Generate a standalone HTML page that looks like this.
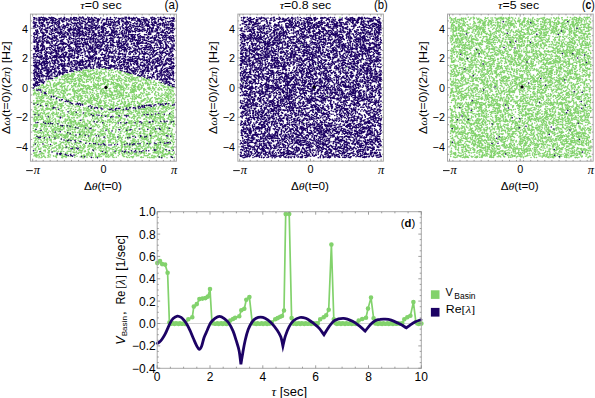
<!DOCTYPE html>
<html><head><meta charset="utf-8"><style>
html,body{margin:0;padding:0;background:#fff;}
svg{display:block;}
text{font-family:"Liberation Sans",sans-serif;fill:#000;}
.t10{font-size:10.8px}.t11{font-size:11px}.t12{font-size:12px}.t7{font-size:7.6px}.t8{font-size:8px}.t85{font-size:8.5px}.t125{font-size:12.5px}
.gi{font-family:"Liberation Serif",serif;font-style:italic}
</style></head><body>
<svg width="595" height="398" viewBox="0 0 595 398">
<rect width="595" height="398" fill="#fff"/>
<path fill="none" stroke="#82d26c" stroke-width="1.6" stroke-linecap="round" transform="scale(.25)" d="M371 277h0m13 0h0m15-2h0m0 0h0m8 1h0m5 2h0m5-1h0m2-3h0m4 4h0m3-2h0m17 1h0m-145 9h0m15-1h0m4 0h0m1 1h0m3-1h0m10 2h0m1-7h0m2 2h0m1 5h0m5-6h0m4 0h0m4-1h0m2 1h0m1 3h0m3-4h0m1 6h0m3 1h0m3-2h0m0-5h0m0 6h0m6-3h0m3-3h0m5 3h0m11 2h0m2 2h0m2-7h0m14 4h0m1 2h0m18-2h0m0 0h0m14-2h0m0 1h0m8-1h0m3-1h0m3-1h0m11 7h0m1 0h0m6-4h0m10 0h0m6 3h0m2 0h0m-199 7h0m5 2h0m2-2h0m4-5h0m8 1h0m13 2h0m0-3h0m7 2h0m2-1h0m0 4h0m7-3h0m0 3h0m5 1h0m1-3h0m1-2h0m10-1h0m9 7h0m7 0h0m4-1h0m4-4h0m3 4h0m5-5h0m1-1h0m3 6h0m7-5h0m1 6h0m3-6h0m4 3h0m8-1h0m2 1h0m4-1h0m7-3h0m9 2h0m11-1h0m8 1h0m21-1h0m0-1h0m3 4h0m1-1h0m3 4h0m0-6h0m1 0h0m1 6h0m1-7h0m14 3h0m4 3h0m2-3h0m7 2h0m2 1h0m5 1h0m-264 6h0m1-1h0m1 0h0m3 3h0m4-4h0m2 1h0m5-2h0m1 1h0m1-3h0m4 1h0m8 4h0m3-3h0m0-2h0m2 4h0m2 2h0m4-3h0m0-1h0m2 2h0m0-4h0m2 1h0m12 4h0m5-3h0m5 2h0m4 2h0m5-1h0m5-3h0m1 0h0m1 2h0m3-3h0m2 4h0m1 0h0m1 0h0m1-4h0m4 6h0m6-6h0m1 4h0m6-3h0m1 1h0m0-2h0m4 1h0m9 4h0m1-1h0m7-4h0m1 0h0m4 0h0m8 0h0m2 6h0m0-7h0m3 7h0m5-7h0m11 1h0m6 6h0m10-6h0m0-1h0m1 3h0m5-3h0m1 7h0m8-3h0m7 3h0m1-1h0m8-3h0m1 0h0m22 1h0m2 2h0m5-2h0m12-2h0m0 0h0m2-1h0m0 2h0m4 1h0m3 1h0m3-4h0m1 1h0m7 0h0m-303 11h0m5-1h0m0 0h0m1 0h0m16-1h0m2 4h0m0-5h0m2-1h0m6 3h0m2 2h0m2-5h0m1 0h0m7 5h0m1-6h0m1 3h0m2 0h0m0 2h0m4-5h0m3 0h0m0 2h0m0 0h0m5-1h0m3 3h0m1-4h0m1 5h0m2 2h0m2-5h0m17 4h0m5-5h0m8-1h0m0 2h0m0-2h0m2 5h0m0-5h0m11 0h0m2 1h0m6 2h0m1-3h0m3 0h0m2 7h0m1-2h0m0-3h0m0-1h0m3 1h0m4-2h0m3 7h0m2-6h0m6 6h0m1 0h0m0-2h0m9-4h0m0 3h0m8 3h0m0-1h0m4 1h0m3-5h0m2 5h0m13 0h0m4 0h0m3-3h0m2 0h0m4-1h0m12-3h0m11 6h0m4-1h0m4-4h0m4 4h0m0-5h0m8 1h0m9-1h0m2 3h0m0-1h0m1-1h0m3 3h0m18 2h0m3-3h0m1-1h0m5 3h0m11 1h0m5-5h0m0 0h0m4 4h0m0 0h0m3-5h0m4 7h0m3 0h0m8-1h0m4 0h0m4-3h0m3-3h0m2 3h0m8 2h0m11 2h0m-369 8h0m12-6h0m8 0h0m10 4h0m5 1h0m8 0h0m2 1h0m6-1h0m3-4h0m3 2h0m1-3h0m1 4h0m5 1h0m2-5h0m0 1h0m5 1h0m2 3h0m1 0h0m3-2h0m3 2h0m2-2h0m3 3h0m3-2h0m4-3h0m2 1h0m2-2h0m8 3h0m2 3h0m3-7h0m1 3h0m2 2h0m3-3h0m3 4h0m7-6h0m5 4h0m8 3h0m0-1h0m6 0h0m5-1h0m5 2h0m4-4h0m0-3h0m7 2h0m1 4h0m4-6h0m8 2h0m9 2h0m0-2h0m4-2h0m1 3h0m2 0h0m9 3h0m2-5h0m1 4h0m1 1h0m2-2h0m4 1h0m1 2h0m1-3h0m6 3h0m10-3h0m5 2h0m3-4h0m3 4h0m7-2h0m7 2h0m6 0h0m2-6h0m4 3h0m1 2h0m5-4h0m4 3h0m6 2h0m10-3h0m3 2h0m0 0h0m7-5h0m2 1h0m4 2h0m0-2h0m5 5h0m2-1h0m2 1h0m0-1h0m1-5h0m2 2h0m2 2h0m1 3h0m3-3h0m7 0h0m1-4h0m8 4h0m15 0h0m6 0h0m3-1h0m1 2h0m8-4h0m6 4h0m0-1h0m3 2h0m-405 9h0m2-1h0m3-2h0m4 3h0m13-5h0m13-1h0m14 3h0m19-4h0m3 5h0m8-4h0m0 3h0m2 3h0m6-1h0m8 0h0m1-6h0m4 6h0m8-1h0m2 1h0m2-1h0m1-4h0m2 1h0m8-2h0m3 3h0m3 4h0m1-5h0m2 4h0m6-3h0m2 1h0m0-4h0m7 7h0m10-6h0m0 3h0m2 2h0m5 0h0m7-5h0m5 6h0m8-4h0m10-3h0m6 2h0m2 2h0m1-2h0m0 1h0m2 3h0m1 0h0m6-4h0m12-1h0m0 2h0m0-1h0m2 4h0m0-2h0m8-1h0m1-3h0m6 1h0m2 4h0m0 0h0m1-5h0m1 1h0m2 5h0m9 1h0m8-5h0m14-2h0m1 3h0m3-2h0m1 5h0m7-4h0m0 0h0m2 1h0m6 0h0m11-1h0m3 2h0m0 2h0m3-3h0m2 2h0m1 0h0m7-5h0m1 2h0m2 3h0m3 2h0m5-4h0m3 0h0m11-2h0m5 0h0m9 1h0m1 2h0m0-3h0m3 3h0m6 2h0m1-4h0m9-2h0m8 2h0m2-2h0m2 7h0m0-7h0m1 2h0m10 1h0m3-3h0m4 4h0m13 0h0m1 3h0m1-3h0m-417 8h0m0 1h0m16 0h0m2-2h0m6 4h0m6 0h0m1-5h0m2 4h0m3-4h0m0 3h0m0-3h0m6 3h0m1-3h0m8 5h0m1-2h0m0 0h0m3 1h0m3-1h0m1-5h0m8 1h0m3 1h0m6 1h0m2 4h0m5-2h0m2-5h0m9 5h0m0 2h0m2-1h0m4 1h0m5-3h0m10 3h0m0-3h0m2 1h0m1 1h0m13-5h0m3 0h0m3 1h0m8-1h0m19 1h0m11 2h0m0-3h0m6 6h0m10 0h0m0-2h0m11 2h0m5 0h0m7-1h0m2-4h0m0 5h0m2-1h0m3-4h0m7-2h0m3 6h0m13 1h0m1-5h0m1 5h0m1-5h0m5 5h0m0-2h0m1-4h0m6 1h0m3 5h0m3-1h0m4 1h0m5 0h0m9-6h0m2 6h0m10-4h0m24-3h0m0 0h0m11 5h0m4 0h0m3-1h0m4-3h0m5 5h0m1-4h0m22 1h0m1 3h0m9-1h0m2 2h0m0-4h0m3 2h0m6 0h0m0-4h0m11 1h0m2 0h0m9 0h0m10 2h0m3 2h0m9-4h0m3-1h0m2 3h0m1 0h0m2 0h0m9 2h0m-485 7h0m3-4h0m2 6h0m0-3h0m15-3h0m1 4h0m2 0h0m5 2h0m7-3h0m0-3h0m12 3h0m0-3h0m4 6h0m0 0h0m3-3h0m0 1h0m5-3h0m1 4h0m3-5h0m5 1h0m10 5h0m2-6h0m2 0h0m11 6h0m13-1h0m14 0h0m7 1h0m2 0h0m2-5h0m2 2h0m4-2h0m0-2h0m8 7h0m3-1h0m0-4h0m3 5h0m6-6h0m2 5h0m1-1h0m4 2h0m0-2h0m2-2h0m5 3h0m2 1h0m11-2h0m3 1h0m2 1h0m17-4h0m2 4h0m0-5h0m5 3h0m6-2h0m2 3h0m1-2h0m0-2h0m4-2h0m1 4h0m1 2h0m3 0h0m4 1h0m2-3h0m0-3h0m4-1h0m3 1h0m7 0h0m8 4h0m3-1h0m1-3h0m1 0h0m3 0h0m8 1h0m1 0h0m1-1h0m9 2h0m2-1h0m1 1h0m10 2h0m4-2h0m2-1h0m0 4h0m2-4h0m0 0h0m3 5h0m0-2h0m0-2h0m0 0h0m2 0h0m4 4h0m4-7h0m10 0h0m5 1h0m1 5h0m1-1h0m0-5h0m3 4h0m3 0h0m1 0h0m3-3h0m0 3h0m2-1h0m13 1h0m3 2h0m6 1h0m1 0h0m0-2h0m2-3h0m0 2h0m15 0h0m0-2h0m2 0h0m3-2h0m2 3h0m0 1h0m5 3h0m5 0h0m0-6h0m17 0h0m1 5h0m1-6h0m0 2h0m3-2h0m3 4h0m6-4h0m9 2h0m6 1h0m0 2h0m3-3h0m3 3h0m9 0h0m10-1h0m2 1h0m2 1h0m5 1h0m6-7h0m12 5h0m-524 4h0m10 0h0m7 6h0m0-7h0m8 7h0m0-1h0m2 0h0m1-3h0m0 1h0m3 0h0m2 1h0m4-4h0m8 5h0m10-6h0m3 7h0m1-1h0m8-6h0m1 4h0m2-1h0m7-2h0m17-1h0m0 3h0m3-1h0m4-1h0m0 6h0m1-1h0m4-5h0m5 3h0m1-4h0m11 3h0m17 2h0m3-2h0m12-2h0m2 3h0m7-1h0m7-1h0m15 0h0m5-2h0m4 2h0m1-2h0m0 7h0m3-7h0m5 6h0m5-4h0m1 5h0m3-4h0m6 0h0m8-1h0m3-2h0m3 5h0m1-3h0m1 3h0m2-2h0m0 2h0m1-1h0m0 2h0m8 0h0m3-5h0m29 0h0m2-1h0m2 5h0m0 1h0m3-6h0m21 4h0m2 3h0m1-2h0m4-4h0m3 0h0m0 6h0m3-5h0m3 3h0m0-4h0m4-1h0m6 6h0m1-4h0m3 3h0m2-2h0m2-3h0m1 6h0m3 0h0m1-2h0m0-4h0m0 1h0m14 4h0m1-3h0m1 2h0m16 2h0m4-6h0m6 0h0m0 6h0m4-4h0m0 4h0m3-6h0m1 2h0m7 1h0m0 4h0m4 0h0m0-1h0m0-6h0m0 1h0m5 3h0m7 3h0m2-4h0m2 4h0m26-1h0m1 0h0m3-2h0m12-1h0m0 3h0m1 0h0m12 0h0m0-1h0m14 1h0m11-6h0m5 7h0m2-3h0m1 0h0m2-2h0m2 3h0m7-1h0m3 1h0m2 2h0m3-4h0m6-3h0m1 5h0m2 2h0m1-3h0m3 1h0m3 2h0m3-4h0m-557 11h0m9-4h0m7-2h0m1 3h0m6-2h0m14-1h0m6 7h0m0 0h0m5-5h0m2-1h0m9 5h0m0-1h0m8 1h0m2 0h0m0-1h0m9 2h0m6-5h0m4-2h0m1 4h0m2 1h0m3 1h0m6 1h0m1-1h0m9-2h0m11-3h0m2 3h0m2 2h0m5-5h0m0 6h0m10-1h0m4-2h0m9 1h0m4-4h0m1 6h0m17-3h0m9 2h0m1-4h0m4 1h0m0 2h0m3 1h0m2-3h0m4-3h0m8 1h0m1 5h0m1 0h0m1-3h0m1 3h0m0-3h0m2-1h0m4-1h0m4 5h0m1-6h0m2 3h0m4 4h0m4-1h0m1 0h0m0 0h0m1-3h0m5-2h0m5-1h0m6 4h0m1 0h0m5 0h0m5-1h0m4-3h0m7 5h0m0-1h0m4-2h0m8-2h0m3 2h0m13 0h0m0 1h0m6-2h0m17 1h0m6 0h0m3 5h0m14-6h0m1 3h0m4 3h0m4-1h0m2 1h0m0-2h0m1-3h0m2-2h0m6 3h0m1 1h0m8 1h0m3-5h0m7 7h0m5-6h0m1 4h0m3-1h0m5 2h0m2 0h0m3-5h0m11 4h0m1-1h0m4 2h0m1 0h0m3-1h0m4-2h0m10 0h0m0 3h0m3-4h0m2 5h0m3 0h0m7-7h0m4 4h0m3-4h0m1 6h0m3-3h0m0-2h0m2 2h0m8 0h0m4-2h0m3 4h0m1-1h0m13 3h0m1-4h0m2 2h0m8-2h0m2 3h0m0-1h0m1-2h0m13 3h0m0 1h0m9-1h0m5-2h0m3 0h0m7 3h0m9-6h0m-558 8h0m1 1h0m2-1h0m8 2h0m7 3h0m17-5h0m3 5h0m11-6h0m2 6h0m10 0h0m1-1h0m1-5h0m6 4h0m3-2h0m0 4h0m0-4h0m4 1h0m1-3h0m4 4h0m6 3h0m4-3h0m2-4h0m5 6h0m14-3h0m5-1h0m1-1h0m3 6h0m0-2h0m2 1h0m0-2h0m1-3h0m8 2h0m2-1h0m2 0h0m1 0h0m8-2h0m12 4h0m0-4h0m1 3h0m4 3h0m2-3h0m2 2h0m2 0h0m1-2h0m5-2h0m3 0h0m1 5h0m2 0h0m1 0h0m2-2h0m2-4h0m3 1h0m2-1h0m7 6h0m0-3h0m1 0h0m4 3h0m0 1h0m3-2h0m1 1h0m8-2h0m12 3h0m11-5h0m2 1h0m11-1h0m4 5h0m14-3h0m0 1h0m2-5h0m1 0h0m1 6h0m1-5h0m7 0h0m2 3h0m8-4h0m1 3h0m3 0h0m8-2h0m3 4h0m0-2h0m1-2h0m2 3h0m15-2h0m0 5h0m1-6h0m1 4h0m2-1h0m5 1h0m0-4h0m2 1h0m0-2h0m7 7h0m1-6h0m2 6h0m5-7h0m12 5h0m3-4h0m25 3h0m4 0h0m1 1h0m1-5h0m0 4h0m4-4h0m0 5h0m3 2h0m2-6h0m1 3h0m3-4h0m1 2h0m1-2h0m0 4h0m1 1h0m12-3h0m18 1h0m2-2h0m10 5h0m18-4h0m5 5h0m6-6h0m7 5h0m14-6h0m11 1h0m19 0h0m1 0h0m10 1h0m1-2h0m4 6h0m5-5h0m2 1h0m2 4h0m0-5h0m1 6h0m-558 7h0m2-3h0m2-3h0m1 7h0m2-4h0m7 4h0m7-4h0m0 0h0m13 1h0m9-4h0m16 7h0m1-7h0m1 3h0m2 0h0m0-1h0m0-1h0m2 3h0m2 2h0m1-2h0m5 0h0m5-1h0m1 3h0m1-2h0m1 0h0m13 1h0m4-5h0m2 7h0m6-7h0m3 1h0m4 3h0m1 2h0m3 1h0m4-2h0m5-5h0m1 4h0m12 3h0m6 0h0m16-3h0m2 0h0m4-4h0m4 5h0m1-3h0m2 4h0m11 1h0m8-7h0m4 6h0m0 0h0m5-2h0m0 1h0m0-1h0m6 1h0m4-5h0m2 3h0m1-2h0m1 3h0m11-1h0m8-1h0m7 3h0m13 2h0m1 0h0m3 0h0m8-4h0m0 3h0m7-5h0m1 5h0m2-5h0m3 2h0m2-3h0m1 5h0m4-1h0m2-3h0m4 5h0m1 1h0m11-7h0m6 3h0m0-3h0m4 2h0m0 1h0m14-3h0m6 0h0m1 7h0m1-1h0m2 1h0m5-3h0m4 3h0m1-6h0m2 6h0m7 0h0m0-5h0m9 1h0m4 2h0m1-2h0m1-1h0m12 1h0m3-1h0m1-1h0m2 2h0m5-2h0m5 3h0m28 0h0m0-2h0m5 3h0m3 2h0m4-7h0m1 3h0m17 1h0m2-2h0m12 0h0m11 5h0m3-4h0m1-1h0m9 0h0m3 5h0m13-2h0m12 0h0m2-5h0m1 2h0m1 1h0m5 2h0m1 1h0m5-6h0m4 7h0m3-4h0m0 3h0m2 1h0m0-6h0m13 6h0m-563 3h0m1 2h0m10-4h0m1 7h0m7-6h0m4-1h0m10 2h0m2-2h0m3 7h0m6-1h0m0-4h0m2 5h0m4-3h0m0-2h0m1-1h0m0 6h0m2 0h0m2 0h0m11-1h0m13 1h0m0-5h0m11 4h0m14-6h0m3 4h0m14-1h0m2 2h0m12-3h0m0 3h0m5-5h0m5 0h0m1 2h0m3 0h0m15 0h0m0-1h0m1-1h0m0 6h0m8 0h0m9-5h0m6 4h0m7 2h0m14-2h0m1 0h0m13-5h0m5 7h0m5-6h0m1 2h0m4 0h0m1 3h0m12-4h0m0-1h0m8 5h0m11-5h0m8 3h0m8 2h0m2 0h0m2-6h0m0 6h0m6-1h0m6-5h0m3 2h0m2 2h0m3-2h0m1 4h0m3-5h0m1 0h0m2 4h0m3 0h0m2 2h0m4-4h0m2-1h0m7-1h0m7 3h0m5 1h0m5-1h0m0-3h0m4 4h0m2 1h0m2-2h0m1 2h0m9 0h0m3 1h0m7-7h0m1 5h0m1-2h0m13 1h0m7 0h0m1-2h0m7 4h0m1-1h0m1-2h0m10 1h0m1 3h0m2-4h0m3-2h0m9-1h0m13 0h0m1 5h0m2-1h0m1-4h0m0 2h0m2 2h0m3-2h0m6-1h0m1 0h0m19 2h0m5 2h0m9-2h0m3 3h0m9-2h0m4 1h0m0 0h0m4-2h0m6 3h0m1-3h0m6 1h0m5 3h0m0-2h0m3-5h0m1 4h0m13-3h0m5 4h0m2-2h0m-544 9h0m4-4h0m2 4h0m6-1h0m1 3h0m4-6h0m1 3h0m6 2h0m20-2h0m9 3h0m3-2h0m11-3h0m1-1h0m3 0h0m6 6h0m1-1h0m2-1h0m2-1h0m1-1h0m1 4h0m4-1h0m4 2h0m0-1h0m7-1h0m2-5h0m2 5h0m0-5h0m1 0h0m4 0h0m3 6h0m26-2h0m5 2h0m1-4h0m3 0h0m3 2h0m8 1h0m2-2h0m0-1h0m1 0h0m2 2h0m1 3h0m1-7h0m3 0h0m0 0h0m4 3h0m3 0h0m1-3h0m2 7h0m9-7h0m5 4h0m1 2h0m7 0h0m0-6h0m12 5h0m4 1h0m5-4h0m5 4h0m2-2h0m8-4h0m3 0h0m1 3h0m2 3h0m1-2h0m3 1h0m10-1h0m2-3h0m12 0h0m1 6h0m1-5h0m8 1h0m4 1h0m0-2h0m1 1h0m1-1h0m1-1h0m6-1h0m1 5h0m1-2h0m1 2h0m8 1h0m11-5h0m2 3h0m3-4h0m5 7h0m3-5h0m1 2h0m1 1h0m5-5h0m6 7h0m0 0h0m0 0h0m0-3h0m10 3h0m2-2h0m5-2h0m3-1h0m2 0h0m5-1h0m11 1h0m2 3h0m5-5h0m1 1h0m2 1h0m0 2h0m0 0h0m9-2h0m2 2h0m1 0h0m2 1h0m0-4h0m3 6h0m4-1h0m6-6h0m9 0h0m15 6h0m0-2h0m19 2h0m10 1h0m7-7h0m16 2h0m0 0h0m1-1h0m2 2h0m6 4h0m13-3h0m0 1h0m3-5h0m1 5h0m2 2h0m1-5h0m2 2h0m8 0h0m0-3h0m2-1h0m3 5h0m6-5h0m-547 9h0m0-1h0m3 3h0m3 0h0m8-1h0m3 3h0m4 2h0m0-7h0m5 2h0m3-2h0m13 1h0m5-1h0m5 4h0m4 2h0m3-4h0m1 2h0m7 3h0m2-1h0m10 1h0m32-6h0m5 5h0m1-1h0m4-1h0m8 2h0m7-4h0m2-1h0m10 1h0m2 0h0m4 4h0m12-1h0m0-2h0m11 0h0m1 4h0m1-2h0m2-4h0m4 0h0m22 0h0m1 6h0m6-3h0m1 3h0m1-1h0m0-4h0m5-1h0m0 2h0m8 1h0m0 0h0m0-4h0m1 3h0m0 3h0m4-4h0m0 1h0m5-1h0m6 2h0m0 1h0m0-3h0m2-1h0m9 6h0m1-3h0m15-1h0m5-3h0m3 0h0m12 7h0m12-5h0m3 4h0m3-2h0m0 1h0m5-1h0m7-2h0m1 0h0m22 0h0m5 1h0m1 1h0m2 3h0m13-1h0m11-5h0m6 3h0m1-2h0m2 3h0m1-4h0m6 5h0m2-4h0m3-2h0m1 3h0m1-3h0m0 1h0m0 1h0m17-1h0m3-1h0m9 6h0m5-4h0m4 1h0m10 1h0m0-4h0m7 7h0m1-3h0m4-3h0m17-1h0m1 7h0m1-6h0m3 2h0m2 0h0m1 3h0m1-2h0m2-2h0m3-2h0m1 2h0m3 0h0m5 4h0m1-2h0m12-2h0m2 1h0m3 3h0m10-3h0m2-1h0m8 2h0m9 0h0m3-2h0m1 0h0m-561 9h0m12 1h0m1-2h0m3 1h0m5 0h0m5 1h0m1-3h0m2 3h0m1-3h0m1 2h0m3 0h0m2 2h0m4-3h0m3 3h0m1 1h0m9 0h0m3-2h0m12-3h0m1 0h0m21 6h0m1-7h0m0 7h0m14-4h0m3 1h0m26-1h0m3-1h0m0-2h0m7 5h0m0-2h0m5 2h0m0-3h0m1-2h0m5 3h0m11 3h0m7 0h0m6-4h0m3-1h0m2-1h0m4 3h0m1 2h0m7-1h0m3 1h0m5-5h0m7 3h0m1 2h0m3-1h0m1 2h0m5-2h0m1 0h0m7-1h0m0 4h0m6-4h0m9-2h0m2 0h0m5 1h0m2 4h0m2 0h0m10-2h0m0-2h0m0 2h0m1-2h0m5 2h0m7-1h0m0 0h0m4 2h0m7-3h0m13 0h0m1 1h0m6-3h0m1 6h0m2 0h0m24 0h0m4-1h0m2-5h0m1 3h0m8-3h0m1 6h0m11 1h0m4 0h0m10-7h0m1 7h0m1-2h0m12 2h0m2-1h0m2-2h0m3 3h0m4-1h0m2 0h0m11 0h0m14-2h0m3 3h0m0-1h0m1-5h0m2 4h0m4-2h0m5-3h0m9 1h0m1 6h0m6 0h0m4-6h0m0 3h0m0 3h0m1-3h0m2-4h0m6 7h0m1-2h0m18 1h0m3 0h0m10-1h0m3-3h0m5 4h0m1-5h0m1 4h0m3-1h0m8 2h0m10-3h0m3-3h0m4 3h0m6 0h0m2 0h0m6 4h0m1-7h0m3 3h0m-562 10h0m3-1h0m2 1h0m1-1h0m3 1h0m2-3h0m0 3h0m0 0h0m5-5h0m3 7h0m2-7h0m7 5h0m5-3h0m5-2h0m11 6h0m0-1h0m6 0h0m6-5h0m1 4h0m3 1h0m3 1h0m2-3h0m1 1h0m0-2h0m1 2h0m3-4h0m0 5h0m9-4h0m2 4h0m0-5h0m3 3h0m0 2h0m6-5h0m8 7h0m6 0h0m4-1h0m6-2h0m1-3h0m18-1h0m5 6h0m11 0h0m21-6h0m12 7h0m6-7h0m1 6h0m1-6h0m7 7h0m1-1h0m1-1h0m3-2h0m1-2h0m1 5h0m0-2h0m2 3h0m8-5h0m3 0h0m3-1h0m2 6h0m4-7h0m2 5h0m1-3h0m17 3h0m6 1h0m2 1h0m2-3h0m2-4h0m1 0h0m0 1h0m2 4h0m3-3h0m0 3h0m2-4h0m12 4h0m2-1h0m1 2h0m0-4h0m1 3h0m2-3h0m1-1h0m10 3h0m21-3h0m0-1h0m1 3h0m11 2h0m1 1h0m15 0h0m3 1h0m2-6h0m1 3h0m2-2h0m9 1h0m1 4h0m0-3h0m1-3h0m11 6h0m3-1h0m2-2h0m7-1h0m12 2h0m13-2h0m0 2h0m5-2h0m3 3h0m5-2h0m18 1h0m5-3h0m5-1h0m15 1h0m5 4h0m11-5h0m1 0h0m8-1h0m0 6h0m2-3h0m6 0h0m1 1h0m0 0h0m3 0h0m1 0h0m1-3h0m0-1h0m12 6h0m0-1h0m10-5h0m1 5h0m8 2h0m13-3h0m0-1h0m6 0h0m-558 7h0m8 4h0m1-1h0m16-5h0m0 2h0m6 3h0m14-1h0m7-1h0m0-3h0m1 4h0m2-1h0m0 0h0m0 2h0m11-1h0m5 1h0m1 1h0m3-1h0m3-3h0m6 1h0m7-3h0m4 6h0m7-2h0m4-2h0m4 3h0m2-1h0m5 3h0m8-7h0m6 6h0m10-6h0m4 3h0m8-1h0m4 4h0m11-2h0m1 0h0m6 3h0m1-2h0m27-4h0m28 1h0m1 1h0m2 0h0m1 0h0m8-2h0m1 6h0m9-4h0m3-1h0m4 3h0m5 2h0m0-1h0m3 1h0m5 0h0m9-1h0m1-2h0m0-2h0m4 4h0m0-3h0m5 2h0m12-5h0m3 6h0m2-5h0m4 5h0m3-6h0m0 6h0m2-5h0m0 1h0m6 5h0m2 0h0m6 0h0m0-1h0m1-3h0m4-1h0m8-1h0m13-1h0m3 4h0m1 3h0m7 0h0m0-1h0m4-2h0m5-1h0m3 0h0m2 0h0m0-1h0m6 0h0m9 2h0m1 1h0m5-1h0m1 3h0m10 0h0m1-1h0m3-2h0m1-4h0m3 0h0m0 1h0m7 4h0m0-2h0m7 1h0m11 3h0m1-4h0m14-1h0m10-1h0m32 5h0m2-5h0m0 0h0m3 2h0m3 4h0m21-6h0m3 5h0m8 0h0m2 1h0m7-5h0m-554 10h0m3 3h0m2-3h0m12 0h0m5-4h0m5 0h0m5 1h0m4 2h0m17 4h0m2-7h0m11 2h0m5 4h0m1-2h0m1 1h0m1-4h0m0 0h0m0 1h0m4-1h0m13 5h0m4 0h0m0-1h0m10-4h0m3-1h0m0 4h0m2 0h0m1-4h0m11 7h0m14-6h0m1 0h0m5 0h0m9 2h0m12 1h0m1 1h0m7-2h0m7-1h0m3 1h0m1 2h0m1 1h0m14 0h0m14-2h0m5 2h0m11-3h0m2 3h0m17-6h0m11 0h0m1 6h0m1-3h0m1 1h0m4 0h0m1-4h0m13 4h0m2-3h0m5 4h0m2-1h0m5-4h0m4 0h0m6 5h0m1-2h0m3 4h0m7-1h0m3-2h0m3 0h0m21 0h0m5-1h0m0 4h0m8-3h0m2 2h0m5-6h0m0 2h0m3-1h0m3 1h0m2-1h0m0 1h0m2-2h0m2 7h0m1-2h0m3-5h0m5 1h0m0 2h0m6 0h0m16 0h0m10 0h0m10-2h0m1 1h0m21 4h0m10-6h0m0 7h0m4 0h0m4-1h0m11 0h0m2 0h0m2-4h0m11-1h0m8 6h0m3-4h0m12 0h0m4 2h0m2 2h0m0-6h0m1 0h0m2 4h0m0-5h0m0 7h0m2-5h0m1 2h0m1 1h0m4-1h0m4-3h0m0 0h0m3 4h0m5 2h0m4-7h0m2 3h0m9 1h0m4 1h0m-558 8h0m2-5h0m2 7h0m4-6h0m17 2h0m5 3h0m2-5h0m12 2h0m2-1h0m1 2h0m0 2h0m0-6h0m2 5h0m1-5h0m1 6h0m1-6h0m3 3h0m2 2h0m1-3h0m1 1h0m1 1h0m4 1h0m4-1h0m4 2h0m4-3h0m8 1h0m1 2h0m16-3h0m5-2h0m20 6h0m7-4h0m4-3h0m6 4h0m4-2h0m8 3h0m9 1h0m13 1h0m1-4h0m2 4h0m5 0h0m12-4h0m4-2h0m1-1h0m6 3h0m4-1h0m3 2h0m2 3h0m0-1h0m3 1h0m5-6h0m5 2h0m6-2h0m30 0h0m12-1h0m12 2h0m3 4h0m4 1h0m7-6h0m7 2h0m3-2h0m8 3h0m24 3h0m5 0h0m4-3h0m0-2h0m19 5h0m4-5h0m26 0h0m10 1h0m3 2h0m4-1h0m5 3h0m2-3h0m1 1h0m2-1h0m4 2h0m1-3h0m3 4h0m5-5h0m1 5h0m3-5h0m2 1h0m5 4h0m6-7h0m3 2h0m2 3h0m6-2h0m2 1h0m1-2h0m2-1h0m3 5h0m1-4h0m1 2h0m1-4h0m10 4h0m0-1h0m13 0h0m5 1h0m2 0h0m11 3h0m1-3h0m0 1h0m1-2h0m3-1h0m1 0h0m6 3h0m5-3h0m7 2h0m1-2h0m5-2h0m2 0h0m0 1h0m-561 14h0m0-2h0m13-4h0m5 2h0m0 1h0m2 0h0m0 0h0m4-3h0m9 0h0m7-1h0m1 7h0m5-5h0m23 0h0m23-2h0m11 1h0m6 3h0m5-3h0m1 5h0m3-4h0m26 2h0m5-2h0m3 5h0m8 0h0m5-2h0m4 2h0m8-5h0m5-2h0m7 3h0m1 2h0m10-5h0m6 0h0m6 1h0m1 0h0m3 4h0m0 2h0m2-5h0m4 5h0m5-4h0m3-1h0m10-2h0m1 0h0m2 3h0m0 2h0m1 1h0m4 0h0m10-6h0m2 4h0m12-1h0m12 2h0m7 1h0m3-1h0m10-4h0m2-1h0m8 3h0m1 1h0m3 3h0m3 0h0m0-1h0m5 0h0m2-5h0m2 3h0m2 0h0m5-3h0m3 3h0m8-1h0m8-2h0m4 4h0m6-4h0m9 2h0m4 2h0m1 1h0m1-5h0m5-1h0m1 7h0m3-1h0m10-5h0m1 2h0m7 2h0m0-5h0m4 1h0m1 4h0m9-2h0m11 4h0m7 0h0m6-1h0m2-6h0m3 0h0m2 6h0m9-1h0m3-5h0m3 3h0m2-2h0m1 5h0m4 0h0m3-5h0m4 6h0m6-2h0m6 2h0m9 0h0m3-4h0m2 1h0m6 2h0m8-2h0m5 2h0m5-5h0m2 3h0m19 2h0m6-4h0m-553 7h0m4 6h0m0-3h0m4-2h0m1-2h0m3 5h0m0 2h0m9-1h0m0 1h0m0-3h0m6-1h0m5 4h0m0-1h0m5-5h0m1 2h0m0 4h0m9 0h0m2-1h0m1-1h0m3 2h0m2-1h0m1-4h0m11 4h0m1 1h0m0-1h0m2-1h0m2-5h0m3 6h0m1-3h0m0 0h0m9 3h0m1-6h0m1 2h0m5 5h0m2-4h0m9 3h0m0 0h0m7-2h0m6-1h0m19-3h0m1 6h0m8-3h0m2 4h0m3-2h0m2-2h0m1 4h0m4-2h0m8-1h0m2 3h0m6 0h0m6-7h0m6 3h0m16-1h0m1 1h0m3-1h0m0 4h0m9-1h0m2 2h0m2-1h0m2 0h0m6-1h0m6-1h0m1 2h0m0 0h0m3 0h0m9-5h0m2 6h0m1-6h0m1-1h0m0 1h0m6 3h0m2-4h0m3 4h0m0-3h0m8 6h0m4-4h0m2-1h0m8-2h0m2 2h0m1-2h0m11 2h0m7-1h0m6 0h0m15 4h0m2-2h0m2 0h0m1 4h0m3-5h0m6 2h0m3-3h0m4 5h0m7-6h0m1 6h0m0-4h0m0 0h0m18 5h0m7-3h0m2 1h0m2 2h0m6-4h0m5-1h0m10-2h0m6 6h0m4-6h0m2 4h0m4-1h0m0-3h0m2 7h0m10-5h0m7-1h0m0 3h0m3-4h0m3 7h0m2 0h0m3-5h0m0-1h0m3 1h0m3 2h0m8 0h0m10-3h0m12-1h0m13 7h0m6 0h0m1-2h0m1-2h0m7 0h0m1-2h0m6 2h0m20 2h0m4-3h0m9-1h0m1 6h0m-559 3h0m4 2h0m0-4h0m11 2h0m4 5h0m7-4h0m8 3h0m15-4h0m9 4h0m9-2h0m8-1h0m2 1h0m2 3h0m7-5h0m5-2h0m1 1h0m3 3h0m13-2h0m2 2h0m12-4h0m1 6h0m1-3h0m2 1h0m9-2h0m14 0h0m6 1h0m3 3h0m1-5h0m7 3h0m1 2h0m5-4h0m4 4h0m9-3h0m3 3h0m1-4h0m0 5h0m9-7h0m7 3h0m1-3h0m2 0h0m2 6h0m9-5h0m2 2h0m3 4h0m5-3h0m3-2h0m6 2h0m6 1h0m1-5h0m0 3h0m15 3h0m15-4h0m7 3h0m4-1h0m8 1h0m1 1h0m1-2h0m3-2h0m0 5h0m5-7h0m13 5h0m15-3h0m3-1h0m3 1h0m4 3h0m1-1h0m10 1h0m10-1h0m8-2h0m7-2h0m2 4h0m12-4h0m8 3h0m4 1h0m11-3h0m0 4h0m2-5h0m5 6h0m10 0h0m4-4h0m3-2h0m0 1h0m1 1h0m8 5h0m6-5h0m5-1h0m2 1h0m5 3h0m3 2h0m1-1h0m0-6h0m3 7h0m5-2h0m0-1h0m2-4h0m1 0h0m8 6h0m1-2h0m4-3h0m2 1h0m0-2h0m4 5h0m2-2h0m6 2h0m8-3h0m6 5h0m1-2h0m10 0h0m7-2h0m4 3h0m0-3h0m7-1h0m2-1h0m3 6h0m4 0h0m-556 6h0m0 2h0m3-5h0m3 1h0m2 3h0m3-2h0m5 0h0m6-4h0m1 5h0m2-2h0m2 4h0m4-6h0m2 5h0m0-2h0m11-4h0m2 2h0m10 2h0m3 0h0m1 2h0m4-2h0m10 1h0m16-3h0m3 1h0m2 0h0m3-2h0m1 5h0m1-3h0m2-2h0m9-1h0m1 7h0m2-6h0m6 0h0m12 1h0m0-1h0m1-1h0m5 1h0m1 5h0m9 1h0m10-2h0m1 2h0m11-1h0m3 1h0m4-7h0m3 3h0m16 3h0m0 1h0m2-7h0m6 0h0m1 3h0m5-2h0m22 4h0m1-4h0m3 0h0m5 1h0m9 3h0m2-2h0m13 2h0m3-3h0m0 1h0m1 2h0m5 0h0m8-5h0m9 4h0m2-4h0m0 2h0m5-1h0m7 6h0m0 0h0m6-2h0m12 0h0m3-1h0m1-1h0m2 4h0m1-5h0m4 5h0m2-2h0m1 2h0m8-4h0m4 2h0m29-3h0m3 3h0m11 0h0m3-3h0m2-1h0m5 1h0m3 0h0m11 4h0m2-5h0m3 6h0m7-7h0m5 0h0m13 6h0m0-5h0m3 1h0m2 5h0m5 0h0m5-5h0m1 5h0m0-1h0m3-3h0m0 2h0m8-3h0m7 0h0m2 4h0m1-4h0m2 3h0m8 1h0m8-4h0m1 3h0m2 0h0m0-5h0m0 2h0m4 4h0m2-3h0m0 2h0m1-1h0m4 2h0m2-6h0m19 6h0m2-6h0m0 2h0m3 0h0m4-1h0m0 5h0m1-2h0m5 3h0m4-5h0m-559 10h0m3 1h0m7 1h0m3-4h0m1 4h0m1-4h0m8 3h0m4 2h0m5-2h0m1-2h0m3-3h0m2 4h0m1 2h0m14-5h0m1 1h0m1 5h0m7-3h0m3-3h0m1 6h0m8-4h0m7 4h0m5-5h0m2 3h0m39-1h0m3 1h0m7 0h0m3-5h0m4 5h0m5 1h0m8-6h0m5 7h0m12-7h0m20 7h0m3-2h0m1 2h0m39-5h0m9 3h0m0-5h0m5 3h0m2-3h0m3 0h0m2 3h0m1 4h0m0 0h0m2 0h0m5-7h0m5 4h0m1 0h0m26 3h0m7-1h0m4-4h0m0 0h0m6 2h0m4 1h0m11-5h0m15 6h0m2-1h0m1-5h0m3 2h0m7 1h0m5 1h0m1 2h0m2-2h0m0 1h0m11 0h0m15-5h0m1 0h0m8 2h0m1 2h0m2-4h0m9 5h0m2-1h0m1-4h0m12 0h0m13 5h0m1 1h0m3-3h0m6 4h0m13-3h0m8-2h0m1-2h0m5 7h0m3-2h0m1-4h0m1 6h0m4-6h0m7-1h0m0 7h0m7-7h0m1 3h0m6 2h0m0-5h0m0 2h0m9 2h0m4 3h0m2-4h0m1 3h0m11-4h0m4 1h0m3 2h0m11-2h0m2 4h0m6-7h0m-559 12h0m2-3h0m3 6h0m2-7h0m1 1h0m9 0h0m22 4h0m3-1h0m5-1h0m3 3h0m4 1h0m2-5h0m2 4h0m5-4h0m3 5h0m6-2h0m2-1h0m11 3h0m2-6h0m0 4h0m9 0h0m0-1h0m3 2h0m1 0h0m0-6h0m0 6h0m2-2h0m17 2h0m5-6h0m1 5h0m2 0h0m1 0h0m1-5h0m5 1h0m8 1h0m4 1h0m1-1h0m1 3h0m0-4h0m5 4h0m3 2h0m3-1h0m4-3h0m2 3h0m0-3h0m1 0h0m15-1h0m1 0h0m16 5h0m2-7h0m1 6h0m13-5h0m2 2h0m0 4h0m7-1h0m3 1h0m4-7h0m7 7h0m1-3h0m1-3h0m1 4h0m15 2h0m1-7h0m1 6h0m4-4h0m8 5h0m1-3h0m1-1h0m1 1h0m1-4h0m0 2h0m4 1h0m1 1h0m0-1h0m7 1h0m3 3h0m6-3h0m3-3h0m3 1h0m1 3h0m2 2h0m4-3h0m1 3h0m1 0h0m0-1h0m6-6h0m10 1h0m9 6h0m2-3h0m3-3h0m0 2h0m0 2h0m1-3h0m1 2h0m5-3h0m17 2h0m11-3h0m6 3h0m1 2h0m6 2h0m1-4h0m4 0h0m11-1h0m6 3h0m5 1h0m1-4h0m4 3h0m22 2h0m5 0h0m4-1h0m0-5h0m2 5h0m3-1h0m11 2h0m14-5h0m3-2h0m1 0h0m1 4h0m5 2h0m2-1h0m13-4h0m0 1h0m17-1h0m8 5h0m15-6h0m2 0h0m2 5h0m4 1h0m4-2h0m1-1h0m2 4h0m1-2h0m-543 5h0m11 5h0m8-7h0m4 7h0m2 0h0m2-5h0m7 2h0m1 3h0m3-6h0m3 1h0m2-2h0m1 0h0m3 0h0m2 7h0m1 0h0m4 0h0m1 0h0m5-3h0m10 0h0m4 2h0m8-5h0m2 2h0m8-3h0m5 4h0m10 1h0m0-4h0m11 4h0m1-3h0m1 5h0m1-3h0m5-4h0m2 1h0m2 4h0m1 0h0m3-5h0m6 1h0m6-1h0m4 2h0m0 3h0m8 1h0m1-5h0m1 3h0m3 1h0m2-2h0m2-1h0m9-1h0m9 0h0m1 5h0m7 0h0m9 0h0m2-4h0m2 2h0m0 1h0m0-5h0m20 6h0m7-5h0m14 1h0m10 2h0m2-1h0m2 0h0m1 1h0m2 3h0m13-5h0m8-1h0m10 3h0m1-1h0m4-3h0m6 2h0m2 0h0m2 0h0m1 4h0m23-5h0m7-1h0m2 2h0m6 4h0m1 0h0m2-1h0m7-1h0m2-3h0m3 5h0m1-5h0m1 4h0m6-5h0m0 6h0m6-3h0m1-2h0m0 1h0m1-2h0m8 0h0m1 7h0m0-5h0m5 4h0m2 1h0m2-6h0m12 6h0m1-1h0m6-3h0m3 3h0m6-1h0m12 0h0m0-4h0m8 3h0m12-2h0m10 3h0m0 0h0m2-5h0m1 0h0m7 4h0m1 0h0m3-3h0m1 5h0m7-1h0m2-5h0m4 6h0m6 1h0m1-5h0m0 3h0m4 2h0m2-3h0m1 2h0m1 1h0m15-7h0m1 4h0m1-3h0m4 2h0m9-3h0m0 7h0m2-1h0m-561 7h0m0-2h0m2 0h0m2 2h0m4-4h0m6 0h0m0 5h0m12-5h0m2 0h0m2 3h0m2 0h0m0 2h0m2-6h0m6 2h0m0 4h0m5 1h0m5-7h0m5 0h0m8 3h0m12 1h0m8-1h0m2 1h0m10-2h0m1 5h0m10-2h0m0 1h0m14 0h0m11-2h0m6 3h0m6 0h0m2-7h0m5 6h0m1 0h0m1-6h0m6 1h0m1 5h0m5-6h0m7 3h0m0-1h0m1 3h0m3-3h0m1 0h0m6-2h0m1 3h0m2 4h0m4-6h0m0 6h0m3 0h0m2-6h0m3 5h0m7-3h0m0 3h0m1 0h0m3 0h0m1-3h0m4 3h0m1-3h0m13 3h0m0-4h0m2 0h0m7 4h0m10-4h0m2 3h0m1-3h0m4 3h0m6-1h0m18-1h0m1-1h0m1 3h0m3 1h0m9-4h0m0 1h0m11 3h0m1-4h0m23 1h0m11 1h0m11-4h0m7 4h0m3 3h0m1-3h0m2-3h0m1 3h0m7-1h0m19 1h0m4 2h0m2-1h0m5 1h0m1 1h0m2-1h0m7 0h0m2-2h0m11 0h0m7-1h0m7 3h0m0-5h0m3 3h0m5 2h0m3-6h0m4 1h0m6-1h0m8 1h0m0 1h0m3-1h0m2 3h0m5-4h0m1 1h0m13 6h0m3 0h0m2-1h0m4-1h0m7 1h0m8 0h0m3-3h0m3-1h0m8 3h0m11-3h0m1-1h0m5-1h0m1 0h0m11 2h0m4 0h0m-562 6h0m2 0h0m1 1h0m1 1h0m3-1h0m4-1h0m1 5h0m1 1h0m0-6h0m3 1h0m14 3h0m1-1h0m1-2h0m3 1h0m8 3h0m1 0h0m1-5h0m6 3h0m2-3h0m8 2h0m4-1h0m5 4h0m1 1h0m4-6h0m4 2h0m8 2h0m5 3h0m4-6h0m4 1h0m1 0h0m7 1h0m1 3h0m0-2h0m2-2h0m5 0h0m3 5h0m4-7h0m0 4h0m10-3h0m2 5h0m0-2h0m13 2h0m1 1h0m0-1h0m0-3h0m5-1h0m3 2h0m0 3h0m7 0h0m5-4h0m11 0h0m5-2h0m5 3h0m1 0h0m7-1h0m2-1h0m3 5h0m0-7h0m1 4h0m1-1h0m2 2h0m1 2h0m6-7h0m2 1h0m6 4h0m10 2h0m4-5h0m4 1h0m1 0h0m4-2h0m11 2h0m5 4h0m4-5h0m14 1h0m2 3h0m7-6h0m2 2h0m5 0h0m23 1h0m2 1h0m5-4h0m6 4h0m2 0h0m6 3h0m7-2h0m1 1h0m1-4h0m8-1h0m7 6h0m14-3h0m2-2h0m1 2h0m8 3h0m1-6h0m2 4h0m23-1h0m1-2h0m8-1h0m13 6h0m2-4h0m3 1h0m9-4h0m3 2h0m2 0h0m4-1h0m1 6h0m5 0h0m2-2h0m1 2h0m3-6h0m6 6h0m1-3h0m5-1h0m0 0h0m22-1h0m4 1h0m4 3h0m3-1h0m7-3h0m1-2h0m3 4h0m6 3h0m3-4h0m4 4h0m2-1h0m17-6h0m2 1h0m1 1h0m-563 7h0m9 5h0m1-2h0m18-2h0m2 2h0m0 0h0m12 0h0m5 0h0m5 0h0m4 2h0m0-3h0m15-2h0m4 6h0m1-2h0m1 2h0m4-3h0m1 1h0m3-5h0m4 0h0m3 7h0m5-6h0m3 2h0m2 2h0m2-2h0m0-1h0m5 1h0m2 3h0m1 0h0m6 0h0m0 0h0m4-4h0m2 1h0m14-3h0m5 0h0m0 5h0m8 0h0m7 1h0m7 1h0m3-2h0m4-3h0m5-1h0m2 1h0m8 3h0m2 0h0m10-1h0m7 1h0m4-5h0m4 5h0m6-5h0m6 0h0m9 6h0m6-1h0m8 2h0m20 0h0m7-4h0m3-2h0m8-1h0m5 4h0m4 2h0m0-5h0m5 5h0m4-4h0m13-1h0m1-1h0m3 1h0m8 5h0m1-1h0m20-5h0m2 1h0m6 5h0m3-5h0m9-1h0m3 3h0m1 2h0m1-2h0m2-2h0m10-1h0m8 7h0m9-3h0m1 1h0m2-2h0m3-2h0m10 3h0m11-3h0m2 1h0m1 2h0m5 2h0m5-1h0m13-2h0m15 0h0m5-2h0m1 5h0m1-3h0m4 4h0m1-7h0m3 1h0m9 1h0m1 0h0m6 1h0m4 4h0m0 0h0m4-4h0m4-2h0m4 6h0m4-6h0m2-1h0m0 7h0m11-4h0m3 1h0m8-2h0m2-1h0m7 4h0m-557 6h0m2 0h0m3-1h0m3 2h0m9 1h0m5-1h0m5-2h0m6-2h0m4 7h0m8-3h0m5 2h0m2-3h0m11 1h0m6 3h0m6-5h0m2 3h0m3-2h0m6-3h0m4 3h0m6-3h0m4 6h0m3 0h0m1-3h0m1-2h0m2 0h0m7-1h0m1 0h0m10 6h0m10-6h0m2 2h0m2 1h0m1-1h0m2 0h0m7-1h0m7 6h0m2 0h0m9-2h0m16-1h0m1 2h0m2 1h0m0-4h0m7 3h0m1 0h0m2-6h0m2 5h0m5-1h0m2 1h0m8 1h0m4-6h0m5 4h0m0-4h0m0 1h0m1 5h0m9-2h0m6-1h0m2 1h0m3-3h0m3 2h0m13 3h0m9 0h0m5-5h0m2 4h0m5-5h0m0 5h0m20 0h0m1-4h0m1 2h0m0 1h0m3 1h0m12-5h0m13 5h0m1-3h0m18 5h0m6-3h0m15 1h0m0-5h0m3 0h0m2 7h0m0-5h0m2 0h0m0 2h0m4-4h0m4 0h0m13 5h0m1-1h0m7-3h0m2 2h0m8 3h0m2-1h0m12 2h0m10-4h0m5-2h0m2 4h0m1 1h0m7 0h0m13-2h0m1 3h0m1-5h0m7-2h0m8 4h0m1-4h0m3 6h0m4-1h0m16-3h0m4-2h0m2 5h0m1-5h0m4 6h0m2 0h0m15-3h0m2 1h0m5-2h0m2 2h0m0-1h0m9 0h0m-549 5h0m6 1h0m6 2h0m3 2h0m5-3h0m3-1h0m2 2h0m2 4h0m5-7h0m1 3h0m3 0h0m12-3h0m3 6h0m3-4h0m15 5h0m0-2h0m4-5h0m1 1h0m2 2h0m3 0h0m4 0h0m5 2h0m34-5h0m5 6h0m4-6h0m4 3h0m6-1h0m0 4h0m10-2h0m4-1h0m7-1h0m9 0h0m5 1h0m4 0h0m0-2h0m1 5h0m3-4h0m9 1h0m1 3h0m2-1h0m2-3h0m2 5h0m6-6h0m2-1h0m6 1h0m5 0h0m4 6h0m2-4h0m1 0h0m3 1h0m4-4h0m9 7h0m16-5h0m6 2h0m6 3h0m3-1h0m5 0h0m3-6h0m15 1h0m1 5h0m2 0h0m4 0h0m1-3h0m2 0h0m1 2h0m16-4h0m12-1h0m6 6h0m2 0h0m2-1h0m13-5h0m9 6h0m3-5h0m3 6h0m5-1h0m3 0h0m0 0h0m6 1h0m0-6h0m5 0h0m3 3h0m5-2h0m6 4h0m13 1h0m1-5h0m1 5h0m2-4h0m1 4h0m9-1h0m3-6h0m2 5h0m21 2h0m3-4h0m1 2h0m4-5h0m2 6h0m3-3h0m1-1h0m8-2h0m3 5h0m5-5h0m4 7h0m3-2h0m0 0h0m5-5h0m6 6h0m5 0h0m2-2h0m5 0h0m5 2h0m0-1h0m2 1h0m3-5h0m6 6h0m8 0h0m4 0h0m0-6h0m-548 11h0m6-2h0m2 2h0m2 3h0m14-1h0m12-1h0m1-5h0m1 6h0m7-3h0m1 1h0m5 0h0m1 0h0m4 1h0m0-2h0m6 3h0m13-3h0m2 1h0m5 3h0m5-4h0m1 1h0m0 1h0m5-1h0m4-2h0m3-2h0m4 5h0m1-3h0m3 3h0m0-4h0m0 2h0m2-3h0m5 7h0m0-3h0m4 0h0m3 3h0m3-3h0m2-2h0m2 2h0m1-3h0m1-1h0m3 4h0m7-3h0m6 2h0m3-1h0m4 5h0m2-3h0m9 1h0m15-2h0m1 2h0m2-5h0m3 5h0m3 1h0m3-5h0m8 0h0m1 1h0m1 5h0m5-5h0m3 0h0m2 2h0m2-4h0m8 7h0m3-6h0m2 6h0m0-4h0m1-1h0m3 0h0m4 2h0m6-3h0m1 2h0m1-3h0m9 1h0m4 6h0m2-6h0m8-1h0m1 4h0m3-1h0m3 1h0m1-2h0m9 1h0m1-3h0m8 6h0m10 0h0m1-3h0m0-1h0m0 5h0m8-5h0m2-1h0m4 1h0m1 5h0m1-5h0m1-1h0m15 2h0m3 1h0m5 3h0m13-1h0m11-3h0m2 0h0m6 0h0m6 0h0m4-3h0m7 1h0m0-1h0m2 4h0m6 2h0m13-6h0m7 6h0m19-5h0m4-1h0m4 7h0m3-6h0m2 3h0m0-1h0m8 0h0m0 0h0m2-2h0m2 2h0m0 0h0m2 4h0m1-3h0m16 1h0m4 2h0m1-2h0m8-1h0m5-2h0m4 0h0m8 1h0m5 2h0m1-4h0m0 1h0m5 5h0m9-6h0m5 2h0m10 3h0m2-4h0m0-1h0m2-1h0m7 1h0m-555 13h0m9-4h0m1 4h0m3-4h0m2 0h0m10 1h0m5-2h0m4-1h0m6 2h0m2 1h0m11-3h0m11 0h0m3 5h0m6-4h0m1 5h0m0 0h0m1-1h0m1-2h0m0 4h0m5-4h0m5-3h0m3 7h0m2-6h0m4 2h0m11 1h0m7 2h0m2 0h0m0 1h0m2-5h0m2 3h0m1-4h0m0 1h0m2 1h0m0 4h0m1-6h0m5 5h0m1-4h0m2-2h0m11 4h0m1 3h0m1-2h0m7 1h0m5-6h0m4 4h0m3 2h0m1 0h0m9-1h0m3-5h0m0 3h0m1 4h0m2-3h0m1-3h0m7 4h0m0 0h0m3-5h0m6 6h0m2-3h0m13 2h0m4 0h0m6-1h0m14 3h0m10-1h0m7-5h0m3 4h0m6-5h0m11 0h0m15 0h0m2 6h0m7-6h0m5 2h0m7-2h0m3 4h0m4 1h0m5 0h0m12-2h0m1 0h0m1 2h0m5 0h0m8 0h0m14 1h0m6-2h0m4 1h0m3-4h0m2-1h0m2 1h0m2 6h0m18-5h0m13-2h0m5 7h0m2-7h0m3 6h0m1 1h0m3-3h0m0-3h0m1 5h0m3-1h0m6-5h0m1 7h0m1-6h0m4 3h0m5 3h0m3-6h0m0 4h0m13 1h0m4-5h0m7 0h0m4 3h0m2-4h0m6 1h0m6 3h0m11 3h0m2-5h0m20 2h0m6 1h0m12-1h0m0 1h0m7-5h0m1 5h0m0-2h0m3 0h0m-559 6h0m7 2h0m1 0h0m0 3h0m2-3h0m5-1h0m3 3h0m7 1h0m12-4h0m1 0h0m3 0h0m8 4h0m4-5h0m2 4h0m7-3h0m3 3h0m4 0h0m11 1h0m2-1h0m3 0h0m4-4h0m4-1h0m5 0h0m1 0h0m11 6h0m0 0h0m0-2h0m15-2h0m12 3h0m5-1h0m5-4h0m6 5h0m2-5h0m1 3h0m0 3h0m1-2h0m10 2h0m9-3h0m13 2h0m2 0h0m8 2h0m10-4h0m11 0h0m2 2h0m4-2h0m10 3h0m1-3h0m2 4h0m12-3h0m11 3h0m1-3h0m4 0h0m15 0h0m4-3h0m12-1h0m5 0h0m3 7h0m5 0h0m1-4h0m4-3h0m3 5h0m6-1h0m12 2h0m3-4h0m2-2h0m6 0h0m3 5h0m0-1h0m1 2h0m14-5h0m10-1h0m0 4h0m2-4h0m18 3h0m1 4h0m4-3h0m15 3h0m2 0h0m14-4h0m3 2h0m2-2h0m4 4h0m2-2h0m1 1h0m2-1h0m2-4h0m3 1h0m6 3h0m9-3h0m2 1h0m3-3h0m6 1h0m13 6h0m5-3h0m0 2h0m0 1h0m1-7h0m6 2h0m2 5h0m4-6h0m1 5h0m1-4h0m10 3h0m7 2h0m5-5h0m1 0h0m7 1h0m0 2h0m17-3h0m2 5h0m-556 5h0m4-2h0m8 2h0m14-3h0m7 6h0m5-5h0m1-2h0m9 0h0m1 3h0m3 2h0m9-4h0m4 3h0m1-1h0m35 3h0m21-3h0m4 0h0m2-3h0m2 7h0m0-4h0m4-2h0m1 0h0m7 2h0m0-3h0m1 0h0m2 3h0m14-3h0m15 2h0m3 2h0m18-3h0m5 0h0m6 2h0m4-1h0m5 4h0m4-3h0m1 1h0m2-3h0m8 4h0m1 2h0m0-7h0m1 4h0m3-4h0m1 7h0m9-5h0m1 5h0m8-4h0m3-3h0m1 6h0m1 1h0m2-5h0m0 1h0m8 1h0m2 3h0m2-3h0m1-1h0m2 1h0m5-1h0m13-1h0m3-2h0m0 6h0m3 1h0m2-4h0m22 2h0m0-5h0m2 1h0m6 5h0m0-1h0m9-4h0m1 2h0m3 4h0m0-3h0m4 1h0m10 0h0m2-1h0m2 1h0m22-2h0m7-1h0m0-2h0m1 4h0m5 0h0m0 2h0m4-6h0m6 5h0m6 0h0m1 1h0m10-5h0m8 4h0m3 2h0m12-7h0m3 2h0m1-1h0m2 4h0m5 2h0m2-1h0m2-4h0m0-1h0m0 3h0m1 1h0m17-1h0m14-3h0m2-1h0m1 1h0m2 1h0m3 3h0m6-1h0m4-4h0m6 6h0m8 0h0m2-2h0m9 3h0m8-5h0m0-1h0m3-1h0m1 6h0m-552 5h0m6 1h0m2-1h0m7-3h0m2 4h0m7-3h0m5 0h0m5 3h0m10-2h0m7 3h0m1-3h0m18-1h0m9 6h0m0-6h0m7 5h0m1-4h0m2 3h0m16 1h0m0-1h0m5-3h0m2-1h0m5 0h0m0 2h0m2 0h0m7-3h0m8 1h0m0-1h0m2 2h0m0 1h0m1-2h0m0 3h0m5-2h0m7 3h0m11-1h0m6-3h0m1 6h0m2-6h0m3 2h0m2 1h0m3 2h0m4 0h0m2-3h0m5 0h0m1 0h0m19-2h0m2 2h0m12 4h0m21 0h0m2-3h0m1-3h0m1 0h0m2 0h0m2 2h0m1 1h0m2-2h0m12 2h0m5 3h0m1-4h0m2-2h0m3 0h0m7-1h0m14 2h0m0 1h0m7-2h0m6 3h0m6-2h0m0 3h0m9 0h0m5-4h0m17 3h0m1 2h0m2-3h0m5-1h0m2-2h0m1 2h0m3 3h0m6 1h0m2-3h0m1 4h0m0-4h0m10 2h0m7 1h0m1-4h0m2-1h0m3 4h0m1 0h0m0-4h0m6 6h0m3-7h0m1 6h0m2-5h0m8 4h0m2-5h0m12 1h0m9 3h0m3-1h0m10 2h0m5 2h0m3-7h0m1 4h0m2-3h0m2 0h0m3 2h0m18 3h0m11-4h0m0 1h0m6-3h0m4 3h0m6-1h0m5 5h0m0-6h0m0-1h0m13 2h0m9-1h0m2-1h0m2 0h0m1 6h0m2 1h0m10-4h0m1 0h0m3-3h0m-563 11h0m1 4h0m6-5h0m9 5h0m1-4h0m8 0h0m18 1h0m1 2h0m6 0h0m9-3h0m16 3h0m9-5h0m8 6h0m2-1h0m7 0h0m1-4h0m5 1h0m2-3h0m6 7h0m12-5h0m2 3h0m3-5h0m0 2h0m10-1h0m3 6h0m10-6h0m10 1h0m8 3h0m14 1h0m10-2h0m4-4h0m3 4h0m2 3h0m13 0h0m3 0h0m1-6h0m6 5h0m3-6h0m1 5h0m6-1h0m3-3h0m2 2h0m6 1h0m6-2h0m4 2h0m7 3h0m14-3h0m7-3h0m1 3h0m23-3h0m20 6h0m18 0h0m3-4h0m3 1h0m2-2h0m13-2h0m11 6h0m7-2h0m10 1h0m7-1h0m3 1h0m2 2h0m0 0h0m9-4h0m5-1h0m3 2h0m13 0h0m1-4h0m7 7h0m2-5h0m8 0h0m2 4h0m2-5h0m21 6h0m0-5h0m0-1h0m5 5h0m3-4h0m4 0h0m4-1h0m1 4h0m0-4h0m0-1h0m2 1h0m5 0h0m2 3h0m10 1h0m5 1h0m1-6h0m2 6h0m0 1h0m4-2h0m1 0h0m0-3h0m5 1h0m2-1h0m3-2h0m17 2h0m-549 11h0m0 0h0m7-2h0m2-1h0m18-1h0m1 2h0m2 2h0m0-1h0m4-1h0m2 1h0m1 1h0m0-1h0m3 3h0m5-7h0m6 6h0m1-4h0m6-1h0m0-1h0m17 4h0m1 0h0m2 1h0m13 2h0m0-3h0m2 3h0m2-6h0m0 2h0m1 4h0m1 0h0m9-6h0m3 6h0m7-1h0m7-3h0m4 4h0m5-1h0m8-3h0m1-1h0m4 2h0m4 1h0m1-5h0m2 5h0m3 1h0m2 1h0m8-7h0m1 2h0m7 5h0m1-1h0m3-2h0m2-1h0m11-1h0m2 3h0m3-1h0m11 1h0m5-3h0m2-1h0m6-1h0m1 4h0m4-1h0m5 4h0m2-5h0m7 3h0m10 2h0m1 0h0m2-6h0m2 3h0m4-4h0m3 3h0m6-3h0m8 3h0m8-1h0m0 5h0m6 0h0m3-1h0m14 0h0m3-1h0m2 0h0m3-2h0m1 0h0m6-2h0m8 4h0m3 1h0m10-1h0m4 1h0m0-4h0m8 0h0m1 2h0m1 1h0m1 2h0m2-6h0m4 4h0m3-5h0m0 4h0m6-2h0m3 2h0m3 2h0m0-2h0m7-4h0m19 3h0m6-1h0m5-2h0m0 0h0m2 1h0m4 5h0m3-3h0m6-2h0m2 0h0m13 3h0m3 3h0m3-6h0m1 3h0m6 1h0m9-1h0m6 2h0m9 1h0m0-7h0m4 5h0m1-4h0m1 0h0m2 4h0m1 1h0m7-3h0m1 4h0m8 0h0m10-6h0m1 3h0m6-1h0m5 1h0m3 0h0m9 1h0m6-4h0m0 4h0m3 2h0m-558 5h0m6-1h0m1 0h0m12-2h0m0 4h0m3 0h0m5-1h0m1-4h0m27 5h0m1-2h0m5-2h0m8 6h0m3-6h0m3-1h0m2 0h0m3 0h0m11 3h0m0 1h0m2 1h0m7-2h0m11 2h0m2-5h0m1 4h0m14-4h0m10 0h0m2 5h0m12 0h0m2 0h0m4 0h0m2 1h0m2-6h0m1 4h0m9-4h0m0 1h0m11 6h0m5-7h0m6 0h0m4 3h0m1 0h0m0-3h0m0 2h0m17 5h0m5-2h0m1-3h0m13 4h0m7-2h0m1-2h0m3-1h0m2 6h0m8-7h0m9 1h0m3 0h0m8 1h0m8-2h0m3 5h0m2-2h0m12 2h0m0-1h0m5-1h0m1-1h0m5 2h0m2 3h0m5-1h0m7-5h0m4 5h0m3-4h0m11 5h0m5-1h0m1-4h0m0-2h0m13 6h0m1-6h0m5 6h0m10-1h0m2-5h0m12 4h0m2 0h0m8-2h0m3 0h0m3 3h0m2-5h0m3 0h0m2 2h0m1 4h0m2-4h0m3 0h0m1 4h0m0-1h0m1-2h0m0 1h0m10-3h0m9 5h0m0-4h0m2-2h0m4 5h0m0-4h0m18 2h0m2-3h0m10 1h0m4 4h0m0-2h0m7 3h0m2 1h0m1-4h0m1-1h0m6-2h0m2 3h0m2 3h0m1-3h0m12 0h0m4 2h0m1-1h0m5 3h0m21-7h0m1 0h0m2 4h0m4 1h0m-550 5h0m2-2h0m6 4h0m13 1h0m1 0h0m12-2h0m2-2h0m4 6h0m0-7h0m0 2h0m13 2h0m1 0h0m2 3h0m1-5h0m12 5h0m6-1h0m0-3h0m4 2h0m5-2h0m9 2h0m0 0h0m8 2h0m2-2h0m3 0h0m1-1h0m7 2h0m14-1h0m6 0h0m2 0h0m6 1h0m1-5h0m13 2h0m9 2h0m9-4h0m2 2h0m3-2h0m4 2h0m4 1h0m0-3h0m1 2h0m1-3h0m0 1h0m7 6h0m2-3h0m2-1h0m1 3h0m12 1h0m0-2h0m22-1h0m21-4h0m4 1h0m2 5h0m2-5h0m3 4h0m6-3h0m2-2h0m8 7h0m1-5h0m0-2h0m1 2h0m4 5h0m0-2h0m6-2h0m16 4h0m11-6h0m0 3h0m1 2h0m3-4h0m8 0h0m0 0h0m2 5h0m4-4h0m0 2h0m1-4h0m2-1h0m2 3h0m0 0h0m9 2h0m11 2h0m14-7h0m8 6h0m14-5h0m6 6h0m9-4h0m5 3h0m13-6h0m4 6h0m33-4h0m7 4h0m0-2h0m6-4h0m3 7h0m1-1h0m3 0h0m4-3h0m5 3h0m9-3h0m3 3h0m1-1h0m0-5h0m0 2h0m12-2h0m1 6h0m13-2h0m9 2h0m-554 7h0m2-3h0m1 5h0m5-4h0m4-1h0m17 5h0m0 0h0m3-5h0m1 2h0m3 2h0m0 1h0m4-1h0m17-3h0m4 0h0m35-3h0m12 2h0m3 3h0m17 1h0m1-3h0m5 4h0m1-3h0m14 1h0m8-5h0m3 2h0m4 1h0m6-2h0m6 4h0m2 1h0m3-4h0m0 0h0m6-1h0m3 4h0m2-4h0m19 6h0m3 0h0m4-4h0m2 1h0m2-2h0m4 4h0m5 0h0m0 0h0m1-5h0m4 5h0m0-1h0m10-1h0m14 3h0m1 0h0m11-1h0m4 0h0m2-1h0m5-1h0m2-3h0m1 2h0m2 2h0m0 0h0m2 1h0m4-1h0m14-1h0m1 0h0m8 3h0m0-7h0m3 1h0m3 2h0m3 1h0m1 2h0m12-3h0m1 0h0m1 4h0m2-6h0m9 3h0m8-1h0m4-3h0m0 2h0m7 2h0m3-4h0m4 2h0m3 2h0m1-1h0m1 2h0m4 1h0m4-5h0m1 0h0m2 4h0m3-2h0m9 2h0m3 1h0m1 0h0m2-5h0m6 3h0m9 1h0m2-3h0m1 3h0m4-3h0m4 0h0m1 2h0m2 0h0m1 2h0m1-4h0m7 3h0m10 2h0m5 0h0m13-4h0m3-1h0m1-2h0m2 3h0m3-3h0m0 0h0m2 4h0m2 1h0m4-1h0m4-1h0m6 1h0m1 0h0m3-2h0m4-2h0m1 7h0m1-4h0m2 1h0m0-4h0m10 6h0m12-1h0m1-5h0m1 5h0m2 1h0m1-5h0m3 6h0m13-2h0m1 1h0m1-6h0m-557 13h0m0-4h0m3 6h0m3 0h0m0-5h0m1 2h0m3 2h0m5-2h0m1-3h0m4-1h0m6 5h0m10 0h0m16 1h0m4-5h0m6 3h0m12 3h0m12-1h0m0-3h0m4 1h0m9-3h0m1 3h0m5 0h0m2 1h0m3 1h0m2-6h0m8 4h0m39 2h0m2 0h0m4-5h0m21 5h0m1 0h0m7 1h0m1-1h0m1-3h0m4 4h0m7-3h0m6 0h0m1-3h0m0 3h0m7 0h0m6 3h0m1-4h0m1 1h0m13-2h0m1 3h0m13-2h0m1 3h0m2-1h0m4-3h0m9 1h0m3 0h0m4-3h0m7 3h0m7 0h0m1 4h0m7-3h0m3 1h0m2-3h0m2 0h0m0 2h0m3 0h0m2 2h0m20 1h0m5-6h0m12-1h0m0 5h0m3-1h0m6-4h0m10 0h0m4 7h0m4-3h0m8-3h0m13-1h0m2 3h0m5-2h0m4 6h0m3-3h0m3 3h0m5-7h0m17 6h0m0-2h0m4 3h0m5 0h0m5 0h0m1-2h0m1 0h0m6-4h0m8 6h0m2-2h0m21 2h0m4-4h0m0-2h0m12 4h0m3 2h0m4-3h0m2-2h0m2 2h0m3-4h0m0 2h0m1 0h0m3-2h0m4 4h0m1-4h0m0 0h0m4 0h0m9 3h0m4-1h0m2 2h0m3-1h0m1 0h0m-556 5h0m7 1h0m2 3h0m0-2h0m3 2h0m8 3h0m1-5h0m7 5h0m4-4h0m1 1h0m6-3h0m4 3h0m3 2h0m10-1h0m3-5h0m5 4h0m15-3h0m7 0h0m2 2h0m2 3h0m0-2h0m21 2h0m1-2h0m3 3h0m2-6h0m5 1h0m5-2h0m1 0h0m0 6h0m1-1h0m1-5h0m6 0h0m9 2h0m7-1h0m11 4h0m9-4h0m13 3h0m11-2h0m0 5h0m2-6h0m2 6h0m2-4h0m10 3h0m0-6h0m11 1h0m14 5h0m9-6h0m1 6h0m2-5h0m4 3h0m4-3h0m4 2h0m3 0h0m6-1h0m16-2h0m2 4h0m2-1h0m5-3h0m2 5h0m6-2h0m11 0h0m1 1h0m5 2h0m9-1h0m28-5h0m1 2h0m4 0h0m8 1h0m3 3h0m8 0h0m7-3h0m2 0h0m2 0h0m3 4h0m2-4h0m0 0h0m1 0h0m0-2h0m12-1h0m0 0h0m17 5h0m2 1h0m0-3h0m2 2h0m6 0h0m18 1h0m7-1h0m2 2h0m7-1h0m1 0h0m3 0h0m4-6h0m0 7h0m1-5h0m1 0h0m0 5h0m1-6h0m1-1h0m4 3h0m1 1h0m9-2h0m3 2h0m2 0h0m1 1h0m6 0h0m2-3h0m2 1h0m7-2h0m3 2h0m9 4h0m16-3h0m1 0h0m3 0h0m9 1h0" style="stroke-width:6.4"/>
<path fill="none" stroke="#1c0264" stroke-width="1.6" stroke-linecap="round" transform="scale(.25)" d="M135 71h0m2 0h0m1 0h0m18-1h0m9-1h0m5 2h0m4-1h0m1 0h0m0 1h0m21-1h0m2 1h0m2 0h0m7-2h0m5 2h0m2 0h0m43-2h0m2 2h0m25 0h0m0-1h0m11 0h0m2 1h0m2-1h0m4 1h0m3 0h0m11-2h0m3 0h0m10 0h0m1 0h0m1 0h0m19 0h0m6 2h0m9-1h0m12 0h0m51 1h0m13-1h0m16 0h0m7 1h0m35-2h0m5 0h0m1 2h0m10-2h0m2 1h0m17 0h0m11 0h0m22 0h0m7 0h0m29 0h0m6-1h0m6 2h0m16-1h0m9 0h0m1 0h0m1-1h0m10 1h0m5-1h0m36 2h0m-558 7h0m4-3h0m0-3h0m7 1h0m9 0h0m1 4h0m1-1h0m0 0h0m2-4h0m2 6h0m6 0h0m2 1h0m1-2h0m5 0h0m1-5h0m3 7h0m1-5h0m0-2h0m4 7h0m1 0h0m0-5h0m5 3h0m3 1h0m6-5h0m3 0h0m2 2h0m2 4h0m4-4h0m2 4h0m5-6h0m2 1h0m3 2h0m5 2h0m8-4h0m3 5h0m2-5h0m4-2h0m8 3h0m2 0h0m0 1h0m3-2h0m2 5h0m6-4h0m5 1h0m4 1h0m7-4h0m1 6h0m5-3h0m2 1h0m4-4h0m1 1h0m2 2h0m0 3h0m3 0h0m3 0h0m3-6h0m1 2h0m7 0h0m3 3h0m1-1h0m6-2h0m1-3h0m8 3h0m1-3h0m3 5h0m6-1h0m0 3h0m3-4h0m7 2h0m1-2h0m4 4h0m1-1h0m0 0h0m4-2h0m0 2h0m5-3h0m0-3h0m2 3h0m3 2h0m2 1h0m6-6h0m3 0h0m4 3h0m3 3h0m3-1h0m1-2h0m4 4h0m4-7h0m10 6h0m0-2h0m5 2h0m8-2h0m0 3h0m2-3h0m2 2h0m1-2h0m6 2h0m4-2h0m2 3h0m3-1h0m3 0h0m13-2h0m0 0h0m11-3h0m4 5h0m1-4h0m4 0h0m6-2h0m0 6h0m5-5h0m0 1h0m3 1h0m6 1h0m2 2h0m1-6h0m8 1h0m2 1h0m2 3h0m2-4h0m6 2h0m1-2h0m2 0h0m1 5h0m0-2h0m1-1h0m2 0h0m5-2h0m3 6h0m1-6h0m10 1h0m1 4h0m4-2h0m3 0h0m7 3h0m6 0h0m3-1h0m1-3h0m3 3h0m5-4h0m1 5h0m3-2h0m9 2h0m7-6h0m4 3h0m4 1h0m5 1h0m0-4h0m0 4h0m2-5h0m5 2h0m11 2h0m5 0h0m2 0h0m1-4h0m3 3h0m4 2h0m5 1h0m0-1h0m6-6h0m2 3h0m4-1h0m1-1h0m1 0h0m8-1h0m3 3h0m6-3h0m3 1h0m2-1h0m0 2h0m3 5h0m2-1h0m0-6h0m1 2h0m-562 11h0m11-5h0m6 0h0m3 1h0m1 1h0m0 3h0m1-2h0m1 0h0m4-2h0m7-1h0m5 2h0m2-1h0m1 4h0m2-3h0m8 0h0m15-1h0m6 2h0m2 3h0m1-5h0m0 1h0m1 0h0m3 1h0m0-2h0m7 1h0m1-1h0m7 5h0m5 1h0m0-6h0m2 4h0m9-5h0m0 2h0m3 4h0m1 0h0m1-5h0m1 0h0m4 5h0m9-3h0m2-2h0m9 0h0m0 5h0m1-3h0m7 0h0m12 0h0m8 0h0m6-1h0m7-1h0m2 6h0m0-1h0m7-4h0m3 2h0m2 1h0m1 0h0m2 0h0m4 0h0m2 1h0m13-4h0m1 3h0m4 2h0m8-3h0m5-1h0m1 3h0m0-6h0m3 4h0m5-3h0m9 1h0m4 1h0m0 3h0m1-3h0m1-2h0m13 3h0m2-3h0m16 6h0m0-5h0m7 3h0m8 1h0m8 1h0m7-6h0m1 3h0m9 3h0m4-3h0m5-1h0m0-3h0m11 1h0m2 6h0m2-3h0m0 1h0m2-2h0m3 4h0m10 0h0m1-3h0m1 0h0m1 1h0m4 2h0m7 0h0m8-5h0m6-2h0m7 2h0m6 3h0m2 2h0m3-6h0m0-1h0m3 2h0m2-2h0m1 6h0m2-4h0m3 2h0m3 3h0m10-6h0m2 6h0m1-7h0m0 5h0m4-1h0m3-1h0m2-3h0m3 3h0m1 0h0m3 4h0m13-7h0m1 2h0m12-2h0m0 5h0m2 2h0m11 0h0m0-6h0m1 4h0m12-4h0m4 3h0m13 0h0m8 2h0m6 1h0m1-1h0m3 0h0m3-3h0m5-1h0m0 2h0m2 1h0m0-3h0m5 3h0m-563 6h0m2 2h0m2 2h0m0-2h0m2-1h0m1-1h0m0-2h0m1 1h0m5 0h0m11 0h0m0 4h0m1 1h0m1-2h0m5-2h0m1-2h0m2 6h0m1-1h0m1-3h0m1 0h0m4-3h0m12 3h0m1-2h0m4 3h0m0-3h0m5 3h0m3-4h0m6 4h0m2 0h0m2 2h0m3-5h0m0 2h0m6 0h0m2 3h0m0-6h0m2 6h0m3-4h0m6 3h0m1-5h0m6 3h0m1 2h0m12-5h0m16 4h0m3 2h0m15-6h0m1 2h0m3 2h0m4 2h0m2 0h0m5-3h0m0 4h0m5-1h0m0 0h0m5-4h0m2 5h0m1-3h0m0-1h0m6 2h0m3-1h0m5 0h0m0 3h0m4-3h0m0 2h0m10-4h0m6 3h0m1 2h0m3-5h0m1-1h0m6 0h0m1-1h0m5 3h0m1-3h0m2 5h0m5-3h0m5 3h0m7-4h0m5-1h0m3 7h0m1-7h0m12 4h0m0 0h0m1-2h0m8 4h0m2-2h0m3 0h0m5-1h0m10 1h0m0-4h0m2 6h0m8-1h0m0-5h0m2 1h0m2 2h0m1 0h0m6 1h0m0-2h0m1 5h0m4-7h0m3 4h0m9-1h0m1-2h0m1 5h0m3-1h0m1-5h0m19 4h0m4-1h0m0 3h0m1-1h0m2-1h0m3-4h0m4 2h0m3 1h0m0 3h0m9-3h0m9 4h0m3 0h0m4-4h0m5 4h0m3 0h0m3 0h0m0-7h0m12 0h0m0 4h0m6 3h0m2-3h0m1-3h0m9 3h0m0 2h0m3-5h0m4 6h0m6-2h0m4-4h0m9-1h0m2 2h0m3 4h0m4-6h0m3 0h0m1 5h0m2-4h0m2 4h0m1-4h0m1 4h0m2-1h0m10 2h0m4 1h0m1-2h0m7 2h0m2 0h0m2-5h0m0 1h0m3 4h0m0-3h0m7-2h0m1 2h0m10 0h0m9 3h0m3-3h0m4 2h0m1 0h0m2 1h0m-556 7h0m3-6h0m1 1h0m0 6h0m1-4h0m1-1h0m1-2h0m5 6h0m1 0h0m13-1h0m1 2h0m5-1h0m2-4h0m2-2h0m1 2h0m5 2h0m0 3h0m11-3h0m3-1h0m0-1h0m12 5h0m5-1h0m1-1h0m6-1h0m8-2h0m1-1h0m6 6h0m1-7h0m2 3h0m2-3h0m16 2h0m1 2h0m0-1h0m2 2h0m9 1h0m2-3h0m3 0h0m3 4h0m1-1h0m1-6h0m6 1h0m5 3h0m12 1h0m7 0h0m1-4h0m13 2h0m1 0h0m1 0h0m1 1h0m18-3h0m4 3h0m0-4h0m8 4h0m5 1h0m7-1h0m0 0h0m5-4h0m2 1h0m2 3h0m6 2h0m0-3h0m4 4h0m2-1h0m5-2h0m7 3h0m16-5h0m2 4h0m2-6h0m1 5h0m3-4h0m4-1h0m0 1h0m3 1h0m2 0h0m4 2h0m1 2h0m5-5h0m0 2h0m1 2h0m2-5h0m0 5h0m0-2h0m1-2h0m8 4h0m1 1h0m1-3h0m0 2h0m5-1h0m2-1h0m7 2h0m3 1h0m7-4h0m13 0h0m0-2h0m2 5h0m8-3h0m6 3h0m0-4h0m2 0h0m10 4h0m0-1h0m3-2h0m2 2h0m6 3h0m1 0h0m5-1h0m9-5h0m6-1h0m7 6h0m1-5h0m2 0h0m6-1h0m1 6h0m4-3h0m8-3h0m3 6h0m1 1h0m2-4h0m3 2h0m1-2h0m2-1h0m3 5h0m0-2h0m0-2h0m10-1h0m3 1h0m1-3h0m2 7h0m1-6h0m2 6h0m2-4h0m3 3h0m9-3h0m5-1h0m5 5h0m2-5h0m0 0h0m2 2h0m1-3h0m7 4h0m0 1h0m0-5h0m7 3h0m0-3h0m1 6h0m5-4h0m2 4h0m3-6h0m3 3h0m2-1h0m2 1h0m6-4h0m2 4h0m6-1h0m0 3h0m1-5h0m1 0h0m1 3h0m0 3h0m3-3h0m-561 7h0m4-1h0m1 1h0m1-1h0m4 4h0m7-6h0m1 3h0m7 0h0m2 4h0m5-7h0m5 0h0m0 2h0m7-2h0m1 2h0m12 3h0m1 0h0m6 0h0m2-3h0m3-1h0m1 0h0m13 2h0m3 3h0m8-6h0m4 7h0m1-1h0m3-4h0m0 1h0m1-1h0m1 0h0m0-1h0m1 6h0m0 0h0m1-4h0m0 3h0m7-6h0m2 7h0m2-2h0m4-3h0m1 2h0m1 0h0m2-4h0m0 0h0m3 1h0m0 0h0m1 4h0m7 1h0m12-3h0m1 4h0m10-6h0m8 4h0m5-5h0m3 2h0m2 3h0m1-5h0m3 6h0m5-1h0m4-5h0m3 3h0m1 1h0m0-1h0m1-2h0m10 6h0m1-7h0m2 5h0m1 0h0m3 0h0m5 2h0m5-6h0m6-1h0m2 7h0m1-4h0m1-2h0m1 6h0m3-4h0m2-3h0m3 7h0m4-1h0m4-2h0m1-2h0m2 1h0m4 3h0m3 0h0m2-4h0m3 5h0m7-2h0m0-3h0m1-1h0m1 6h0m2-7h0m0 3h0m2 4h0m2-3h0m5 2h0m11-4h0m9 3h0m5 1h0m8-6h0m0 0h0m1 6h0m1-1h0m7-1h0m5-4h0m15 4h0m8-1h0m1-3h0m3 6h0m10 0h0m0-2h0m5 3h0m0-4h0m3 4h0m4-2h0m1-2h0m6-1h0m5 4h0m0-1h0m7 0h0m4-5h0m5 3h0m2-2h0m3 2h0m2-3h0m1 2h0m2 1h0m1 0h0m2-2h0m3 0h0m4 2h0m6-3h0m0 6h0m2 0h0m6-5h0m14 1h0m3-1h0m3 0h0m2-1h0m1 6h0m2-1h0m10 2h0m2-1h0m1-6h0m14 0h0m2 6h0m0-3h0m3 0h0m3 4h0m15-7h0m6 5h0m1-4h0m6 6h0m5-2h0m3 1h0m5 0h0m7-6h0m5 7h0m2-4h0m3-2h0m-558 8h0m13 6h0m9-4h0m9 1h0m1-2h0m1-1h0m7 5h0m2 0h0m5-6h0m1 3h0m4-3h0m4 3h0m8-1h0m0-1h0m1 1h0m4 5h0m1 0h0m4-2h0m1-4h0m0 6h0m7 0h0m1-1h0m2-4h0m1 0h0m0 4h0m3-4h0m3 3h0m0 0h0m4-1h0m8-1h0m0 4h0m1-3h0m4 2h0m3 1h0m3-7h0m1 1h0m6 3h0m1-2h0m15 4h0m2-4h0m4 4h0m2 0h0m0-4h0m1 4h0m3-2h0m5 3h0m2-7h0m1 1h0m1 6h0m1-5h0m1 5h0m2 0h0m1-1h0m1-2h0m0 0h0m1 3h0m2-5h0m6 3h0m4-2h0m1-1h0m4 2h0m0 1h0m3-3h0m1-2h0m6 1h0m1-1h0m6 3h0m2 0h0m5 1h0m0-2h0m1 3h0m0 0h0m1-5h0m0 4h0m3 2h0m7-4h0m3 3h0m1-4h0m1 3h0m7-3h0m0 6h0m3-5h0m5-2h0m7 7h0m0-4h0m0-3h0m2 6h0m2-2h0m4-1h0m15 0h0m0 2h0m6 0h0m1 2h0m3-4h0m7-1h0m1 0h0m1 3h0m18-2h0m4 3h0m8-5h0m1 0h0m1 6h0m4-4h0m0 0h0m8 0h0m1-1h0m3 0h0m9-2h0m1 4h0m10-2h0m1 1h0m3-1h0m5 5h0m4-7h0m0 6h0m3-1h0m3-5h0m8 2h0m4 3h0m3-3h0m13 4h0m1-3h0m0-2h0m3 2h0m6-1h0m1 5h0m5-1h0m2-2h0m2 1h0m10 0h0m4 1h0m2-6h0m4 4h0m12-2h0m0 2h0m3 0h0m5-2h0m6-2h0m1 4h0m1 3h0m2-5h0m0 2h0m0-2h0m4 0h0m9 2h0m3-1h0m3 3h0m1 1h0m3-4h0m8 4h0m3-6h0m17 4h0m7-1h0m2-4h0m5 0h0m2 4h0m4 0h0m0 0h0m1 0h0m3-3h0m5 2h0m1-1h0m6 0h0m1 4h0m0-3h0m-554 8h0m0-2h0m3 5h0m3-3h0m1 0h0m2 2h0m0 1h0m11-4h0m0-2h0m0 6h0m5-6h0m13 0h0m0 1h0m2 0h0m1 2h0m2-1h0m4 1h0m10 1h0m6-3h0m5 4h0m1-1h0m7 0h0m3-3h0m5 3h0m5 0h0m9-3h0m1-1h0m1 6h0m4 0h0m8-3h0m7 4h0m8-7h0m4 1h0m1 4h0m1-4h0m2 2h0m2-2h0m5-1h0m11 3h0m8-2h0m3 6h0m2-3h0m5-3h0m2 4h0m1-2h0m0-3h0m1 7h0m2-4h0m4 3h0m5-5h0m1 4h0m2 0h0m10 1h0m7-3h0m5-2h0m3 4h0m3-2h0m8 0h0m0-1h0m2 1h0m1 2h0m4 2h0m0-4h0m1 1h0m16 0h0m5-3h0m8 5h0m4-1h0m1 1h0m1-4h0m3 4h0m1-6h0m7 2h0m4 5h0m2 0h0m6-1h0m1 0h0m12-3h0m1-3h0m3 1h0m1 1h0m0 4h0m1-3h0m5 4h0m2-3h0m2 1h0m4-2h0m2 4h0m10-4h0m8 3h0m1 0h0m4-4h0m7 3h0m8-3h0m4 0h0m2-1h0m1-1h0m1 6h0m1-6h0m2 1h0m0 4h0m1 0h0m5-1h0m5-2h0m2 5h0m2-1h0m1 0h0m5-1h0m5-2h0m3-1h0m2-2h0m4 6h0m5-3h0m0 3h0m2-6h0m2 4h0m3-2h0m1 0h0m2 1h0m1-1h0m1 4h0m7-2h0m4-3h0m3 1h0m5 3h0m1 0h0m1-5h0m8 7h0m0-6h0m8 2h0m0-2h0m3 3h0m2-3h0m1 6h0m8-4h0m0 1h0m0 3h0m5-3h0m2-4h0m3 2h0m10-2h0m9 4h0m1-4h0m3 5h0m4-4h0m10 5h0m7-6h0m8 3h0m1 2h0m1 0h0m4-3h0m3 0h0m1 0h0m-557 11h0m4-2h0m7-3h0m0 5h0m1-5h0m4 3h0m5 3h0m8-5h0m5 3h0m0 2h0m1-5h0m1-1h0m3 4h0m1 3h0m2-3h0m7-3h0m1 0h0m2 2h0m1-1h0m0-2h0m1 0h0m0 1h0m8 4h0m8-3h0m0-2h0m3 7h0m4-2h0m0 0h0m4 1h0m7-4h0m6 0h0m2 1h0m1 3h0m2-5h0m0 0h0m1 6h0m0-1h0m2 0h0m2-4h0m0 1h0m3-3h0m0 2h0m3 4h0m0-6h0m1 0h0m4 4h0m6 0h0m3 1h0m5-1h0m4-2h0m3 4h0m2-1h0m6-5h0m2 5h0m9-2h0m0-2h0m1 1h0m1-1h0m2 5h0m0-3h0m1-2h0m4 3h0m5 1h0m5 2h0m2-1h0m1-4h0m0 0h0m1 2h0m3-3h0m4 3h0m2 3h0m5-7h0m0 0h0m2 6h0m1 0h0m0 0h0m0 0h0m2-4h0m1 0h0m6 2h0m4 3h0m3-4h0m7 0h0m5-2h0m1 1h0m2-2h0m8 3h0m1 0h0m1 0h0m1 0h0m0-3h0m6 4h0m0 3h0m2 0h0m4 0h0m8-3h0m1 0h0m0-1h0m2-2h0m1 6h0m2-5h0m7-1h0m2-1h0m1 3h0m4 0h0m4 1h0m7 0h0m1 1h0m1 0h0m5-1h0m1 1h0m1-2h0m14 4h0m0-5h0m1-2h0m0 2h0m3 1h0m5 1h0m1 1h0m0-3h0m1 2h0m6-4h0m1 5h0m0 1h0m5-6h0m11 3h0m6 4h0m1-3h0m4-1h0m0 0h0m1 4h0m7-6h0m0 5h0m6 1h0m1-5h0m0-2h0m9 3h0m0 4h0m1-5h0m6-1h0m20 0h0m0 0h0m17 6h0m27-5h0m7 5h0m2-5h0m5 2h0m1-4h0m5 0h0m6 0h0m16 7h0m0-3h0m1-1h0m1-2h0m1 3h0m3 0h0m1 1h0m0 2h0m0-3h0m2 0h0m6-3h0m3-1h0m2 0h0m1 2h0m4-1h0m3 2h0m5 3h0m1-5h0m8-1h0m1 4h0m4 2h0m3-2h0m1 1h0m2-5h0m6 0h0m2 3h0m2-2h0m2 2h0m-557 6h0m1 0h0m2 3h0m2-2h0m4-1h0m2 0h0m4 4h0m21-5h0m1 1h0m1 3h0m2 3h0m3-2h0m3 1h0m0-3h0m16-2h0m5 1h0m2 0h0m11 4h0m3-1h0m8 2h0m10 0h0m2-7h0m2 2h0m0 0h0m7 3h0m4-3h0m4 0h0m4 3h0m9-1h0m0-2h0m4 0h0m3 3h0m8-5h0m0 5h0m7-1h0m4-1h0m0-1h0m1-2h0m1 7h0m7-3h0m5-3h0m0 1h0m7-2h0m0 5h0m3 0h0m1-1h0m4 2h0m3-5h0m5 3h0m2 0h0m0-3h0m4 6h0m4-4h0m2-2h0m1 6h0m0-5h0m7-2h0m4 3h0m2-2h0m8 0h0m2 6h0m1-1h0m5-3h0m4-2h0m3 6h0m2-4h0m2 0h0m3 3h0m7 0h0m2-6h0m2 1h0m1 0h0m1 6h0m5-4h0m1 4h0m7-4h0m2 2h0m3 1h0m1 0h0m2-6h0m9 7h0m4-1h0m2-3h0m2-3h0m1 5h0m1 2h0m2-6h0m3 5h0m4-2h0m0 1h0m7 2h0m2-5h0m5-2h0m3 5h0m4-4h0m3 0h0m5 0h0m11 2h0m1 4h0m4-2h0m1-1h0m7 2h0m0-1h0m1 2h0m9-4h0m1 1h0m3-2h0m6 0h0m1 3h0m4-3h0m0 3h0m1 2h0m2-5h0m4 1h0m6 0h0m1-1h0m8 1h0m0 2h0m5-4h0m6 6h0m1 0h0m16-4h0m1-1h0m0 1h0m5 0h0m1 0h0m8-2h0m5 1h0m1-2h0m2 2h0m3-2h0m14 7h0m6-3h0m11 2h0m0-3h0m1 2h0m7-2h0m3 0h0m1-2h0m0 3h0m0 2h0m10 0h0m2-2h0m2 1h0m4 1h0m0 0h0m0-6h0m6 5h0m12 2h0m8-1h0m-556 4h0m1 1h0m1 3h0m7 0h0m4 0h0m2-6h0m9 4h0m2 0h0m2-1h0m6 2h0m1-5h0m3 1h0m0 2h0m9 4h0m7-7h0m0 5h0m1-4h0m4 1h0m1 5h0m4-1h0m9-6h0m3 5h0m1 1h0m2 1h0m4-5h0m0 5h0m2-6h0m2 3h0m4 0h0m3-4h0m10 7h0m5-1h0m2-5h0m1 0h0m0 5h0m3-3h0m4-2h0m0 3h0m2-1h0m3-2h0m1 1h0m4 0h0m1 3h0m12-2h0m0 4h0m5-2h0m1 0h0m0 2h0m12-5h0m0-2h0m7 4h0m4-3h0m4-1h0m7 3h0m1-2h0m14-1h0m6 0h0m12 3h0m3 1h0m0-2h0m2 0h0m5 5h0m4-1h0m2-4h0m8 4h0m1-6h0m4 0h0m3 0h0m0 1h0m11 3h0m3-3h0m1 1h0m4-1h0m7 0h0m3 4h0m1-2h0m4 1h0m9-4h0m19 6h0m8-4h0m1 0h0m3 2h0m1 3h0m6-3h0m7 2h0m3-3h0m0 3h0m0-5h0m7 4h0m2 1h0m6 1h0m2-7h0m3 1h0m6 3h0m2-2h0m0-1h0m4-1h0m0 5h0m1-1h0m5-3h0m2 3h0m0-2h0m4 5h0m8-5h0m0-2h0m4 0h0m0 7h0m3-4h0m2 2h0m1 1h0m2-4h0m1-2h0m3 5h0m11-4h0m1 4h0m3-3h0m4 4h0m5-2h0m1-1h0m3 2h0m1 0h0m3-2h0m3 3h0m2-2h0m8 3h0m5-7h0m1 1h0m0 4h0m3-2h0m9 3h0m4 1h0m2-6h0m1 6h0m7-1h0m6-6h0m0 6h0m1-6h0m1 4h0m6-4h0m2 6h0m2 0h0m13 0h0m3-6h0m2 1h0m2 4h0m2 1h0m2-1h0m3-3h0m1-2h0m4 5h0m6 1h0m3-4h0m1 4h0m0 0h0m0-2h0m0 0h0m2 1h0m0 0h0m1 2h0m3-7h0m3 6h0m5 0h0m2-6h0m1 1h0m-558 8h0m4 6h0m3-1h0m2-1h0m1-1h0m2-3h0m6-1h0m0 0h0m5 4h0m9-1h0m0 0h0m1-3h0m1 7h0m4-3h0m3-2h0m9 5h0m2-7h0m9 2h0m3 2h0m2-1h0m3 4h0m1-4h0m1-3h0m1 5h0m3-5h0m7 1h0m0 0h0m6-1h0m1 4h0m4 0h0m2 3h0m19 0h0m3-1h0m3-6h0m11 6h0m7-3h0m2-1h0m2 4h0m1 1h0m5-6h0m3 2h0m5-1h0m3 2h0m5 0h0m4 1h0m5-3h0m5-2h0m3 4h0m6-2h0m2-1h0m1-1h0m0 7h0m2-2h0m3-3h0m5-1h0m3 5h0m2 0h0m4-4h0m1 4h0m3-1h0m5-1h0m1-2h0m5 4h0m2-4h0m0-1h0m1 3h0m1 1h0m4-2h0m1-1h0m1-1h0m1 4h0m1-1h0m0 2h0m1-4h0m3-1h0m4 6h0m2-3h0m2-3h0m2 0h0m3 6h0m6-2h0m7 1h0m1-6h0m1 1h0m1 2h0m4-1h0m5 5h0m2-7h0m8 4h0m2-4h0m0 3h0m1 4h0m2 0h0m8-5h0m5-2h0m1 3h0m0-3h0m1 2h0m5-1h0m2 2h0m24 3h0m1-6h0m2 1h0m10 4h0m7-5h0m8 4h0m8-1h0m1 4h0m2-4h0m0 0h0m5-2h0m0 1h0m5 2h0m3-3h0m2 5h0m0-5h0m1 4h0m5 0h0m1-5h0m0 7h0m0-7h0m1 7h0m0-6h0m0 5h0m8 1h0m7-4h0m5 0h0m2-3h0m3 5h0m8 1h0m1-6h0m6 4h0m0 2h0m11-5h0m3-1h0m2 6h0m6-5h0m2 0h0m1 0h0m4-1h0m8 1h0m2 5h0m1-4h0m3 0h0m1-1h0m1 5h0m8 0h0m8-5h0m2 0h0m10 0h0m2 4h0m6 2h0m1-7h0m5 6h0m2-5h0m10 0h0m1 3h0m1-1h0m4 2h0m4-1h0m1-4h0m6 0h0m1 3h0m-560 5h0m3 6h0m2-5h0m0 0h0m5-1h0m0 6h0m1 1h0m7 0h0m2-6h0m4 6h0m0-6h0m1 3h0m1 3h0m6-3h0m2 1h0m2 1h0m6-2h0m1-2h0m1 1h0m5 2h0m3 2h0m1 0h0m0 0h0m3-3h0m2 0h0m12 3h0m4-2h0m5-4h0m1 2h0m2 2h0m4-4h0m3 1h0m8 4h0m1-2h0m7 0h0m3 3h0m1-6h0m2-1h0m1 1h0m1 3h0m0 3h0m1-1h0m23-3h0m1 1h0m0 3h0m2-1h0m9 1h0m9-5h0m2 2h0m8 2h0m1-5h0m6 6h0m1-4h0m4 0h0m2 4h0m3-3h0m9-4h0m1 2h0m8-2h0m1 2h0m2 5h0m8 0h0m1-2h0m0 0h0m8-1h0m6 0h0m7 1h0m2-5h0m1 3h0m1-2h0m0 4h0m7 1h0m1-6h0m9 5h0m3 1h0m1-5h0m4 6h0m10 0h0m1-6h0m4 5h0m5 0h0m4 1h0m0-6h0m1 6h0m1-7h0m2 1h0m10 6h0m2-4h0m1-1h0m0 1h0m2-3h0m2 2h0m0-2h0m2 1h0m2 0h0m1 6h0m1-6h0m1-1h0m1 5h0m1-5h0m13 4h0m0 0h0m6 1h0m1-2h0m3-1h0m0 2h0m1-1h0m0 4h0m8-3h0m6 3h0m2 0h0m6 0h0m1-7h0m2 0h0m4 5h0m1-2h0m12 2h0m2-4h0m1 6h0m4-1h0m1 0h0m2-3h0m1 1h0m1-1h0m8-3h0m2 3h0m1-3h0m5 2h0m2 3h0m3-5h0m2 1h0m1 4h0m4-1h0m1-2h0m10 3h0m5-4h0m5 1h0m4-1h0m5 3h0m5 2h0m4 0h0m2-1h0m6-2h0m9 1h0m3-2h0m3-2h0m5 3h0m6 1h0m3-3h0m0 0h0m3 4h0m4-3h0m2 3h0m6-3h0m7 5h0m6-4h0m6 4h0m7-1h0m7-2h0m1-4h0m0 3h0m5 0h0m2 1h0m5-3h0m0 3h0m-563 4h0m4 1h0m2 0h0m9 3h0m1-2h0m0-1h0m2-1h0m2 2h0m1-2h0m12 7h0m1-3h0m3 3h0m2-6h0m2 2h0m11 0h0m1-1h0m1 3h0m0-4h0m3 2h0m3-1h0m3 2h0m0 2h0m1-5h0m10 0h0m1 4h0m14 2h0m4-7h0m0 4h0m0 0h0m13 2h0m3 0h0m0 0h0m1 0h0m4-1h0m4 1h0m2-5h0m2 1h0m0 5h0m2-2h0m3 2h0m1-1h0m0-1h0m1 2h0m0 0h0m2 0h0m8-4h0m2-2h0m7 6h0m1-2h0m1-2h0m4 3h0m1-4h0m1 0h0m1 1h0m7-2h0m5 0h0m1 3h0m7 2h0m9 0h0m4 0h0m2-5h0m4 6h0m5-5h0m1-1h0m2 1h0m3 4h0m2 1h0m0-1h0m0-3h0m6 1h0m10-3h0m5 2h0m0 4h0m8-7h0m6 4h0m4-4h0m2 7h0m1 0h0m0-4h0m0 4h0m1-5h0m2 0h0m5-2h0m7 3h0m0-2h0m1 1h0m0 2h0m1 0h0m5-1h0m6 2h0m1-2h0m2 1h0m14-2h0m1 2h0m2-2h0m10 4h0m0-3h0m11-1h0m5 0h0m7-1h0m5 2h0m2-2h0m4 3h0m1 2h0m4-1h0m2-2h0m0 3h0m1 0h0m7-5h0m2 6h0m5-1h0m3-6h0m1 0h0m0 7h0m1-5h0m7 3h0m16 1h0m7-1h0m3-1h0m10-1h0m3 3h0m0-5h0m1 1h0m4 0h0m3 4h0m2-1h0m2-2h0m2 2h0m3-5h0m1 1h0m2 4h0m0-1h0m4 0h0m6 1h0m3 1h0m2-5h0m2 4h0m1 0h0m6 2h0m8-7h0m4 4h0m3-4h0m1 3h0m1-2h0m4 2h0m1-3h0m6 7h0m3-3h0m8-4h0m5 1h0m0 6h0m2 0h0m1-3h0m0 2h0m3-5h0m0 3h0m2 1h0m3 0h0m11-5h0m2 7h0m0-6h0m1 2h0m11 1h0m8 3h0m9-7h0m-544 8h0m3 2h0m0 5h0m3-6h0m1 2h0m8 3h0m3-2h0m2 1h0m2-1h0m3-1h0m3 4h0m1 0h0m24-2h0m3-5h0m3 6h0m7-2h0m6 1h0m0 1h0m1-3h0m2-3h0m0 4h0m1 1h0m5 1h0m2 1h0m3-3h0m2-2h0m5-2h0m6 0h0m4 4h0m2-3h0m1 2h0m8-2h0m8 3h0m0-2h0m5 5h0m0-2h0m4-3h0m19-1h0m1-1h0m2 0h0m2 6h0m1-2h0m2-4h0m1 4h0m0-2h0m3-2h0m3 0h0m4 0h0m4 1h0m10 1h0m2 0h0m3-1h0m0 5h0m6-4h0m5 2h0m0-4h0m3 1h0m2 1h0m2-2h0m1 5h0m17 2h0m1-5h0m8 2h0m1 0h0m0 2h0m6 1h0m2-4h0m1 2h0m3-2h0m2-1h0m3 4h0m6-3h0m5 1h0m1-3h0m7-1h0m5 6h0m4-2h0m5-1h0m2 4h0m8 0h0m1-4h0m2-2h0m2 5h0m3-4h0m1-2h0m1 5h0m0 2h0m2-3h0m3 2h0m13-6h0m0 3h0m1-3h0m4 4h0m0 0h0m2-3h0m10 2h0m1 0h0m4 3h0m3-2h0m3-1h0m8 2h0m1-3h0m6 2h0m0-4h0m0 3h0m0 0h0m13-2h0m8 3h0m4 1h0m2-5h0m0 6h0m8-6h0m3 3h0m5-3h0m2 0h0m7 7h0m4 0h0m12 0h0m6-1h0m4-3h0m9-2h0m1 1h0m1 0h0m1 0h0m3 5h0m13-1h0m6-2h0m5-3h0m1 5h0m9-6h0m2 3h0m1-3h0m11 4h0m10 0h0m2-4h0m1 7h0m2-3h0m0 2h0m2 0h0m18-4h0m4 5h0m3-7h0m1 4h0m-559 4h0m1 1h0m7-1h0m1 7h0m0-1h0m1 0h0m4-3h0m1 3h0m2-1h0m9-2h0m6-3h0m2 5h0m2-2h0m5 0h0m13 4h0m5 0h0m0-1h0m1-1h0m1 1h0m4 0h0m5-4h0m3-1h0m5 4h0m7-1h0m9 1h0m0 2h0m5-3h0m6 1h0m1 1h0m1-2h0m8 1h0m2 1h0m0-3h0m6 3h0m2-2h0m3-2h0m9-1h0m3 4h0m1-2h0m1-3h0m3 3h0m4 4h0m18-5h0m3 3h0m2-4h0m2-1h0m1 2h0m2 1h0m1-2h0m2 1h0m1 3h0m0 1h0m4-5h0m8 0h0m0 2h0m2-1h0m3 1h0m9 1h0m3 1h0m10-4h0m2 6h0m2-7h0m0 5h0m1-5h0m1 5h0m6-2h0m4 1h0m7 0h0m7-3h0m0 5h0m5-4h0m3 1h0m6 2h0m1-4h0m1 3h0m2-1h0m1 0h0m1-3h0m11 3h0m6 2h0m3 0h0m3-4h0m3 6h0m7-1h0m4 1h0m9-3h0m8-2h0m8-1h0m2 4h0m4-3h0m3 0h0m3 4h0m1-6h0m0 1h0m4-1h0m1 1h0m2 4h0m5 1h0m2-3h0m0-1h0m0 0h0m1 5h0m3 0h0m1 0h0m0 0h0m1 0h0m7-4h0m0-2h0m5 4h0m3 1h0m2-2h0m1 2h0m1 1h0m8-3h0m13-2h0m1-2h0m3 3h0m1-2h0m2-1h0m4 1h0m1 4h0m15 2h0m6-1h0m6 0h0m3-6h0m2 5h0m1-3h0m5 3h0m2 2h0m0-3h0m2-3h0m3 2h0m0-2h0m2 2h0m1-2h0m1-1h0m2 4h0m4 2h0m9 0h0m8 0h0m1 0h0m6-1h0m6 2h0m4-7h0m0 5h0m1-5h0m1 0h0m4 7h0m4-3h0m0 0h0m10 1h0m1-2h0m2 4h0m1-2h0m5-5h0m1 2h0m0 0h0m2 4h0m1 0h0m9 1h0m1-7h0m5 4h0m4-4h0m2 0h0m-562 10h0m2 2h0m1 1h0m0-5h0m3 4h0m1-1h0m8 3h0m1-5h0m2-1h0m1 2h0m12 3h0m2-1h0m0 2h0m0-4h0m0 3h0m2-4h0m3 6h0m4-7h0m1 3h0m0 3h0m7-6h0m2 6h0m0-2h0m1 1h0m11 0h0m8-4h0m4 6h0m1 0h0m7-1h0m0-2h0m2-1h0m0 4h0m8-5h0m2 1h0m1-1h0m3 1h0m3 0h0m0 1h0m1-4h0m5 7h0m1-3h0m2 3h0m3-4h0m1 3h0m6-4h0m0-1h0m1 6h0m0-1h0m15-4h0m2 0h0m6 0h0m7 3h0m0-1h0m1 3h0m1-1h0m4-6h0m7 6h0m1-3h0m2-3h0m5 5h0m3-4h0m8 0h0m1 5h0m0 1h0m2-2h0m2 0h0m2 1h0m8-3h0m1 1h0m11-2h0m9-1h0m1 3h0m2-1h0m1 1h0m2-1h0m2 4h0m2-6h0m3-1h0m1 7h0m0-5h0m8 1h0m4-2h0m0 3h0m8-4h0m3 2h0m4 0h0m2 0h0m2 4h0m3-1h0m1 1h0m3-2h0m4 1h0m2-2h0m9 1h0m3-2h0m1 3h0m3 2h0m3-4h0m6 3h0m12-2h0m12 0h0m9 1h0m4-2h0m2-3h0m6 0h0m1 2h0m4 3h0m3 1h0m5 1h0m0-2h0m1 1h0m2-4h0m2-1h0m1 6h0m2-2h0m5-2h0m6 3h0m2-1h0m6-2h0m12-3h0m0 2h0m1 2h0m5 2h0m1-3h0m7 3h0m4-3h0m5 4h0m0-6h0m5 3h0m2 0h0m1-2h0m8 4h0m2 0h0m1-5h0m3 5h0m3-6h0m3 0h0m1 7h0m1 0h0m5 0h0m4-1h0m3-4h0m1 1h0m0-2h0m1 2h0m7 0h0m3 2h0m4-5h0m1 0h0m13 6h0m6-2h0m7-2h0m11 0h0m2 4h0m3-4h0m2 0h0m1 2h0m3-3h0m1-1h0m12 7h0m1-2h0m1-3h0m1 5h0m2-3h0m5-4h0m0 4h0m3-4h0m4 4h0m1 2h0m-555 5h0m1 4h0m0-3h0m0-2h0m3 4h0m1-3h0m1-3h0m1 0h0m0 4h0m3 1h0m1 0h0m2 2h0m0-6h0m6 1h0m3-1h0m3-1h0m0 3h0m1-1h0m2 0h0m12 1h0m3 4h0m7 0h0m11-7h0m4 7h0m1-1h0m7-4h0m1-1h0m2 1h0m1-2h0m2 7h0m2-3h0m1-2h0m2 3h0m0-3h0m7-1h0m1 5h0m1 1h0m3-3h0m7 3h0m0-7h0m1 2h0m3 1h0m3 1h0m1-1h0m21 0h0m3 3h0m2 1h0m0-7h0m3 2h0m5 1h0m1-3h0m1 7h0m0-7h0m3 3h0m2-3h0m4 4h0m1 2h0m6-4h0m0 2h0m4 2h0m0-1h0m2 2h0m2-5h0m3 5h0m1-2h0m3-4h0m1 2h0m3 0h0m12-3h0m1 0h0m2 2h0m2 4h0m7-2h0m1-3h0m4-1h0m0 7h0m5-1h0m8-5h0m1 3h0m2 0h0m0 3h0m2-5h0m1-1h0m2-1h0m5 6h0m0-5h0m1 1h0m0 4h0m5 0h0m1 0h0m11-2h0m0 0h0m4 0h0m2-4h0m2 0h0m10 1h0m3 1h0m1 2h0m1-2h0m3 1h0m3-1h0m4 3h0m8 2h0m2 0h0m1-4h0m3 4h0m7-2h0m1 1h0m4-2h0m4-3h0m5 4h0m1 0h0m12-3h0m2 3h0m6-2h0m10-2h0m1 6h0m0 0h0m2-3h0m0-1h0m7-2h0m2 4h0m12 0h0m0 1h0m2 0h0m1 1h0m4 0h0m6-2h0m0-3h0m2 2h0m2-1h0m4-2h0m5-1h0m3 0h0m0 0h0m1 4h0m2 3h0m14-3h0m1 0h0m1 2h0m10 1h0m2-7h0m8 7h0m13-3h0m5-3h0m6 4h0m2 0h0m0-4h0m1 6h0m3-5h0m0 5h0m5-4h0m0 0h0m2-1h0m15 2h0m10 0h0m5-3h0m13 1h0m0 3h0m1 0h0m2 0h0m10 0h0m4 0h0m3 0h0m3-1h0m-551 10h0m11 0h0m2 1h0m7-4h0m4-3h0m1 1h0m1 2h0m0 3h0m12-5h0m4 5h0m4-1h0m1-3h0m2 1h0m6 2h0m5-5h0m1 6h0m0-2h0m6 2h0m0-4h0m1 3h0m5-2h0m2-1h0m9 4h0m1-3h0m2 4h0m0-7h0m4 6h0m2-6h0m17 5h0m3 0h0m5-3h0m5-2h0m1 5h0m1-3h0m2 5h0m0-2h0m1-3h0m14 5h0m6 0h0m10-5h0m0 1h0m1 4h0m1-3h0m6 0h0m3 2h0m1-1h0m0-1h0m6-2h0m8 2h0m2 1h0m3-3h0m7-2h0m5 0h0m0 7h0m12-6h0m3-1h0m0 6h0m2-3h0m4-3h0m11 1h0m1-1h0m6 6h0m0-5h0m4 2h0m1-3h0m1 6h0m0-2h0m10-1h0m13 0h0m15 4h0m1-2h0m1-4h0m10-1h0m0 4h0m3-4h0m0 4h0m2-3h0m5 4h0m1-3h0m0 1h0m3 1h0m6 3h0m6-7h0m2 4h0m0 1h0m12-1h0m0-3h0m4 5h0m4 1h0m6-1h0m15-6h0m10 7h0m0 0h0m2-5h0m4-2h0m1 7h0m5-6h0m3 0h0m10 0h0m3-1h0m1 5h0m1 1h0m12-6h0m1 2h0m1 4h0m9-3h0m3-3h0m0 6h0m6 0h0m4-4h0m2 5h0m1-3h0m0 1h0m0 0h0m5 2h0m8-4h0m7 0h0m1 1h0m6-4h0m2 3h0m0 4h0m11-1h0m2 1h0m2-5h0m3 1h0m7-3h0m2 3h0m2-2h0m0 5h0m0-3h0m5-3h0m2 3h0m1 2h0m2-5h0m1 2h0m3 0h0m5-2h0m1 5h0m3 1h0m4 1h0m6-2h0m1 2h0m2-3h0m5 0h0m1-2h0m2-2h0m-552 9h0m1-1h0m1 3h0m10-1h0m4 4h0m10-3h0m8 3h0m0-1h0m10-3h0m3 5h0m3-6h0m1 3h0m4 3h0m13-5h0m2-2h0m4 6h0m9 0h0m4 0h0m4-2h0m3 2h0m0-3h0m6-3h0m1 2h0m1 2h0m7 2h0m4-4h0m6-1h0m1 3h0m2 3h0m2 0h0m4-5h0m1 4h0m2-4h0m11-2h0m0 6h0m1-6h0m0 3h0m7 1h0m1 3h0m4-1h0m1-2h0m8 1h0m14-2h0m4-2h0m6 5h0m1-1h0m7 1h0m10-5h0m0-1h0m9 7h0m8-4h0m3 2h0m9 2h0m6-5h0m2 2h0m1 1h0m3-2h0m6-2h0m17 1h0m2-1h0m0 4h0m0-4h0m1 3h0m4-3h0m1 1h0m5 0h0m3 4h0m2-1h0m10 1h0m1-5h0m24 4h0m15-5h0m2 1h0m5 1h0m11-1h0m2 0h0m6 0h0m3 4h0m3-5h0m11 0h0m5 2h0m15-1h0m7-1h0m13 7h0m2-5h0m7-2h0m0 0h0m10 0h0m2 4h0m2-4h0m2 1h0m2-1h0m10 0h0m2 2h0m5 5h0m2-4h0m6-2h0m2 2h0m9 2h0m3-4h0m0 4h0m3-5h0m4 2h0m8 1h0m9-3h0m1 1h0m2 4h0m14 2h0m4-4h0m2-1h0m1-2h0m6 7h0m0-6h0m3 0h0m0 0h0m8 5h0m3-6h0m1 7h0m2 0h0m0-2h0m1-2h0m-558 6h0m5 1h0m5 3h0m1-3h0m3-1h0m3 0h0m2 4h0m3-1h0m1 2h0m3-6h0m2 5h0m1 1h0m1-6h0m1 5h0m0 2h0m2-4h0m1-1h0m7 4h0m5-5h0m2 3h0m3-1h0m3 1h0m10-2h0m1 1h0m3 2h0m8 1h0m2-4h0m1 3h0m1-2h0m3 4h0m2-7h0m1 4h0m0 1h0m4 2h0m1-6h0m3 2h0m1-3h0m4 5h0m0 2h0m3-4h0m2 3h0m1-5h0m3 0h0m0 6h0m2-3h0m0 3h0m2-3h0m5-2h0m0 3h0m1-5h0m1 0h0m3 7h0m2-4h0m1-1h0m1 1h0m7 0h0m1 3h0m2-2h0m2-1h0m2 0h0m6-1h0m1-1h0m1 3h0m2 2h0m1-3h0m7-3h0m6 4h0m7 2h0m4-3h0m3 3h0m1-5h0m0 1h0m16 5h0m1-1h0m10-6h0m2 1h0m3 0h0m1 2h0m2-3h0m1 0h0m1 4h0m2 3h0m4-3h0m0 2h0m0 1h0m2-2h0m2 2h0m2-5h0m3 2h0m1 2h0m4-4h0m3-1h0m8 4h0m4 0h0m9 2h0m7 0h0m8-1h0m7-1h0m1-3h0m5 1h0m7-3h0m5 0h0m0 5h0m1 0h0m4-5h0m0 1h0m1 3h0m6-3h0m0 6h0m4-1h0m0-3h0m5 0h0m5 4h0m2-6h0m9 1h0m0 5h0m2-1h0m1-5h0m4 5h0m4-3h0m9-3h0m6 2h0m3-2h0m1 1h0m1 4h0m9-3h0m0 1h0m7 2h0m0 1h0m1 1h0m3-2h0m6 0h0m2-3h0m2 0h0m2 0h0m1-1h0m4 2h0m5 1h0m4-2h0m5 1h0m1 1h0m15-2h0m3 2h0m2 0h0m0-1h0m1-1h0m0 4h0m1-1h0m9 1h0m4-2h0m10 1h0m1 2h0m1-1h0m8-2h0m0 0h0m2-3h0m0-1h0m3 2h0m1 1h0m14 4h0m8-6h0m3-1h0m0 7h0m2-5h0m2 3h0m2 1h0m10-3h0m0 4h0m23-6h0m1-1h0m4 7h0m5-5h0m2-1h0m-557 8h0m0-1h0m8 4h0m18 0h0m5-4h0m1 6h0m5-5h0m2 3h0m1-3h0m3 1h0m1-1h0m4 5h0m2-5h0m3 4h0m4 0h0m0 0h0m1-3h0m0-1h0m6-1h0m5 2h0m0 0h0m4 2h0m15 3h0m2 0h0m3-4h0m10-3h0m3 7h0m5 0h0m10-6h0m3 4h0m1 2h0m0-1h0m14-5h0m1 0h0m2-1h0m0 6h0m1-4h0m13-2h0m5 2h0m0-2h0m12 1h0m2 1h0m18 5h0m1 0h0m10-3h0m16-1h0m3-2h0m5 2h0m1 2h0m1-2h0m6-3h0m1 5h0m3-5h0m6 1h0m1 5h0m4-4h0m2 0h0m5 4h0m2-4h0m0 2h0m1 3h0m2-4h0m2-3h0m14 1h0m2 3h0m2 1h0m2-1h0m0-1h0m5-2h0m2 3h0m4-3h0m5 3h0m15 2h0m1-6h0m1 1h0m13 3h0m3 0h0m1 3h0m5-2h0m3-3h0m8 2h0m2-1h0m2 1h0m2-3h0m2-1h0m3 2h0m2 5h0m4-2h0m1 2h0m7-1h0m1-1h0m2-1h0m1 3h0m4-1h0m2-2h0m4 2h0m3-2h0m1-1h0m1 3h0m1-4h0m1 4h0m6-3h0m5-2h0m5 3h0m1 2h0m3-4h0m2-2h0m2 4h0m1-4h0m0 4h0m5 1h0m1-1h0m3 1h0m5-2h0m0 2h0m6 0h0m0-5h0m8 7h0m8-3h0m4 1h0m2 0h0m1-1h0m1-4h0m4 1h0m11 6h0m1-2h0m5 0h0m1 2h0m1-5h0m6-1h0m2 4h0m1-2h0m1-2h0m7 4h0m3-4h0m8 6h0m1-1h0m0-1h0m13 1h0m2-5h0m0 1h0m0 5h0m4-1h0m0-1h0m1 1h0m0-5h0m6 1h0m1 5h0m3-4h0m2 4h0m0 0h0m1-1h0m1 0h0m6-4h0m2 5h0m-559 3h0m1-2h0m7 1h0m7 0h0m6 1h0m1 5h0m1-2h0m0 1h0m13 1h0m0-2h0m4-2h0m0 4h0m2 0h0m4-2h0m1 0h0m2-3h0m4 4h0m9-1h0m8-1h0m2-3h0m3 1h0m1 2h0m4-1h0m2-2h0m2 1h0m2 5h0m0-6h0m3-1h0m3 1h0m3 1h0m0 3h0m1-1h0m2 3h0m10-5h0m3 0h0m0 5h0m3-5h0m2 1h0m4 3h0m1 1h0m0-1h0m4-5h0m12 2h0m1-3h0m0 2h0m3 2h0m0-1h0m7 4h0m3-2h0m7-2h0m2 0h0m4-1h0m1 2h0m6-1h0m1 3h0m4 1h0m7 0h0m1-7h0m0 7h0m3-4h0m1 3h0m4-4h0m2-2h0m1 6h0m1-2h0m4 3h0m6-4h0m0 2h0m2 0h0m4-3h0m4 2h0m2-4h0m3 3h0m2-2h0m5 6h0m5-7h0m0 2h0m2 4h0m7-4h0m0 2h0m3 0h0m12 1h0m10-4h0m0 5h0m6-4h0m6-2h0m1 3h0m2-1h0m1-1h0m3 3h0m3 1h0m0-2h0m3 4h0m4-3h0m0 3h0m2-4h0m12-3h0m1 6h0m3-1h0m0-5h0m6 2h0m1 1h0m3 2h0m2 1h0m4-4h0m1 0h0m11 4h0m3-4h0m0 0h0m6 5h0m7-2h0m1-1h0m0-3h0m4 6h0m3-4h0m9-2h0m2 0h0m5 3h0m2-3h0m2 5h0m1 0h0m2-5h0m0 4h0m0-4h0m1-1h0m3 6h0m2-4h0m4 4h0m0 0h0m5-4h0m1 3h0m3-2h0m1 3h0m3-4h0m3 3h0m11-5h0m11 2h0m5 1h0m2-3h0m1 2h0m6 3h0m0-3h0m3-1h0m5 4h0m2 2h0m1-5h0m0 2h0m10 1h0m3-5h0m4 6h0m10-4h0m3 0h0m0 5h0m2-7h0m2 5h0m3-5h0m0 4h0m3-2h0m7-1h0m1 5h0m5 1h0m12-5h0m1 5h0m6-7h0m4 4h0m4-2h0m2 5h0m4-6h0m2 5h0m2 1h0m-553 4h0m1-2h0m4 3h0m2-4h0m1 0h0m3 7h0m1-3h0m2-4h0m4 3h0m3-1h0m1-2h0m0 3h0m1 2h0m2 2h0m5-3h0m2 2h0m2-5h0m4 3h0m1-4h0m1 4h0m3-2h0m2 4h0m5-5h0m0-1h0m1 6h0m2 0h0m3-3h0m3 0h0m4-3h0m3 6h0m1-1h0m8-2h0m3 4h0m1-1h0m4-2h0m1-4h0m3 3h0m2 2h0m7 0h0m1-5h0m1 0h0m3 0h0m8 7h0m5 0h0m8-1h0m2 0h0m11 0h0m5-3h0m7 0h0m3-2h0m3 2h0m1 2h0m11-4h0m2 4h0m5 0h0m2-4h0m1 5h0m1-4h0m5 0h0m1 4h0m3-4h0m2 5h0m0-1h0m4-6h0m2 2h0m1 0h0m1 2h0m1-2h0m1-1h0m11 5h0m4-5h0m11 0h0m1 5h0m0-2h0m0-4h0m21 3h0m9-1h0m1 2h0m5-3h0m6 3h0m18-1h0m3 1h0m5 3h0m7-5h0m0 3h0m21-4h0m4 1h0m1 5h0m11-5h0m7 1h0m2-1h0m1 0h0m5-1h0m1-1h0m8 3h0m6 0h0m6-1h0m1 5h0m1-5h0m1 3h0m1-4h0m2 4h0m1-4h0m8 4h0m11 1h0m5-3h0m1-1h0m4 2h0m4 2h0m3-4h0m2 3h0m12-3h0m5-1h0m1 0h0m6 4h0m9-1h0m1-1h0m3 0h0m2-3h0m3 7h0m6-2h0m1-3h0m7 1h0m0-3h0m3 7h0m1-4h0m0-1h0m2 1h0m6 1h0m2-4h0m5 0h0m3 1h0m1 5h0m4 0h0m2 1h0m3-6h0m0 1h0m6 2h0m5 1h0m9 1h0m1-6h0m5 6h0m2-3h0m5 4h0m14-6h0m0 4h0m0 1h0m0-2h0m3-1h0m2-2h0m3 5h0m0-1h0m-561 9h0m1 1h0m4-3h0m4 3h0m0-5h0m1 0h0m0 1h0m3 1h0m3 3h0m5 0h0m1-6h0m4 0h0m3 1h0m3 0h0m3 4h0m7 0h0m0-4h0m2 1h0m0 0h0m1 4h0m4-7h0m4 7h0m0 0h0m2 0h0m1-7h0m10 7h0m0-6h0m18 0h0m4 6h0m11-6h0m3 5h0m3-4h0m4 1h0m0-3h0m2 7h0m0-6h0m1 4h0m4 1h0m3 0h0m0-2h0m2-1h0m3 1h0m2-4h0m8 5h0m1-5h0m5 0h0m4 0h0m1 4h0m0-3h0m8 0h0m1-1h0m0 4h0m8-3h0m2 5h0m2-1h0m0-2h0m6 0h0m8 2h0m1-5h0m1 1h0m0-1h0m1 6h0m0-2h0m3-2h0m0 1h0m2 2h0m4 0h0m0-1h0m5 1h0m0-5h0m1 5h0m1-4h0m7 1h0m1-1h0m2-1h0m9 7h0m2-5h0m0 2h0m1 3h0m2-7h0m3 4h0m2-1h0m8-1h0m6 3h0m3-5h0m8 0h0m6 1h0m1 4h0m1-5h0m0 5h0m2-1h0m1-3h0m2 4h0m1-3h0m1 1h0m2 1h0m4-1h0m11-2h0m5 0h0m3 4h0m7-1h0m2 3h0m1 0h0m2 0h0m2 0h0m3-4h0m1 2h0m1 1h0m1 0h0m6 1h0m5 0h0m1 0h0m6-2h0m8-4h0m2 1h0m0 5h0m1-6h0m5 6h0m4-4h0m3-1h0m2-1h0m2 1h0m1 2h0m0-3h0m1 6h0m0-5h0m2 5h0m2-6h0m9 2h0m1-3h0m6 4h0m1 1h0m8-4h0m1 6h0m0-6h0m0 2h0m1 1h0m0-2h0m12 0h0m9 1h0m1-2h0m4 1h0m10-1h0m1 5h0m1-6h0m1 5h0m4 2h0m4-2h0m4 1h0m1-4h0m1-1h0m1 4h0m3-1h0m6 1h0m2-1h0m5-2h0m3 0h0m3 2h0m8 3h0m7-3h0m2-4h0m7 7h0m7 0h0m5-2h0m1-5h0m0 6h0m2-1h0m0-3h0m1 5h0m5-4h0m6 1h0m3 2h0m1-4h0m1 4h0m2-1h0m0 2h0m2-5h0m4-1h0m9-1h0m1 0h0m4 2h0m2-1h0m2-1h0m1 4h0m10 2h0m1 1h0m-556 3h0m2 5h0m4-3h0m1-4h0m1 3h0m0 3h0m2 0h0m2-6h0m1 6h0m14-6h0m2 6h0m0-6h0m1 6h0m11-1h0m2-1h0m2 0h0m4 1h0m7 2h0m7-3h0m4-2h0m5 0h0m2 3h0m2-5h0m8 0h0m8 6h0m0-3h0m1 3h0m1-2h0m1-1h0m2-2h0m0 1h0m10-1h0m3 1h0m0 1h0m6 2h0m1 2h0m0-5h0m3-2h0m3 0h0m7 1h0m5 0h0m2 2h0m7 2h0m6-4h0m4 2h0m5-3h0m4 6h0m4-2h0m5 0h0m7 1h0m11 2h0m7-7h0m1 4h0m0 2h0m6-2h0m1 0h0m0-3h0m2 2h0m6 0h0m2-3h0m5 1h0m3 5h0m2-2h0m8 0h0m1 0h0m1-3h0m13 0h0m1 5h0m4-6h0m4 5h0m2-3h0m3-1h0m4 3h0m6 1h0m0 1h0m2-3h0m6 0h0m1-1h0m3 5h0m4 0h0m5 0h0m1 0h0m7-2h0m1 0h0m4-1h0m4-1h0m4 0h0m0 0h0m1 1h0m1-4h0m4 4h0m0-2h0m10 1h0m11 1h0m6-3h0m5 6h0m8-4h0m0 4h0m3-6h0m6 2h0m0 4h0m2-3h0m2-2h0m2 5h0m3-4h0m16 1h0m12 3h0m6-7h0m1 5h0m2-5h0m3 2h0m2 5h0m12-6h0m4-1h0m2 1h0m4 5h0m4 0h0m1-2h0m2 0h0m5-3h0m1 5h0m11-1h0m0-1h0m1-2h0m2 5h0m1 0h0m2-7h0m9 4h0m1 0h0m1-3h0m1 3h0m2 1h0m1-2h0m3-2h0m0 1h0m5-2h0m6 0h0m10 6h0m1-3h0m17 4h0m9-3h0m2-1h0m1 0h0m3 4h0m4-3h0m1 1h0m2-4h0m2 2h0m5-1h0m-559 11h0m6 0h0m4-3h0m5-2h0m0 5h0m2 2h0m2-5h0m9 3h0m2 0h0m1-4h0m0 4h0m5-3h0m1-2h0m0 0h0m1 4h0m5-4h0m3 2h0m0 0h0m2 2h0m3 0h0m3 3h0m4-4h0m0 4h0m12-2h0m2-5h0m2 6h0m5 0h0m1-5h0m1 3h0m4-4h0m6 0h0m5 4h0m0-3h0m3 1h0m11 3h0m3-4h0m4-1h0m1 5h0m1-3h0m4 2h0m21 3h0m1-7h0m5 3h0m8 2h0m6 1h0m3-4h0m3 0h0m0 5h0m12-7h0m3 2h0m1-2h0m0 7h0m1-2h0m1 2h0m6-5h0m10-1h0m3-1h0m3 1h0m14-1h0m4 1h0m8 0h0m1 1h0m21-2h0m2 1h0m24 0h0m1 0h0m10 2h0m4-2h0m4 0h0m1-1h0m17 4h0m0 0h0m1-2h0m2-1h0m4-1h0m5 4h0m0-2h0m8 1h0m4-1h0m0-1h0m2 0h0m3 2h0m12 2h0m5-3h0m1 2h0m1-4h0m2 7h0m1-3h0m8-1h0m1 4h0m3-1h0m5-3h0m7-3h0m5 3h0m0-2h0m1 6h0m5-1h0m6-6h0m2 7h0m6-4h0m5 3h0m0 1h0m0-2h0m7-5h0m6 6h0m3 0h0m2-6h0m0 3h0m7-3h0m2 6h0m0-6h0m1 3h0m1 0h0m8 0h0m5 3h0m2-3h0m2-3h0m0 5h0m2-1h0m7-4h0m5 1h0m2-1h0m0 1h0m1 4h0m18-2h0m2 1h0m0 1h0m1-4h0m7 5h0m3-3h0m4-2h0m4 6h0m3-2h0m5-3h0m5 0h0m6 1h0m1 0h0m1 2h0m2-2h0m2 0h0m3-3h0m0 2h0m-559 9h0m4 1h0m3 3h0m1-3h0m2 0h0m9 3h0m0-2h0m7 2h0m0-7h0m3 4h0m2 1h0m10-2h0m2 0h0m5-3h0m3 4h0m0 0h0m5-4h0m0 3h0m2-2h0m1 4h0m4 2h0m4-4h0m0-3h0m1 6h0m1 1h0m1-5h0m1 3h0m13 2h0m0-6h0m3 6h0m1-1h0m1-5h0m2 6h0m10 0h0m2-4h0m0 0h0m1 1h0m1 3h0m11-6h0m1 3h0m4-1h0m3 0h0m3 1h0m4-3h0m2 0h0m0 2h0m1 0h0m10 2h0m5 1h0m1-5h0m5 2h0m2 1h0m1 2h0m15-4h0m9-1h0m165 0h0m6 2h0m9 3h0m9 0h0m4-4h0m0 0h0m1 3h0m0-1h0m12-4h0m3 4h0m4-2h0m2 5h0m3-2h0m1-3h0m0 2h0m6 2h0m1-5h0m5-1h0m2 7h0m11-1h0m5 1h0m4-1h0m0-4h0m3 4h0m1-4h0m4 1h0m1 1h0m1-4h0m6 5h0m2-5h0m1 6h0m4-3h0m1-3h0m1 7h0m4-3h0m9-1h0m14 4h0m2-5h0m2 2h0m2-3h0m0 6h0m2-1h0m8-2h0m5-4h0m3 2h0m0 4h0m3-4h0m9 3h0m6-3h0m2-2h0m1 2h0m1 4h0m2-5h0m1 1h0m3 3h0m6-2h0m8 0h0m5 2h0m0 2h0m-559 6h0m1 2h0m2-3h0m1-1h0m1 0h0m1 0h0m1 0h0m3-1h0m2 0h0m3 2h0m2 2h0m3 1h0m6-2h0m0-2h0m2-2h0m3 5h0m3-3h0m16 3h0m4-3h0m2-2h0m1 6h0m1 0h0m1-1h0m1-5h0m5 3h0m9 1h0m6-3h0m1 1h0m2-1h0m1-2h0m0 5h0m5-5h0m10 1h0m1 2h0m4 2h0m1-1h0m3 2h0m1-3h0m5 2h0m2-2h0m2-1h0m2 5h0m4-5h0m7-1h0m5 1h0m234-2h0m8 2h0m5-1h0m1 2h0m3 2h0m3 0h0m7-5h0m2 5h0m0-1h0m0-1h0m2 3h0m1 1h0m3-6h0m4 6h0m1-1h0m15-2h0m10-1h0m1 4h0m3-5h0m1 5h0m8-3h0m11 2h0m22 0h0m0 1h0m0-4h0m0-1h0m7-1h0m10 5h0m5 1h0m3-3h0m2-4h0m3 5h0m0-3h0m7 2h0m2-4h0m6 2h0m3-2h0m8 1h0m6 2h0m4 2h0m7-3h0m1 5h0m4-6h0m0 2h0m1-1h0m1 3h0m-558 10h0m1-6h0m6 4h0m3-5h0m4 4h0m2 2h0m5-1h0m0 0h0m1 1h0m6-2h0m5 3h0m1-5h0m4 5h0m3 0h0m11-1h0m0-6h0m1 2h0m0-2h0m3 2h0m7 3h0m1 0h0m1-1h0m5-1h0m1-3h0m12 1h0m6 5h0m4-2h0m1-4h0m6 4h0m2-2h0m11 0h0m0-2h0m291 1h0m10 5h0m2-3h0m5 4h0m7-2h0m1-4h0m1 5h0m1-2h0m10 1h0m1 2h0m12-1h0m13-6h0m5 6h0m2-1h0m0-3h0m2-1h0m2 0h0m12 3h0m1-1h0m2 2h0m10-4h0m1 6h0m5-4h0m3 4h0m1-4h0m5 0h0m2 2h0m0-4h0m6 4h0m2 1h0m2-6h0m4 2h0m2-2h0m3 7h0m4-3h0m2-2h0m0 3h0m3 0h0m1 1h0m3-6h0m3 0h0m2 4h0m0 2h0m-556 4h0m1 2h0m2 2h0m6-5h0m2 2h0m5 1h0m2-3h0m1 2h0m0-3h0m0 1h0m1 3h0m7-1h0m2-3h0m5 4h0m4-4h0m7 1h0m4 2h0m0-1h0m6-1h0m2 1h0m4-1h0m9-1h0m9 1h0m6 1h0m5-1h0m333 0h0m12 0h0m6 4h0m13-1h0m4 2h0m4-3h0m2 2h0m5 2h0m1-2h0m3-3h0m5 0h0m1 5h0m12-1h0m0-4h0m2-2h0m5 6h0m0-4h0m10 5h0m1-6h0m12 2h0m2 4h0m8-6h0m4 3h0m2 3h0m3-4h0m1 1h0m0 1h0m14-1h0m-559 7h0m2 2h0m3-5h0m3 3h0m0-1h0m3 4h0m3-3h0m1-1h0m6 4h0m4-2h0m0-4h0m12 5h0m13 2h0m1-6h0m7 3h0m2-4h0m1 4h0m2-3h0m2-1h0m4 0h0m0 3h0m1-2h0m4 0h0m2 1h0m378 0h0m1-1h0m8-1h0m10 3h0m17 2h0m6-3h0m0 3h0m11 2h0m2 0h0m1-5h0m1 4h0m8-1h0m3-2h0m3 2h0m4 0h0m3-2h0m2 4h0m2-1h0m2-6h0m7 4h0m1 2h0m0-5h0m0 3h0m1-4h0m6 3h0m2 2h0m3-2h0m3 3h0m-558 4h0m7 2h0m2 3h0m4 0h0m6-5h0m4 1h0m4-3h0m2 6h0m0-2h0m6-3h0m6 6h0m460-7h0m11 0h0m1 4h0m5 0h0m6 1h0m5-3h0m1 4h0m7 0h0m17-6h0m1 1h0m5 5h0m-555 7h0m0-4h0m0 5h0m1-1h0m0-3h0m3 1h0m1 2h0m2-1h0m1-4h0m0 4h0m0 2h0m5-4h0m5-2h0m8 2h0m3-2h0m2 2h0m1 4h0m2-6h0m469 2h0m11 1h0m0 0h0m7 1h0m1 0h0m0-1h0m4-3h0m0 5h0m1-4h0m6 0h0m3 5h0m1-6h0m4 6h0m1-1h0m1 1h0m-551 3h0m0 1h0m1 4h0m2-5h0m2 6h0m2-1h0m1-3h0m2 2h0m3 2h0m3-4h0m4 2h0m4-2h0m502-3h0m13 3h0m3 1h0m2 1h0m11 0h0m1-2h0m6-1h0m-561 13h0m4-5h0m551 0h0m5 0h0m1-1h0m-563 8h0m22 6h0m-8 1h0m3 1h0m10-1h0m1 0h0m0 1h0m1 0h0m1-1h0m2 8h0m12 4h0m4 2h0m0-5h0m3 6h0m21 13h0m1-3h0m9 1h0m0 1h0m11 7h0m1-2h0m22 6h0m-11 2h0m8 0h0m15 6h0m5-5h0m2 5h0m5-1h0m1-1h0m6 5h0m4 3h0m1 2h0m5 1h0m19-2h0m1 0h0m7 1h0m318 1h0m27 0h0m4-1h0m9 1h0m-539 1h0m15 2h0m12 4h0m22 1h0m119-6h0m9 1h0m9-2h0m0 5h0m7-4h0m2 3h0m30 3h0m209 0h0m8-1h0m7 0h0m7-1h0m4 1h0m1-2h0m2 2h0m3-1h0m2-1h0m12 3h0m1-3h0m6-1h0m17 1h0m3-3h0m1 1h0m6-2h0m4 5h0m8-4h0m28 4h0m6-1h0m1-3h0m-483 13h0m6 1h0m135-5h0m13 1h0m12 3h0m7 0h0m2 1h0m130 0h0m2 0h0m15-1h0m17-2h0m4-3h0m5 6h0m5-6h0m3 3h0m2 0h0m5-2h0m1 4h0m26-4h0m2 0h0m-394 7h0m22 4h0m131-5h0m14 1h0m11 0h0m14-1h0m2 4h0m5 0h0m26 1h0m6 1h0m4-3h0m14 4h0m2-4h0m4-2h0m7 1h0m1 0h0m4 0h0m15 5h0m10-3h0m1 1h0m1-5h0m6 6h0m21-6h0m8 3h0m1-3h0m14 1h0m-284 14h0m180-6h0m11-1h0m-158 9h0m29 3h0m301 1h0m44 2h0m-539 3h0m15 2h0m210-2h0m6 5h0m2-1h0m15-2h0m8 1h0m11 2h0m69 0h0m24-1h0m6 1h0m6 0h0m65-4h0m11-1h0m4 0h0m15 1h0m15-3h0m35 1h0m-464 10h0m50 2h0m179-4h0m2-1h0m19 5h0m2-3h0m7 1h0m26-3h0m28 3h0m-265 5h0m82 9h0m54 6h0m186 0h0m47-2h0m2 1h0m31 0h0m13-2h0m12 1h0m25 1h0m-549 5h0m7-1h0m24-1h0m6 5h0m1 0h0m12 0h0m8-2h0m1 2h0m7 1h0m22 0h0m156-7h0m23 3h0m62 1h0m10-1h0m17 2h0m6-2h0m1-1h0m33 1h0m19-3h0m8 4h0m30-2h0m1-2h0m2 1h0m60-1h0m25 0h0m-441 14h0m7 0h0m18 1h0m-19 1h0m30 1h0m23 5h0m-159 8h0m168-6h0m31 0h0m17 3h0m4-2h0m112 5h0m3 1h0m45-1h0m35-2h0m32 2h0m32-2h0m14-3h0m2 3h0m2 1h0m36-4h0m-513 9h0m77 5h0m183-6h0m24 3h0m59-3h0m13-1h0m-299 8h0m50 3h0m10 4h0m23 5h0m15-3h0m22 4h0m44 2h0m178 0h0m39 0h0m65 0h0m-519 3h0m6 4h0m2 1h0m3 0h0m2-1h0m0-2h0m17 3h0m20-2h0m156-5h0m41 0h0m21 5h0m2-1h0m53 0h0m40 3h0m8 0h0m13-5h0m10 3h0m21-3h0m16 2h0m6-2h0m86-2h0m12 1h0m-463 7h0m25 4h0m11 4h0m14 3h0m5-3h0m9 2h0m16 0h0m20 4h0m3 0h0m-21 2h0m41 5h0m16 1h0m16 0h0m7 1h0m31 0h0m96 0h0m43 0h0m8-1h0m29 0h0m11 1h0m18-3h0m6 3h0m17-5h0m18 3h0m1 0h0m8-1h0m4-2h0m1 1h0m8 0h0m-540 5h0m0 0h0m31 0h0m30 2h0m193-1h0m9 2h0m13-2h0m3 4h0m16-1h0m8 0h0m15-1h0m11-2h0m29 2h0m19 0h0m2-3h0m10 3h0m4-3h0m4 0h0m-273 12h0m19 7h0m6-2h0m16-1h0m5 4h0m2-3h0m304 6h0m47 0h0m-530 4h0m26 4h0m212-7h0m1 2h0m37 4h0m50-1h0m29 0h0m13-1h0m24-1h0m11 4h0m5-5h0m16 5h0m8 0h0m6-4h0m13 0h0m10 0h0m23-2h0m5-1h0m54 2h0m16-1h0m-485 7h0m20 5h0m10 2h0m5-2h0m2 2h0m178-5h0m75-2h0m1 0h0m16 0h0m29 0h0m-315 8h0m12 2h0m20-1h0m5 3h0m7 2h0m9-4h0m1 3h0m4 1h0m9-2h0m-6 5h0m36 2h0m13 0h0m26 2h0m1 1h0m24 1h0m247-3h0m10 3h0m38-4h0m5 3h0" style="stroke-width:6.4"/>
<circle cx="105.9" cy="87.4" r="1.6" fill="#000"/>
<rect x="30.45" y="14.1" width="145.95" height="147.1" fill="none" stroke="#a8a8a8" stroke-width="1"/>
<path fill="none" stroke="#888" stroke-width="0.8" d="M30.8 154.3h1.4M176.4 154.3h-1.4M30.8 146.9h2.5M176.4 146.9h-2.5M30.8 139.5h1.4M176.4 139.5h-1.4M30.8 132.1h1.4M176.4 132.1h-1.4M30.8 124.7h1.4M176.4 124.7h-1.4M30.8 117.3h2.5M176.4 117.3h-2.5M30.8 109.8h1.4M176.4 109.8h-1.4M30.8 102.4h1.4M176.4 102.4h-1.4M30.8 95.0h1.4M176.4 95.0h-1.4M30.8 87.6h2.5M176.4 87.6h-2.5M30.8 80.2h1.4M176.4 80.2h-1.4M30.8 72.8h1.4M176.4 72.8h-1.4M30.8 65.4h1.4M176.4 65.4h-1.4M30.8 57.9h2.5M176.4 57.9h-2.5M30.8 50.5h1.4M176.4 50.5h-1.4M30.8 43.1h1.4M176.4 43.1h-1.4M30.8 35.7h1.4M176.4 35.7h-1.4M30.8 28.3h2.5M176.4 28.3h-2.5M30.8 20.9h1.4M176.4 20.9h-1.4M36.1 161.2v-1.3M36.1 14.1v1.3M43.2 161.2v-1.3M43.2 14.1v1.3M50.2 161.2v-1.3M50.2 14.1v1.3M57.3 161.2v-1.3M57.3 14.1v1.3M64.4 161.2v-1.3M64.4 14.1v1.3M71.5 161.2v-1.3M71.5 14.1v1.3M78.5 161.2v-1.3M78.5 14.1v1.3M85.6 161.2v-1.3M85.6 14.1v1.3M92.7 161.2v-1.3M92.7 14.1v1.3M99.7 161.2v-1.3M99.7 14.1v1.3M106.8 161.2v-1.3M106.8 14.1v1.3M113.9 161.2v-1.3M113.9 14.1v1.3M120.9 161.2v-1.3M120.9 14.1v1.3M128.0 161.2v-1.3M128.0 14.1v1.3M135.1 161.2v-1.3M135.1 14.1v1.3M142.2 161.2v-1.3M142.2 14.1v1.3M149.2 161.2v-1.3M149.2 14.1v1.3M156.3 161.2v-1.3M156.3 14.1v1.3M163.4 161.2v-1.3M163.4 14.1v1.3M170.4 161.2v-1.3M170.4 14.1v1.3M32.7 161.2v-2.5M32.7 14.1v2.5M103.4 161.2v-2.5M103.4 14.1v2.5M174.1 161.2v-2.5M174.1 14.1v2.5"/>
<text x="28.1" y="32.6" text-anchor="end" class="t10">4</text>
<text x="28.1" y="61.5" text-anchor="end" class="t10">2</text>
<text x="28.1" y="91.5" text-anchor="end" class="t10">0</text>
<text x="28.1" y="121.3" text-anchor="end" class="t10">−2</text>
<text x="28.1" y="151.4" text-anchor="end" class="t10">−4</text>
<path d="M26.2 170.6h6.6" stroke="#000" stroke-width="0.9"/>
<text x="33.8" y="173.6" class="t125"><tspan class="gi">π</tspan></text>
<text x="103.5" y="173.2" text-anchor="middle" class="t10">0</text>
<text x="170.9" y="173.6" class="t125"><tspan class="gi">π</tspan></text>
<text x="84.0" y="189.7" class="t11" textLength="38" lengthAdjust="spacingAndGlyphs">Δ<tspan class="gi">θ</tspan>(t=0)</text>
<text transform="translate(10.0,134) rotate(-90)" class="t11" textLength="92.6" lengthAdjust="spacingAndGlyphs">Δ<tspan class="gi">ω</tspan>(t=0)/(2<tspan class="gi">π</tspan>) [Hz]</text>
<text x="80.3" y="8.6" class="t11" textLength="41.4" lengthAdjust="spacingAndGlyphs"><tspan class="gi">τ</tspan>=0 sec</text>
<text x="164.6" y="8.6" class="t12" textLength="14.1" lengthAdjust="spacingAndGlyphs">(<tspan font-weight="normal">a</tspan>)</text>
<path fill="none" stroke="#82d26c" stroke-width="1.6" stroke-linecap="round" transform="scale(.25)" d="M1360 69h0m-303 96h0m64-4h0m64 5h0m175-6h0m-152 19h0m242 60h0m-410 10h0m230 12h0m117 10h0m39-5h0m-455 63h0m335 54h0m-15 13h0m-94 5h0m140 37h0m-135 6h0m86-1h0m105 12h0m-243 17h0m63 19h0m-202 13h0m306 17h0m44 64h0m39 31h0" style="stroke-width:6.4"/>
<path fill="none" stroke="#1c0264" stroke-width="1.6" stroke-linecap="round" transform="scale(.25)" d="M966 71h0m8-1h0m1-1h0m0 0h0m5 1h0m9-1h0m11 1h0m27 0h0m19-1h0m2 1h0m7 1h0m39-1h0m3-1h0m20 2h0m0-2h0m37 2h0m0 0h0m13-1h0m2 0h0m22-1h0m10 1h0m31 1h0m4-1h0m6 1h0m16 0h0m3 0h0m1-1h0m22 0h0m5 1h0m9-1h0m5 1h0m18-1h0m2 0h0m15 0h0m49-1h0m18 2h0m5-1h0m24 0h0m4 0h0m10-1h0m10 1h0m36 0h0m3-1h0m4 1h0m14 0h0m-540 4h0m1-1h0m13 4h0m2 1h0m4-4h0m5 0h0m3-2h0m2 6h0m5 0h0m2 0h0m3-3h0m2-1h0m12 4h0m1 0h0m2 0h0m4-6h0m4 3h0m0-3h0m1 5h0m1-3h0m4 0h0m2-2h0m7 0h0m2 0h0m1 3h0m5 3h0m1-5h0m1 4h0m7-5h0m10 2h0m2 5h0m3-7h0m9 4h0m2 1h0m8-2h0m3 0h0m6 2h0m4 1h0m3-5h0m0 0h0m7 5h0m2-5h0m3 3h0m1-2h0m1 5h0m6-2h0m4 2h0m3-5h0m6-2h0m5 7h0m5-5h0m5 1h0m1 3h0m5-5h0m5 6h0m2-7h0m9 4h0m9 3h0m6-5h0m9-1h0m0-1h0m5 4h0m1 2h0m0-1h0m3 0h0m1-5h0m4 7h0m5-2h0m3-2h0m2-2h0m5 2h0m0-1h0m2 3h0m8-5h0m2 7h0m0-3h0m1 2h0m1 1h0m1-1h0m0-6h0m2 4h0m4 0h0m4-2h0m13 0h0m5 2h0m4-4h0m4 0h0m11 4h0m2 1h0m1-2h0m3 4h0m1-7h0m2 6h0m0 1h0m1-1h0m11 1h0m3-7h0m3 7h0m1-1h0m7-1h0m15 0h0m2 1h0m3-1h0m4 0h0m3-5h0m12 1h0m3 2h0m4 3h0m1-1h0m2 1h0m2-3h0m4 4h0m3-7h0m1 1h0m0-1h0m0 3h0m1 2h0m2-3h0m3 3h0m2 0h0m2-2h0m4-1h0m2 4h0m2-3h0m10 2h0m3 0h0m1-1h0m0 3h0m1-5h0m0-1h0m2 5h0m4-4h0m3-2h0m3 4h0m0 3h0m0 0h0m4-6h0m1 3h0m9-2h0m1 1h0m4-2h0m6-1h0m1 2h0m4 0h0m1 1h0m2-1h0m2 2h0m4-1h0m7-1h0m1 5h0m7-7h0m0 5h0m2 2h0m2 0h0m12-1h0m4-3h0m-554 6h0m6 3h0m1-4h0m5 6h0m5-1h0m4 1h0m1 0h0m6-5h0m1 1h0m2 0h0m0 3h0m4-3h0m0 3h0m1-5h0m2 0h0m0 6h0m3 1h0m6 0h0m11-7h0m1 6h0m1-6h0m2 6h0m0-1h0m1 0h0m2-1h0m14 1h0m4-2h0m0 0h0m7-1h0m0 1h0m9 4h0m2-4h0m0-1h0m1 2h0m12-1h0m7-2h0m8 4h0m2-4h0m3 1h0m19 4h0m11 0h0m5-2h0m2 3h0m0-6h0m4 3h0m2-3h0m2 1h0m7 0h0m4-2h0m0 5h0m1-3h0m1 0h0m2 5h0m1 0h0m2-3h0m6-1h0m10 3h0m4-5h0m7 6h0m3-2h0m7-5h0m4 3h0m9 0h0m5 2h0m11-2h0m1-2h0m1 2h0m0-1h0m1 4h0m7-3h0m5-3h0m1 1h0m3-1h0m1 1h0m9 3h0m4-4h0m15 6h0m1 1h0m6-4h0m1 3h0m0-3h0m1-1h0m1 1h0m1-1h0m8 5h0m9-5h0m0 0h0m14 2h0m7 2h0m3-1h0m5-2h0m3 1h0m2-1h0m2 1h0m14-2h0m3 1h0m5-3h0m6 0h0m21 5h0m5-2h0m6-1h0m0 5h0m7-4h0m3 3h0m1-4h0m3 1h0m1-1h0m5-1h0m5 3h0m4 2h0m0-4h0m3 0h0m0 1h0m12 2h0m6 2h0m1-2h0m3-2h0m5 2h0m9 0h0m0 1h0m3-1h0m0 0h0m2 2h0m2 0h0m2-4h0m5-2h0m0 3h0m0 3h0m3-6h0m1 0h0m1 0h0m1 4h0m4-2h0m0 0h0m13-2h0m3 2h0m2-3h0m3 6h0m4 0h0m0-2h0m-548 10h0m6 1h0m1-6h0m5 1h0m1-1h0m13 4h0m1-1h0m5-4h0m4 4h0m7-3h0m5 3h0m0 1h0m5-3h0m4 4h0m2 1h0m2 0h0m1-2h0m2-1h0m3 2h0m4-2h0m27-3h0m0 4h0m2-4h0m9 6h0m0-5h0m2 3h0m2 0h0m30-2h0m2 2h0m0 0h0m1-3h0m4-2h0m5 0h0m18 7h0m5-2h0m4 1h0m7-4h0m0-2h0m2 6h0m0-1h0m4-1h0m2-3h0m3-1h0m1 3h0m2 3h0m9-3h0m1 4h0m6-2h0m1-3h0m6 3h0m1-3h0m9 4h0m2-3h0m0 3h0m8-4h0m0 0h0m3 4h0m1-1h0m2 1h0m3-6h0m3 1h0m3 2h0m1-2h0m1 1h0m2-1h0m1 3h0m1-2h0m1-1h0m3 1h0m1 5h0m0-1h0m5-1h0m1 2h0m2-4h0m15 0h0m6 2h0m1 1h0m1-2h0m0-2h0m1-2h0m3 6h0m4-4h0m3 3h0m0-2h0m4-2h0m3 2h0m5 2h0m4-1h0m10-1h0m0 3h0m2-2h0m6-4h0m8 2h0m6 0h0m2 1h0m3 2h0m0 1h0m2 1h0m1 0h0m6-7h0m1 6h0m1-1h0m2-3h0m1 5h0m7-4h0m1-3h0m4 2h0m1 5h0m3-4h0m1-1h0m0 0h0m0 1h0m5 0h0m9 1h0m3 0h0m0-4h0m7 2h0m15 0h0m4 5h0m1-4h0m1-2h0m11 0h0m0 0h0m5 2h0m0-2h0m0 4h0m1-5h0m4 2h0m9 2h0m3-3h0m0 1h0m1 5h0m1-7h0m6 1h0m2 2h0m17 0h0m1 2h0m0-1h0m15 3h0m4-2h0m4 0h0m2 0h0m5 1h0m2 1h0m5-7h0m4 2h0m4 3h0m1-5h0m4 4h0m-563 8h0m8-4h0m7 0h0m6 3h0m5-1h0m0 5h0m7-4h0m1 0h0m5-2h0m0 1h0m10 1h0m0 4h0m2 0h0m2-4h0m1-2h0m1 3h0m2-1h0m2-1h0m2-2h0m4 0h0m5 7h0m2-3h0m19 2h0m4 0h0m2 0h0m1-4h0m11-2h0m5 5h0m0 2h0m5-7h0m16 7h0m3-3h0m0-3h0m1 4h0m0-5h0m5 3h0m0 4h0m5-3h0m4 0h0m2-2h0m1 5h0m10-3h0m16-3h0m0 6h0m0 0h0m4-1h0m9-5h0m2 3h0m3-4h0m2 5h0m4-3h0m0 1h0m1 3h0m2-3h0m9 3h0m2-6h0m3 2h0m2 4h0m0 1h0m9-1h0m1 0h0m1-6h0m7 3h0m1-2h0m2 1h0m0-1h0m1 1h0m7 3h0m0-5h0m1 3h0m2 2h0m3 0h0m9-5h0m0 0h0m3 6h0m2-2h0m0-2h0m1 0h0m10-2h0m0 7h0m8-4h0m3 3h0m2-6h0m1 4h0m0 2h0m5-6h0m1 4h0m0-3h0m2 3h0m8 2h0m5-3h0m2 4h0m3-6h0m2 1h0m1 1h0m0-3h0m10 7h0m4-1h0m4-4h0m3 4h0m0-5h0m2 5h0m3-5h0m8 2h0m7-1h0m0-1h0m6 2h0m0 4h0m4-2h0m0-2h0m0 4h0m3-6h0m2 2h0m4 2h0m2 2h0m6-2h0m2 1h0m3-6h0m2 0h0m1 4h0m1 2h0m1-4h0m9-2h0m3 1h0m0 2h0m6-1h0m4-1h0m9-1h0m18 6h0m0-6h0m0 0h0m5 2h0m1 5h0m0-7h0m2 5h0m19-3h0m6 3h0m3-2h0m1 2h0m0-4h0m6-1h0m3 0h0m4 3h0m1 2h0m6-1h0m2 2h0m7-2h0m2 0h0m3-2h0m5 3h0m1 2h0m4-7h0m1 2h0m1-2h0m4 4h0m3 0h0m2-1h0m5-2h0m1 1h0m1 4h0m5 0h0m1-5h0m1 3h0m-543 7h0m2 0h0m11 0h0m1 1h0m6 1h0m8 0h0m8 1h0m5-4h0m5-1h0m4-1h0m8 1h0m6-1h0m2 7h0m3-3h0m6-3h0m1 6h0m2-3h0m2 1h0m5-4h0m5-1h0m3 3h0m4-3h0m7 0h0m4 6h0m9-4h0m5 4h0m4-2h0m7-3h0m1-1h0m6 0h0m1 6h0m4 1h0m1 0h0m1-4h0m6 2h0m12-1h0m0 1h0m1-2h0m1 0h0m0 4h0m0-5h0m2 4h0m2-4h0m3 3h0m1 1h0m0-6h0m4 7h0m3-3h0m2 0h0m2-1h0m4 3h0m4-4h0m1 3h0m0 2h0m4-1h0m2-5h0m3-1h0m4 1h0m5 1h0m5 3h0m4 2h0m8-5h0m8-2h0m2 6h0m2-4h0m7 4h0m0-1h0m3-4h0m6 1h0m5-1h0m0 6h0m0-2h0m7 2h0m2-1h0m1-2h0m0-3h0m1-1h0m3 3h0m2 3h0m1-1h0m9-3h0m0 2h0m2-2h0m1-2h0m2 7h0m1-5h0m3 1h0m1 1h0m8 0h0m1 2h0m6 1h0m14-7h0m5 4h0m3-3h0m0 1h0m3 2h0m0 2h0m3-3h0m2 0h0m10 0h0m0 4h0m3-7h0m4 2h0m4 2h0m1-4h0m3 3h0m2 2h0m0 0h0m7-5h0m3 0h0m3 1h0m6 2h0m1 4h0m1 0h0m1-5h0m1 3h0m7 2h0m3 0h0m6-2h0m1-4h0m1 3h0m15-3h0m0 0h0m6 0h0m4 6h0m0-4h0m2-3h0m13 6h0m6-2h0m1-2h0m0 1h0m1 1h0m7 3h0m5-2h0m2 2h0m1-2h0m0 0h0m1-4h0m1 3h0m1 0h0m1 1h0m3-5h0m3 3h0m2 3h0m5 0h0m1 1h0m0-1h0m7-4h0m0-2h0m2 6h0m7-1h0m3-4h0m3 2h0m5-2h0m6 6h0m1-7h0m3 6h0m3-4h0m3 1h0m2 4h0m2-3h0m3-3h0m1 5h0m1-6h0m-560 15h0m0-5h0m2 0h0m1 1h0m2-3h0m11 5h0m6 1h0m1 1h0m1-7h0m6 2h0m6 3h0m4 1h0m5-4h0m1 2h0m1-3h0m0 5h0m0-1h0m1-1h0m0 1h0m0 1h0m1-2h0m3 3h0m3-1h0m11-6h0m1 5h0m3 2h0m2-7h0m2 7h0m1-7h0m2 2h0m3 2h0m4 0h0m5 0h0m0-1h0m6-1h0m0 1h0m8-1h0m0 1h0m9 0h0m2-3h0m1 6h0m4 1h0m2-1h0m0 1h0m11-5h0m3 3h0m3 2h0m6-3h0m1-1h0m2 1h0m2 3h0m2 0h0m0-3h0m7-3h0m4 6h0m3-4h0m1-2h0m4 4h0m13-5h0m1 1h0m1 5h0m16-1h0m9 0h0m6-5h0m0 1h0m19 6h0m2-6h0m5 2h0m3 2h0m3-4h0m1 0h0m1 3h0m3-3h0m4 0h0m0 2h0m0-3h0m0 6h0m11 1h0m1 0h0m1-4h0m1 0h0m3 2h0m0 2h0m1-6h0m1 4h0m5-4h0m0 0h0m2-1h0m6 2h0m11-2h0m0 3h0m1-1h0m0 2h0m10 2h0m12-2h0m3-1h0m2-1h0m0 5h0m1-6h0m2 2h0m2 2h0m0-5h0m1 1h0m1-1h0m2 6h0m15-6h0m8 1h0m5 1h0m1 5h0m2-3h0m5-4h0m7 0h0m1 1h0m4 6h0m12-4h0m1-2h0m10 6h0m1-5h0m7 0h0m3-1h0m1 2h0m1 1h0m0-2h0m3-2h0m3 6h0m7-2h0m2 1h0m10 1h0m4-5h0m14 6h0m5 0h0m10-2h0m5 2h0m7-2h0m3-1h0m6 3h0m10-6h0m3 0h0m5-1h0m4 4h0m1 0h0m2-1h0m10-1h0m2 3h0m2 2h0m5-7h0m4 6h0m2-6h0m2 5h0m1 2h0m2-6h0m2-1h0m2 6h0m-562 4h0m1 0h0m6 3h0m0-2h0m7 2h0m4 2h0m0-2h0m11 1h0m5-2h0m3-4h0m0 5h0m3-4h0m1 4h0m3-1h0m8-2h0m1 1h0m4 4h0m0-1h0m23-4h0m1 4h0m5 0h0m6-3h0m1-1h0m13 4h0m4-2h0m10 1h0m4-5h0m8 4h0m1 1h0m2 1h0m0-4h0m1 5h0m4-4h0m5-3h0m0 0h0m0 0h0m5 0h0m12 5h0m9-3h0m0 0h0m1-1h0m1 4h0m5 2h0m4-4h0m1 2h0m0 1h0m8-4h0m4 3h0m9-4h0m2 0h0m8 2h0m10 2h0m2 1h0m4-3h0m1 4h0m3-3h0m8 0h0m1-4h0m2 4h0m0 0h0m11 0h0m0 3h0m8-7h0m3 3h0m5 3h0m2 0h0m4-3h0m11 2h0m1-1h0m0 2h0m3 0h0m2-6h0m2 3h0m1 2h0m1-1h0m15 3h0m3-7h0m0 2h0m0 4h0m3-3h0m1 3h0m3 1h0m6 0h0m3-2h0m6-4h0m4 2h0m2 1h0m1 3h0m0-4h0m7-1h0m0 4h0m3-4h0m2 1h0m0 0h0m4-1h0m1 0h0m3 5h0m4-7h0m3 2h0m0 0h0m10 4h0m5-5h0m7 4h0m1 2h0m5-7h0m0 5h0m2 1h0m4-6h0m4 3h0m2 3h0m1-2h0m3 3h0m12 0h0m8-7h0m0 7h0m0-5h0m1 2h0m1-2h0m0 5h0m1-1h0m2-6h0m1 6h0m1 1h0m13-4h0m4 2h0m5 0h0m0 1h0m6-5h0m13 0h0m1 1h0m2 1h0m6-2h0m3 1h0m0-1h0m1 3h0m1-4h0m9 5h0m4-2h0m10 2h0m5-2h0m0-3h0m10 3h0m0 4h0m6-6h0m1 3h0m2 3h0m5-1h0m2-5h0m4 2h0m6-3h0m-556 14h0m4-1h0m35-2h0m0-3h0m4 6h0m4-3h0m2 4h0m1-2h0m10-5h0m1 3h0m0-2h0m1 1h0m0-2h0m2 3h0m5-2h0m5-1h0m5 2h0m3 3h0m2-1h0m0-1h0m5 0h0m1 2h0m1-4h0m7 3h0m1 3h0m2-3h0m2 1h0m5-5h0m12 4h0m5-2h0m5 2h0m1-4h0m8 4h0m0 2h0m0-5h0m0 2h0m1 4h0m0-6h0m8 6h0m1-2h0m1-5h0m2 3h0m5 3h0m3-5h0m0 6h0m6-5h0m2 5h0m0-3h0m2 1h0m3-5h0m1 0h0m3 2h0m2 3h0m6-3h0m6 4h0m9-2h0m6 3h0m1-2h0m1-4h0m6-1h0m2 4h0m8 1h0m2 1h0m0-5h0m9 5h0m2 1h0m3-3h0m2-4h0m1 0h0m3 3h0m13 0h0m7 0h0m4-3h0m1 4h0m3-3h0m11 3h0m1 2h0m6 1h0m5-3h0m3-1h0m0 3h0m4-4h0m2-1h0m0 4h0m3-1h0m2-3h0m0 4h0m2 1h0m7-6h0m1 1h0m2 0h0m3 4h0m0 1h0m9-1h0m2 1h0m1 0h0m4 0h0m1-3h0m1 1h0m0-4h0m9 2h0m5 4h0m2-2h0m1-2h0m1-1h0m2 6h0m2 0h0m5-7h0m2 4h0m6 0h0m1-1h0m1 3h0m1-6h0m12 1h0m2-1h0m4 2h0m8 1h0m6-3h0m0 0h0m8 6h0m1-5h0m1 2h0m3 2h0m4-3h0m1 5h0m12 0h0m7-7h0m0 0h0m3 1h0m5 4h0m6-3h0m6 3h0m1-1h0m1-2h0m1 4h0m3-2h0m4-1h0m2-1h0m1-2h0m0 2h0m2 4h0m2-3h0m5 4h0m3-7h0m2 2h0m1 3h0m5-2h0m1-1h0m1-1h0m3 4h0m1 0h0m2-5h0m3 5h0m6 1h0m9-4h0m0 1h0m5 2h0m4-3h0m3 1h0m3 3h0m1-5h0m1 6h0m0-6h0m2 3h0m0 1h0m2-5h0m5 3h0m-563 7h0m3 3h0m5 1h0m2-2h0m1 0h0m0 2h0m3-6h0m0 6h0m1-3h0m4 1h0m0 1h0m3 2h0m9-1h0m6-3h0m2-3h0m1 0h0m2 6h0m1-4h0m3 5h0m2-3h0m6 3h0m5-1h0m1-5h0m8 4h0m4-3h0m0-1h0m1 5h0m8-2h0m1-4h0m1 6h0m13-1h0m0 1h0m5-6h0m1 1h0m6 5h0m11-3h0m0-1h0m4-2h0m12 0h0m2 6h0m1-2h0m1-3h0m7 1h0m2 4h0m6-6h0m2 7h0m1-4h0m4-3h0m3 6h0m6-1h0m1-5h0m2 2h0m1-1h0m1 3h0m5 3h0m1-1h0m3-6h0m3 2h0m39 0h0m0 5h0m1-4h0m9 0h0m8-3h0m0 5h0m1-1h0m2 0h0m5-3h0m5 3h0m3 1h0m7-3h0m10 3h0m3 0h0m3 2h0m1-2h0m8 1h0m3-2h0m4 0h0m1-1h0m1-1h0m3 3h0m5 0h0m8-4h0m2-1h0m7 6h0m0-1h0m7 0h0m2 2h0m0-7h0m4 4h0m1 3h0m4-7h0m9 1h0m3 6h0m0-4h0m2-2h0m2 6h0m1-3h0m4-3h0m0 0h0m2 1h0m2 1h0m2 0h0m2 2h0m0-5h0m1 3h0m2 0h0m1-2h0m2 6h0m1-5h0m1 2h0m2-4h0m2 2h0m2 5h0m3 0h0m0-3h0m4 3h0m0-3h0m3-2h0m1 0h0m6-1h0m5 3h0m14 0h0m3-4h0m1 0h0m1 3h0m7-1h0m1-1h0m0 6h0m11-7h0m6 2h0m1 4h0m8-5h0m7 2h0m4-2h0m3-1h0m2 7h0m3 0h0m2-6h0m11 6h0m3-1h0m4-4h0m10 1h0m6 0h0m1-1h0m4 1h0m6-2h0m8-1h0m3 4h0m1 2h0m3-5h0m9 3h0m7-1h0m-557 10h0m0 1h0m7-4h0m0 4h0m4 1h0m1-6h0m1 6h0m4-2h0m2-3h0m6 5h0m0-2h0m8-3h0m0 1h0m5 2h0m3-1h0m0-1h0m3 0h0m2 3h0m7-5h0m1-1h0m2 6h0m8-3h0m2 0h0m5 3h0m5-3h0m2 4h0m2-1h0m1-5h0m4 5h0m2-2h0m4-2h0m3 0h0m14 1h0m3 4h0m6-6h0m4-1h0m2 6h0m2-5h0m0 5h0m2 1h0m0 0h0m4-7h0m6 5h0m6-2h0m2 1h0m2 1h0m2-5h0m6 6h0m2-6h0m2 4h0m2-4h0m10 1h0m7 1h0m2 1h0m0 2h0m7 0h0m0-3h0m5 3h0m2 2h0m6-3h0m4-1h0m4 1h0m2-2h0m1 3h0m1-2h0m2 1h0m1-2h0m1-2h0m4 2h0m3 5h0m13-1h0m1-5h0m5 2h0m0 0h0m4 2h0m2-3h0m1 4h0m1-4h0m3-2h0m0 5h0m1-1h0m2-3h0m2 0h0m3 6h0m2-7h0m1 7h0m1-6h0m2 3h0m1 2h0m0-1h0m2-1h0m1 2h0m1-3h0m0 3h0m8-4h0m5-2h0m1 6h0m1-5h0m1-1h0m4 2h0m6 3h0m1 1h0m1-5h0m13 0h0m1 4h0m1-1h0m1-1h0m4 3h0m1 1h0m1-3h0m8-2h0m15-1h0m6 4h0m3-1h0m3-3h0m0 1h0m0 2h0m7 0h0m13-3h0m1 3h0m1-3h0m1 0h0m0 5h0m7-4h0m5 5h0m3-5h0m1 3h0m2-3h0m3 5h0m3-2h0m1 0h0m2-4h0m0 5h0m3-5h0m13 6h0m1-6h0m6 4h0m0-3h0m7-2h0m1 3h0m1 3h0m1-2h0m2 1h0m12-2h0m3 3h0m3-2h0m3-4h0m6 7h0m10-5h0m4 4h0m3-3h0m4-3h0m0 5h0m1-5h0m0 7h0m0-1h0m2 1h0m1-5h0m0 4h0m2-2h0m2 0h0m6-3h0m4 4h0m8 0h0m1 0h0m5-4h0m7-1h0m3 3h0m5 4h0m2-7h0m2 6h0m4-3h0m2-3h0m0 7h0m3-4h0m9 4h0m-560 8h0m4-6h0m10 1h0m2 3h0m2 0h0m4 2h0m5 0h0m0-4h0m3 2h0m2-5h0m0 1h0m2 2h0m2 0h0m1-2h0m2 3h0m1-3h0m4 3h0m7-2h0m0 5h0m3-7h0m4 4h0m3 2h0m1-6h0m3 4h0m1-2h0m1 1h0m2 0h0m2 3h0m4-5h0m2 1h0m3 2h0m2-2h0m3 4h0m9-5h0m5 5h0m1-1h0m1-3h0m4-2h0m9 6h0m2 0h0m2 1h0m3 0h0m1-5h0m0 0h0m0 0h0m1 0h0m12 0h0m0 5h0m2-1h0m1-2h0m3-1h0m2-3h0m7 3h0m4 0h0m0 2h0m2 2h0m2-7h0m4 5h0m2 2h0m6-7h0m2 3h0m6 1h0m4-3h0m11-1h0m2 3h0m1 1h0m2-3h0m1 4h0m1 0h0m5 2h0m5-7h0m1 7h0m3-1h0m14-2h0m3 3h0m0-6h0m3 6h0m6-4h0m7-2h0m4 5h0m1 0h0m6-4h0m24 0h0m7 2h0m1-4h0m0 5h0m5 1h0m6-4h0m0 5h0m1-5h0m2-1h0m7 0h0m1 2h0m3-2h0m1 5h0m1-2h0m2 3h0m5-1h0m5-1h0m2-5h0m2 7h0m1-4h0m2 2h0m1 0h0m2-4h0m1 4h0m1 0h0m9-2h0m1 1h0m0-2h0m4 2h0m2 3h0m7-1h0m1 0h0m3-2h0m10 1h0m7 1h0m5 1h0m0-4h0m1-3h0m7 4h0m3-4h0m4 6h0m1-6h0m1 0h0m4 1h0m1 4h0m3 1h0m0 1h0m9-6h0m8 3h0m4-4h0m2 7h0m1-7h0m2 2h0m4-2h0m1 3h0m12 3h0m2 0h0m2-1h0m2-4h0m3 5h0m1-1h0m1 1h0m2-2h0m1-2h0m1 5h0m2-1h0m1-6h0m4 7h0m0-6h0m1 5h0m0 1h0m7-7h0m0 3h0m1-2h0m1 1h0m5 4h0m0-5h0m5 2h0m1 3h0m1 0h0m8 0h0m9-3h0m9 2h0m1-2h0m2 2h0m1-2h0m7-2h0m3 6h0m0-6h0m7 4h0m3-2h0m7 2h0m2 1h0m-555 2h0m2 6h0m7-2h0m0-4h0m1 5h0m2-2h0m19 1h0m1 1h0m3-4h0m4 6h0m8-3h0m11-1h0m6-1h0m0 3h0m1-4h0m4 6h0m2-7h0m5 7h0m7-7h0m3 4h0m4 2h0m2-1h0m3 1h0m8-2h0m5 1h0m1 1h0m2-4h0m1-1h0m10 4h0m4-3h0m7 0h0m4-1h0m2 2h0m3-2h0m2 2h0m3 1h0m2-1h0m5 2h0m12 2h0m2-3h0m3 2h0m12 0h0m3-2h0m6-2h0m2-1h0m2 6h0m21-1h0m2-6h0m0 0h0m5 5h0m1 1h0m1 0h0m0-1h0m2-3h0m2 0h0m4 4h0m3-1h0m13 2h0m1-4h0m0-3h0m1 1h0m20 4h0m5-5h0m0 0h0m4 6h0m13-5h0m7 2h0m1 2h0m2-2h0m9 2h0m2 2h0m3-2h0m9 2h0m7-4h0m1-2h0m1 1h0m0 5h0m9-5h0m9-2h0m0 3h0m12 4h0m0-2h0m3-1h0m2-2h0m0 3h0m1-4h0m5 3h0m9-1h0m0 1h0m0 1h0m2 2h0m0-7h0m0 0h0m1 3h0m0 4h0m6-5h0m1 5h0m5 0h0m21-4h0m8-1h0m3 5h0m2-2h0m3 1h0m9-1h0m0-4h0m1 5h0m7-4h0m1 1h0m1 2h0m5 2h0m2-2h0m2 0h0m1-3h0m2 5h0m5-6h0m0 6h0m7-7h0m3 6h0m1-2h0m5-2h0m1-1h0m1 3h0m1-4h0m2 5h0m4-2h0m0-1h0m2 1h0m4 0h0m1 1h0m2-4h0m22 0h0m3 7h0m6-6h0m0 1h0m1 0h0m5 0h0m9 5h0m3-5h0m-560 9h0m0-2h0m3 6h0m2-1h0m2 0h0m3 1h0m4-1h0m8-4h0m3 3h0m3-3h0m12 5h0m3-4h0m1 4h0m3 0h0m7-1h0m6 0h0m4-6h0m9 3h0m2 4h0m2-6h0m5 2h0m5 0h0m3-2h0m3 4h0m2 2h0m2-7h0m0 0h0m1 2h0m1 4h0m4-1h0m3-4h0m2 4h0m3-2h0m3 3h0m3-4h0m7-2h0m3 5h0m3-2h0m1-3h0m1 5h0m3 2h0m1-4h0m1-2h0m6 0h0m1 6h0m1 0h0m1-2h0m5 0h0m2-3h0m0 4h0m2-2h0m2-3h0m1 3h0m2-1h0m1 2h0m3-5h0m3 1h0m8 0h0m2 2h0m0 1h0m9 1h0m6-2h0m7 3h0m1-1h0m3-5h0m1 1h0m0 1h0m2 1h0m2-2h0m0 5h0m3 0h0m0-3h0m3 0h0m2 2h0m0 1h0m4-6h0m2 0h0m2 3h0m6 4h0m2-7h0m4 7h0m5-3h0m0-1h0m1-3h0m4 6h0m0-2h0m5-4h0m4 2h0m6-1h0m0 6h0m15-2h0m2-1h0m2-2h0m6 0h0m5 0h0m4 1h0m3-1h0m8 2h0m3 0h0m3 0h0m2-2h0m0-1h0m10 0h0m6 2h0m0-3h0m1 7h0m2-5h0m0 2h0m5 0h0m8 1h0m1-2h0m3 1h0m3 1h0m3-2h0m1 2h0m2 1h0m6-2h0m3-4h0m0 5h0m7-3h0m5 2h0m4-1h0m6-1h0m3 4h0m2-2h0m1 0h0m3-1h0m11 3h0m8 1h0m7-4h0m5 1h0m6-2h0m10 4h0m6-6h0m6 1h0m1 3h0m4 3h0m8-5h0m5 5h0m2-6h0m0 6h0m9-7h0m3 3h0m0-3h0m10 5h0m2 2h0m4-1h0m8-4h0m5 5h0m4-4h0m2-1h0m2 5h0m2 0h0m1-3h0m2 1h0m10-5h0m8 4h0m6-2h0m4 1h0m-564 12h0m2-3h0m10 0h0m6-2h0m1 4h0m10-2h0m9 3h0m8-4h0m3 1h0m0-3h0m2 6h0m1-7h0m2 5h0m5-4h0m2 4h0m1 2h0m0-5h0m8 5h0m5-3h0m12 1h0m10-3h0m1-1h0m1 4h0m1-3h0m1 4h0m0-1h0m2-4h0m1-1h0m5 0h0m0 5h0m3-1h0m3-4h0m0 3h0m8 1h0m0-2h0m4 2h0m3-2h0m1 4h0m0-5h0m0 1h0m0 4h0m2-3h0m2-3h0m1 1h0m7 4h0m4 0h0m7-4h0m15 4h0m1-5h0m8 1h0m1 4h0m3-5h0m6 1h0m1-1h0m1 5h0m1-4h0m1 6h0m8-1h0m10-1h0m9 0h0m2 0h0m4-1h0m1 0h0m17 2h0m7 0h0m3-6h0m1 5h0m4-5h0m6 4h0m4-2h0m5 5h0m2-4h0m8 1h0m5-4h0m6 0h0m2 0h0m4 3h0m1-1h0m2 2h0m1-4h0m1 3h0m1-3h0m1 5h0m1 0h0m6-5h0m2 5h0m8-4h0m1 3h0m3-1h0m4 0h0m2-2h0m4 6h0m3-6h0m7 0h0m14 2h0m5 2h0m1-2h0m1 0h0m1-1h0m0 3h0m13 0h0m2 0h0m2 0h0m7-4h0m2 1h0m0 3h0m6-1h0m5-2h0m1 0h0m1 5h0m1-6h0m1 6h0m2-3h0m3 0h0m0-1h0m2 0h0m1 3h0m1 1h0m7 0h0m7-6h0m1 4h0m0-1h0m5 3h0m1-7h0m8 5h0m1-2h0m7 3h0m1-2h0m0 3h0m6-3h0m3-4h0m3 2h0m0-2h0m0 3h0m2 3h0m7-4h0m2 0h0m1 0h0m8-1h0m1 4h0m3 0h0m1-5h0m3 5h0m16-5h0m3 7h0m0-6h0m1 4h0m1-5h0m1 0h0m0 6h0m0-5h0m17 3h0m1-3h0m0 3h0m2-3h0m1 5h0m2-6h0m3 5h0m1-3h0m5 0h0m0 5h0m4 0h0m1-4h0m3-2h0m-555 13h0m2-2h0m2-1h0m5-1h0m22 2h0m3 1h0m9-2h0m1 4h0m9 0h0m9-4h0m10-2h0m3 4h0m9 0h0m6-3h0m1 1h0m8 4h0m3-5h0m4 1h0m4-3h0m1 2h0m3-2h0m5 7h0m2-3h0m5 3h0m14-2h0m2-2h0m1-2h0m1 0h0m5 4h0m1-4h0m13 2h0m2 2h0m15 2h0m2-6h0m1 0h0m1 5h0m2-5h0m4 1h0m1 0h0m11 1h0m8-3h0m6 3h0m1 2h0m2 0h0m2-3h0m3 5h0m0-1h0m1-2h0m10-1h0m8 2h0m5-1h0m3-2h0m1 0h0m1 1h0m0 3h0m1-4h0m0 3h0m4-2h0m0 0h0m2-1h0m1-2h0m1 5h0m1-1h0m1 2h0m2-1h0m1-5h0m3 4h0m3 3h0m0-6h0m5 6h0m9-3h0m0 1h0m1 1h0m1-3h0m5 2h0m5 2h0m2-5h0m1 2h0m4 1h0m3 0h0m0 0h0m3 0h0m0-5h0m0 6h0m0 0h0m3 0h0m9-4h0m1 5h0m3-4h0m3 3h0m12-3h0m4 1h0m8-2h0m1 1h0m3-3h0m12 5h0m2-1h0m9-2h0m1-2h0m0 1h0m0-1h0m2 4h0m3-2h0m1 5h0m4-1h0m0-4h0m8-1h0m0 6h0m2-5h0m0 4h0m7-2h0m2-4h0m4 2h0m1 4h0m5 1h0m5-5h0m2 4h0m8-2h0m5 1h0m2-1h0m13 0h0m4-2h0m4-2h0m6 5h0m2 0h0m0 1h0m1 0h0m3-6h0m4 5h0m1-5h0m0 3h0m0 1h0m1 2h0m7-2h0m1-2h0m4 4h0m2-5h0m11 5h0m5 0h0m2 1h0m7-1h0m5-2h0m3 2h0m2-3h0m5 0h0m1-2h0m3 2h0m1 3h0m8 1h0m3 0h0m2-3h0m0 2h0m-558 5h0m6 2h0m5-5h0m4 2h0m1 1h0m2-1h0m1 5h0m0-1h0m1-6h0m5 5h0m0 2h0m7-5h0m3-2h0m0 7h0m2-2h0m2 0h0m3 2h0m8-4h0m4-3h0m1 0h0m1 6h0m1-3h0m1-2h0m1 3h0m3-4h0m0 4h0m2 2h0m4-4h0m3 4h0m1-1h0m2 0h0m3-3h0m6-1h0m3 0h0m9 4h0m0 2h0m1-5h0m0-2h0m5 1h0m1 6h0m1-7h0m4 1h0m0 3h0m2 1h0m4-2h0m10 2h0m8-3h0m2 1h0m0 4h0m10-2h0m7-3h0m1 3h0m4 0h0m4-1h0m0-3h0m1-1h0m2 0h0m4 0h0m0 6h0m7-5h0m0 1h0m6-2h0m7 0h0m4 1h0m8 5h0m2-4h0m4-2h0m3 3h0m7 2h0m2-5h0m15 0h0m1 5h0m1 0h0m2-4h0m1 3h0m0 2h0m7-1h0m12 1h0m6-2h0m1-2h0m5 5h0m6-2h0m12-2h0m2 4h0m5-2h0m0-1h0m12-4h0m0 1h0m7 0h0m0 4h0m3-5h0m0 7h0m5-4h0m10 3h0m13-2h0m2 1h0m13-5h0m8 2h0m2-2h0m0 5h0m3-4h0m1 0h0m3 5h0m6-5h0m1-1h0m0 3h0m18 1h0m8-1h0m1-2h0m0 6h0m1-6h0m1 0h0m4-1h0m1 6h0m13-1h0m0-3h0m1 2h0m5 3h0m5-6h0m1 6h0m2-1h0m2-1h0m1-4h0m1 5h0m2 0h0m0-4h0m1 1h0m1-1h0m4 0h0m1 1h0m6 0h0m0 3h0m1-6h0m3 7h0m1-7h0m0 2h0m13-1h0m1-1h0m1 6h0m1-5h0m7 1h0m0 3h0m1-2h0m3 1h0m1-4h0m2 4h0m2-2h0m1 5h0m1 0h0m3-6h0m1 6h0m6-2h0m3-3h0m2 4h0m5-2h0m1 2h0m2-6h0m3 3h0m4 2h0m2-5h0m2 6h0m0 1h0m1-1h0m10-4h0m6 2h0m2-3h0m4 1h0m0-1h0m4 6h0m-560 8h0m2-5h0m5 1h0m2-3h0m6 2h0m6 0h0m1 2h0m3-1h0m1 1h0m6 0h0m2 2h0m2-4h0m8 3h0m1-3h0m1 1h0m0 3h0m1-5h0m1 6h0m1-4h0m1 0h0m4 4h0m1-4h0m4-2h0m7-1h0m5 0h0m7 6h0m3-3h0m4-3h0m0 2h0m1-1h0m1 1h0m3 5h0m7-1h0m5-5h0m2 5h0m4-6h0m5 7h0m1-3h0m6-1h0m1-1h0m4 4h0m1-3h0m1 3h0m7-1h0m3 1h0m0-6h0m4 6h0m9-2h0m0-2h0m10 4h0m1-1h0m0 0h0m7 0h0m2 0h0m11-3h0m0 1h0m0-1h0m3 4h0m3 0h0m1-3h0m14 0h0m2 3h0m1-3h0m1 3h0m6-6h0m1 0h0m0 7h0m7-4h0m6-2h0m4 2h0m2-2h0m3 0h0m0-1h0m11 5h0m1 0h0m3 1h0m1-6h0m1 3h0m3-2h0m5 2h0m1 2h0m1 2h0m2-5h0m2 3h0m5 0h0m2-5h0m3 1h0m10 6h0m1-7h0m9 6h0m3-1h0m1-5h0m2 2h0m1 2h0m8 2h0m0-4h0m5-2h0m1 5h0m1 0h0m8-4h0m3 4h0m12-4h0m6 1h0m2 4h0m0-6h0m7 2h0m6 2h0m5-2h0m3-2h0m0 5h0m2-5h0m1 3h0m3-1h0m2 1h0m2-3h0m4 0h0m1 5h0m7 2h0m2 0h0m6-2h0m2 0h0m0 1h0m1-3h0m3 0h0m0-2h0m9 1h0m1 2h0m5 0h0m4 3h0m2-3h0m5-1h0m3 4h0m7-2h0m5 2h0m18-2h0m11-2h0m1 3h0m5-6h0m0 4h0m7 1h0m7-3h0m2 3h0m1-5h0m1 1h0m3-1h0m1 5h0m4-4h0m0 3h0m2-2h0m2 2h0m1-3h0m0 5h0m1-3h0m9 3h0m10-3h0m1-1h0m0 0h0m0 3h0m1 0h0m3-1h0m1-2h0m3 1h0m1-2h0m2 5h0m1 1h0m2-4h0m0-1h0m-550 11h0m1 0h0m1-2h0m1 3h0m4 1h0m0-1h0m1 0h0m4-3h0m8-1h0m0 5h0m2-2h0m4-1h0m9-4h0m3 4h0m4 2h0m0 0h0m4 0h0m9-4h0m6 4h0m4-3h0m1-3h0m2 6h0m3 1h0m15 0h0m0-4h0m2 1h0m10-4h0m0 2h0m2 3h0m0 0h0m0-4h0m7 2h0m5 3h0m2-3h0m5-3h0m8 1h0m1 1h0m3-2h0m1 5h0m2 0h0m1 0h0m6 1h0m9-6h0m9 2h0m1 3h0m3-5h0m2 5h0m4-4h0m4-1h0m2 1h0m0 2h0m5 2h0m2-2h0m5-3h0m2 7h0m9-4h0m5 4h0m1-7h0m3 3h0m2 2h0m0 2h0m0-7h0m9 6h0m2 1h0m0-7h0m2 3h0m10-1h0m2-1h0m5 0h0m2-1h0m4 5h0m7-5h0m2 3h0m0 3h0m1-2h0m1 3h0m2-6h0m0 3h0m3-1h0m4 3h0m4-1h0m3-2h0m1 3h0m0-1h0m4-2h0m5 0h0m1 2h0m1-4h0m6 6h0m0-6h0m7 6h0m2-3h0m3 0h0m5-2h0m0-2h0m3 2h0m2 2h0m8 3h0m0-6h0m4 4h0m0 2h0m3-3h0m0 3h0m2-3h0m2-3h0m6 1h0m3-1h0m8 5h0m4 0h0m3 0h0m5-6h0m3 0h0m1 3h0m2-1h0m6-2h0m6 7h0m5-2h0m0 1h0m0-6h0m1 0h0m0 2h0m1 1h0m1 4h0m10 0h0m1-6h0m17 5h0m4-1h0m5-5h0m0 1h0m2 2h0m0 0h0m1-2h0m5 0h0m1 3h0m4-3h0m1 1h0m7 2h0m0-1h0m6-3h0m2 2h0m6 5h0m0-6h0m1 6h0m8-6h0m1-1h0m1 2h0m2-2h0m3 6h0m1 1h0m12-7h0m0 1h0m1 4h0m0-3h0m3 3h0m5-1h0m3 1h0m2 2h0m5-7h0m1 5h0m3-1h0m6-1h0m4-2h0m11 1h0m4 4h0m7-4h0m2 4h0m5 0h0m2-4h0m3 2h0m0 2h0m4-4h0m-557 7h0m4 0h0m3 1h0m2 5h0m11-1h0m0-4h0m4 3h0m9 1h0m2-6h0m8 3h0m7 0h0m3 4h0m2-3h0m6-2h0m5 2h0m1-3h0m3 5h0m3-4h0m2-1h0m3 0h0m1 3h0m0 3h0m5 0h0m1-2h0m7-4h0m1 4h0m6-1h0m1-1h0m1-3h0m1 5h0m2-5h0m1 1h0m3 4h0m2 0h0m2 0h0m5-5h0m4 0h0m1 5h0m2 2h0m2 0h0m6-2h0m6 1h0m1-4h0m6-1h0m4 6h0m0-7h0m26 3h0m4-3h0m2 3h0m4 4h0m1-1h0m3-6h0m3 0h0m7 1h0m1 4h0m0 2h0m2-6h0m1 4h0m6-1h0m1 0h0m1-1h0m2 3h0m3-4h0m0-1h0m2 6h0m2-6h0m4 2h0m1-1h0m2 1h0m6 4h0m3-1h0m10 1h0m1 0h0m1 0h0m2-7h0m0 1h0m2 5h0m2 1h0m1-7h0m1 6h0m7 1h0m4-3h0m7-2h0m3 5h0m0-4h0m2-1h0m3-2h0m2 2h0m2 2h0m2-2h0m0 5h0m0-7h0m2 0h0m1 6h0m4 0h0m4-6h0m2 2h0m2 5h0m9 0h0m4 0h0m7-3h0m1 0h0m0-3h0m10 0h0m0 3h0m3 0h0m5 2h0m2-3h0m3 2h0m6-3h0m2 1h0m0-2h0m0 1h0m15-1h0m0 3h0m1-2h0m1 2h0m2-4h0m4 7h0m0-7h0m4 7h0m3-6h0m2 4h0m10-2h0m1-2h0m0 0h0m5 6h0m5-2h0m3-2h0m9 1h0m9-2h0m7 4h0m3-3h0m0 2h0m1-3h0m2-2h0m2 0h0m0 2h0m9 5h0m3-4h0m1 2h0m0-1h0m1 1h0m6-4h0m0 3h0m6-1h0m1 2h0m2-3h0m1 3h0m3-4h0m1 1h0m3-2h0m3 7h0m2-5h0m1 4h0m0-5h0m6-1h0m6 2h0m8-2h0m2 5h0m1 1h0m3-3h0m5 3h0m5 1h0m6-2h0m1-3h0m2-1h0m17 1h0m4 2h0m4-1h0m3-1h0m-559 9h0m4-1h0m1 1h0m1 1h0m2-3h0m3 1h0m4 3h0m1-1h0m6-1h0m1 0h0m2-1h0m1-2h0m0 1h0m2-1h0m0 0h0m0 0h0m4 5h0m4 0h0m7 2h0m2-3h0m1 2h0m1-2h0m3-2h0m3 3h0m3-5h0m14 7h0m1-6h0m7 6h0m2-1h0m6 0h0m0 1h0m6-6h0m3 1h0m1 3h0m1-3h0m2 1h0m1 2h0m2 0h0m4-2h0m0 1h0m4-4h0m1 2h0m1 4h0m2-6h0m8 6h0m2 1h0m1-5h0m1-1h0m1 6h0m6-2h0m9 1h0m4 1h0m3-7h0m8 4h0m3-4h0m1 2h0m3 3h0m6-4h0m1 1h0m9 3h0m4-3h0m8 3h0m0-2h0m3 3h0m1 0h0m1-1h0m1 0h0m3-1h0m1-1h0m6 1h0m3-1h0m4 0h0m2-3h0m5 7h0m14-2h0m3 2h0m0-2h0m10-2h0m17 2h0m1 0h0m0-1h0m6 1h0m6-3h0m5 3h0m3 0h0m0-3h0m1 2h0m6-4h0m2 4h0m0-4h0m4 7h0m0 0h0m3-1h0m1 0h0m0-6h0m0 0h0m6 3h0m3 1h0m4 0h0m11-2h0m6 2h0m3 1h0m10-1h0m1-4h0m0 1h0m3 3h0m2-2h0m2 3h0m0-3h0m3 5h0m9-2h0m4 2h0m1-2h0m1 0h0m2 0h0m1 1h0m0-3h0m1 3h0m6-1h0m2-5h0m12 1h0m0 3h0m0-1h0m10-2h0m1 5h0m3-4h0m4 4h0m8-4h0m1 1h0m2-3h0m6 7h0m7-6h0m0 1h0m1 3h0m4-5h0m4 1h0m4 1h0m2-2h0m1 3h0m1 2h0m2 2h0m3-4h0m3-3h0m0 4h0m1 3h0m1-3h0m2 0h0m6-2h0m12 1h0m14-3h0m1 0h0m0 2h0m9 1h0m8 4h0m1-5h0m11 2h0m1-2h0m1 1h0m2-2h0m6 5h0m4-4h0m3 0h0m6 3h0m5 0h0m-560 4h0m4 1h0m1-1h0m1 3h0m1 3h0m8-2h0m1 1h0m2-2h0m2-4h0m1 0h0m1 3h0m9 4h0m0-4h0m5 1h0m1-2h0m18 3h0m4-5h0m1 3h0m2-1h0m0 3h0m4-3h0m3 3h0m3-4h0m1 2h0m2 0h0m0-3h0m7 1h0m1 2h0m0-3h0m0 5h0m7-4h0m2-1h0m3 0h0m5 5h0m5-1h0m1-4h0m3 7h0m15-2h0m4 1h0m8-4h0m2 3h0m1-5h0m0 3h0m7 0h0m1 3h0m3-5h0m8-1h0m3 4h0m5-2h0m2 5h0m2-4h0m0-1h0m1 3h0m2 1h0m3 1h0m6-5h0m4 1h0m4 2h0m1-5h0m6 5h0m2 1h0m0-2h0m6-4h0m7 5h0m2-5h0m12 5h0m3-5h0m0 6h0m6-3h0m5-2h0m0 3h0m1-2h0m3 4h0m1-3h0m0 3h0m13-2h0m5-2h0m3 4h0m1-4h0m2 4h0m4 0h0m2-6h0m1 5h0m1 0h0m1 1h0m6 0h0m1-6h0m2 5h0m1-1h0m6-3h0m15 2h0m1 4h0m1-2h0m12-4h0m0 1h0m1 1h0m2 2h0m12 1h0m14-6h0m6 3h0m2 2h0m7 2h0m1-7h0m4 3h0m18 2h0m4-1h0m9-4h0m5 1h0m5 4h0m1 2h0m7-6h0m1 0h0m3-1h0m12 4h0m2 2h0m2 1h0m7-1h0m1-3h0m5 3h0m3-2h0m5-1h0m0 3h0m4-6h0m5 3h0m6 4h0m7-3h0m3-4h0m1 3h0m1-2h0m0 2h0m4 3h0m8 1h0m4-6h0m1 0h0m2 3h0m4-1h0m3-3h0m1 2h0m2 1h0m4 2h0m2-5h0m2 0h0m9 7h0m7-5h0m1 2h0m0 1h0m1-1h0m4-3h0m2 5h0m0-5h0m1 4h0m1-2h0m0 2h0m-552 5h0m1 2h0m4-2h0m1 5h0m1 0h0m0-3h0m1-4h0m0 0h0m1 2h0m0 5h0m1-7h0m3 7h0m1-5h0m3 4h0m1-1h0m2 2h0m6-6h0m0 6h0m7-1h0m0-6h0m4 3h0m1 2h0m0-4h0m4 1h0m9 2h0m10-4h0m2 7h0m0-7h0m3 6h0m2 1h0m2-6h0m4 3h0m1 1h0m1-1h0m2-2h0m1 4h0m7-6h0m2 1h0m7 0h0m3 3h0m1-1h0m8 3h0m0 1h0m15-4h0m2-1h0m2-1h0m2 4h0m0-4h0m1 5h0m3-6h0m3 3h0m0-2h0m2 3h0m3-1h0m1 1h0m3-2h0m3 2h0m1-3h0m3 2h0m1-1h0m3 5h0m10-5h0m3 0h0m0-2h0m6 5h0m12-2h0m3-2h0m8 1h0m2-2h0m7 6h0m7 1h0m0-7h0m1 0h0m5 0h0m5 3h0m2 3h0m1-3h0m5 4h0m3-7h0m8 2h0m3 0h0m3 5h0m3-4h0m1 4h0m3-3h0m0-4h0m4 1h0m3-1h0m8 7h0m4-2h0m4-4h0m7 1h0m1 5h0m1 0h0m0-4h0m0-3h0m3 1h0m4 3h0m2 1h0m13-2h0m2 4h0m4 0h0m5-5h0m2 3h0m1-1h0m7-4h0m5 2h0m3-2h0m1 6h0m2-2h0m3-4h0m10 2h0m11 4h0m3-1h0m9 1h0m9-3h0m2 0h0m1 2h0m0 1h0m1-2h0m2-3h0m2 2h0m5 4h0m2-5h0m3 0h0m2-2h0m0 2h0m4 5h0m0-5h0m5 0h0m2-2h0m3 2h0m10-1h0m0 5h0m15 1h0m5-1h0m2-4h0m0-2h0m1 1h0m2 6h0m9-1h0m4-3h0m3 1h0m1-1h0m8 1h0m1-4h0m24 3h0m8-1h0m4-1h0m0 5h0m6-4h0m1 1h0m1 0h0m1 4h0m1-2h0m0 2h0m1-5h0m2-2h0m6 0h0m0 6h0m1-1h0m1 0h0m1 1h0m2-4h0m1-1h0m3 0h0m0 3h0m3-4h0m2 5h0m4-2h0m2-3h0m3 4h0m1-4h0m-559 13h0m1 2h0m5-3h0m6 1h0m9-2h0m12 1h0m4 2h0m8-5h0m0 1h0m2-2h0m2 6h0m3-3h0m1 3h0m6-3h0m1 0h0m8 1h0m5 2h0m5-4h0m0 5h0m0-4h0m6 3h0m0-6h0m1 0h0m12 3h0m12 3h0m3-1h0m1-2h0m0 4h0m6 0h0m3-1h0m0 1h0m8-2h0m3 0h0m2-2h0m5-2h0m3 5h0m3-5h0m4 6h0m0-4h0m1 1h0m6 0h0m2 3h0m5-4h0m1 1h0m7-1h0m1-1h0m2 0h0m1 5h0m1-6h0m6 3h0m2 3h0m0-5h0m5 1h0m7-3h0m2 5h0m1 0h0m1 1h0m2-2h0m7-4h0m0 0h0m1 5h0m2 0h0m2-4h0m2-1h0m7 7h0m9-7h0m3 0h0m2 1h0m5 4h0m6 0h0m14-1h0m12 0h0m10 2h0m3-5h0m1 3h0m3-2h0m6 1h0m0 2h0m1-4h0m7 3h0m4 3h0m4-5h0m1 0h0m5 1h0m2-3h0m3 7h0m4-2h0m4-3h0m17 1h0m1 4h0m9-2h0m6-3h0m2-1h0m3 4h0m3 1h0m3-5h0m4-1h0m7 0h0m5 7h0m8 0h0m4-2h0m0-1h0m1-1h0m5-1h0m1 0h0m2-1h0m3 5h0m0-3h0m1 3h0m6 1h0m4-2h0m7-2h0m1-1h0m2 5h0m2-3h0m9 1h0m0 0h0m1 1h0m4 0h0m1-4h0m1 4h0m6 0h0m4-4h0m0 4h0m3-1h0m2-3h0m9-1h0m0-1h0m11 6h0m6-5h0m3 5h0m3-3h0m0 4h0m3-2h0m7 1h0m3 0h0m1 0h0m2-2h0m0-3h0m1 4h0m2-3h0m1 1h0m6-3h0m5 7h0m0-7h0m9 0h0m10 4h0m-556 8h0m0-2h0m2 4h0m3 0h0m0-4h0m11-2h0m0 1h0m1 0h0m5 0h0m1 0h0m4 0h0m1 6h0m2-6h0m1 3h0m7-2h0m4 4h0m0 1h0m4-3h0m3-4h0m3 4h0m1-2h0m5 4h0m12-2h0m11 0h0m6 2h0m1-2h0m3-3h0m9 0h0m0 3h0m0-3h0m2 0h0m2 0h0m8 5h0m2-1h0m1-4h0m6 5h0m3-6h0m2 7h0m2-2h0m1 0h0m2-2h0m1 1h0m5 0h0m0-4h0m5 7h0m2-7h0m4 1h0m3-1h0m2 6h0m3 1h0m8 0h0m0-6h0m1 2h0m8 2h0m1-4h0m1 3h0m1-2h0m3 1h0m5 4h0m6-4h0m2-3h0m3 7h0m3-5h0m13 2h0m1-2h0m2 0h0m13 5h0m6 0h0m1-7h0m2 3h0m1 1h0m3 0h0m0 3h0m4 0h0m0-5h0m4 1h0m1 0h0m6 3h0m0 0h0m3-6h0m4 3h0m0 3h0m15-6h0m1 4h0m0 2h0m0-5h0m1 5h0m1-4h0m1 5h0m0 0h0m2-1h0m1 1h0m4-6h0m2 0h0m2 5h0m1-5h0m9 1h0m10 3h0m8 2h0m3-7h0m5 3h0m0 4h0m8-3h0m2-1h0m4-3h0m7 1h0m5 3h0m3-3h0m2 1h0m4 3h0m3 1h0m1-6h0m1 1h0m8 1h0m8 5h0m8-3h0m2 2h0m11-1h0m0 2h0m5-6h0m1 5h0m2-1h0m3-3h0m5 5h0m1 0h0m7-4h0m5-3h0m5 2h0m6 5h0m1-7h0m7 1h0m6 2h0m0-1h0m1 4h0m9-6h0m11 7h0m3-3h0m7 3h0m1-2h0m2 1h0m2-3h0m0-2h0m4 3h0m0-3h0m1 5h0m7-2h0m5 2h0m2-6h0m1 7h0m5-5h0m13-1h0m1 3h0m4-4h0m1 2h0m10 0h0m2-2h0m11 1h0m1 0h0m-561 13h0m3 0h0m7-2h0m10 0h0m6-2h0m0-1h0m9-1h0m6 4h0m7-4h0m0 5h0m8-2h0m1 4h0m0-1h0m6-1h0m9 1h0m4-6h0m1 4h0m6 1h0m2-2h0m8 3h0m6-6h0m0 7h0m3-1h0m4-2h0m2-2h0m1 0h0m12-1h0m2 2h0m0 0h0m1-3h0m1 1h0m0 6h0m9-1h0m1-2h0m1-3h0m1 6h0m2-4h0m0 4h0m0 0h0m0-6h0m1 0h0m1 0h0m4 0h0m3 2h0m1 0h0m3 0h0m7-3h0m2 2h0m5 0h0m3 4h0m0-5h0m2-1h0m2 7h0m0-7h0m1 4h0m3 3h0m1-6h0m2 1h0m17-1h0m16 5h0m0-1h0m2-1h0m11 1h0m10 0h0m2-5h0m9 7h0m5-6h0m1-1h0m15 1h0m2 3h0m2 1h0m1 1h0m0-3h0m3-1h0m0 0h0m9 3h0m5-2h0m2 0h0m12 2h0m2 2h0m1-1h0m4-5h0m3 1h0m1 4h0m2 0h0m1-5h0m1 1h0m9 4h0m1-5h0m4 0h0m1 1h0m3 2h0m8 0h0m9-1h0m5 4h0m1-2h0m0-2h0m16 1h0m4-4h0m3 2h0m1 3h0m2 1h0m7 0h0m1-3h0m3-1h0m9-2h0m3 6h0m8 1h0m4-6h0m4 2h0m7 3h0m1-4h0m0 4h0m9-2h0m5-1h0m1 3h0m1-6h0m2 7h0m0-4h0m3 3h0m0-2h0m8-4h0m5 2h0m0-2h0m1 5h0m1 2h0m11-4h0m1-3h0m4 5h0m4-2h0m1 4h0m1-2h0m5 2h0m9-1h0m0 1h0m4-1h0m1-5h0m0 0h0m4 0h0m4 4h0m2-3h0m10 1h0m1-3h0m7 3h0m2 1h0m0-4h0m7 2h0m4 2h0m2 0h0m1 1h0m4 2h0m3-4h0m-562 9h0m10-1h0m8 3h0m5 1h0m0-6h0m2 5h0m10-2h0m5 3h0m1-6h0m5 3h0m11 2h0m1 0h0m4 0h0m1-5h0m2-1h0m3 7h0m1-6h0m4 3h0m6 3h0m0-5h0m2 2h0m3 2h0m1-2h0m7-1h0m1-1h0m2-2h0m9 3h0m2-2h0m6 3h0m1 3h0m8-7h0m8 0h0m17 0h0m4 3h0m5-2h0m13 2h0m4 3h0m3-1h0m0-3h0m2 2h0m3 1h0m4 0h0m10-3h0m1 1h0m18-1h0m1-1h0m11-1h0m0 7h0m0-5h0m9 5h0m0-3h0m2 2h0m6-6h0m4 3h0m3 3h0m1-1h0m0 1h0m1 0h0m0 1h0m4-5h0m5-2h0m5 4h0m6 0h0m0-3h0m3 6h0m0-1h0m1 0h0m5-5h0m4 1h0m5 3h0m4-2h0m3-2h0m1 6h0m2-7h0m6 5h0m1-2h0m3 1h0m1 0h0m4 2h0m5-3h0m0-3h0m5 3h0m6-3h0m4 2h0m4 2h0m0-4h0m2 0h0m4 3h0m1-2h0m9 0h0m6 0h0m16 0h0m5 0h0m3 1h0m1 1h0m6-1h0m0 1h0m0 2h0m0 2h0m2-3h0m6 0h0m5-4h0m3 0h0m2 4h0m0-2h0m1 1h0m0 3h0m2-2h0m0-1h0m20 4h0m3-5h0m2-2h0m3 2h0m6 3h0m3 0h0m6 2h0m2-6h0m5 4h0m0-1h0m4 2h0m0-2h0m12 0h0m0-1h0m4 4h0m1 0h0m1-1h0m3-6h0m4 2h0m1 2h0m1-4h0m11 3h0m0-1h0m5 4h0m1-4h0m0-1h0m1 4h0m7-2h0m0-1h0m1 2h0m5-2h0m0 5h0m10 0h0m2-2h0m1 2h0m2-4h0m-534 10h0m2 1h0m6-3h0m1 4h0m0-2h0m2-5h0m4 7h0m0-2h0m17 0h0m3 0h0m1-4h0m9 1h0m1 2h0m2-2h0m1 1h0m8-1h0m3 4h0m6 0h0m6-5h0m5 4h0m6-4h0m1 1h0m2 1h0m0-3h0m2 0h0m7 0h0m6 7h0m8-6h0m2 0h0m4 4h0m0-3h0m5 3h0m1-3h0m1 3h0m3-2h0m0 4h0m15 0h0m1-1h0m4-4h0m9 0h0m8-2h0m14 3h0m1 0h0m2-1h0m11 0h0m14-1h0m7 5h0m4-4h0m2-1h0m3 0h0m1 6h0m10-3h0m1 3h0m3-5h0m2 5h0m2-4h0m2-1h0m1 1h0m0 0h0m6 3h0m1-6h0m2 6h0m9-5h0m0 2h0m2 2h0m9-1h0m0 3h0m0-4h0m1-3h0m0 5h0m4 0h0m1-2h0m0 4h0m1 0h0m0-1h0m3-1h0m3 0h0m0-1h0m1-2h0m8 2h0m4 1h0m14-3h0m6 4h0m8 1h0m1-2h0m5 0h0m2-5h0m0 3h0m5-3h0m2 2h0m2 3h0m1-4h0m0 4h0m0 1h0m3 1h0m6-5h0m0 4h0m1 0h0m1-1h0m1-3h0m4-1h0m9 4h0m9-5h0m9 0h0m6 6h0m2-3h0m2 1h0m7 3h0m2-5h0m6 1h0m5-3h0m12 3h0m12 4h0m7-7h0m0 0h0m1 0h0m2 4h0m13 1h0m2 1h0m1-6h0m7 2h0m0 4h0m3-2h0m4-1h0m10-3h0m2 1h0m0 3h0m3 1h0m4-4h0m0 1h0m1 3h0m0-2h0m3-2h0m1 4h0m1 1h0m1-6h0m5 1h0m2 0h0m2 6h0m1-1h0m3-3h0m5 0h0m9 3h0m1-6h0m1 3h0m4 3h0m12 1h0m1-7h0m5 3h0m1 1h0m-563 7h0m3 1h0m8 3h0m1-2h0m1-1h0m0-3h0m5 0h0m2-1h0m4 3h0m1 1h0m0 1h0m4-3h0m6-1h0m2 6h0m2-3h0m2-3h0m11-1h0m8 2h0m7-2h0m4 1h0m8 6h0m4-4h0m2-2h0m1-1h0m3 7h0m9 0h0m5 0h0m6 0h0m2-7h0m1 0h0m0 5h0m6 1h0m5-3h0m5-3h0m0 1h0m0 2h0m1 1h0m5-3h0m0 6h0m7-3h0m2-2h0m5 4h0m2-6h0m1 3h0m1 0h0m1-1h0m3 0h0m5 1h0m4 3h0m2 1h0m1-4h0m1-2h0m3 4h0m8 0h0m4-1h0m9 0h0m6 1h0m2-3h0m3 3h0m1-5h0m0 2h0m5 1h0m6-3h0m3 0h0m1 7h0m5-5h0m5 5h0m1-5h0m9-1h0m3 5h0m2-5h0m0-1h0m8 2h0m9 4h0m3-2h0m0-2h0m2 0h0m1 3h0m5-3h0m3 3h0m2-1h0m1 0h0m16 1h0m3 0h0m5-3h0m2 5h0m7-1h0m3-3h0m3 2h0m6-2h0m1 4h0m5-4h0m1-2h0m1 3h0m4 1h0m2-1h0m4 3h0m3-3h0m6-2h0m0-1h0m11 2h0m3 3h0m1 1h0m0-2h0m1-3h0m6-2h0m1 1h0m3 5h0m2-5h0m1 3h0m1 0h0m12-4h0m6 3h0m0-1h0m3 3h0m7-5h0m3 2h0m2 2h0m3 0h0m4-4h0m1 7h0m3-6h0m1 4h0m1-5h0m1 4h0m4 1h0m7-3h0m1 0h0m1-2h0m1 2h0m2 5h0m2-2h0m3 0h0m18-3h0m2 2h0m6 3h0m1-5h0m7 3h0m6-5h0m4 1h0m4 4h0m4-1h0m3 2h0m2-6h0m3 0h0m0 5h0m7-5h0m1 6h0m1 1h0m1 0h0m0-5h0m2-1h0m0 6h0m1 0h0m2 0h0m3-3h0m9 0h0m6 3h0m1-7h0m0 5h0m5 2h0m0-2h0m6-5h0m7 6h0m1-6h0m-562 14h0m0-6h0m8 0h0m0 5h0m0 1h0m8 1h0m3-7h0m0 5h0m1-4h0m1 2h0m10 0h0m8-1h0m2-2h0m5 3h0m7 2h0m4 1h0m1-5h0m1 2h0m5 2h0m7 1h0m1-6h0m1 0h0m1 2h0m1 5h0m5-7h0m7 4h0m1-4h0m0 3h0m4 1h0m1 1h0m13-4h0m2-1h0m2 1h0m1 0h0m6 6h0m3-2h0m3 0h0m1-5h0m3 1h0m5 2h0m1 4h0m1-2h0m11 0h0m8-3h0m1 5h0m1-4h0m2-1h0m5-1h0m14-1h0m4 0h0m1 5h0m1-3h0m3 4h0m1-2h0m5-3h0m1 2h0m0-2h0m2 4h0m9 0h0m9-2h0m3 4h0m1-1h0m2 0h0m6-4h0m2 4h0m4-2h0m0 3h0m0-1h0m15-1h0m1-5h0m1 0h0m3 5h0m2-4h0m2-1h0m8 5h0m3-2h0m7-2h0m9 3h0m0-3h0m3 6h0m1-6h0m3 5h0m6-4h0m1-2h0m2 2h0m4 4h0m0-5h0m13 1h0m6 3h0m0-3h0m12-2h0m0 5h0m6 2h0m0-7h0m1 1h0m4 3h0m2 3h0m8-5h0m7 3h0m17 1h0m3 1h0m1-2h0m3-2h0m7 4h0m8-6h0m22 0h0m2 5h0m2-1h0m3 0h0m10 1h0m4-2h0m1-4h0m5 6h0m4-1h0m1 2h0m10-1h0m1-3h0m1-1h0m0-1h0m2 2h0m6-3h0m4 5h0m1-5h0m3 3h0m1 0h0m3-2h0m8 2h0m1 4h0m9-5h0m3 0h0m12 5h0m4-4h0m1-3h0m2 7h0m1-1h0m3-6h0m9 2h0m5-1h0m0 2h0m11 1h0m0 0h0m2 2h0m0-5h0m0 3h0m2 2h0m1 1h0m2-7h0m2 3h0m-562 5h0m10 3h0m2-1h0m0 5h0m3 0h0m0-1h0m6-3h0m3 1h0m3 2h0m0-3h0m0 2h0m1 1h0m1-5h0m2 6h0m1-3h0m2-3h0m0 0h0m3 4h0m3-1h0m1 3h0m0-4h0m13-1h0m2 2h0m1 1h0m1 2h0m3-3h0m6-4h0m2 1h0m1-1h0m1 5h0m2 0h0m1 0h0m1-3h0m1 1h0m2 1h0m1-1h0m2 2h0m2-1h0m5-3h0m0 1h0m1 3h0m1-3h0m3 5h0m5-5h0m4 0h0m4 5h0m0-2h0m0 0h0m5 1h0m5-3h0m7 1h0m8-2h0m0 4h0m2 1h0m11-2h0m10 2h0m3-1h0m3-2h0m2-3h0m3 0h0m1 4h0m2 1h0m7 1h0m1-6h0m2 1h0m2-1h0m2 2h0m1 2h0m2-1h0m1-1h0m0-2h0m0-1h0m0 4h0m3 2h0m2-3h0m2 4h0m0-1h0m8 0h0m5-2h0m3 3h0m1-4h0m0 2h0m1-1h0m1 1h0m1-3h0m0 5h0m6-3h0m2 2h0m14-1h0m8-1h0m1 1h0m0-4h0m3 1h0m8 4h0m1 1h0m6-4h0m4-3h0m1 6h0m3 1h0m0-6h0m1 6h0m1-5h0m1 2h0m2 0h0m3-1h0m4 3h0m5 0h0m3-3h0m12-3h0m4 4h0m14-4h0m7 6h0m9-2h0m5-1h0m5 3h0m4-5h0m3-1h0m4 5h0m2 2h0m14-1h0m7-5h0m1 0h0m1 5h0m3-3h0m0-1h0m2 4h0m3 0h0m5-4h0m1-1h0m1 1h0m7 5h0m3 0h0m1-5h0m2 4h0m2 0h0m1-6h0m10 4h0m1-4h0m2 0h0m3 3h0m11-1h0m1 4h0m0-5h0m4 0h0m0 4h0m2-3h0m13 2h0m0 1h0m0-1h0m2 2h0m6-5h0m2 5h0m2-2h0m9 3h0m7-2h0m3-1h0m0 2h0m3 0h0m0-3h0m9 3h0m2-5h0m2 0h0m2 4h0m8-5h0m3 6h0m3-4h0m0 3h0m6-1h0m2-2h0m1 5h0m5-4h0m0-3h0m5 5h0m1-3h0m5-2h0m1 4h0m5 2h0m4 1h0m3 0h0m-559 4h0m0-3h0m3 1h0m3 4h0m0 1h0m6-5h0m0 2h0m3-2h0m7 6h0m0-7h0m3 1h0m2 4h0m16-1h0m5 2h0m4 0h0m4 1h0m4-6h0m1 2h0m6 2h0m4-3h0m8 2h0m2-1h0m8-2h0m3 1h0m2 2h0m6 3h0m1-3h0m3 2h0m3-3h0m0 1h0m3 2h0m1-6h0m1 0h0m17 2h0m0 0h0m5 5h0m1-1h0m3 0h0m3-1h0m6 1h0m3 0h0m1-4h0m1 1h0m5 1h0m3 2h0m8-3h0m5 2h0m0-1h0m1-1h0m2 1h0m4 0h0m3-1h0m4-1h0m4-2h0m2 2h0m3 5h0m2-1h0m1-5h0m3 6h0m2-2h0m0-4h0m1 0h0m4 1h0m1-1h0m6 5h0m1 0h0m2-2h0m3-2h0m3 5h0m5 0h0m2-2h0m3 1h0m4-6h0m6 2h0m2 3h0m9-5h0m1 0h0m5 7h0m7-7h0m4 2h0m5 4h0m6-5h0m1 3h0m1 3h0m3-4h0m4 3h0m1 1h0m4-3h0m0-1h0m3 1h0m2-2h0m9 2h0m4 2h0m0 1h0m1-6h0m1 3h0m10-2h0m2 1h0m5 0h0m4 4h0m0-6h0m3 0h0m2 5h0m2 0h0m2-3h0m4 4h0m0-7h0m5 5h0m6-2h0m8 2h0m10-1h0m9 1h0m0-5h0m9 5h0m0-2h0m13-3h0m1 2h0m5-1h0m3 6h0m3-2h0m1 2h0m1 0h0m4-7h0m2 1h0m2 5h0m0 0h0m9-6h0m16 5h0m4-4h0m0 6h0m3-5h0m10 5h0m8 0h0m8-3h0m1-4h0m3 6h0m9-4h0m5-1h0m6 0h0m1-1h0m0 6h0m11-3h0m1-2h0m3 0h0m1 0h0m2 6h0m2-1h0m2-4h0m0 0h0m3 3h0m0 0h0m3-5h0m7 6h0m1-5h0m1 1h0m4 5h0m1-3h0m1 2h0m-562 2h0m4 7h0m0-6h0m9 1h0m4 1h0m1 2h0m6-3h0m0 0h0m2 2h0m8 0h0m1 3h0m0-2h0m5-1h0m4 2h0m6-6h0m3 3h0m0 0h0m3-1h0m2 1h0m0 3h0m13 1h0m1-5h0m13-2h0m3 1h0m16 2h0m4 1h0m4 0h0m2 3h0m1-6h0m5-1h0m4 5h0m3-4h0m3 6h0m1-6h0m1 6h0m11-7h0m2 5h0m10-3h0m13 1h0m1 1h0m2 0h0m4 2h0m1-5h0m3-1h0m4 7h0m2-6h0m2 4h0m5 1h0m3 0h0m1 0h0m3-1h0m3-3h0m9 5h0m6-5h0m1 2h0m3-4h0m3 6h0m5-5h0m3-1h0m7 1h0m0 0h0m2 3h0m5 0h0m2-3h0m6 0h0m2 2h0m1 0h0m1 4h0m1-6h0m4 6h0m1-7h0m7 5h0m2-3h0m6 4h0m1-3h0m7 2h0m9 0h0m10 1h0m7-5h0m2 2h0m3 1h0m1 1h0m2 0h0m2 1h0m2-5h0m11-1h0m4 7h0m7-3h0m2-3h0m0 2h0m1 3h0m3-3h0m1 4h0m6-3h0m2-2h0m4 2h0m8-3h0m1-1h0m8 1h0m1 5h0m0 0h0m3-5h0m4 3h0m12 0h0m0 1h0m4 1h0m1 0h0m2 1h0m3-1h0m6-4h0m3 5h0m6-7h0m4 6h0m3-6h0m5 0h0m10 2h0m1 2h0m3-2h0m1-1h0m2 3h0m2 3h0m5 0h0m0-5h0m1 1h0m3 1h0m0 1h0m7 1h0m1-2h0m2 0h0m7-1h0m0 2h0m2-2h0m0-2h0m2 3h0m6 2h0m6-2h0m4-4h0m4 3h0m2-2h0m0 6h0m3-6h0m9 1h0m4-2h0m2 5h0m1-1h0m0 0h0m3 1h0m0 2h0m4-2h0m1 1h0m1-2h0m5 0h0m1-3h0m0 1h0m5 5h0m3-4h0m2-3h0m1 0h0m1 3h0m4 2h0m-552 9h0m2-4h0m8 4h0m2 1h0m1-6h0m2 2h0m0 2h0m2 2h0m7-5h0m2-1h0m1 4h0m1-1h0m1-4h0m0 1h0m2 2h0m2 3h0m5 0h0m2-3h0m3-2h0m3-1h0m0 0h0m4 6h0m1-2h0m3 1h0m4 2h0m4-2h0m7 1h0m6-4h0m14 3h0m1 2h0m2 0h0m1 0h0m1-6h0m9-1h0m16 4h0m7 2h0m5-5h0m3 4h0m4-5h0m7 0h0m3 5h0m3 0h0m1-5h0m10 0h0m9 6h0m0-6h0m7 2h0m0 5h0m2-4h0m4 3h0m0-4h0m4-1h0m18 2h0m1 2h0m1 0h0m7 1h0m0-5h0m1 2h0m5 4h0m2-6h0m11 2h0m5-3h0m2 2h0m5-1h0m1 6h0m3-2h0m2-3h0m10 4h0m3-3h0m2 2h0m5 1h0m8 0h0m1-6h0m3 3h0m2 2h0m1 1h0m2 1h0m2-5h0m1 1h0m1-1h0m5 2h0m6-3h0m1 5h0m0 1h0m4-5h0m2-1h0m0 2h0m6 1h0m0-4h0m1 0h0m7 6h0m1-3h0m2 1h0m11 2h0m2-5h0m17-1h0m4 3h0m10 4h0m2-5h0m5 3h0m3-3h0m8 3h0m2-3h0m3 1h0m1-1h0m1-1h0m2 1h0m6-1h0m2 2h0m3 4h0m3-7h0m7 1h0m5 3h0m5 0h0m5-2h0m1-1h0m3 0h0m1 6h0m1-4h0m10-2h0m3 5h0m2 1h0m0-1h0m7-1h0m9-4h0m6-1h0m6 6h0m2-2h0m2-1h0m0 3h0m2-2h0m0-2h0m1 5h0m6-6h0m0-1h0m3 2h0m0 2h0m7-1h0m3 1h0m1 0h0m1 3h0m0-3h0m5-4h0m16 3h0m9 0h0m4 4h0m-557 1h0m4 4h0m0 1h0m1 0h0m1 0h0m1 2h0m4-3h0m9 2h0m8 1h0m4-1h0m4-2h0m11 0h0m13-4h0m23 2h0m0 5h0m1-2h0m2-1h0m4 3h0m3-4h0m5-2h0m1 0h0m3-1h0m0 5h0m1-5h0m2 4h0m5-3h0m0 0h0m2 5h0m1-1h0m1-4h0m1 6h0m6 0h0m4-1h0m5 1h0m1-2h0m10 1h0m0-6h0m1 3h0m1-2h0m4 4h0m4-4h0m0 4h0m14 2h0m9-2h0m5 1h0m3-2h0m1 2h0m2-4h0m0 0h0m5 2h0m1 1h0m0-4h0m4 0h0m0 4h0m6 0h0m1 0h0m2-3h0m4-1h0m4 2h0m4-2h0m2 6h0m0-6h0m2 4h0m2-1h0m2-3h0m4 2h0m7 2h0m0-5h0m3 6h0m1-2h0m8 2h0m3-6h0m2 5h0m2 0h0m2-3h0m0 0h0m0 4h0m2-5h0m12 2h0m6-1h0m4 0h0m2 3h0m0-4h0m4 2h0m8 2h0m3 1h0m1-5h0m7 4h0m5 0h0m13-3h0m0-2h0m1 5h0m11 0h0m1-2h0m4 4h0m4-3h0m0 0h0m2-1h0m1-2h0m5 6h0m5-6h0m7 6h0m12-4h0m1-3h0m13 5h0m3-4h0m4 2h0m3-2h0m1 6h0m8-4h0m3-2h0m1 4h0m1 1h0m0-1h0m2 1h0m3-3h0m1 2h0m0-2h0m1 4h0m1-4h0m1 4h0m10-1h0m1-2h0m0 1h0m7-4h0m10 6h0m2-1h0m2-5h0m4 1h0m4 2h0m5-4h0m1 2h0m1 4h0m1-1h0m1 0h0m0 2h0m1-1h0m1-6h0m4 1h0m2 5h0m11-1h0m1 1h0m15-3h0m6 0h0m7 3h0m2-6h0m0 7h0m15-1h0m14-3h0m1 4h0m0-2h0m0-1h0m4 1h0m2 0h0m1 0h0m1-3h0m2-2h0m-561 8h0m0 1h0m6 3h0m1-4h0m0 7h0m3-4h0m4 1h0m0 0h0m4 3h0m2-3h0m4-2h0m3-1h0m10 3h0m2 2h0m3-3h0m4 1h0m0-4h0m2 4h0m0-2h0m12 4h0m1-4h0m4 1h0m9 4h0m4-6h0m4 4h0m4-1h0m11 0h0m4 0h0m1 1h0m1-5h0m3 7h0m1-6h0m4 5h0m0-5h0m1 5h0m1-2h0m6 3h0m5-2h0m1-1h0m3 0h0m5-2h0m1 4h0m5 0h0m6-3h0m3 3h0m2-6h0m2 2h0m1 5h0m5-3h0m0 1h0m2-5h0m3 2h0m9 5h0m5-6h0m0 5h0m1-2h0m9 0h0m1-4h0m0 0h0m13 0h0m6 5h0m2-5h0m2 7h0m2-7h0m1 1h0m1 2h0m2 3h0m0-3h0m1-1h0m1 5h0m9-1h0m16-6h0m9 0h0m0 1h0m4-1h0m4 1h0m4-1h0m2 6h0m2-4h0m3 1h0m8-1h0m6 2h0m4 3h0m3-5h0m4 2h0m2-1h0m5-3h0m10 0h0m0 0h0m1 3h0m0 0h0m5 0h0m1 4h0m2-6h0m2-1h0m0 1h0m4 0h0m3 6h0m0-2h0m1-5h0m0 0h0m5 2h0m1-2h0m1 0h0m3 4h0m2 3h0m1 0h0m3-1h0m1-5h0m1 5h0m3 1h0m6 0h0m3-4h0m5-3h0m2 7h0m3-1h0m1-1h0m2-5h0m9 2h0m2 5h0m7-6h0m1 5h0m8-6h0m1 1h0m8-1h0m2 3h0m1-2h0m2 1h0m2 4h0m1-2h0m2-4h0m0 3h0m1 3h0m2-2h0m3-1h0m1 2h0m0-4h0m1-1h0m1 6h0m2-2h0m0 0h0m1-3h0m3 4h0m1-1h0m3 3h0m0-7h0m6 2h0m5-2h0m0 6h0m7-6h0m2 4h0m4 2h0m0 1h0m6 0h0m4-4h0m6 0h0m7 2h0m3-3h0m9-2h0m1 0h0m5 2h0m2-1h0m0 5h0m0-6h0m4 3h0m14 3h0m0-4h0m1 5h0m1-5h0m8-1h0m1 4h0m10-3h0m4 5h0m1-2h0m5-2h0m2 1h0m0-4h0m-560 8h0m3 4h0m2-1h0m1 4h0m12-6h0m6-1h0m5 3h0m4 0h0m1 4h0m2-7h0m1 5h0m3-1h0m1 1h0m1 2h0m1-3h0m1-4h0m1 2h0m3-2h0m0 4h0m4-4h0m2 1h0m6-1h0m2 6h0m1-1h0m0 0h0m9-4h0m6 6h0m9-1h0m1-3h0m0 4h0m1-5h0m10 2h0m2 1h0m4 1h0m4-5h0m0 3h0m2 1h0m3-4h0m4 2h0m7-3h0m1 1h0m1 3h0m4 1h0m3-5h0m4 6h0m1-6h0m0 0h0m2 2h0m0 4h0m1-3h0m3-3h0m2 2h0m4-2h0m2 2h0m3 2h0m0 0h0m2-4h0m3 4h0m5 0h0m3 2h0m1-1h0m0-1h0m12 3h0m0-4h0m6 4h0m1-7h0m0 1h0m3 0h0m2-1h0m2 3h0m3 2h0m4 2h0m3-7h0m5 0h0m0 2h0m1-1h0m4 5h0m6-1h0m1 2h0m6-7h0m5 6h0m0-3h0m0-3h0m3 6h0m3-6h0m4 4h0m4 3h0m0-6h0m4 1h0m2 0h0m3-2h0m3 1h0m11 1h0m2-1h0m4 2h0m3 3h0m0 0h0m1-2h0m6-1h0m2-1h0m1 3h0m4-1h0m0 2h0m4-3h0m2-2h0m10 5h0m3-1h0m1 2h0m0-1h0m1 0h0m3-5h0m4-1h0m4 1h0m10-1h0m4 7h0m1 0h0m4-4h0m1-1h0m4 5h0m4-5h0m3 4h0m4 1h0m1-1h0m8 0h0m0-5h0m8 0h0m2 5h0m0-2h0m2 1h0m7-4h0m0 6h0m4-5h0m3 4h0m2 0h0m4-4h0m4 4h0m16 1h0m1-1h0m1 1h0m6 0h0m7-3h0m2 0h0m7-4h0m1 7h0m4-2h0m5-4h0m0 5h0m5-3h0m2-1h0m11 0h0m31-2h0m4 6h0m4-4h0m0 4h0m1-1h0m5 2h0m1-5h0m3-1h0m5 0h0m2 6h0m1-5h0m12-1h0m2 4h0m3-3h0m8 3h0m5 1h0m0 0h0m2-5h0m0 6h0m-556 5h0m1 1h0m10 1h0m1-2h0m2 0h0m1-1h0m6 3h0m0 0h0m14-2h0m2-1h0m2 0h0m6 4h0m2-1h0m4 1h0m8-2h0m7 0h0m3 2h0m2-2h0m0 0h0m0-5h0m1 1h0m6 2h0m0 3h0m1 0h0m2-3h0m1 3h0m11 1h0m0 0h0m2-1h0m1-6h0m2 4h0m3 2h0m1-1h0m0-5h0m0 7h0m6-2h0m2 1h0m7 1h0m6-2h0m1-2h0m1 4h0m5-7h0m0 1h0m11 1h0m6-2h0m8 0h0m5 5h0m2-5h0m0 7h0m0-5h0m1 3h0m1-3h0m1 2h0m1-2h0m1 2h0m1 1h0m3 2h0m10-5h0m9 2h0m1-4h0m1 2h0m3-1h0m2 3h0m3 3h0m1-7h0m5 3h0m2 3h0m3 1h0m4-4h0m17 3h0m0-4h0m2-1h0m2 0h0m8 5h0m0-5h0m4-1h0m0 1h0m3-1h0m5 3h0m1 0h0m0 0h0m5-1h0m4 4h0m2 0h0m5 1h0m2-1h0m2-4h0m1-1h0m1 2h0m1 3h0m3-4h0m7 0h0m11 1h0m2 3h0m3-3h0m6-3h0m3 1h0m8 1h0m4-2h0m6 0h0m2 2h0m2 1h0m1-2h0m4 5h0m11-4h0m1 5h0m5-4h0m10-3h0m4 3h0m2-1h0m5 5h0m5-5h0m4 0h0m2 2h0m3-1h0m4-1h0m5 2h0m0 2h0m9-2h0m22 3h0m0-5h0m6 5h0m3-6h0m3 1h0m0 3h0m6-5h0m0 3h0m5 1h0m2 1h0m3-3h0m7 4h0m2-3h0m0 0h0m1 1h0m0 0h0m0 0h0m2-3h0m5-1h0m5 7h0m3-3h0m1 3h0m3-2h0m9 0h0m0-4h0m5 1h0m14 1h0m0-2h0m3 3h0m0-3h0m2 2h0m2 3h0m4-4h0m2 0h0m1-2h0m2 2h0m2 5h0m2-7h0m7 4h0m1-1h0m3 2h0m-556 5h0m11-2h0m0 4h0m12 1h0m1-5h0m1 6h0m3 1h0m0-1h0m9-2h0m1-4h0m1 2h0m2-1h0m6 0h0m2-1h0m6 6h0m5-2h0m6-2h0m3 1h0m1-2h0m3-1h0m1 6h0m4 0h0m1-2h0m6-3h0m2 4h0m3-5h0m0 7h0m1 0h0m1-7h0m2 7h0m0-4h0m7 4h0m0-4h0m1 0h0m14 3h0m3-1h0m7-2h0m7 4h0m3-4h0m6-3h0m1 3h0m1 4h0m3 0h0m0 0h0m6-6h0m1-1h0m1 3h0m3-2h0m1 3h0m8-4h0m2 2h0m3 4h0m1-5h0m1 0h0m1-1h0m7 2h0m5-2h0m0 1h0m1 6h0m0-3h0m7-3h0m3 6h0m0-7h0m1 4h0m1-1h0m4-2h0m8 6h0m1-2h0m10-4h0m4 0h0m9 0h0m2 5h0m2 0h0m6 1h0m1-2h0m1 0h0m5-3h0m1 3h0m3 1h0m1-1h0m1-4h0m3 1h0m1 1h0m1 4h0m18-1h0m4-3h0m9 2h0m3-1h0m4-2h0m3-2h0m1 7h0m2-5h0m1 2h0m1 1h0m2 2h0m8-6h0m2 2h0m0 3h0m5 1h0m6-3h0m1-4h0m3 6h0m9-4h0m1 3h0m2 2h0m1-4h0m9-1h0m3 3h0m4-4h0m0 0h0m1 5h0m2-5h0m3 1h0m4-1h0m1 4h0m0 0h0m1-5h0m0 4h0m3 0h0m2 0h0m4-2h0m9 2h0m7 0h0m2-4h0m3 7h0m1-4h0m1-1h0m1 3h0m0 1h0m4 0h0m14-3h0m1 4h0m6 0h0m0-7h0m4 6h0m1 1h0m4-5h0m4-2h0m0 6h0m3-5h0m0 3h0m0 2h0m2-5h0m2 5h0m3-6h0m1 7h0m1-5h0m10 0h0m1-2h0m2 0h0m3 7h0m1-3h0m2 1h0m1-1h0m0-1h0m12-2h0m1 4h0m1 2h0m7-3h0m16-4h0m1 5h0m1-1h0m2 2h0m2 0h0m1-2h0m2 0h0m12-1h0m10 3h0m1-1h0m4-4h0m3 4h0m1-2h0m4 2h0m-562 10h0m6-3h0m1 2h0m5-3h0m4 3h0m0-6h0m3 2h0m0 4h0m2 1h0m2-3h0m0 1h0m4 2h0m6-2h0m0-4h0m1 1h0m3-1h0m0 6h0m1-2h0m2 1h0m2-6h0m6 0h0m8 3h0m1-2h0m1 2h0m0 1h0m4 3h0m15-1h0m1-3h0m1 3h0m0-6h0m2 0h0m4 1h0m12 5h0m1-2h0m0 0h0m2-2h0m6 1h0m1-2h0m5 6h0m2-5h0m4 5h0m4-3h0m11 3h0m10-1h0m11-3h0m4-1h0m3-1h0m12 6h0m3 0h0m1-2h0m5-5h0m3 4h0m1 2h0m4 1h0m0-7h0m6 5h0m1-2h0m6 2h0m1-4h0m2 3h0m0-1h0m1 4h0m7-4h0m1-2h0m3 2h0m1-3h0m2 0h0m2 6h0m17-1h0m2-3h0m12-2h0m1 2h0m2 5h0m2-1h0m13 1h0m12-3h0m5-4h0m8 3h0m1-3h0m1 0h0m0 2h0m17 5h0m5-2h0m8 1h0m3-1h0m6-4h0m1 2h0m17-3h0m3 6h0m3-1h0m4-3h0m14 1h0m2-2h0m4 0h0m3 0h0m1 4h0m0-2h0m1 3h0m3-2h0m6 0h0m2-1h0m5-2h0m1 5h0m1-4h0m7 3h0m6 0h0m2-5h0m8 4h0m4-3h0m1 1h0m2 1h0m2 0h0m4-2h0m1 6h0m2-1h0m6-1h0m0 1h0m5-1h0m14-5h0m3 3h0m2 3h0m5 1h0m0-1h0m0-6h0m10 2h0m2 3h0m8 1h0m0-4h0m1 3h0m10-3h0m4 5h0m5-4h0m1-1h0m3-2h0m1 4h0m11 0h0m1 2h0m13 0h0m1 0h0m1-4h0m1 2h0m1 2h0m-526 2h0m2 5h0m1 0h0m8-2h0m2 4h0m2-4h0m1 2h0m2 0h0m7-3h0m5 1h0m10 3h0m7-6h0m3 6h0m2-1h0m5-3h0m4 0h0m2-2h0m3 1h0m17 5h0m1-3h0m4 2h0m1-2h0m16 2h0m3-1h0m1-3h0m1 5h0m12-1h0m1 1h0m4-1h0m1 2h0m3-7h0m5 5h0m8-3h0m2 4h0m4-3h0m2 4h0m0-3h0m3-3h0m1 1h0m4 3h0m1-5h0m1 1h0m3 2h0m0 4h0m4-7h0m3 5h0m3 2h0m1-1h0m7-2h0m2 0h0m12 2h0m1 0h0m0 1h0m1-5h0m3-1h0m4-1h0m6 3h0m4-1h0m1 3h0m1 1h0m0 0h0m5 0h0m8-2h0m14 1h0m4-4h0m1-1h0m3 3h0m4 1h0m5 1h0m5-4h0m9 1h0m4 1h0m1 1h0m4 2h0m1 0h0m4 0h0m2-3h0m1 0h0m0 2h0m1 1h0m0 0h0m4-3h0m5 2h0m7-2h0m5 0h0m3-2h0m4 5h0m4-3h0m1 1h0m8 2h0m1 0h0m1 0h0m3 1h0m2-7h0m0 4h0m2 3h0m2-7h0m16 0h0m8 6h0m1-3h0m1 2h0m6-1h0m3 2h0m2-3h0m1 0h0m1 4h0m0-6h0m5 3h0m2 1h0m0-4h0m4 2h0m0 3h0m1 1h0m2-3h0m5-1h0m9-1h0m6 5h0m0 0h0m1 0h0m5 0h0m1-3h0m0 3h0m3-6h0m4 4h0m5 1h0m1-6h0m2 0h0m3 4h0m2-3h0m2 2h0m3-3h0m1 0h0m6 6h0m1-6h0m4 4h0m9-1h0m3 4h0m2-3h0m2 3h0m6-6h0m1 5h0m2-1h0m0 2h0m2 0h0m2-3h0m1-1h0m1 3h0m3-4h0m4 1h0m3 4h0m1-5h0m23 3h0m1 1h0m2-5h0m-548 8h0m5 3h0m6-3h0m2 4h0m2 0h0m3 2h0m4-3h0m5 0h0m6 2h0m5-1h0m2-4h0m2 2h0m0 4h0m1 0h0m11 0h0m2-2h0m0-3h0m4 0h0m2 0h0m2 3h0m1 1h0m3-5h0m7 6h0m3-4h0m1 0h0m10-3h0m2 0h0m0 1h0m4 4h0m2-1h0m20 2h0m3-5h0m11 2h0m4 3h0m5-5h0m0 0h0m7 5h0m1-1h0m2-1h0m1 2h0m5-3h0m1 3h0m1-1h0m5-1h0m1-2h0m2 1h0m1-1h0m3-2h0m4 3h0m0 0h0m2 4h0m1-4h0m2 0h0m0 3h0m1-2h0m1 3h0m1-2h0m6 0h0m1-4h0m3 3h0m7 3h0m7-4h0m3-2h0m13 1h0m6 4h0m4-3h0m10-3h0m2 5h0m4-1h0m3-3h0m1 4h0m2-3h0m1 5h0m3-3h0m0 3h0m0-3h0m6-1h0m3 3h0m1-2h0m2 1h0m1-4h0m1-1h0m4 4h0m1-2h0m5 1h0m4-1h0m0-2h0m2 4h0m3 3h0m2-1h0m15-6h0m5 2h0m4 5h0m1-5h0m2 1h0m0-3h0m3 5h0m0-4h0m2 1h0m3 1h0m5-3h0m14 0h0m0 2h0m6-2h0m3 2h0m1-1h0m4 0h0m3 2h0m6 0h0m3-1h0m0-2h0m0 5h0m2 0h0m2-1h0m1-3h0m2 6h0m1-6h0m6-1h0m0 7h0m2-5h0m12-2h0m4 2h0m6-2h0m10 2h0m0 5h0m19-1h0m5-5h0m0 2h0m1-3h0m8 0h0m1 1h0m3 5h0m1-3h0m4 0h0m0 0h0m5-3h0m3 2h0m0-2h0m2 6h0m1 1h0m2-2h0m4 2h0m1-3h0m1 0h0m0 2h0m2-4h0m3 5h0m2-2h0m3-3h0m1 4h0m5-6h0m5 6h0m9 0h0m1 1h0m0-1h0m15-2h0m13 1h0m0-5h0m-555 13h0m1-3h0m7 2h0m6 2h0m1-5h0m14 2h0m4 1h0m4-3h0m1 5h0m1-2h0m0 0h0m10-1h0m0 4h0m1-7h0m1 1h0m2 2h0m2 1h0m2-3h0m17 4h0m1 0h0m1 1h0m1-4h0m4 5h0m0-6h0m0 4h0m1-5h0m9 2h0m4 3h0m0-1h0m11-2h0m4 2h0m6 0h0m3 3h0m2-4h0m1 4h0m2-4h0m5-2h0m0 5h0m2-2h0m1 2h0m5-4h0m11 4h0m2 0h0m3-3h0m7 1h0m0-3h0m1 6h0m5-3h0m4 0h0m0-2h0m0 4h0m2-2h0m1-1h0m1 1h0m9-4h0m2 6h0m7-5h0m3 5h0m6 1h0m6-1h0m3-2h0m2-2h0m1 2h0m6-4h0m0 1h0m15 6h0m5-4h0m13 3h0m10-1h0m5-1h0m1-2h0m2 0h0m0 5h0m2-3h0m1-4h0m4 2h0m0 2h0m1-3h0m1-1h0m1 1h0m1 6h0m4-7h0m2 2h0m4 3h0m2-1h0m3 3h0m1-3h0m3-4h0m4 1h0m1 2h0m2-2h0m5 0h0m2 2h0m4 4h0m4-7h0m0 5h0m2 1h0m0-4h0m2 3h0m1-4h0m3-1h0m3 3h0m1 1h0m1-3h0m4-1h0m1 1h0m9-1h0m4 4h0m2-2h0m6 2h0m1-4h0m2 3h0m9 4h0m13-7h0m8 3h0m3 1h0m4-4h0m11 4h0m3-1h0m0 2h0m5-5h0m2 5h0m1-2h0m3-1h0m4-2h0m4 1h0m9 2h0m3 4h0m4-4h0m7-3h0m5 2h0m4-2h0m3 7h0m0-3h0m1 1h0m0-5h0m6 5h0m4-1h0m4-2h0m4 1h0m1-3h0m5 4h0m16-3h0m2 4h0m1-5h0m2 0h0m2 5h0m5 2h0m1-6h0m14 0h0m4 4h0m3-3h0m0 3h0m7-2h0m3 0h0m8 3h0m0-2h0m-562 6h0m2 2h0m3 2h0m3-1h0m2 2h0m0-1h0m8-3h0m5 0h0m2-3h0m3 2h0m1 2h0m1 1h0m7 2h0m2-6h0m5 4h0m3-2h0m4-2h0m0 4h0m2 1h0m1 1h0m8-4h0m4 2h0m3 2h0m14-3h0m11-3h0m4 4h0m1 2h0m1-1h0m1-5h0m1 0h0m1 3h0m10 1h0m3-5h0m2 1h0m4 2h0m1-2h0m3 4h0m3 1h0m2-5h0m2 1h0m5 3h0m8-5h0m3 4h0m1-3h0m1 3h0m8 1h0m1-3h0m6 2h0m3 1h0m7 0h0m5-4h0m6 3h0m1 2h0m5-1h0m3-3h0m2 4h0m5-4h0m0 3h0m5 0h0m4-1h0m1 0h0m3 3h0m2-2h0m1-4h0m9 5h0m5-3h0m5 0h0m2 4h0m2-4h0m7 2h0m1-5h0m0 0h0m2 5h0m2-1h0m2 0h0m11 0h0m3 0h0m4 1h0m2-4h0m0 4h0m2-2h0m5-3h0m18 6h0m0-2h0m24-1h0m2 1h0m3 1h0m0-3h0m10-2h0m18 6h0m0 0h0m2-6h0m1 3h0m13 1h0m7 3h0m7 0h0m2-5h0m11 0h0m1-2h0m1 2h0m3-1h0m5 0h0m2 6h0m4-7h0m2 7h0m4-7h0m4 3h0m15 3h0m3 1h0m5-7h0m4 0h0m3 4h0m0 3h0m8-4h0m1 1h0m3 3h0m3-4h0m1 3h0m21-1h0m10 2h0m1-7h0m9 6h0m4 0h0m1-6h0m2 1h0m3 0h0m5-1h0m1 1h0m5-1h0m3 4h0m0-2h0m2-2h0m1 6h0m1 0h0m2-6h0m3 1h0m4 2h0m1-2h0m2 0h0m-550 13h0m15-3h0m4 3h0m0-2h0m0-3h0m1 3h0m3 2h0m0 1h0m2-7h0m0 7h0m4-4h0m7-2h0m2 0h0m0 0h0m2 5h0m5-3h0m3 4h0m0-4h0m6 4h0m1-7h0m0 5h0m2 1h0m0 1h0m0-4h0m2 4h0m2-4h0m11 0h0m8 4h0m6-6h0m1-1h0m1 3h0m10 3h0m5-6h0m9 2h0m4 1h0m6 0h0m1 2h0m2-5h0m0 6h0m5-5h0m2 4h0m5 1h0m5-1h0m2-4h0m2 2h0m3 1h0m4 3h0m3-1h0m4-5h0m9 0h0m0 4h0m2-5h0m0 6h0m5-3h0m6-1h0m11-1h0m3 4h0m8-3h0m2 2h0m5-1h0m2 4h0m3-3h0m2 3h0m10-4h0m16 3h0m1-2h0m3-3h0m0-1h0m7 6h0m4-2h0m2 0h0m4 1h0m13-4h0m1 3h0m2 1h0m1 1h0m1-1h0m2 1h0m4-3h0m3 2h0m6-4h0m1 2h0m5-1h0m4 4h0m8-2h0m10 2h0m6-4h0m13 2h0m12-1h0m0-1h0m0-2h0m2 5h0m2 2h0m1-4h0m1-1h0m13 0h0m5 2h0m1 0h0m0 1h0m0 1h0m2-1h0m0-4h0m4 6h0m2-2h0m3 0h0m3 2h0m6-5h0m8 2h0m1 1h0m5-3h0m4 5h0m0-2h0m0 2h0m7-1h0m5 0h0m3-5h0m1 5h0m10-5h0m3 4h0m1-5h0m2 7h0m0-5h0m6-2h0m0 2h0m1 5h0m3 0h0m8-2h0m1-5h0m2 6h0m1-4h0m12 3h0m2-3h0m5-1h0m3-1h0m1 7h0m4-7h0m8 1h0m14 5h0m6-5h0m2-1h0m4 2h0m2 3h0m10-4h0m2 6h0m1-1h0m3 0h0m4-5h0m-562 13h0m3-5h0m2 0h0m4 5h0m3-6h0m2 3h0m3-1h0m1-2h0m1 1h0m8 0h0m1 1h0m1 5h0m5-3h0m6 0h0m4-2h0m2-2h0m20 2h0m4-1h0m9 1h0m5 1h0m0 0h0m3-3h0m9 5h0m0 2h0m2-1h0m2 1h0m4-3h0m0 3h0m5-7h0m4 0h0m3 3h0m0-3h0m3 1h0m10 0h0m2 1h0m5 4h0m0-2h0m6 2h0m0 1h0m1-1h0m2 1h0m3-4h0m3 1h0m0 0h0m1-4h0m4 3h0m4 3h0m6-6h0m3 1h0m8 1h0m6 3h0m3-3h0m5 4h0m2-1h0m1-3h0m3 3h0m1-4h0m4 3h0m0 0h0m4-1h0m1 3h0m3-6h0m4 6h0m0 1h0m5-4h0m4 4h0m6 0h0m6 0h0m1-6h0m4 4h0m0-4h0m6 0h0m2-1h0m6 3h0m1-1h0m1-1h0m3-1h0m2 2h0m6 5h0m15-3h0m1-1h0m2 2h0m0 1h0m2-5h0m0 1h0m2 3h0m2 1h0m5-6h0m2 4h0m3-4h0m1 2h0m2 0h0m5 3h0m4 2h0m3-7h0m6 6h0m7 0h0m1-2h0m1 0h0m2-1h0m0 3h0m11-5h0m6 4h0m1-4h0m2 3h0m1-2h0m9-1h0m2 6h0m3-2h0m0-1h0m1-3h0m0 4h0m14-2h0m4 3h0m4 0h0m5 1h0m1-4h0m7-1h0m1 5h0m3-6h0m7 6h0m2-6h0m20 6h0m2-5h0m23 5h0m10-5h0m10 3h0m5-1h0m5 2h0m3-1h0m11-3h0m1 3h0m6-5h0m0 4h0m5 0h0m7 2h0m20-2h0m6-4h0m7 0h0m1 6h0m5-4h0m-563 7h0m8 0h0m3 1h0m4-2h0m1 5h0m0-1h0m5-2h0m13-2h0m1 7h0m7-4h0m3-3h0m9 1h0m3 5h0m2-3h0m1-2h0m1 0h0m20 2h0m3-2h0m2 6h0m9-5h0m2 4h0m5-3h0m6 3h0m12-4h0m4 0h0m3 4h0m3 1h0m3-3h0m3-2h0m1 3h0m0-5h0m0 1h0m2-1h0m5 2h0m8 2h0m1 3h0m3-1h0m2-2h0m3 2h0m1-1h0m9 2h0m12-6h0m5 6h0m6-3h0m4-2h0m6-2h0m2 5h0m2-5h0m0 2h0m3 1h0m13-1h0m6-1h0m9 0h0m6 1h0m7 2h0m3-1h0m1 3h0m0-3h0m5 0h0m6 0h0m1 0h0m6-1h0m0-2h0m15 5h0m11-5h0m1 6h0m1 1h0m2-4h0m5 3h0m1 0h0m0-4h0m2-1h0m0 6h0m0-4h0m0-1h0m2 4h0m1-2h0m8-3h0m4 2h0m4 1h0m4 3h0m2-4h0m1 1h0m1 3h0m13-3h0m2-3h0m11 2h0m2-3h0m10 6h0m0 0h0m1-2h0m1 0h0m2 1h0m4-5h0m3 0h0m12 4h0m3 3h0m3-3h0m1-4h0m2 2h0m2-2h0m4 4h0m2-2h0m3 1h0m3 2h0m3-3h0m1 4h0m2-3h0m1 2h0m12-3h0m2 4h0m1-4h0m0 2h0m6 2h0m2-6h0m1 0h0m0 2h0m1 5h0m3-1h0m0 1h0m2-2h0m2-5h0m9 7h0m3-2h0m12 1h0m11 1h0m12-4h0m6-3h0m7 1h0m1 3h0m1-1h0m4 3h0m7-3h0m2 0h0m4 1h0m8 1h0m1 2h0m4-3h0m4 2h0m-548 7h0m2 2h0m4-1h0m1-1h0m4-5h0m1 2h0m5-2h0m0 7h0m6-3h0m3-2h0m2 4h0m0-4h0m9 0h0m2 2h0m3-2h0m8 4h0m1-2h0m2 1h0m8-1h0m1-4h0m4 6h0m2 1h0m4-4h0m0 0h0m6-3h0m3 3h0m4 0h0m0 1h0m16 0h0m0-2h0m4-2h0m7 5h0m1-5h0m3 5h0m1-5h0m1 4h0m2 2h0m1 0h0m2-3h0m4-2h0m3 3h0m4 1h0m0 2h0m0 0h0m2-7h0m6 1h0m2 3h0m1 1h0m6-4h0m8-1h0m2 0h0m1 1h0m3-1h0m1 3h0m4-2h0m1 0h0m5-1h0m2 1h0m2 3h0m2 0h0m5-4h0m1 2h0m2 4h0m1-4h0m5 0h0m2-1h0m4 1h0m1 0h0m0-1h0m11 1h0m1 1h0m8 4h0m0-3h0m1-4h0m3 2h0m1 5h0m0 0h0m7-7h0m0 4h0m1-4h0m2 2h0m11 2h0m20 0h0m3-2h0m2-1h0m4 4h0m2 0h0m1-4h0m2-1h0m15 2h0m1 3h0m1-4h0m1 2h0m0-1h0m4 1h0m0 0h0m2-3h0m5 0h0m1 1h0m0 4h0m1-4h0m12 0h0m6 1h0m4 0h0m6 4h0m3 1h0m8-4h0m7 2h0m1 1h0m8 1h0m4-5h0m3 4h0m2-5h0m1 0h0m1-1h0m7 1h0m1 5h0m0-3h0m1 0h0m0 0h0m1 1h0m8 0h0m3 1h0m6-4h0m2-1h0m3 1h0m3 5h0m3-1h0m0 0h0m8-2h0m7 4h0m2-7h0m3 5h0m0-2h0m1 0h0m1 0h0m0 1h0m7-1h0m0-2h0m4 5h0m0-6h0m20 4h0m11 0h0m6-2h0m4 2h0m3 2h0m4 1h0m2-4h0m5 1h0m3-1h0m3-3h0m10 3h0m1 3h0m1-6h0m4 6h0m5 1h0m4-6h0m2 0h0m7 2h0m0 3h0m2-1h0m4-3h0m-560 10h0m2 1h0m2-5h0m2 3h0m4 0h0m1 1h0m7 3h0m0 0h0m1 0h0m1-3h0m2 0h0m3 0h0m11-1h0m1 3h0m10 1h0m0-3h0m2 3h0m1-7h0m1 3h0m8 1h0m2 0h0m3 1h0m1 2h0m0-2h0m3-3h0m3 2h0m1 0h0m1-1h0m9-1h0m1 1h0m2 1h0m0-4h0m1 6h0m3-6h0m1 4h0m1-1h0m8 3h0m3 1h0m2-6h0m6-1h0m0 4h0m5-4h0m3 0h0m2 6h0m10-1h0m1 1h0m2-1h0m6 1h0m2-5h0m4 5h0m2-1h0m3-5h0m1 6h0m0 1h0m11-6h0m2 2h0m1 2h0m1-2h0m1 2h0m20-5h0m11 6h0m3-3h0m6 4h0m2-7h0m3 0h0m3 4h0m2 0h0m2 2h0m4-1h0m8-2h0m10-1h0m4 3h0m3-2h0m1-1h0m1 5h0m10-6h0m2 6h0m6-4h0m0 4h0m5-6h0m15 1h0m1 0h0m9 3h0m0-4h0m4 2h0m2 3h0m5-5h0m6 0h0m6 2h0m1 3h0m4 1h0m2 0h0m1-4h0m1 2h0m0-4h0m3 4h0m5 1h0m6-4h0m8-1h0m1 0h0m2 5h0m26-5h0m14 1h0m7 3h0m7-2h0m3 1h0m3 3h0m3-2h0m6-2h0m3-1h0m1 5h0m1-6h0m3 3h0m4 2h0m6-3h0m7 2h0m8-2h0m1 4h0m7-4h0m0-3h0m9 6h0m26-5h0m3 4h0m0-1h0m6 3h0m3 0h0m0-1h0m3 0h0m2-4h0m7-1h0m1 3h0m7 1h0m7-5h0m4 7h0m2-6h0m0 2h0m0 2h0m1-1h0m6-4h0m6 5h0m-553 6h0m7 3h0m4-5h0m3 4h0m4 0h0m0 2h0m2-4h0m6-3h0m0 5h0m7 2h0m10-2h0m0 1h0m9-4h0m0 4h0m3-1h0m5-5h0m4 4h0m1-1h0m2 2h0m6-4h0m3 2h0m5-3h0m0 7h0m7-1h0m3-4h0m2 1h0m2 0h0m2 3h0m1 0h0m5-1h0m6 0h0m0 0h0m10 1h0m5-5h0m2 2h0m7-1h0m1 3h0m10-2h0m0-1h0m8 5h0m4-2h0m2 2h0m13-5h0m3 3h0m1-5h0m1 5h0m1 1h0m6-3h0m4 3h0m1 0h0m6 0h0m5-5h0m11 1h0m1 3h0m5-1h0m1 3h0m1-2h0m5-1h0m1-2h0m0 1h0m1-1h0m0-2h0m2 4h0m7-3h0m0 6h0m6-5h0m1 2h0m7-1h0m1 3h0m4-4h0m2 1h0m4 1h0m0 1h0m1 1h0m4-4h0m1-1h0m12 1h0m3 2h0m5 2h0m5-5h0m7 6h0m1-6h0m1 2h0m2-1h0m9 5h0m9 0h0m4-3h0m5-3h0m2 1h0m7-1h0m0-1h0m2 0h0m3 4h0m1 2h0m1-5h0m1 1h0m11-1h0m7 0h0m7 5h0m8-6h0m0 0h0m0 4h0m2-2h0m7-2h0m1 3h0m4-2h0m0 5h0m0 1h0m1-4h0m0 4h0m5-2h0m2 2h0m1-1h0m8-1h0m7-2h0m8-1h0m1 4h0m8-3h0m5 4h0m1-3h0m1-1h0m1-1h0m7 5h0m18-7h0m3 1h0m2-1h0m4 4h0m4 2h0m10-3h0m1 3h0m11-6h0m5 5h0m5-1h0m15 3h0m1-2h0m0-3h0m1-1h0m0 5h0m0-3h0m2-3h0m1 7h0m3-5h0m9 4h0m0-2h0m3-2h0m10 5h0m-562 2h0m0 1h0m2-1h0m3 5h0m3-5h0m29 4h0m2-4h0m0 1h0m3 5h0m2 0h0m4-1h0m3-4h0m0-2h0m6 6h0m6 0h0m1 1h0m3-3h0m3-3h0m1 5h0m8-4h0m1 0h0m2-1h0m2 4h0m2-2h0m2-2h0m5 4h0m4 2h0m2 0h0m9-3h0m6 0h0m6 3h0m2-4h0m1 2h0m4-1h0m1-3h0m3 0h0m1 3h0m0-4h0m10 6h0m8-6h0m5 3h0m1-3h0m15 6h0m2 0h0m3-6h0m11 2h0m2 2h0m14 2h0m1-4h0m0-1h0m1 4h0m14-3h0m12 4h0m0 1h0m2-2h0m0 0h0m12-2h0m15-3h0m9 0h0m1 1h0m0 1h0m3 0h0m3 2h0m0-4h0m8 3h0m1 3h0m5 1h0m5-5h0m5 1h0m5 2h0m5 2h0m1 0h0m8 0h0m2-3h0m12 0h0m4-2h0m1-1h0m5 5h0m5-5h0m2 6h0m1-6h0m2 0h0m3-1h0m30 3h0m7 4h0m7-5h0m2-2h0m0 5h0m1 0h0m1-4h0m1 6h0m6-4h0m5 2h0m0 2h0m0-1h0m2 0h0m8-6h0m1 3h0m2 2h0m7 2h0m1-1h0m7 0h0m4-2h0m5 3h0m0-4h0m2-1h0m2-1h0m8 1h0m0 1h0m3 3h0m2-1h0m2-4h0m14 5h0m0-2h0m12 1h0m1-4h0m19 5h0m2-5h0m4 3h0m1 2h0m1-4h0m4-2h0m1 4h0m4-4h0m3 3h0m2 3h0m9 1h0m5-4h0m-548 5h0m15 2h0m1-1h0m1-1h0m3 3h0m3 0h0m3-3h0m0 7h0m2-3h0m8 3h0m9-4h0m1-3h0m2 3h0m2 4h0m11-5h0m0-1h0m7 1h0m5 5h0m2-6h0m5 4h0m3-1h0m1 2h0m4-2h0m9 1h0m7-4h0m3 3h0m0 0h0m3 3h0m0-6h0m1 0h0m10 1h0m3 1h0m3 4h0m0-4h0m2-1h0m9 2h0m6 2h0m3-3h0m3-3h0m2 4h0m1-4h0m5 4h0m3-2h0m1-1h0m5 1h0m10 3h0m0-5h0m0 3h0m2 3h0m2 1h0m0-5h0m2 3h0m5-5h0m5 0h0m5 6h0m7-2h0m2-2h0m1 5h0m3-5h0m9-1h0m1 3h0m0 2h0m9 1h0m1-2h0m13 2h0m3-5h0m3-2h0m1 5h0m1-2h0m4 0h0m0-1h0m4 2h0m8 2h0m0-5h0m0 6h0m5 0h0m1-7h0m2 4h0m1-2h0m2 4h0m4-1h0m6-2h0m6 1h0m4-3h0m7 1h0m1 1h0m15-3h0m14 4h0m3 1h0m4-5h0m5 2h0m2 3h0m2 2h0m1-1h0m8-1h0m10-1h0m7-2h0m1 0h0m0 2h0m7 0h0m3-1h0m7 4h0m0-7h0m21 3h0m8-3h0m0 5h0m1-3h0m10 3h0m2 1h0m9-3h0m2 3h0m2-4h0m8 1h0m3-2h0m5-1h0m5 0h0m0 7h0m2 0h0m3-5h0m14 5h0m9-4h0m1 1h0m3 0h0m4-4h0m6 4h0m3 1h0m0 2h0m6-1h0m1-5h0m2 6h0m4-6h0m4 3h0m1 3h0m0-7h0m3 0h0m8 4h0m2-2h0m4 3h0m3-3h0m1 3h0m0-4h0m-560 11h0m4 2h0m0 1h0m11 0h0m1-4h0m8 3h0m0-5h0m4 2h0m4-3h0m2 0h0m4 7h0m23-1h0m1 0h0m3-6h0m4 1h0m12 4h0m2 1h0m10-1h0m3-1h0m2-3h0m1 0h0m0 5h0m4-1h0m5-4h0m12 6h0m5-1h0m0-1h0m3 0h0m3 2h0m7-6h0m0 4h0m1 2h0m10-3h0m1-2h0m2 1h0m5-1h0m0 3h0m2-4h0m1 1h0m1-1h0m3 3h0m2-1h0m1 2h0m1 0h0m15-5h0m2 2h0m1 2h0m7-2h0m7-2h0m5 7h0m6-4h0m1 1h0m1-2h0m6-2h0m0 2h0m6 1h0m2-2h0m0 2h0m4-1h0m2 2h0m3 2h0m7 0h0m0-5h0m4 1h0m3 0h0m12 0h0m4-1h0m24 5h0m0-2h0m1-2h0m6 5h0m7-5h0m12 0h0m3 4h0m9-6h0m3 1h0m3 5h0m0-3h0m1 4h0m4-7h0m13 2h0m12-2h0m3 2h0m3 0h0m1 4h0m0-3h0m6-2h0m1 1h0m2-1h0m0 1h0m1 2h0m2-4h0m7 6h0m3-4h0m8 4h0m4-2h0m5 1h0m8-2h0m2 3h0m3 0h0m1-1h0m2 2h0m1-5h0m3-1h0m6 3h0m4-4h0m1 1h0m3-1h0m1 1h0m0 4h0m2 2h0m2-5h0m2 1h0m1 0h0m2-1h0m3-1h0m5 0h0m1 0h0m1 0h0m12 5h0m4 0h0m1-2h0m0-4h0m0 4h0m6-1h0m1 1h0m1-2h0m1 1h0m1 1h0m1-3h0m13 4h0m4-1h0m0 3h0m1-3h0m3-1h0m1 0h0m14 1h0m2-1h0m3 1h0m0 2h0m2-2h0m9-1h0m2 4h0m4-5h0m7-2h0m1 3h0m-560 12h0m2-4h0m10 4h0m0-2h0m3 0h0m1 0h0m2-3h0m2 3h0m9-4h0m3 2h0m6 3h0m1-5h0m0 0h0m3-1h0m10 4h0m9 1h0m1-4h0m2-1h0m3 1h0m8 3h0m3 1h0m2-4h0m11 0h0m1 3h0m4 2h0m1-6h0m9 5h0m3-3h0m1-1h0m4 3h0m1-1h0m0-3h0m9 6h0m2-3h0m1 0h0m8 4h0m1-6h0m6 4h0m5-1h0m0 2h0m8-2h0m8 3h0m7-3h0m16-2h0m0 2h0m7 2h0m1-5h0m8 2h0m0 0h0m8-3h0m7 1h0m3 2h0m2-3h0m12 6h0m1 0h0m0-5h0m9 1h0m2 0h0m7 4h0m9-1h0m3-1h0m6-3h0m2-1h0m5 7h0m9-3h0m1 1h0m6 0h0m8 0h0m1-1h0m1-1h0m1-2h0m4 6h0m9-5h0m2 0h0m3 2h0m2-4h0m3 2h0m1 1h0m7-1h0m7-1h0m7 3h0m2 0h0m1 2h0m3 1h0m5-2h0m4 2h0m1-5h0m11 4h0m0-2h0m22 3h0m11-7h0m9 2h0m3-2h0m2 3h0m3-1h0m7 4h0m3 1h0m1-1h0m3 1h0m5-7h0m3 5h0m6 1h0m10-6h0m8 7h0m3-2h0m4-5h0m14 5h0m3-4h0m2-1h0m2 6h0m1-3h0m0-2h0m1 4h0m1-2h0m0-3h0m3 2h0m3 1h0m0 2h0m5 1h0m1-6h0m0 6h0m3-4h0m4 2h0m13-3h0m0 1h0m7 0h0m5-1h0m3 4h0m2 2h0m3-1h0m2-1h0m-558 8h0m2-3h0m4 0h0m7-2h0m0 5h0m4-3h0m3 0h0m2 5h0m4-2h0m5-2h0m0-3h0m4 1h0m1 6h0m11 0h0m0-3h0m7-3h0m2 3h0m16-2h0m2-2h0m3 3h0m4 0h0m2-1h0m1 5h0m2 0h0m0-1h0m1-1h0m0-3h0m2 0h0m2 0h0m2-1h0m1 5h0m1 1h0m0 0h0m2-1h0m6-5h0m5 4h0m0-3h0m15 0h0m1 5h0m6-5h0m3 0h0m0 4h0m7-6h0m4 5h0m14-5h0m1 5h0m1-1h0m1 0h0m0-1h0m5 0h0m6 4h0m3-3h0m4-1h0m0 3h0m5-3h0m2-2h0m4 0h0m6 4h0m0-2h0m8 0h0m2 4h0m0-1h0m1-4h0m1 1h0m0-1h0m5-2h0m0 1h0m2 0h0m2 5h0m1-4h0m7-1h0m8 3h0m12-4h0m5 0h0m1 2h0m3 4h0m9-4h0m2 3h0m0-3h0m7 0h0m1 2h0m1 3h0m2-3h0m3-4h0m1 3h0m0 2h0m3-2h0m1 0h0m2-1h0m3 2h0m1 0h0m3 1h0m1 0h0m0-2h0m1 3h0m1-3h0m10 0h0m6 0h0m1 1h0m1-4h0m6 6h0m2-4h0m2 2h0m2-2h0m9-1h0m1 4h0m2-3h0m1 5h0m2-1h0m2-2h0m3 2h0m1-2h0m2 2h0m3-6h0m5 6h0m0-4h0m5 4h0m0 0h0m2-6h0m5 5h0m5 0h0m8-2h0m1-1h0m0 0h0m2-1h0m8 2h0m4 1h0m12 0h0m1 0h0m2 1h0m3-5h0m0 5h0m9 1h0m4-3h0m1 2h0m3-3h0m2 2h0m4-1h0m5 4h0m9-4h0m7 3h0m1-1h0m3-1h0m2-1h0m3-1h0m4 4h0m0-6h0m6 1h0m0 1h0m1 5h0m3-7h0m3 5h0m3-3h0m9-1h0m9 4h0m20-5h0m1 5h0m0-3h0m0 5h0m2-7h0m2 6h0m7 1h0m0-4h0m10 2h0m1-1h0m5 3h0m4-3h0m3-2h0m-554 11h0m2-1h0m2 0h0m1 3h0m11 0h0m1-1h0m13 1h0m10-6h0m1 5h0m2-4h0m6 0h0m8 2h0m3 3h0m2-4h0m2 0h0m1 0h0m3 4h0m5 0h0m4-2h0m0-1h0m2-4h0m2 6h0m3-1h0m2-4h0m3 5h0m0-4h0m3-1h0m11 6h0m1-4h0m0-1h0m2 4h0m6-2h0m17-2h0m4 3h0m5-2h0m2-3h0m4 7h0m5-1h0m11-4h0m3-2h0m2 6h0m1-5h0m3 0h0m4 2h0m8 0h0m4 2h0m17-3h0m5 4h0m7-6h0m1 0h0m1 4h0m2-1h0m1-2h0m2 6h0m9 0h0m2-5h0m3 5h0m0-2h0m2 2h0m1-6h0m1 3h0m5 1h0m13-4h0m2 5h0m4-3h0m3 0h0m2-2h0m5 4h0m9-1h0m3 3h0m4-2h0m4 2h0m2-4h0m3-3h0m2 0h0m2 1h0m4-1h0m0 2h0m1-2h0m2 2h0m5 2h0m3 0h0m1 1h0m1-2h0m1 4h0m12-6h0m5 2h0m4-3h0m1 3h0m5-3h0m5 1h0m1 3h0m3-1h0m0-3h0m11 5h0m4 2h0m1-7h0m7 5h0m2 1h0m5-4h0m6 1h0m5-1h0m16 0h0m2 0h0m1 1h0m1 0h0m2 3h0m2-6h0m3 1h0m5 1h0m1 4h0m0 1h0m2-6h0m9 5h0m1-4h0m5 4h0m1-3h0m4 4h0m2-2h0m1 1h0m1-4h0m4 4h0m4 1h0m2-3h0m5-2h0m7 4h0m4-3h0m2 3h0m2-2h0m4 2h0m3 0h0m3-2h0m6 3h0m1-7h0m1 4h0m0-2h0m3 5h0m3-5h0m3-2h0m0 5h0m2-5h0m0 0h0m12 1h0m2-1h0m2 1h0m16-1h0m1 0h0m2 3h0m2-3h0m2 4h0m-557 11h0m7-1h0m0-6h0m2 6h0m4-3h0m3 2h0m6-1h0m3-3h0m5 4h0m4-1h0m2 2h0m0-3h0m11-1h0m2 4h0m6-3h0m0-3h0m0 4h0m3-4h0m2 4h0m1-4h0m4 4h0m1-4h0m2 1h0m3 1h0m0 5h0m4-7h0m3 4h0m0-3h0m3 2h0m13 2h0m1-3h0m7 1h0m2 4h0m6 0h0m1-2h0m0 0h0m1-2h0m0-1h0m1 5h0m0-4h0m13 0h0m4 2h0m1 2h0m3-5h0m5 4h0m5 0h0m8-3h0m7 3h0m0 1h0m4-7h0m11 3h0m1 0h0m1 4h0m4-1h0m2-4h0m8-2h0m4 5h0m1-1h0m4 2h0m2-4h0m3 3h0m1-2h0m11 3h0m0-3h0m4 2h0m3-2h0m9 1h0m4-1h0m1 0h0m3 4h0m1-6h0m4 1h0m1 3h0m1 0h0m1-5h0m3 7h0m1-5h0m3 0h0m5-1h0m2-1h0m0 5h0m13-5h0m15 4h0m1 1h0m0-4h0m1-1h0m4 2h0m2 5h0m4-1h0m0-5h0m1 5h0m0-4h0m5 0h0m3-1h0m0-1h0m2 6h0m4-5h0m1 3h0m6-2h0m6 3h0m8-5h0m0 3h0m2-2h0m1 2h0m2 4h0m2 0h0m5-6h0m1 4h0m0-2h0m1 2h0m4 2h0m6-5h0m0 1h0m5 1h0m4 3h0m2-1h0m5-4h0m1 3h0m10-5h0m0 7h0m9-2h0m1-4h0m0 1h0m6 0h0m3 5h0m4-3h0m3 3h0m0 0h0m15-5h0m4 0h0m3 3h0m3-2h0m2 0h0m1-2h0m15 3h0m13 3h0m0-1h0m5-5h0m6 6h0m2-2h0m0 1h0m2-5h0m3 3h0m2-3h0m2 2h0m5 1h0m3-3h0m5 4h0m4 0h0m4-4h0m7 1h0m10 0h0m6 4h0m15 0h0m3-5h0m0 1h0m-557 9h0m2 1h0m4-1h0m4 3h0m1-1h0m1 1h0m1 1h0m5-1h0m0 0h0m1-1h0m1-1h0m7-4h0m3 3h0m1 1h0m3 2h0m0-6h0m4 2h0m1 2h0m1-1h0m2 1h0m7-1h0m0-3h0m8 3h0m14 2h0m2-4h0m1 1h0m6 4h0m1 0h0m13 1h0m3-7h0m5 1h0m1 3h0m2-1h0m8 1h0m1-1h0m23 3h0m3 0h0m7-3h0m0 0h0m1 1h0m2-4h0m10 5h0m0 1h0m0 0h0m3-3h0m6 1h0m4 3h0m0-1h0m5-4h0m11 3h0m5-5h0m1 5h0m2-5h0m1 4h0m1 2h0m10-5h0m4 4h0m0 0h0m5-4h0m4 0h0m1 6h0m0-6h0m3 3h0m1-2h0m3 5h0m13-2h0m2 0h0m1-4h0m0 0h0m1 2h0m2-3h0m7 0h0m0 0h0m1 2h0m7-2h0m0 4h0m1 2h0m10-5h0m4 1h0m2 4h0m1-1h0m8-2h0m4 2h0m9-1h0m4-4h0m1 2h0m2 3h0m5-3h0m1 5h0m0-4h0m4 0h0m1 2h0m2-1h0m5-4h0m1 2h0m2 5h0m2-1h0m4-3h0m2-1h0m3 4h0m1-5h0m3 0h0m3 2h0m1 2h0m1-2h0m1 0h0m13 1h0m3-3h0m4 0h0m4 0h0m0 4h0m5 2h0m1 0h0m0-1h0m1 1h0m0-3h0m4 3h0m6 0h0m5-7h0m0 3h0m3-2h0m3 6h0m3-5h0m3 3h0m3 0h0m4 0h0m1 2h0m6-6h0m4 0h0m7 3h0m8-2h0m10-1h0m0 3h0m1 1h0m4 1h0m1-4h0m1 4h0m1 1h0m5-1h0m5-4h0m3 2h0m1 2h0m3-5h0m3 3h0m1 1h0m5 1h0m5 0h0m2 1h0m0-3h0m12-1h0m0 3h0m4-4h0m3-1h0m1 0h0m1 6h0m3-6h0m2 5h0m4-6h0m0 7h0m10-6h0m5 1h0m3 3h0m1 0h0m1-1h0m1 1h0m12 0h0m3-4h0m-560 8h0m0 0h0m1 4h0m2 1h0m4-6h0m7 7h0m1-3h0m1 1h0m2-5h0m1 5h0m2 2h0m3 0h0m8-7h0m0 2h0m1-1h0m1 2h0m0 3h0m0-1h0m2 2h0m1-6h0m1 6h0m1-3h0m1-4h0m0 1h0m15 0h0m1 1h0m0 1h0m1-1h0m1 1h0m0 4h0m2-5h0m21 3h0m0-4h0m0-1h0m6 6h0m2 0h0m5-2h0m4 0h0m1-3h0m7-1h0m4 7h0m2-3h0m23 3h0m1-3h0m0 1h0m2 2h0m1-4h0m6-3h0m0 6h0m0-4h0m1 2h0m14-4h0m1 6h0m0-5h0m11 1h0m10 0h0m4-2h0m11 7h0m2-5h0m0 4h0m9-4h0m4 4h0m3-2h0m5 1h0m12-3h0m2 3h0m5 1h0m0-2h0m2 1h0m1-3h0m4 2h0m1-1h0m16-2h0m4 1h0m1 1h0m4 4h0m1-1h0m1-3h0m2 4h0m1-3h0m3 2h0m0-1h0m0-4h0m3 0h0m0 0h0m0 4h0m9-3h0m3-1h0m2 0h0m7 5h0m6-3h0m0 2h0m1 2h0m1-6h0m0 4h0m2-2h0m0-1h0m1-1h0m1 3h0m0-2h0m6 0h0m0-1h0m6 4h0m1 0h0m3 0h0m4-5h0m2 3h0m2-2h0m2 0h0m3 5h0m5-6h0m6 0h0m2 4h0m3 1h0m5-5h0m9 6h0m0 0h0m6-1h0m2 0h0m0-3h0m3-1h0m0-1h0m2 2h0m4 2h0m15-1h0m3 3h0m6-1h0m1 0h0m4-4h0m2 5h0m1-4h0m2 5h0m1-5h0m2-2h0m3 0h0m1 6h0m4-3h0m4 3h0m0-4h0m3-1h0m10 4h0m6 1h0m2-6h0m2 7h0m0-5h0m0 4h0m2-2h0m2-1h0m2 0h0m3 3h0m1-2h0m4 2h0m3-5h0m0 6h0m5-4h0m4-1h0m14-2h0m2 1h0m1 6h0m6-2h0m3 0h0m1 1h0m0-3h0m1 1h0m3-3h0m3 6h0m1-5h0m7-2h0m0 7h0m11-6h0m2 4h0m2-3h0m8 2h0m4 1h0m-559 9h0m3-5h0m0 5h0m4 0h0m17-6h0m1 6h0m2-5h0m2 6h0m6-2h0m8 2h0m4-5h0m0 2h0m1 1h0m3-1h0m2-3h0m1 3h0m4 1h0m4-4h0m1 1h0m2 2h0m0 3h0m2-6h0m0-1h0m2 1h0m3 1h0m6-1h0m8 3h0m6-1h0m1 4h0m0-6h0m1-1h0m12 3h0m8-1h0m2 2h0m6 0h0m2-4h0m6 3h0m2 2h0m1 0h0m4-5h0m1 5h0m2 2h0m4-3h0m2 0h0m8-2h0m0 2h0m2-3h0m2 1h0m1 0h0m10 2h0m7-3h0m0 4h0m2 2h0m3-3h0m1 3h0m6-5h0m0-2h0m3 3h0m1 4h0m7-7h0m3 7h0m2 0h0m2-7h0m2 7h0m9-5h0m5 0h0m2 0h0m3 0h0m3 3h0m3-1h0m1 1h0m3-5h0m2 2h0m1 3h0m1-1h0m3 3h0m7-6h0m8 6h0m1-2h0m3 1h0m1-3h0m1 2h0m3 0h0m7-2h0m8 4h0m4-5h0m1-2h0m4 7h0m4-1h0m4 1h0m0 0h0m4-3h0m10-4h0m5 5h0m1-3h0m2-2h0m2 2h0m4 3h0m2-2h0m3-2h0m0 3h0m1 2h0m3 0h0m14-6h0m0 7h0m6-3h0m2 3h0m0-1h0m5-1h0m1-1h0m0 1h0m1-1h0m5-4h0m0 0h0m0 5h0m18-4h0m14 0h0m10 0h0m7 6h0m5-7h0m2 1h0m9 1h0m1 2h0m2 1h0m4-3h0m6 1h0m0-2h0m5 5h0m3-4h0m7 1h0m2 4h0m0-5h0m1 1h0m1 4h0m2-1h0m4-6h0m1 7h0m9 0h0m15-4h0m2 3h0m1-6h0m4 3h0m1 2h0m3-3h0m2-2h0m4 2h0m2-2h0m0 2h0m1 1h0m5 3h0m3 1h0m1 0h0m3-6h0m2 2h0m0 4h0m10 0h0m2-6h0m6 2h0m0-1h0m5-1h0m-551 13h0m10-4h0m2-1h0m2 3h0m1 1h0m4-5h0m3 4h0m3 3h0m2 0h0m9-2h0m2-4h0m1 5h0m2-5h0m1 3h0m15-3h0m6 3h0m9 2h0m1-4h0m1 3h0m7 2h0m1-5h0m2-1h0m1-1h0m6 5h0m4-5h0m1 1h0m4 6h0m0-6h0m4-1h0m3 2h0m1-2h0m3 2h0m1 0h0m2 1h0m1 4h0m1-2h0m1-3h0m2-2h0m2 6h0m0-3h0m1-3h0m4 7h0m2-6h0m1 1h0m8-2h0m2 0h0m2 3h0m1 2h0m11-4h0m3 6h0m4-7h0m7 4h0m1-2h0m2 5h0m1-2h0m1-5h0m1 4h0m1-2h0m6 2h0m6 1h0m3-4h0m3 2h0m6-2h0m3 4h0m1-5h0m1 3h0m12-2h0m2 2h0m3-2h0m1 1h0m1 4h0m0-5h0m3-1h0m2 7h0m10-6h0m3 3h0m2 1h0m0-1h0m2 2h0m6-3h0m1 2h0m5 2h0m7-3h0m1-4h0m14 5h0m1-2h0m8 4h0m0-3h0m9-4h0m0 3h0m10-1h0m1 3h0m1 1h0m4-2h0m1 2h0m5-3h0m5 3h0m2-4h0m1-1h0m1-1h0m2 2h0m1 2h0m5-2h0m2 1h0m15 2h0m2-1h0m7 0h0m0-1h0m1 1h0m1-4h0m3 2h0m2-1h0m4 6h0m7-2h0m1-4h0m2 6h0m3-2h0m5-2h0m5 0h0m1 1h0m4-1h0m7 3h0m0-1h0m1-2h0m3-2h0m2 1h0m2-1h0m5 0h0m0 2h0m3 3h0m1-4h0m2 0h0m0 5h0m1-1h0m2-4h0m1 1h0m0 3h0m7-2h0m5 2h0m7-5h0m2 0h0m6 6h0m2-5h0m4-1h0m7 1h0m1 4h0m4 1h0m0-3h0m1 0h0m6 3h0m4 0h0m1-4h0m1 1h0m5 2h0m3-1h0m1-4h0m13 3h0m6 0h0m13-4h0m3 3h0m3 4h0m3-7h0m2 3h0m2-2h0m2 0h0m5 2h0m-548 8h0m0-1h0m7 5h0m7 0h0m4-1h0m3-2h0m2 1h0m0 2h0m10-7h0m0 1h0m5 0h0m3 6h0m1-3h0m1-1h0m2 3h0m0-6h0m0 6h0m3-6h0m0 0h0m6 7h0m8 0h0m8-2h0m2-4h0m1 1h0m2-1h0m1 3h0m4-4h0m5 3h0m6-1h0m2-2h0m3 6h0m6-5h0m3 1h0m2 2h0m2-1h0m4-3h0m3 4h0m0-1h0m5-2h0m8 1h0m3-2h0m3 1h0m5 1h0m5 1h0m1 0h0m11-1h0m0 1h0m4 3h0m0-1h0m5-1h0m0-2h0m0 4h0m1 0h0m1 1h0m6-5h0m6 3h0m7-2h0m0-3h0m7 0h0m0 5h0m3 2h0m4 0h0m1-2h0m5-4h0m1 1h0m0 4h0m2-6h0m5 0h0m5 7h0m4 0h0m8-7h0m1 1h0m8 2h0m1-3h0m5 2h0m6 4h0m2-5h0m4 2h0m8 2h0m5 1h0m0-2h0m12-3h0m0 0h0m1 4h0m1 2h0m1-1h0m1-5h0m7 5h0m0 1h0m7-4h0m6-2h0m0-1h0m5 5h0m5 2h0m2-6h0m6 6h0m1-2h0m7-1h0m6-3h0m2 6h0m4-5h0m2 1h0m22 3h0m3-4h0m2 1h0m2 2h0m2-3h0m2 4h0m2-6h0m1 1h0m8 5h0m5-1h0m3-4h0m14 3h0m3 3h0m8-2h0m5 2h0m14-3h0m3 3h0m1 0h0m2-7h0m5 1h0m0 4h0m12-1h0m17-4h0m4 4h0m12 3h0m7-1h0m2-3h0m2 2h0m4 1h0m7 1h0m3-6h0m6 2h0m1-2h0m0 0h0m5 5h0m0-3h0m3-1h0m0 3h0m2 0h0m1 0h0m1 0h0m4-2h0m-557 8h0m9 1h0m5-1h0m6 4h0m1 0h0m8-3h0m6-4h0m5 2h0m2 3h0m1 1h0m1-5h0m2 6h0m2-6h0m16 1h0m0-2h0m1 2h0m0 2h0m0-1h0m3 2h0m1-5h0m5 6h0m3 0h0m0-5h0m6 5h0m7 0h0m1-4h0m1 4h0m1-6h0m2 5h0m5-5h0m5 0h0m5 4h0m15-2h0m4 1h0m0 2h0m2-4h0m1 6h0m1 0h0m7-4h0m7-1h0m1 0h0m7 2h0m2-2h0m1 1h0m4-3h0m5 7h0m1-7h0m3 1h0m4 6h0m2 0h0m5-2h0m1-2h0m10 0h0m11 2h0m1-1h0m4 1h0m1-4h0m7 1h0m2 5h0m5-6h0m0 5h0m1-6h0m1 4h0m6-2h0m0-2h0m2 4h0m5-4h0m0 7h0m1-4h0m5 1h0m1-2h0m4 0h0m2 1h0m4-2h0m0 4h0m1-3h0m2 2h0m3-3h0m5 5h0m8-1h0m7-5h0m4 1h0m4 2h0m4 0h0m5 1h0m1 0h0m8 0h0m4-4h0m1 1h0m0 0h0m1 6h0m5-1h0m0-5h0m7 6h0m7-4h0m6 3h0m0 1h0m1-1h0m3-4h0m1 2h0m4-1h0m2 0h0m5 4h0m1-6h0m6 6h0m9-1h0m5-1h0m4-1h0m2-4h0m9 2h0m2 1h0m3-3h0m1 7h0m2-2h0m1-2h0m3-1h0m2 5h0m3-6h0m2 0h0m1 1h0m1 0h0m1 0h0m3 0h0m0 5h0m1 0h0m4 0h0m1 0h0m2-2h0m17-2h0m1-1h0m0 1h0m8 0h0m1 2h0m6-2h0m0 1h0m8 0h0m2 1h0m2 0h0m2-4h0m4 2h0m3 0h0m5 1h0m8 0h0m4 2h0m4-2h0m2 3h0m0-7h0m7 3h0m2 0h0m4-1h0m4 4h0m5-2h0m5 2h0m1-5h0m8-1h0m1 0h0m1 6h0m2-4h0m1 0h0m0 1h0m5-3h0m1 7h0m0-7h0m0 5h0m6 1h0m5-6h0m1 4h0m2 3h0m-559 3h0m0 3h0m5 2h0m6-6h0m2 1h0m0 3h0m5 0h0m5-4h0m2 3h0m2 3h0m2-3h0m0 3h0m3-6h0m2 1h0m5 0h0m5-2h0m0 1h0m1 0h0m2 1h0m6 3h0m3-3h0m1 4h0m1-5h0m4 3h0m13 1h0m7 2h0m6-7h0m2 5h0m3 0h0m6 0h0m6-3h0m3-2h0m1 5h0m2-2h0m1 3h0m3-5h0m3 6h0m3-3h0m23 2h0m2-6h0m4 2h0m0 4h0m0-3h0m1 0h0m7 0h0m6 4h0m12-6h0m3 0h0m5 2h0m2 3h0m8-6h0m1 7h0m6-1h0m4-2h0m1-3h0m7 5h0m1-2h0m1 1h0m3-3h0m2 2h0m3-4h0m1 1h0m1 4h0m0 1h0m1-5h0m1 6h0m2-3h0m5-3h0m1 0h0m1 6h0m5-3h0m6-2h0m5 0h0m7-1h0m1 5h0m5-1h0m5-4h0m7 1h0m5 5h0m3-3h0m1 0h0m3 0h0m11-4h0m0 1h0m0 6h0m2-6h0m4 2h0m3 3h0m0-3h0m8 1h0m6 2h0m4-4h0m1 2h0m0-1h0m5 4h0m2-3h0m13 0h0m5-1h0m15 1h0m0 3h0m2-4h0m7 0h0m6 0h0m0-2h0m4 2h0m2 2h0m1-3h0m5 5h0m5-7h0m10 5h0m5-2h0m6 0h0m2 1h0m3 1h0m1-4h0m1 2h0m4 2h0m0 2h0m1-3h0m9 3h0m1-1h0m4-5h0m1 2h0m1-2h0m0 2h0m8 3h0m5-4h0m1-2h0m1 6h0m1 1h0m1-5h0m1 1h0m4 1h0m0-2h0m10 3h0m5 0h0m8-4h0m3 1h0m3 2h0m0-2h0m1 3h0m2 2h0m3-5h0m3 0h0m6 3h0m4-4h0m6-1h0m3 2h0m0 1h0m4 4h0m2-4h0m12-2h0m3 1h0m4 4h0m-557 2h0m12 0h0m7 6h0m9-2h0m4-4h0m0 0h0m3 6h0m3-1h0m21 1h0m1-2h0m7 0h0m9-3h0m2 5h0m4-3h0m2 2h0m10-5h0m3 6h0m0-2h0m2 2h0m3-3h0m4 1h0m9-1h0m1 3h0m2-2h0m4 3h0m11-2h0m2-1h0m0 1h0m9 2h0m1-5h0m0-1h0m0 0h0m6 4h0m5 0h0m4-4h0m8 2h0m4-3h0m1 2h0m0 5h0m0-1h0m4-3h0m5 3h0m9-2h0m0-4h0m1 6h0m0 1h0m0-2h0m6-2h0m16 1h0m19-2h0m3 1h0m5 4h0m0-5h0m2 4h0m4-3h0m0-1h0m5 5h0m0-1h0m1-3h0m6-1h0m5 0h0m0 1h0m4 4h0m2-3h0m0 1h0m3 0h0m1-5h0m2 1h0m1-1h0m1 2h0m1-1h0m0 6h0m1-7h0m1 0h0m4 7h0m11-6h0m6 4h0m4-5h0m3 7h0m0 0h0m2 0h0m2-1h0m3-6h0m2 1h0m2 0h0m7 2h0m4-2h0m3 4h0m0 2h0m3-4h0m4-3h0m1 4h0m3-1h0m1 1h0m1-2h0m4-1h0m10 4h0m2 1h0m1 1h0m18-4h0m1-1h0m0 1h0m2-2h0m0 2h0m0 4h0m16-4h0m0-1h0m8 2h0m0 2h0m1-3h0m8 3h0m0-4h0m6 0h0m4 0h0m1 2h0m6 3h0m16-6h0m7 2h0m0-3h0m1 1h0m1 3h0m1-3h0m10 1h0m0-2h0m6 4h0m0 2h0m3-6h0m1 7h0m3-6h0m1 5h0m4 0h0m3 1h0m2-2h0m1 0h0m6-5h0m2 5h0m1-2h0m8-1h0m7-2h0m4 1h0m4 5h0m0-5h0m2 6h0m0-4h0m13-1h0m12 1h0m1-2h0m3 0h0m2-1h0m2 6h0m2-1h0m-559 6h0m2-2h0m0 0h0m2 1h0m1 0h0m1 3h0m2 2h0m0-7h0m7 6h0m3 1h0m2 0h0m6-7h0m0 4h0m4-3h0m1-1h0m2 1h0m2 1h0m0-2h0m1 4h0m2-1h0m4-2h0m0 0h0m1 5h0m6-3h0m2 3h0m3-6h0m7 2h0m5 0h0m1 4h0m1-2h0m1 0h0m2-3h0m11 0h0m2 3h0m0 1h0m5-5h0m0 1h0m2 6h0m7-7h0m1 1h0m1 3h0m1 1h0m5 1h0m9-5h0m2 5h0m1-4h0m5 5h0m8-6h0m0-1h0m1 5h0m1-2h0m2-1h0m7 0h0m8 1h0m1 4h0m5-2h0m5 2h0m6-2h0m4-1h0m4-1h0m1 2h0m8 1h0m4-3h0m7 3h0m0 0h0m6-2h0m2-1h0m0-2h0m0-1h0m12 6h0m1 1h0m3-1h0m1-5h0m3 5h0m6 0h0m16 1h0m0-1h0m14 0h0m4 0h0m2 0h0m5-2h0m0-3h0m5 2h0m6-3h0m0 5h0m5-4h0m14 1h0m3 1h0m2 3h0m2 0h0m3 0h0m2-3h0m1-2h0m3 4h0m6 2h0m3-6h0m2 6h0m12-7h0m2 3h0m3 2h0m4-3h0m0 4h0m0-1h0m2-4h0m0 0h0m3-1h0m8 3h0m2 3h0m3-5h0m0 2h0m8 0h0m2 2h0m3-5h0m6 7h0m1 0h0m1-4h0m3 3h0m2-2h0m2 3h0m2-1h0m2-5h0m2 1h0m10-1h0m1 5h0m1 0h0m2-3h0m4 3h0m2-5h0m0-1h0m4 6h0m10-3h0m1 4h0m1-5h0m2 3h0m9 2h0m4-3h0m12-1h0m4 4h0m5-4h0m1-2h0m1 4h0m2 0h0m1-4h0m1 3h0m1 0h0m1-4h0m5 6h0m9 0h0m1-2h0m2-2h0m7 1h0m5 2h0m4 2h0m0-3h0m2 3h0m2-2h0m8 2h0m3-3h0m3 1h0m11-5h0m2 5h0m0-3h0m2 0h0m1 3h0m2 1h0m5-6h0m-557 15h0m3-1h0m1 0h0m1 1h0m8-6h0m1 6h0m7-5h0m2 2h0m6-3h0m5 3h0m3 1h0m2-2h0m0 1h0m9 3h0m1-7h0m5 7h0m1-4h0m3 2h0m8 0h0m0 2h0m2-6h0m6-1h0m2 1h0m2 4h0m4 2h0m2-5h0m1 1h0m0-1h0m0 5h0m2-2h0m1-5h0m2 2h0m4 4h0m6-5h0m6 1h0m3-1h0m2 2h0m1 0h0m6 2h0m3-5h0m1 3h0m10-1h0m1 1h0m5-1h0m1-2h0m5 0h0m7 6h0m11 0h0m10 0h0m5-2h0m8-2h0m3 2h0m17-2h0m1 0h0m1 1h0m0-3h0m1 1h0m5 3h0m1 0h0m1 2h0m8-1h0m1-3h0m7 1h0m1-3h0m3 4h0m12-2h0m5 0h0m1 4h0m0 0h0m3-1h0m7-2h0m1-3h0m9 0h0m3 0h0m1 6h0m2 0h0m10 1h0m0-2h0m13-4h0m7 2h0m5 1h0m8-3h0m2 2h0m2 4h0m1 0h0m3-2h0m5-3h0m5 3h0m1-2h0m1 2h0m9 2h0m2-1h0m1-4h0m1 5h0m0-2h0m0-1h0m4 1h0m1 1h0m10-3h0m4-1h0m1 3h0m0-2h0m4-1h0m1-1h0m3 5h0m0-2h0m3 0h0m1-4h0m9 0h0m0 1h0m1 0h0m3-1h0m2 1h0m3 2h0m4-2h0m2 1h0m0 3h0m2-1h0m1 0h0m11 2h0m0-6h0m1 2h0m1-1h0m2 1h0m4 2h0m1 3h0m1-4h0m3-3h0m5 3h0m3 1h0m1 2h0m2 0h0m1-5h0m7-1h0m4 4h0m1-1h0m10 4h0m5 0h0m3-2h0m6 1h0m4 1h0m2 0h0m2-4h0m7-3h0m5 7h0m2-6h0m2 4h0m1 1h0m11-5h0m4 1h0m1 4h0m3 1h0m1-5h0m3 3h0m0-1h0m11 3h0m8 0h0m-545 1h0m0 2h0m7 5h0m3-1h0m4-2h0m1-2h0m3 1h0m5 3h0m2-4h0m0 2h0m6 3h0m3 0h0m14-2h0m6-3h0m2 5h0m1 0h0m2-2h0m18-5h0m2 4h0m3-3h0m0 4h0m4 0h0m3-2h0m1 1h0m16 0h0m3 0h0m12 3h0m0-2h0m2-1h0m2-1h0m13-1h0m1-1h0m9 2h0m1 4h0m2-7h0m13 7h0m1-7h0m8 4h0m5-2h0m3-2h0m2 5h0m3-2h0m2 0h0m3 3h0m2 1h0m1 0h0m8 0h0m2-2h0m5-4h0m6 0h0m2 2h0m1 4h0m0-5h0m1-2h0m4 3h0m3-3h0m7 6h0m1-1h0m2-5h0m1 7h0m10-7h0m3 3h0m2 2h0m1 0h0m1 1h0m4-3h0m7-2h0m4 6h0m2-3h0m7-1h0m2 0h0m7-2h0m3-1h0m8 1h0m2-1h0m2 6h0m4-2h0m5-3h0m3 3h0m5 2h0m0 0h0m14 0h0m1 1h0m3-5h0m3 5h0m11-3h0m2-1h0m2-2h0m0 5h0m1-5h0m16-1h0m1 7h0m6-3h0m4 2h0m1-5h0m3 1h0m3 1h0m2 1h0m2 2h0m7-4h0m1 5h0m1 0h0m2-2h0m6-5h0m3 1h0m2 6h0m4-4h0m13-1h0m11 4h0m0-1h0m12 1h0m2-4h0m1 5h0m4-7h0m3 5h0m2 0h0m1 1h0m1 0h0m1-1h0m1-5h0m5 6h0m5-2h0m2-1h0m1-3h0m6 0h0m8 1h0m3-1h0m10 3h0m3 1h0m3-1h0m16 0h0m10-3h0m1 2h0m7-2h0m-561 9h0m3 0h0m0 6h0m12 0h0m7-6h0m10-1h0m2 4h0m8-1h0m3-3h0m1 6h0m12 1h0m2-4h0m0 2h0m1-2h0m8-2h0m1 6h0m1-5h0m2 4h0m2-4h0m0 0h0m7 1h0m1-3h0m0 5h0m3-2h0m7 2h0m6 0h0m2-5h0m0 2h0m2 1h0m4-2h0m6 3h0m0 1h0m1 2h0m1-7h0m1 3h0m2 2h0m0-5h0m1 5h0m7-4h0m1 1h0m0 4h0m2-5h0m1 1h0m5 5h0m6-5h0m10 0h0m2 3h0m7-4h0m2 4h0m1-2h0m1 3h0m2-1h0m1-1h0m1-2h0m5 4h0m1 0h0m0-3h0m0 3h0m1-4h0m1-1h0m1 6h0m5-1h0m4-5h0m1 6h0m1-2h0m1-5h0m1 3h0m1 3h0m2-5h0m4 5h0m0 1h0m2 0h0m3-2h0m1 1h0m2-1h0m0 1h0m2-5h0m5 4h0m6 2h0m1-5h0m3-2h0m17 7h0m2-5h0m0 1h0m7-2h0m4 2h0m3 2h0m1-5h0m6 4h0m1 3h0m2-3h0m4-1h0m5 4h0m7-5h0m5 5h0m6-4h0m11-3h0m8 3h0m13-1h0m14 1h0m4-3h0m1 6h0m4-2h0m1 1h0m2-1h0m5-1h0m1 0h0m0 2h0m3-3h0m2-1h0m1 4h0m11-1h0m8-4h0m14 3h0m3 3h0m2 0h0m7 1h0m0-3h0m1-1h0m2 1h0m2-1h0m2-1h0m2 5h0m1-4h0m3-2h0m1-1h0m7 6h0m1 0h0m5 0h0m4 0h0m3 0h0m2-3h0m1 1h0m4-1h0m2 4h0m1-7h0m3 7h0m13-4h0m3 3h0m0-4h0m2-2h0m0 1h0m2-1h0m5 6h0m9 1h0m2-5h0m6 3h0m4-4h0m0-1h0m2 5h0m2 2h0m0-1h0m16 0h0m0-5h0m4 3h0m0-1h0m5-1h0m6 3h0m2-4h0m2 5h0m1 1h0m0-5h0m4 3h0m0 0h0m3-3h0m10 0h0m1 4h0m-559 6h0m7 3h0m5-1h0m5-6h0m0 4h0m3 0h0m1 1h0m2 2h0m2-7h0m5 6h0m0-6h0m3 2h0m0-2h0m2 2h0m5 4h0m1 1h0m3-6h0m7 5h0m4-6h0m11 4h0m2 3h0m1-7h0m2 5h0m7 2h0m1-2h0m1-4h0m1 0h0m13 0h0m5 3h0m0 1h0m2 2h0m3-6h0m6 2h0m1 4h0m10-4h0m3 4h0m1-2h0m4 2h0m0-7h0m4 5h0m1 0h0m5 1h0m1-1h0m2 0h0m3-5h0m12 7h0m4-3h0m5 1h0m2 0h0m4-2h0m1 3h0m0 0h0m1-5h0m3 0h0m8 6h0m2-7h0m3 0h0m1 3h0m2-1h0m6 1h0m9-2h0m4 0h0m3-1h0m2 2h0m4 1h0m7 1h0m7-3h0m12 1h0m11 4h0m5 0h0m3-4h0m2 2h0m2 3h0m2-3h0m1 1h0m1-1h0m1 3h0m2-4h0m13 3h0m0-4h0m0 2h0m8 3h0m3-4h0m2-3h0m1 5h0m8-4h0m10 6h0m0 0h0m2-6h0m6 4h0m8-4h0m3 2h0m6 1h0m5-1h0m15 1h0m1-4h0m2 7h0m1-7h0m5 2h0m0 0h0m7-1h0m0 5h0m3-1h0m3-2h0m4-1h0m13 4h0m1-6h0m4 0h0m5 7h0m4-1h0m5 0h0m0-2h0m7 2h0m5-3h0m1-3h0m13 6h0m1 1h0m4-1h0m5-5h0m0 0h0m6 4h0m1 2h0m3-5h0m1 0h0m9 2h0m4 1h0m3 1h0m7-4h0m0 1h0m2-1h0m3-1h0m1 0h0m5 0h0m4 1h0m3-2h0m7 0h0m1 3h0m1-3h0m4 0h0m8 4h0m9 3h0m1-1h0m1 1h0m3-1h0m0-2h0m2 2h0m5-3h0m3 0h0m2-1h0m1 3h0m-560 4h0m2-1h0m3 2h0m5 4h0m2 1h0m5-1h0m1-2h0m2 0h0m4-4h0m2 4h0m4-3h0m6 2h0m1-3h0m13 6h0m7-3h0m5-3h0m1 1h0m0-1h0m1 2h0m4-2h0m3 0h0m1 0h0m4 5h0m8 1h0m0 0h0m1-6h0m7 7h0m3-2h0m11 1h0m6-1h0m1-3h0m9-1h0m0 1h0m5 5h0m3-6h0m2 1h0m4-2h0m0 0h0m1 7h0m3-3h0m5-2h0m0-1h0m6-1h0m6 4h0m3 1h0m3-5h0m11 3h0m4 2h0m1-2h0m3 3h0m8-1h0m2 2h0m1-4h0m6 1h0m4 3h0m3-6h0m8 3h0m1-3h0m0 3h0m1-1h0m0 3h0m9-6h0m5 5h0m2-4h0m7 4h0m1 1h0m2-3h0m4 4h0m1-2h0m0-5h0m0 3h0m1-1h0m1-2h0m10 6h0m3-1h0m3-1h0m3-3h0m6-1h0m7 1h0m13 0h0m17 6h0m8 0h0m0-5h0m12 0h0m0 5h0m0-6h0m1 5h0m5-2h0m5-1h0m6 3h0m3-1h0m0-5h0m4 7h0m0-7h0m1 7h0m0-4h0m4 2h0m1-3h0m0-2h0m15 0h0m2 0h0m0 5h0m7-5h0m5 3h0m3 1h0m2 1h0m0-5h0m2 5h0m12 0h0m6 1h0m0-1h0m6 1h0m3-5h0m7 3h0m4 2h0m0-1h0m4 2h0m1-4h0m3 0h0m19 0h0m9-1h0m5 0h0m0 0h0m5 1h0m0-3h0m8 5h0m3 0h0m3 1h0m0-3h0m2-1h0m0 1h0m0 3h0m5-2h0m2-2h0m0 2h0m1-2h0m7 1h0m3 0h0m0-3h0m9 0h0m4 3h0m1-1h0m3-2h0m14 5h0m6 0h0m5-1h0m2-2h0m1-2h0m1 2h0m2 0h0" style="stroke-width:6.4"/>
<circle cx="314.2" cy="87.1" r="1.6" fill="#000"/>
<rect x="237.85" y="14.1" width="145.55" height="147.1" fill="none" stroke="#a8a8a8" stroke-width="1"/>
<path fill="none" stroke="#888" stroke-width="0.8" d="M237.8 154.3h1.4M383.4 154.3h-1.4M237.8 146.9h2.5M383.4 146.9h-2.5M237.8 139.5h1.4M383.4 139.5h-1.4M237.8 132.1h1.4M383.4 132.1h-1.4M237.8 124.7h1.4M383.4 124.7h-1.4M237.8 117.3h2.5M383.4 117.3h-2.5M237.8 109.8h1.4M383.4 109.8h-1.4M237.8 102.4h1.4M383.4 102.4h-1.4M237.8 95.0h1.4M383.4 95.0h-1.4M237.8 87.6h2.5M383.4 87.6h-2.5M237.8 80.2h1.4M383.4 80.2h-1.4M237.8 72.8h1.4M383.4 72.8h-1.4M237.8 65.4h1.4M383.4 65.4h-1.4M237.8 57.9h2.5M383.4 57.9h-2.5M237.8 50.5h1.4M383.4 50.5h-1.4M237.8 43.1h1.4M383.4 43.1h-1.4M237.8 35.7h1.4M383.4 35.7h-1.4M237.8 28.3h2.5M383.4 28.3h-2.5M237.8 20.9h1.4M383.4 20.9h-1.4M243.1 161.2v-1.3M243.1 14.1v1.3M250.2 161.2v-1.3M250.2 14.1v1.3M257.2 161.2v-1.3M257.2 14.1v1.3M264.3 161.2v-1.3M264.3 14.1v1.3M271.4 161.2v-1.3M271.4 14.1v1.3M278.5 161.2v-1.3M278.5 14.1v1.3M285.5 161.2v-1.3M285.5 14.1v1.3M292.6 161.2v-1.3M292.6 14.1v1.3M299.7 161.2v-1.3M299.7 14.1v1.3M306.7 161.2v-1.3M306.7 14.1v1.3M313.8 161.2v-1.3M313.8 14.1v1.3M320.9 161.2v-1.3M320.9 14.1v1.3M327.9 161.2v-1.3M327.9 14.1v1.3M335.0 161.2v-1.3M335.0 14.1v1.3M342.1 161.2v-1.3M342.1 14.1v1.3M349.2 161.2v-1.3M349.2 14.1v1.3M356.2 161.2v-1.3M356.2 14.1v1.3M363.3 161.2v-1.3M363.3 14.1v1.3M370.4 161.2v-1.3M370.4 14.1v1.3M377.4 161.2v-1.3M377.4 14.1v1.3M239.7 161.2v-2.5M239.7 14.1v2.5M310.4 161.2v-2.5M310.4 14.1v2.5M381.1 161.2v-2.5M381.1 14.1v2.5"/>
<text x="235.1" y="32.6" text-anchor="end" class="t10">4</text>
<text x="235.1" y="61.5" text-anchor="end" class="t10">2</text>
<text x="235.1" y="91.5" text-anchor="end" class="t10">0</text>
<text x="235.1" y="121.3" text-anchor="end" class="t10">−2</text>
<text x="235.1" y="151.4" text-anchor="end" class="t10">−4</text>
<path d="M233.2 170.6h6.6" stroke="#000" stroke-width="0.9"/>
<text x="240.8" y="173.6" class="t125"><tspan class="gi">π</tspan></text>
<text x="310.5" y="173.2" text-anchor="middle" class="t10">0</text>
<text x="377.9" y="173.6" class="t125"><tspan class="gi">π</tspan></text>
<text x="291.0" y="189.7" class="t11" textLength="38" lengthAdjust="spacingAndGlyphs">Δ<tspan class="gi">θ</tspan>(t=0)</text>
<text transform="translate(217.2,134) rotate(-90)" class="t11" textLength="92.6" lengthAdjust="spacingAndGlyphs">Δ<tspan class="gi">ω</tspan>(t=0)/(2<tspan class="gi">π</tspan>) [Hz]</text>
<text x="279.7" y="8.6" class="t11" textLength="51.5" lengthAdjust="spacingAndGlyphs"><tspan class="gi">τ</tspan>=0.8 sec</text>
<text x="373.9" y="8.6" class="t12" textLength="13.8" lengthAdjust="spacingAndGlyphs">(<tspan font-weight="normal">b</tspan>)</text>
<path fill="none" stroke="#82d26c" stroke-width="1.6" stroke-linecap="round" transform="scale(.25)" d="M1801 70h0m22 1h0m50-2h0m20 0h0m3 1h0m45 0h0m11 1h0m28 0h0m20-1h0m3 0h0m4-1h0m7 2h0m22-1h0m2-1h0m8 1h0m51 1h0m35-1h0m44 0h0m2 0h0m37 1h0m12 0h0m7-2h0m13 2h0m2 0h0m21-2h0m12 1h0m14 1h0m2-2h0m5 1h0m3 1h0m12-2h0m3 2h0m16-2h0m0 1h0m7 0h0m5-1h0m3 1h0m5 0h0m0-1h0m-557 4h0m5 4h0m2-3h0m1 4h0m8-3h0m4 0h0m2 2h0m9 1h0m3 0h0m4-1h0m5 1h0m3-6h0m0 4h0m5-2h0m2 3h0m2-4h0m6 3h0m1-3h0m1 0h0m1 4h0m13 2h0m3 0h0m2-6h0m3-1h0m9 4h0m3-2h0m9-2h0m4 6h0m0 1h0m1-3h0m2 2h0m2-1h0m1-4h0m6 5h0m1-1h0m16 2h0m0 0h0m3-5h0m6 0h0m0 0h0m16-2h0m4 7h0m2-7h0m14 1h0m1 2h0m1 1h0m0 2h0m3 1h0m2-5h0m2-2h0m3 4h0m4-2h0m6 1h0m3 2h0m0-3h0m2 4h0m1-3h0m3 0h0m7-3h0m4 1h0m2 4h0m5-5h0m0 6h0m1-6h0m2 3h0m3-1h0m12-2h0m0 4h0m11-3h0m13 0h0m1-1h0m6 7h0m14-1h0m0-4h0m3-2h0m0 7h0m4-5h0m11-1h0m2 5h0m7-1h0m8-3h0m8 4h0m10-3h0m5 2h0m3-1h0m1-1h0m6-2h0m1 0h0m2 1h0m4-2h0m0 7h0m3-1h0m3-5h0m6 5h0m5-3h0m4 2h0m6 0h0m7-5h0m12 1h0m7 1h0m1 2h0m8-1h0m4 0h0m10-3h0m2 7h0m14 0h0m5-1h0m1 1h0m20-3h0m0 3h0m1-6h0m0 3h0m6 1h0m3 1h0m6 0h0m1 0h0m2-4h0m6 1h0m0 4h0m3-1h0m1-6h0m1 4h0m8-2h0m6 3h0m10-2h0m1 3h0m6-5h0m1 3h0m11 0h0m-557 7h0m4-3h0m6 1h0m1 5h0m7-3h0m2 3h0m4 1h0m0-7h0m9 3h0m8-1h0m7 0h0m0 1h0m0 4h0m4-2h0m12 2h0m9-7h0m17 5h0m2 2h0m20 0h0m2-4h0m3 4h0m4-6h0m2 2h0m1 0h0m0 0h0m1-1h0m1 2h0m10 2h0m4-3h0m10-3h0m1 6h0m1-1h0m1 2h0m2-4h0m1-1h0m0 4h0m2 0h0m4-1h0m5-4h0m12 2h0m7 4h0m12-6h0m10 3h0m8 3h0m3 0h0m4-3h0m6 1h0m1-2h0m4-1h0m5 5h0m3-1h0m1-3h0m9-3h0m3 4h0m2 2h0m9 0h0m1-5h0m2 2h0m0-1h0m2-2h0m1 6h0m2-1h0m1 0h0m11 2h0m2-1h0m1-1h0m0-3h0m0 5h0m3-3h0m1 3h0m2-7h0m8 6h0m3-4h0m2 3h0m9 2h0m1-5h0m3 3h0m4-5h0m1 5h0m4 1h0m11-4h0m3 4h0m1-1h0m2-3h0m0 4h0m11 1h0m7 0h0m6-6h0m1 6h0m3-3h0m3-3h0m1 0h0m13-1h0m1 7h0m2-2h0m2 2h0m0-7h0m7 6h0m10-4h0m2-2h0m10 4h0m1 0h0m0 3h0m3-1h0m0 1h0m21-4h0m1 2h0m1-5h0m1 1h0m5 1h0m1-1h0m8 5h0m2-3h0m4-3h0m11 7h0m4-3h0m9 0h0m2 0h0m2-1h0m6 0h0m5-3h0m6 4h0m0-3h0m2-1h0m2 1h0m0 3h0m10-2h0m7 2h0m12 1h0m2 1h0m0-1h0m-557 4h0m1 1h0m6 3h0m0 0h0m4-3h0m5-1h0m7 4h0m2 1h0m7-6h0m4 3h0m6 2h0m9 2h0m0-1h0m4-2h0m5-1h0m33 2h0m1 2h0m3-5h0m3 3h0m10-2h0m1-2h0m4 0h0m2 1h0m0 1h0m3 1h0m8 1h0m4-3h0m1 5h0m1 0h0m1-7h0m2 5h0m0 0h0m1-3h0m1 2h0m11-1h0m0 0h0m1 1h0m1 2h0m1-3h0m8 3h0m2-3h0m1 4h0m2-5h0m7-1h0m8 2h0m7-1h0m1-1h0m1 5h0m1-5h0m1 2h0m6-1h0m2 5h0m1-7h0m7 7h0m14-7h0m5 4h0m6-1h0m0 2h0m4-1h0m3-2h0m1 2h0m2 1h0m5 1h0m5 0h0m7-3h0m3 3h0m12-5h0m3 6h0m2 0h0m1-1h0m5-5h0m0 4h0m2-2h0m7-1h0m1-2h0m9 7h0m2-7h0m4 4h0m1 1h0m2-5h0m7 1h0m2 4h0m4-5h0m1 6h0m0-5h0m5 0h0m1 5h0m16 1h0m19-5h0m6 1h0m3 2h0m1-4h0m4 0h0m7 0h0m4 1h0m5 4h0m2-4h0m10 1h0m4-2h0m2 1h0m0 3h0m6-2h0m1 2h0m0 2h0m7-3h0m4 1h0m1-4h0m6 5h0m1-1h0m1 1h0m3-2h0m2-2h0m3-1h0m2 6h0m3-2h0m1 0h0m0 0h0m7-1h0m5-4h0m2 4h0m2-4h0m11 0h0m2 6h0m1-5h0m4 6h0m0-6h0m1 0h0m7 5h0m4 0h0m1-1h0m0-3h0m2 0h0m1 2h0m3-3h0m2-1h0m4 4h0m6-3h0m13-1h0m9 4h0m2 2h0m13-3h0m0-2h0m-556 13h0m1-2h0m0-2h0m5-1h0m2 4h0m4 0h0m16 0h0m1-4h0m1 3h0m1 2h0m5-6h0m7 5h0m2-5h0m4 6h0m1-1h0m1-3h0m3 3h0m8-3h0m4 1h0m0 3h0m9-6h0m11 4h0m8 1h0m6 1h0m11-2h0m14-4h0m1 2h0m1 3h0m3 1h0m1-3h0m6 1h0m8 0h0m1-3h0m2 3h0m1 3h0m0-4h0m1 0h0m8-1h0m4 5h0m5-3h0m0 0h0m2-1h0m4 1h0m2 2h0m8-5h0m1 5h0m5-2h0m2 1h0m4 2h0m12-3h0m6-2h0m1 0h0m0-2h0m4 5h0m6-4h0m1 3h0m9-3h0m2 4h0m0 2h0m0-5h0m1-2h0m4 6h0m1-4h0m0 2h0m2-4h0m0 1h0m0 4h0m6-4h0m23 4h0m0-2h0m7 0h0m1-1h0m2-1h0m2 4h0m7-1h0m3 0h0m3 3h0m8-4h0m6 0h0m8-3h0m6 5h0m3 0h0m4-5h0m1 3h0m2 1h0m3-2h0m17 1h0m1-1h0m0-2h0m3 2h0m1 0h0m8 5h0m1-6h0m4 4h0m9-5h0m9 2h0m3 5h0m1-5h0m0-1h0m0 2h0m2 3h0m12-3h0m2-2h0m6 5h0m0 1h0m1-3h0m4-2h0m5-1h0m14 4h0m1-3h0m0-2h0m1 1h0m3 1h0m8-2h0m4 7h0m8-4h0m7 4h0m1-3h0m2-2h0m5-2h0m1 4h0m5-2h0m1 2h0m5 1h0m1-3h0m7 5h0m1-3h0m1 3h0m3 0h0m0-6h0m9 5h0m0 0h0m2-3h0m3-3h0m5 2h0m4 3h0m2-4h0m1 0h0m2-1h0m1 2h0m0 2h0m1-3h0m0 1h0m9 3h0m3-5h0m0 4h0m0-2h0m3 0h0m-553 9h0m6-3h0m2 4h0m1 1h0m7-2h0m2 4h0m4-2h0m6-1h0m2-4h0m4 4h0m3-1h0m5-1h0m1 4h0m13-6h0m15 2h0m5 3h0m3-1h0m7 1h0m4-2h0m2-3h0m7 4h0m3 2h0m0-4h0m3 1h0m5-1h0m2 5h0m4-3h0m0 0h0m3 2h0m2 1h0m1-7h0m4 7h0m2 0h0m1 0h0m2-7h0m4 0h0m1 7h0m23-2h0m5-5h0m13 0h0m9 2h0m0 5h0m6-4h0m1 2h0m1-5h0m4 1h0m8 4h0m1-4h0m2 2h0m5-3h0m6 0h0m10 0h0m1 6h0m0 1h0m4 0h0m3-7h0m12 3h0m1-3h0m1 7h0m3-7h0m5 5h0m14-4h0m7 5h0m9-2h0m3-2h0m8-2h0m5 7h0m5-3h0m2 1h0m2-4h0m3-1h0m4 3h0m1-1h0m6-2h0m1 5h0m14-4h0m4-1h0m11 3h0m5-2h0m0 6h0m4-1h0m1-3h0m9 0h0m2-3h0m15 6h0m3-5h0m7 1h0m3 4h0m3-5h0m6 5h0m4-4h0m2 1h0m1 0h0m0-1h0m14 0h0m5 5h0m0-3h0m4-4h0m1 4h0m4 3h0m2 0h0m1-6h0m3 0h0m5 6h0m10-5h0m5 3h0m8-5h0m3 4h0m2-3h0m0 1h0m2 2h0m9 0h0m10 3h0m0 0h0m9-2h0m8 1h0m3-4h0m1 5h0m5-3h0m5 3h0m5-5h0m1 5h0m1 0h0m0-5h0m1 1h0m3 3h0m2-1h0m3 0h0m-560 6h0m1-3h0m4 7h0m3-5h0m0 2h0m2 0h0m7-3h0m2 0h0m0 6h0m4-2h0m0-4h0m7 3h0m2 2h0m1-4h0m1 0h0m6-2h0m3 2h0m1 4h0m5-2h0m0 3h0m17-7h0m2 4h0m1-2h0m1 0h0m3 4h0m3-5h0m1 0h0m6 1h0m9 2h0m5 3h0m2-1h0m3-6h0m1 4h0m2-4h0m0 5h0m6-4h0m3 3h0m1-2h0m4 3h0m1-5h0m1 2h0m6 3h0m4 0h0m4 1h0m15-3h0m1-1h0m16 4h0m3-5h0m4-1h0m6 5h0m3-4h0m0-1h0m13 1h0m3 6h0m3-5h0m8 1h0m3-3h0m1 0h0m7 7h0m1-1h0m2 1h0m4 0h0m4-6h0m11 6h0m27-2h0m11-5h0m2 5h0m3 0h0m5 2h0m8-3h0m6-1h0m1-1h0m3 5h0m3-6h0m5 5h0m8 0h0m11-3h0m2 0h0m2 4h0m0-5h0m5-1h0m2 2h0m5 4h0m2-2h0m1 2h0m4-4h0m3-3h0m2 6h0m0-5h0m0-1h0m3 7h0m4-1h0m0 1h0m4-2h0m3-5h0m1 7h0m0-1h0m1-5h0m2 4h0m1 1h0m4-6h0m5 3h0m2 4h0m10-3h0m0-1h0m6 1h0m1-3h0m3-1h0m4 2h0m0 4h0m3 1h0m1-6h0m0 2h0m9 3h0m1-1h0m9 2h0m1-6h0m0 6h0m14-4h0m2 0h0m6 2h0m3 0h0m7-3h0m1 4h0m1-6h0m3 0h0m1 7h0m0-6h0m2 1h0m12 1h0m8 2h0m2-4h0m5 3h0m0 0h0m4 0h0m1-3h0m1 2h0m2-3h0m1 6h0m11 1h0m4 0h0m10-6h0m1 1h0m6 3h0m10 2h0m-560 5h0m8 3h0m2-5h0m3 4h0m4-4h0m2 3h0m4-3h0m8-1h0m0-1h0m6 5h0m0-2h0m6 0h0m3 4h0m1-1h0m2-2h0m3 0h0m2 2h0m6 1h0m0-4h0m1 4h0m1-5h0m2 1h0m0-2h0m24-1h0m1 4h0m8 1h0m3-2h0m8 4h0m1 0h0m1-6h0m7-1h0m10 5h0m0-5h0m1 3h0m1 0h0m3 3h0m1-5h0m5 5h0m15-4h0m2 4h0m3-1h0m19 2h0m2-1h0m0 1h0m2-7h0m4 3h0m1 2h0m3 0h0m2-5h0m1 5h0m3-3h0m3 0h0m1-1h0m2 5h0m19-6h0m2 0h0m4 5h0m3 2h0m4-7h0m7 2h0m1 1h0m2 0h0m6 3h0m10-2h0m4 1h0m1-4h0m1 5h0m7-3h0m5 3h0m4-1h0m0-3h0m23-1h0m4 6h0m0-1h0m0-4h0m1 2h0m12-2h0m6 2h0m3 2h0m0 1h0m4-1h0m4 0h0m4-5h0m1 4h0m8-3h0m6 1h0m4 3h0m12-6h0m6 0h0m4 7h0m6-2h0m11-3h0m1 0h0m5-2h0m0 7h0m3-4h0m4 0h0m1 4h0m1-3h0m6 1h0m2-4h0m6 0h0m8 4h0m1 0h0m4-4h0m2 5h0m0-2h0m1 3h0m4-6h0m1 2h0m1-2h0m6 4h0m15-3h0m1 3h0m5 1h0m1 0h0m2-3h0m1 4h0m1-3h0m0 3h0m1-4h0m9-2h0m1 0h0m0 2h0m6 0h0m4 2h0m5-1h0m3 3h0m8-4h0m3 0h0m0-2h0m1 5h0m14 0h0m5-1h0m5 1h0m1-3h0m1-1h0m3 1h0m1-2h0m-546 9h0m1 5h0m13 0h0m0-2h0m8 0h0m1-1h0m3 2h0m3 0h0m11 1h0m14-2h0m0-5h0m3 2h0m3 3h0m4-3h0m12-1h0m2 1h0m0-1h0m7 4h0m13-2h0m7-3h0m0 5h0m8-5h0m2 6h0m0-3h0m8-1h0m4 1h0m1-3h0m2 6h0m0 0h0m3 0h0m0 0h0m4-1h0m13 1h0m1-6h0m6 7h0m4-4h0m6-2h0m6 5h0m0-6h0m11 1h0m10 0h0m5 3h0m2-4h0m6 5h0m3 2h0m18-3h0m2-4h0m11 0h0m3 3h0m6-2h0m6 6h0m6-7h0m3 2h0m1 1h0m2 1h0m2 2h0m6-5h0m4 0h0m5 2h0m0 4h0m3-1h0m8 1h0m1-5h0m5-2h0m1 7h0m2-2h0m9 1h0m1-4h0m8 4h0m5-3h0m17-1h0m1 2h0m5 1h0m0-1h0m2 3h0m0-7h0m2 3h0m7 4h0m1-7h0m1 3h0m2 0h0m3-2h0m4-1h0m4 4h0m1-4h0m1 4h0m13 2h0m1-5h0m2 0h0m4 1h0m4 5h0m2-5h0m2-1h0m5 5h0m7-6h0m1 6h0m5 1h0m2-5h0m1 4h0m10-4h0m4 1h0m1-3h0m2 4h0m3-3h0m17 6h0m0 0h0m1-5h0m3-2h0m1 0h0m3 5h0m9 0h0m0-4h0m1 3h0m4-1h0m1 2h0m5-4h0m12 3h0m2-1h0m4-2h0m1 3h0m5 2h0m2-2h0m1 2h0m6 0h0m3-1h0m1 2h0m12 0h0m3 0h0m1-2h0m-554 10h0m8-4h0m1 4h0m2-2h0m2 1h0m2-1h0m6 0h0m5 1h0m8 0h0m4 1h0m0-4h0m3 3h0m1-6h0m5 4h0m5 0h0m1 0h0m2-1h0m10 2h0m12 1h0m4-2h0m16 2h0m1-2h0m3-3h0m7 0h0m3 0h0m1 2h0m8-2h0m2 2h0m21-1h0m7 0h0m4 5h0m3-4h0m1 1h0m0-4h0m4 4h0m10-3h0m2-1h0m4 7h0m14-2h0m5-4h0m11 5h0m5-4h0m0-2h0m10 6h0m1-6h0m6 2h0m1 4h0m6-1h0m13-1h0m6 2h0m5-5h0m1 4h0m6-2h0m5 4h0m3-3h0m1 3h0m3-4h0m2 2h0m5 0h0m1 2h0m4-5h0m5 0h0m2-1h0m7-1h0m8 3h0m1 0h0m4-2h0m6 0h0m17 6h0m1-1h0m4-3h0m9 2h0m2-5h0m2 4h0m8 1h0m5 2h0m2-3h0m1-4h0m2 6h0m2-6h0m1 2h0m1 4h0m8 0h0m31-3h0m7-3h0m21 3h0m19 0h0m7 2h0m0-4h0m1 3h0m16-1h0m2 2h0m1-1h0m0-4h0m2 4h0m1 3h0m2-4h0m3 2h0m3 1h0m14 1h0m1-1h0m8 1h0m2-6h0m1-1h0m2 2h0m7-2h0m5 6h0m3-5h0m3 0h0m5 0h0m-555 9h0m1 0h0m1-1h0m2 4h0m9-3h0m0 1h0m2-2h0m9 2h0m12-1h0m8 4h0m4-2h0m6 0h0m1-1h0m2 0h0m1 3h0m1-1h0m4-1h0m8 1h0m3-3h0m6 3h0m4-4h0m11 2h0m3 2h0m9-5h0m7 6h0m0 0h0m3-1h0m10-3h0m1 1h0m1 2h0m1-2h0m5-1h0m4 0h0m3 5h0m0-4h0m11 4h0m2 0h0m2-3h0m0-4h0m11 1h0m3 6h0m1-3h0m1 1h0m1 0h0m3 2h0m2-6h0m2 3h0m5 3h0m7-6h0m1-1h0m1 6h0m21-2h0m5 2h0m4-5h0m4 6h0m3-1h0m5-1h0m6 2h0m1-4h0m0 3h0m5 0h0m7-1h0m13-2h0m3 4h0m1-7h0m0 6h0m3-6h0m2 6h0m7 1h0m1-5h0m3 3h0m1 0h0m1-3h0m9 5h0m5-4h0m1 2h0m1-3h0m16 3h0m3 0h0m7-4h0m1 6h0m2-2h0m3-2h0m5-1h0m5 1h0m1 3h0m1-5h0m4 4h0m3 1h0m2-2h0m5 3h0m4-1h0m5-1h0m19-5h0m13 2h0m9 4h0m3-1h0m6 0h0m6-5h0m1 1h0m1 6h0m4-5h0m9 1h0m1 0h0m1 3h0m7-5h0m6 3h0m2-3h0m10 5h0m8-5h0m9 5h0m5-4h0m4 3h0m11-1h0m4 0h0m9 1h0m2 2h0m2 0h0m5-7h0m2 7h0m7-5h0m1 3h0m0-1h0m3 0h0m0-4h0m0 7h0m1-3h0m0 2h0m1-1h0m8-2h0m-559 5h0m4 1h0m4 3h0m3-3h0m0 6h0m11-3h0m0 3h0m3-1h0m2-4h0m2 4h0m0-5h0m4 0h0m0 0h0m1 2h0m2 4h0m7-4h0m1-1h0m0 5h0m0 0h0m1-7h0m3 4h0m1 2h0m5-2h0m6-3h0m4 6h0m2-3h0m6 0h0m4-4h0m9 3h0m0 3h0m4-3h0m2 3h0m3-4h0m0 4h0m2-2h0m4 3h0m2-2h0m5-3h0m24 0h0m13 3h0m5 0h0m7-2h0m0 3h0m2-1h0m5 2h0m2-1h0m3 0h0m3-4h0m3 0h0m4 5h0m10-5h0m5 5h0m2-1h0m14-3h0m3-3h0m2 4h0m7 3h0m2-2h0m9 0h0m6 0h0m0 2h0m1-2h0m4-1h0m8 3h0m4-5h0m10-1h0m1 2h0m2-3h0m5 4h0m5-1h0m4-1h0m1 4h0m1-4h0m2 4h0m0-2h0m2 0h0m1-4h0m12 1h0m9 2h0m1-1h0m11 3h0m1-1h0m14 3h0m1-2h0m1 1h0m20-3h0m1-3h0m4 4h0m0 0h0m11 2h0m9-2h0m6 3h0m2-2h0m2-5h0m1 5h0m1-5h0m17 7h0m0 0h0m5-7h0m0 1h0m2 5h0m14 1h0m2-3h0m1 2h0m20 1h0m1-5h0m14-1h0m5 6h0m6-5h0m0-1h0m3 5h0m2-2h0m2-4h0m1 7h0m4-5h0m13 5h0m6-7h0m5 5h0m1-5h0m6 3h0m1 2h0m9-4h0m1 3h0m0-1h0m4 2h0m7 1h0m9-2h0m-556 4h0m3 6h0m5-4h0m1-2h0m10 7h0m1-3h0m5 3h0m2-4h0m7 1h0m3-2h0m2 5h0m1-2h0m4-4h0m2 2h0m18-3h0m4 6h0m0-1h0m5-3h0m5 4h0m4-2h0m3 0h0m1-3h0m3 6h0m14-6h0m4-1h0m0 2h0m4-2h0m13 2h0m2-1h0m1 6h0m0-7h0m0 0h0m1 6h0m1-1h0m0-2h0m7 3h0m7-1h0m3-5h0m0 1h0m5-1h0m0 4h0m4 1h0m2 0h0m14-1h0m3-2h0m9-1h0m8 3h0m3 0h0m2-2h0m1-1h0m9 4h0m0-2h0m0 3h0m1-4h0m2 2h0m12 2h0m16 0h0m5-3h0m2-2h0m0 2h0m0 3h0m3-6h0m2 7h0m2-2h0m1-1h0m13-3h0m8 0h0m0 3h0m1-2h0m6 5h0m5-1h0m0 0h0m2-1h0m0 1h0m1 1h0m1-6h0m6 6h0m2-5h0m0 2h0m11-2h0m2 0h0m5 1h0m1 3h0m9-1h0m14 0h0m4-1h0m7-4h0m5 6h0m2-1h0m1-1h0m4 1h0m2-4h0m4-1h0m0 2h0m12 0h0m4 4h0m6-2h0m1-1h0m5 4h0m9 0h0m12-6h0m1-1h0m2 0h0m14 2h0m2-2h0m1 3h0m6 3h0m4-6h0m3 0h0m12 7h0m16-1h0m1-2h0m2 3h0m3 0h0m4-3h0m7-1h0m3 4h0m5-7h0m9 2h0m2-1h0m1 3h0m13 2h0m2-2h0m3-1h0m0 3h0m2-2h0m6 1h0m20-4h0m-559 8h0m11 1h0m3 1h0m7 2h0m3-2h0m5 1h0m5-1h0m3-2h0m1-1h0m1 2h0m7-1h0m3 1h0m9 3h0m2-3h0m11 0h0m4-2h0m8 0h0m0 4h0m1-3h0m0 2h0m5 1h0m1-2h0m1-1h0m7 3h0m4 3h0m4-3h0m3 3h0m2-2h0m3 1h0m3-4h0m2 1h0m0 4h0m7-6h0m12-1h0m6 6h0m1-2h0m1-3h0m2 4h0m0 2h0m3-1h0m1-3h0m0 4h0m1-7h0m2 7h0m4-4h0m0 3h0m2-5h0m0 1h0m6-1h0m3 3h0m1-2h0m6 0h0m8 0h0m11-2h0m5 3h0m1 2h0m12-4h0m3-1h0m6 4h0m2-3h0m12 3h0m3 2h0m2 1h0m1 0h0m0-4h0m7-1h0m4 4h0m7-5h0m11 0h0m5 0h0m8-1h0m4 5h0m7-5h0m10 0h0m11 3h0m5 3h0m3-1h0m2-2h0m3 1h0m10 3h0m0-1h0m5-1h0m4 2h0m0-6h0m17 5h0m0 0h0m0-1h0m1-4h0m2 4h0m2 0h0m5-1h0m1 0h0m6-4h0m4 0h0m19 0h0m1 5h0m8-5h0m7 1h0m4 0h0m4 5h0m2-4h0m0 2h0m1 1h0m1 2h0m9-3h0m3 2h0m3-5h0m1-1h0m1 1h0m3 6h0m12-2h0m2-4h0m5 1h0m3 1h0m1 0h0m0-1h0m5 1h0m4 0h0m1 3h0m0-2h0m5 1h0m2-2h0m2 3h0m1-3h0m1-1h0m15-1h0m11 5h0m1-4h0m1 5h0m9-3h0m4 1h0m2-1h0m5 1h0m0-3h0m9 0h0m0-2h0m0 7h0m-552 2h0m1 2h0m3-3h0m8 5h0m11 0h0m6-2h0m4 0h0m2-2h0m4-1h0m2 5h0m0-5h0m4 7h0m3-5h0m2 4h0m3-3h0m3 0h0m4 2h0m2 1h0m5-4h0m1 2h0m1 3h0m2-6h0m7 6h0m3-7h0m7 1h0m9 4h0m2-4h0m7 3h0m1-3h0m1 3h0m1 0h0m2-2h0m1 1h0m3-3h0m4 3h0m1-3h0m3 2h0m17 5h0m5 0h0m5-7h0m8 2h0m1 2h0m3 0h0m1 0h0m9-2h0m1-1h0m19 6h0m5-3h0m2-3h0m9 3h0m4 1h0m11-2h0m0-3h0m3 4h0m5 2h0m1-5h0m2 4h0m4-1h0m2 1h0m4 1h0m6-1h0m11-3h0m1 5h0m1-4h0m2 1h0m1 0h0m3-1h0m0-1h0m2 5h0m2-2h0m5 2h0m2-4h0m0-2h0m7 5h0m3 0h0m0-6h0m10 6h0m3-4h0m1 3h0m4-1h0m5-3h0m2 0h0m7 5h0m2-1h0m4-2h0m1-1h0m6 3h0m2-3h0m3 1h0m7 1h0m7 0h0m2-4h0m1 1h0m1 4h0m11-3h0m2 4h0m5 1h0m0-4h0m3 2h0m11-2h0m7-2h0m2 2h0m7 0h0m1 1h0m5 0h0m2 1h0m2 1h0m1-5h0m3-1h0m6 7h0m8-1h0m5-5h0m1 6h0m1-2h0m2-1h0m11-1h0m6 0h0m1 2h0m0 1h0m0-2h0m6-3h0m4 1h0m6 2h0m3 2h0m10-5h0m1 0h0m11 0h0m2 5h0m8-6h0m4 0h0m1 5h0m4 0h0m2-2h0m3 2h0m3 0h0m6-4h0m0 6h0m3 0h0m1-4h0m4 2h0m1 0h0m3-4h0m1 4h0m4-5h0m2 0h0m-546 13h0m3-4h0m2 6h0m5-5h0m3 1h0m4 1h0m1-2h0m4 3h0m2-5h0m8 6h0m1 1h0m2-3h0m7 3h0m2-3h0m0-4h0m2 2h0m5 4h0m2-1h0m9-1h0m6-1h0m5 1h0m1 3h0m4-7h0m4 0h0m21 1h0m1 2h0m1-1h0m4 5h0m21-6h0m1 3h0m5 2h0m6-3h0m1-1h0m10-2h0m5 3h0m6 2h0m5-2h0m4 4h0m10-1h0m1-1h0m1-4h0m0 6h0m0-7h0m2 5h0m1-3h0m7-1h0m1 2h0m14-2h0m8 6h0m1-7h0m8 1h0m5 5h0m1-5h0m4 4h0m17 0h0m0-5h0m8 1h0m0 2h0m2 4h0m3-7h0m3 2h0m1 0h0m6-2h0m10 6h0m3-2h0m5-2h0m8-2h0m5 1h0m2 5h0m6-1h0m5-4h0m1 2h0m9-2h0m3-1h0m1 5h0m12-4h0m3 6h0m2-2h0m10-2h0m17 0h0m6-1h0m0 2h0m7 0h0m4 3h0m1-2h0m1 1h0m11 1h0m3 0h0m0-3h0m2-1h0m4-2h0m9 1h0m7 4h0m0-4h0m1 0h0m6 0h0m1 0h0m12 5h0m0-4h0m2 4h0m2-5h0m2-2h0m4 6h0m1-3h0m4 2h0m6 1h0m2-2h0m0-3h0m1-1h0m1 6h0m1-5h0m8 6h0m1-4h0m19-2h0m3 0h0m0 4h0m11 2h0m6 0h0m4 0h0m6-2h0m2 0h0m7-3h0m2-2h0m-557 9h0m1 6h0m1-5h0m6 3h0m1-5h0m7 6h0m14 1h0m1 0h0m5 0h0m7-3h0m5-3h0m4 3h0m2-2h0m7 1h0m4-2h0m0 1h0m4 2h0m3 2h0m1-5h0m4 1h0m18-1h0m6 0h0m2 5h0m5-1h0m8-3h0m3 5h0m14-2h0m6-2h0m3-2h0m6 4h0m1 1h0m1-4h0m1 4h0m2-2h0m6 0h0m0-1h0m1-1h0m2 4h0m3-2h0m0-4h0m0 5h0m2-2h0m1 0h0m1 3h0m1 0h0m2-4h0m15 2h0m3 3h0m21-2h0m4 0h0m1 2h0m0-5h0m1 0h0m1-1h0m11 4h0m2 2h0m7-2h0m15 2h0m9-5h0m11 1h0m15 1h0m11 0h0m1-2h0m0 5h0m19-2h0m2-1h0m6 1h0m9-5h0m15 2h0m0 1h0m14-1h0m2-1h0m0 2h0m13-1h0m27 0h0m6 0h0m0 3h0m6-4h0m5 3h0m5 1h0m4-4h0m13 4h0m1 0h0m13 1h0m1-2h0m0 0h0m2 2h0m0-6h0m2 7h0m7-3h0m4 0h0m8 2h0m4-4h0m4 4h0m0 0h0m9 0h0m1 1h0m3 0h0m6-3h0m5-1h0m1 1h0m0-1h0m2 3h0m3 1h0m12-7h0m13 6h0m0-2h0m-553 5h0m3 3h0m2 3h0m4-5h0m3 1h0m1-2h0m5 6h0m6-2h0m5 2h0m10 0h0m0-5h0m3-1h0m1 3h0m1-2h0m4 2h0m6-3h0m5 1h0m8 4h0m14-5h0m15 1h0m2 3h0m7-4h0m4 5h0m0-2h0m4-1h0m2 0h0m1 0h0m6 3h0m3-2h0m4-4h0m1 3h0m5 4h0m3-2h0m17 0h0m0-1h0m1-4h0m19 2h0m1-2h0m2 7h0m5-6h0m5 1h0m3 4h0m0-2h0m5 2h0m3-3h0m1 4h0m3-6h0m6 4h0m1 1h0m10-3h0m5 2h0m3-1h0m9-3h0m0 0h0m2 1h0m2-1h0m14-1h0m2 6h0m2-6h0m4 7h0m3 0h0m0-4h0m5 4h0m2-3h0m1-2h0m0-2h0m2 7h0m2-2h0m7 2h0m1-6h0m9 5h0m0-2h0m5 3h0m2 0h0m2-7h0m4 5h0m8 2h0m1-3h0m9 0h0m3 0h0m3 0h0m0-3h0m1 3h0m2 1h0m7-3h0m1 4h0m0-4h0m4 3h0m6-2h0m3 2h0m20 1h0m2-2h0m0-1h0m4 1h0m5 1h0m5 2h0m0-5h0m1 2h0m1 3h0m4 0h0m4 0h0m2-3h0m5 3h0m0-4h0m4-2h0m6 0h0m9-1h0m0 6h0m1-5h0m0 4h0m1-5h0m0 5h0m3 2h0m1-2h0m2 0h0m1 0h0m3-4h0m3 5h0m4-1h0m5-3h0m3 0h0m5 2h0m2-2h0m3 2h0m2 3h0m5-5h0m6 1h0m0 3h0m2-3h0m6-1h0m3 5h0m3-5h0m3 0h0m7 2h0m7 3h0m1-5h0m2-1h0m0 6h0m4-7h0m2 7h0m0-3h0m12-4h0m1 0h0m0 5h0m4-5h0m10 6h0m10-6h0m1 1h0m2 1h0m-554 12h0m7-2h0m0-4h0m2 0h0m3 2h0m9 2h0m2-3h0m7 6h0m1-6h0m6 0h0m2 2h0m1 3h0m3-5h0m2 6h0m6 0h0m1-4h0m1 3h0m2-1h0m1 1h0m1-2h0m1-4h0m6 0h0m1 0h0m11 6h0m2-3h0m1 3h0m13 1h0m3-5h0m4 4h0m4-4h0m1 1h0m3-2h0m2 4h0m8-4h0m1 2h0m3 0h0m1 4h0m5-7h0m2 3h0m6-3h0m6 5h0m7-3h0m9 1h0m5-1h0m5-1h0m9 5h0m1-2h0m2-1h0m8 3h0m5-6h0m3 7h0m2-5h0m1 3h0m6-2h0m0 0h0m1-2h0m3 5h0m2-2h0m3-4h0m8 6h0m3 0h0m1-1h0m3-5h0m22 1h0m2 6h0m1 0h0m0-6h0m2 0h0m1 2h0m0 2h0m5 0h0m2 2h0m2-3h0m10 3h0m16-6h0m7 6h0m5-5h0m5 0h0m3 1h0m3-2h0m7 1h0m2 0h0m5 4h0m5 0h0m5-2h0m2 1h0m1-5h0m5 7h0m9-7h0m0 3h0m4 1h0m1 1h0m14-2h0m5 4h0m9-6h0m20 0h0m5 3h0m3-2h0m0 4h0m1-6h0m8 4h0m5-1h0m2 1h0m5 2h0m5-1h0m6-4h0m3-1h0m2 3h0m1 1h0m3 0h0m0 3h0m0-2h0m5-3h0m2 5h0m0-6h0m3 0h0m5-1h0m3 2h0m0 2h0m3-1h0m0-1h0m2 4h0m1-1h0m0-5h0m1 2h0m3 3h0m17-4h0m1 4h0m2-1h0m1-1h0m2-2h0m3 4h0m3-5h0m1 4h0m7-2h0m1-2h0m1 2h0m0-2h0m1 5h0m2-2h0m5-1h0m2 0h0m1 5h0m4-5h0m8 4h0m1 0h0m9-5h0m1 5h0m-555 9h0m1-3h0m9-2h0m11 2h0m9-1h0m10 3h0m1 0h0m10-3h0m3-1h0m3 5h0m4-6h0m0 2h0m3 0h0m3 0h0m1-2h0m1-1h0m10 4h0m5 1h0m4 2h0m2 0h0m0-3h0m1-4h0m1 5h0m4-3h0m11 3h0m0-4h0m1 5h0m18-6h0m5 4h0m9 1h0m2-3h0m0-2h0m17 6h0m3-2h0m8-2h0m0-1h0m6 0h0m1 5h0m1 0h0m1-3h0m0-1h0m5 1h0m0 1h0m1-4h0m13 3h0m0 1h0m1-1h0m3 2h0m4 2h0m16-4h0m5-1h0m6 0h0m0 0h0m6 3h0m12 2h0m2-2h0m4 0h0m9-4h0m1 3h0m4 2h0m0-1h0m5-4h0m1 5h0m5-1h0m14 1h0m2-4h0m1-2h0m26 2h0m3-1h0m0 6h0m9-6h0m4 4h0m8-1h0m1-2h0m4 0h0m0 4h0m1-6h0m2 4h0m4-3h0m1 1h0m5 0h0m0 4h0m9-3h0m0-3h0m1 5h0m3-3h0m8 0h0m1 2h0m8-2h0m0 0h0m2-1h0m18 3h0m4 3h0m21-3h0m0 3h0m9-7h0m0 0h0m2 7h0m1-7h0m1 3h0m1 2h0m2-3h0m0 3h0m4 2h0m9-7h0m1 7h0m7-4h0m1 1h0m2-2h0m1 3h0m0-1h0m3-3h0m1-1h0m0 2h0m2 3h0m7-5h0m1 4h0m2-3h0m2-1h0m2 1h0m5 2h0m0 1h0m3-4h0m3 4h0m5 1h0m1 1h0m15-3h0m0-1h0m3 2h0m2 3h0m1-2h0m6 1h0m-553 2h0m2 0h0m4 4h0m0-4h0m1 1h0m0 0h0m6 6h0m12-5h0m1 3h0m2-4h0m9 2h0m3 3h0m16-2h0m9 2h0m4 1h0m8-3h0m7 1h0m4 1h0m3-6h0m6 0h0m4 2h0m10 1h0m3 1h0m6-1h0m5 3h0m12 1h0m3-3h0m6-3h0m4 1h0m1-2h0m5 0h0m2 2h0m1 0h0m1 3h0m1-2h0m1-3h0m6 0h0m5 1h0m29 5h0m10 0h0m10-3h0m8-1h0m0-2h0m1 6h0m5-5h0m5 6h0m4-5h0m14 0h0m1 0h0m11 0h0m2-1h0m3 4h0m3-4h0m0 5h0m2 1h0m4-6h0m1 0h0m9 6h0m1-3h0m9 1h0m3-5h0m1 0h0m4 5h0m2-4h0m0 0h0m4 4h0m2-2h0m1-1h0m7-2h0m8 5h0m2-4h0m1 1h0m6 4h0m0-2h0m2 2h0m1-5h0m1 3h0m1 1h0m9-3h0m11 3h0m3 2h0m1 0h0m5-5h0m21-2h0m1 7h0m5-6h0m2-1h0m9 1h0m3 0h0m4 1h0m1-2h0m4 6h0m0-4h0m5-1h0m4 6h0m10-1h0m6-3h0m2 1h0m5-2h0m3-2h0m5 1h0m9 0h0m8 4h0m8 1h0m1-2h0m2-4h0m4 3h0m2-3h0m0 0h0m8 3h0m7 3h0m15 1h0m2-4h0m0-2h0m2 5h0m11-4h0m5-2h0m3 1h0m0 2h0m1 1h0m-556 5h0m2 5h0m2-3h0m13 2h0m16-3h0m0 5h0m0-5h0m1-2h0m2 6h0m3-1h0m1-4h0m4 6h0m1-3h0m0-3h0m5 2h0m11 2h0m1-4h0m3 5h0m2-4h0m1-1h0m1 1h0m10 3h0m3-2h0m13-3h0m2 7h0m0-3h0m5-2h0m17 5h0m16-5h0m5-1h0m10 3h0m0-2h0m0 1h0m5 3h0m3-5h0m1 3h0m0-2h0m3 0h0m5 0h0m1 4h0m2-2h0m5-4h0m11 6h0m1-2h0m1-2h0m0 2h0m2 1h0m8-4h0m2-1h0m7 1h0m6 1h0m2 0h0m3-2h0m1 7h0m0-3h0m7 1h0m11-5h0m5 0h0m2 6h0m0-2h0m3-4h0m1 7h0m5-7h0m1 5h0m1-4h0m0 2h0m2-1h0m8 1h0m1 1h0m4-4h0m4 4h0m3 0h0m1 2h0m12-2h0m1-1h0m2 3h0m5 1h0m0-4h0m1 0h0m1 2h0m4-1h0m4 2h0m0 1h0m1-1h0m4-5h0m9 2h0m0-1h0m0 2h0m6 1h0m3 1h0m2-3h0m1 1h0m7-2h0m3 0h0m5 5h0m12-6h0m0 1h0m7 5h0m4-2h0m1 1h0m3 1h0m0-4h0m8-1h0m0 1h0m2-3h0m6 2h0m1 1h0m0 2h0m5 0h0m6-3h0m7 4h0m7-4h0m0 2h0m1-2h0m7-1h0m6-1h0m1 5h0m5-1h0m14-1h0m6 4h0m10-5h0m0-1h0m3 4h0m1 0h0m3-1h0m6-2h0m1 1h0m3 0h0m6 4h0m5-6h0m15 3h0m9 2h0m3-2h0m11-2h0m4 5h0m6-7h0m5 1h0m0 3h0m0 3h0m4-6h0m6 4h0m-556 6h0m0 3h0m6-1h0m1-2h0m1 2h0m2-3h0m1 5h0m6-4h0m9 2h0m12-3h0m5-1h0m7-1h0m3 5h0m2 1h0m10-3h0m4 4h0m8 0h0m1-6h0m1 2h0m4 1h0m2-4h0m5 2h0m1-2h0m3 2h0m6 5h0m0 0h0m3-7h0m3 3h0m12-1h0m1-1h0m1 2h0m1 3h0m6-2h0m2 3h0m1-4h0m2 4h0m16 0h0m5-1h0m5-3h0m6-2h0m3 5h0m0-6h0m2 2h0m5-1h0m0-1h0m0 2h0m11 3h0m12-1h0m1-3h0m5 3h0m11 3h0m1-3h0m11-2h0m1 3h0m1-1h0m0 3h0m3-3h0m0 0h0m0 2h0m3-6h0m2 7h0m4-2h0m4 2h0m4-7h0m5 2h0m0 2h0m3 1h0m8-5h0m4 5h0m13-3h0m1 2h0m3 1h0m0-4h0m11 2h0m3 0h0m3 4h0m0-5h0m14 2h0m4 0h0m6 3h0m5-6h0m21 2h0m6 1h0m1 3h0m2-7h0m4 1h0m10-1h0m2 1h0m4-1h0m0 1h0m0 6h0m2-4h0m4-3h0m6 7h0m4 0h0m6-4h0m3 1h0m2 1h0m3-1h0m4-2h0m4-1h0m1 4h0m4-1h0m1 3h0m5-1h0m2-5h0m4 2h0m1 2h0m6-1h0m6 1h0m0-1h0m5 3h0m0-7h0m7 5h0m5 2h0m3-7h0m1 3h0m17-2h0m8-1h0m3 0h0m4 7h0m6 0h0m1-4h0m2-2h0m1 6h0m1-3h0m9 1h0m2-5h0m0 4h0m6-4h0m4 6h0m1 0h0m2-4h0m10-2h0m0 6h0m2 0h0m-550 2h0m2 1h0m1-1h0m2 1h0m3 0h0m26 2h0m10 2h0m3-1h0m7 1h0m20-4h0m6 5h0m5-3h0m1-2h0m7 3h0m8-4h0m1 1h0m9-1h0m8 2h0m4 5h0m9-7h0m1 4h0m4-4h0m5 5h0m1-3h0m5-1h0m3 6h0m7 0h0m8-5h0m2 5h0m3-7h0m11 7h0m6-3h0m3 2h0m3-5h0m6 4h0m13 1h0m5-4h0m2 2h0m0-3h0m0 0h0m14 5h0m1-5h0m6 2h0m8 4h0m5-5h0m2 1h0m4 4h0m1-4h0m0 1h0m8-2h0m1 1h0m3 4h0m3-2h0m2-1h0m3-3h0m1-1h0m9 0h0m6 4h0m4 1h0m1-5h0m0 5h0m5 0h0m3 2h0m7-3h0m3-3h0m1 4h0m4 2h0m2-2h0m14-5h0m7 0h0m1 7h0m6-7h0m12 1h0m2 4h0m0-3h0m8 5h0m2 0h0m0-2h0m1 0h0m1-4h0m5 3h0m4-1h0m3 2h0m1-2h0m0 0h0m2 4h0m0-7h0m2 7h0m1-2h0m0 0h0m4 1h0m4 1h0m2-6h0m1 4h0m4-4h0m1-1h0m0 3h0m6 0h0m5 1h0m1 0h0m4-1h0m3-1h0m15-1h0m5 0h0m4 5h0m1-3h0m8 2h0m2-5h0m3 7h0m0-6h0m13 5h0m5-5h0m5 0h0m5 0h0m1 5h0m10-4h0m4-1h0m10 6h0m3-1h0m7-6h0m2 4h0m2 2h0m2-5h0m2 4h0m4 1h0m2-5h0m1-1h0m1 1h0m2 6h0m3-7h0m-560 13h0m6 0h0m7-2h0m4 2h0m2 2h0m2-1h0m1 1h0m5-2h0m11-1h0m2 0h0m12 3h0m2-4h0m2-1h0m4-2h0m14 2h0m4 3h0m2-1h0m1-3h0m1 3h0m1 1h0m4-1h0m4 0h0m6-1h0m1 1h0m4 3h0m1-6h0m7 1h0m7 5h0m2-2h0m1-5h0m1 7h0m0-7h0m1 5h0m1-4h0m6 5h0m5-2h0m1 2h0m5-5h0m2-1h0m3 4h0m11 0h0m3 2h0m3-6h0m1 3h0m4-3h0m0 3h0m0-2h0m8 0h0m12 5h0m3-6h0m4 6h0m11 0h0m23 0h0m1 1h0m7-5h0m4 1h0m4-2h0m8 1h0m0 4h0m4-2h0m7-3h0m3 2h0m1-1h0m1 1h0m3 3h0m2-3h0m1-1h0m2-1h0m0 4h0m6-5h0m9 5h0m6 0h0m4-2h0m2 2h0m0-1h0m11-3h0m1 5h0m6-5h0m5 2h0m6 4h0m0-2h0m6 2h0m3-4h0m26-1h0m5-1h0m2 1h0m3 2h0m1-3h0m0 5h0m2-1h0m1-5h0m10 1h0m1 0h0m3-1h0m25 2h0m1 5h0m10-3h0m10-1h0m3-1h0m3-1h0m2 3h0m1-4h0m13 5h0m2-2h0m6-3h0m3 3h0m1 3h0m5-5h0m3-1h0m3 1h0m1-1h0m0 0h0m3 5h0m2 1h0m7 1h0m5 0h0m13 0h0m0-6h0m3 4h0m1-4h0m5 1h0m4 3h0m2-4h0m2 2h0m3 3h0m1-4h0m6 3h0m4-4h0m6-1h0m7 4h0m1-2h0m-563 9h0m5 3h0m12-3h0m4 0h0m2-2h0m0 6h0m7-6h0m7 6h0m0-1h0m3 1h0m2-1h0m5 0h0m3 0h0m10-3h0m8 3h0m3 1h0m4-7h0m4 4h0m2 0h0m5 1h0m4 1h0m2-6h0m11 1h0m0 5h0m3-2h0m6 3h0m12-5h0m7 2h0m0-3h0m2 3h0m4 1h0m1-2h0m10-1h0m5-1h0m7 1h0m0 2h0m2 2h0m3-4h0m9 0h0m1-1h0m10 4h0m5-3h0m1 4h0m0-6h0m3 1h0m1 2h0m5-1h0m3 0h0m2 2h0m12-3h0m5 3h0m5-3h0m5-1h0m12 4h0m22-3h0m18-1h0m4 1h0m3 5h0m0 0h0m1-3h0m12 3h0m1-5h0m3 0h0m1-1h0m1 6h0m1-2h0m10-1h0m5-3h0m1 0h0m1 2h0m33 5h0m1-2h0m2-4h0m1 6h0m6-4h0m12-1h0m5 1h0m16-1h0m3 2h0m4-4h0m1 4h0m6-3h0m6 5h0m2 1h0m8-3h0m0 3h0m1-2h0m4 0h0m2-4h0m0 5h0m1-1h0m0-4h0m0 0h0m4 6h0m8-5h0m4 1h0m1-2h0m6 6h0m6-4h0m5-2h0m14 0h0m2 5h0m9-4h0m3 5h0m15-4h0m5 2h0m2-1h0m15 0h0m8 3h0m13-5h0m-552 11h0m3 0h0m1 2h0m2-5h0m6-2h0m1 5h0m11-3h0m2-2h0m10 5h0m4-5h0m3 6h0m1-3h0m7-2h0m3 4h0m3 2h0m3-1h0m7-6h0m2 7h0m4-2h0m4-2h0m17 3h0m11-3h0m5 4h0m7 0h0m1-5h0m8-1h0m0 1h0m4 4h0m8 1h0m2-3h0m0 2h0m7-5h0m4-1h0m3 5h0m1-4h0m1 3h0m15-2h0m1 1h0m3-2h0m3 5h0m2 0h0m2-3h0m5 1h0m5-4h0m0 2h0m6-2h0m1 4h0m12-3h0m4 2h0m0 4h0m1-5h0m1 1h0m0 1h0m1-4h0m7 1h0m1 5h0m9-4h0m0 3h0m1-2h0m4 1h0m7 1h0m8 2h0m2-5h0m7 4h0m7-6h0m0 2h0m10-1h0m10 1h0m1 0h0m0 5h0m2-2h0m1-4h0m1 0h0m2-1h0m0 2h0m10 0h0m7-2h0m3 1h0m8 1h0m3 4h0m7-2h0m11-4h0m10 1h0m6 1h0m1 5h0m1-4h0m5-3h0m4 3h0m6-2h0m0 3h0m1 3h0m6-6h0m4 0h0m1 0h0m5 1h0m5 5h0m13 0h0m7-4h0m3-1h0m1-1h0m2 2h0m3 0h0m2 3h0m2-4h0m7 2h0m19-2h0m1 0h0m13 3h0m2-5h0m10 1h0m0 5h0m1-2h0m3 0h0m16 1h0m1 1h0m3-6h0m10 3h0m11-3h0m1 1h0m5 1h0m2 1h0m3 2h0m3 0h0m1 1h0m0-4h0m6 2h0m-559 5h0m0 3h0m1 1h0m7-1h0m2-4h0m2 7h0m8 0h0m2-5h0m2 2h0m9-2h0m11 3h0m6-5h0m3 7h0m4 0h0m2-7h0m0 3h0m1-3h0m1 0h0m6 0h0m1 6h0m4-3h0m3-3h0m1 1h0m2 6h0m10-2h0m1-1h0m9-1h0m3 2h0m8 1h0m5 1h0m0-2h0m8 2h0m0-4h0m1 1h0m1 1h0m5-5h0m3 0h0m11 1h0m0 4h0m5-1h0m1 3h0m3-2h0m2-3h0m4-1h0m1 1h0m0 1h0m2 1h0m1 2h0m9-2h0m4-1h0m2 1h0m4 1h0m0-2h0m18 2h0m7 0h0m3-2h0m4 0h0m6 0h0m6 2h0m5 1h0m7 1h0m7-7h0m6 6h0m2-4h0m2 3h0m8-2h0m4 0h0m8 2h0m0-1h0m1 0h0m3 2h0m2-4h0m6 4h0m3-4h0m0 0h0m4 1h0m2 2h0m7-1h0m5-4h0m0 1h0m2 1h0m1 5h0m6-5h0m2-2h0m9 1h0m2-1h0m2 0h0m10 1h0m1 3h0m1-4h0m2 2h0m4 5h0m0-7h0m7 5h0m3-3h0m0 5h0m23-7h0m0 5h0m3-3h0m6 3h0m4 2h0m1-6h0m1 3h0m0-1h0m4 3h0m1 0h0m0-6h0m3 3h0m16-2h0m1 2h0m1 3h0m4-5h0m5 5h0m2-2h0m4 1h0m12-1h0m3 0h0m0-2h0m3 5h0m0-4h0m4 4h0m2-2h0m4-4h0m7 6h0m0-5h0m1-2h0m3 5h0m1-3h0m0-2h0m2 1h0m4 4h0m1-5h0m9 6h0m3 1h0m2-1h0m5-4h0m11 3h0m10-4h0m1 0h0m1 3h0m1-3h0m3 4h0m1-3h0m0-1h0m1-1h0m3 2h0m5 2h0m2-3h0m-547 14h0m1 0h0m2-1h0m4-5h0m1 0h0m0 1h0m7 5h0m3-3h0m12-1h0m2 0h0m1 4h0m2-6h0m1 1h0m2 1h0m9 1h0m2-1h0m0-1h0m5-2h0m6 0h0m7 5h0m10-4h0m11 5h0m5-5h0m7 6h0m13-4h0m2-3h0m12 2h0m8 1h0m9 4h0m4-5h0m5 3h0m9 0h0m5-4h0m2 5h0m8-2h0m2-1h0m1-3h0m3 4h0m0 2h0m2-4h0m7 5h0m7-5h0m3 1h0m3-1h0m5-2h0m4 3h0m2 0h0m1-2h0m12 4h0m11-2h0m3-1h0m11 3h0m10-3h0m2 1h0m0-3h0m2 4h0m29-1h0m7 4h0m3-6h0m3 2h0m7-2h0m33 5h0m7-4h0m2 4h0m7-1h0m4-3h0m6 0h0m4 0h0m2-2h0m4 3h0m6 2h0m5-2h0m5-1h0m1 2h0m1 1h0m0-3h0m2 1h0m2 0h0m0 3h0m10-5h0m1-1h0m7 1h0m0 4h0m2-4h0m0-1h0m10 4h0m9-1h0m20-3h0m1 7h0m1-3h0m2 2h0m2 0h0m1-6h0m1 7h0m3-5h0m2 5h0m2-4h0m1 2h0m6 1h0m1-2h0m7 2h0m3 0h0m2-5h0m26 2h0m12 0h0m6 4h0m1-7h0m12 7h0m0-6h0m-556 12h0m1-2h0m6-1h0m9 4h0m1-5h0m4 3h0m3 0h0m0 3h0m3-3h0m2 1h0m1-3h0m8 1h0m2-3h0m1 4h0m2-4h0m4 0h0m0 0h0m4 6h0m19-6h0m5 5h0m14 0h0m1-4h0m5 2h0m10 2h0m14-5h0m0 5h0m6-1h0m1-2h0m3 0h0m1-2h0m2 6h0m0 1h0m2 0h0m2-4h0m1-3h0m2 1h0m6 0h0m6 6h0m5-5h0m9-1h0m1 0h0m15-1h0m3 4h0m2 1h0m1-3h0m6 0h0m6-1h0m3 3h0m28-1h0m8-1h0m4 2h0m1 3h0m7 0h0m2-2h0m12-4h0m10-1h0m2 6h0m1 1h0m4-2h0m1 0h0m0-2h0m4 0h0m0 2h0m1-1h0m0-1h0m1-1h0m17 4h0m0-4h0m8-1h0m5 6h0m0-7h0m12 4h0m1 3h0m12-2h0m3-2h0m4-2h0m4 6h0m6-3h0m2 0h0m2-1h0m4 4h0m3-7h0m2 1h0m1 3h0m7-2h0m0-1h0m7 2h0m2 2h0m3-5h0m5 1h0m2 3h0m3 2h0m11-4h0m7-1h0m8 4h0m0 1h0m3-3h0m2 2h0m6-2h0m15-2h0m2 6h0m8 0h0m3-2h0m1-4h0m1 2h0m9-2h0m15 2h0m2-1h0m3 1h0m3 3h0m0-6h0m2 5h0m3-4h0m6 0h0m16 2h0m4 0h0m2 0h0m6 3h0m0 1h0m0-1h0m6-4h0m0 2h0m5-1h0m0 2h0m1-1h0m4 1h0m-557 5h0m9 0h0m4-2h0m7 3h0m1-1h0m22 2h0m4 3h0m3-5h0m0-1h0m0 5h0m1 0h0m0-6h0m2 5h0m22-2h0m3-1h0m2 0h0m2 4h0m2 0h0m0-1h0m3-2h0m13 2h0m10 2h0m8 0h0m5-6h0m2 4h0m6-3h0m6 5h0m1 0h0m2-3h0m13-1h0m1 2h0m7-3h0m6 4h0m12-4h0m2-1h0m0 6h0m1-2h0m2-5h0m9 0h0m8 4h0m5 1h0m4-2h0m1 3h0m3-5h0m4 0h0m0 4h0m2-4h0m3 5h0m8-2h0m1 2h0m2-2h0m11 0h0m7-3h0m4 0h0m1 2h0m6 0h0m0 4h0m4-2h0m5 0h0m2 1h0m4-6h0m0 6h0m2-1h0m0 0h0m4-4h0m2 2h0m1-3h0m0 0h0m19 0h0m3 0h0m10 2h0m5 3h0m0-4h0m1 2h0m4 4h0m8-4h0m12 3h0m4-1h0m1-3h0m7 0h0m1 3h0m6-5h0m2 4h0m3 2h0m3-1h0m2-3h0m6 4h0m3-2h0m5-1h0m2 0h0m2 4h0m4-2h0m0-3h0m13 5h0m9-1h0m1-1h0m7-4h0m5 4h0m12 1h0m3 1h0m2-6h0m8 3h0m0-3h0m2 5h0m1 0h0m13-4h0m4 0h0m2 2h0m8 1h0m2 0h0m8-4h0m2 3h0m4 2h0m3 1h0m1 0h0m4-6h0m2 6h0m2-7h0m6 0h0m5 2h0m9-1h0m14 1h0m0 3h0m0-5h0m2 3h0m-556 12h0m0-5h0m1 5h0m11-3h0m8 0h0m3 3h0m6-1h0m13-5h0m3 4h0m0-3h0m3 3h0m4-4h0m6 5h0m3 0h0m0-5h0m0 1h0m9 1h0m6-2h0m10 3h0m5 3h0m1-5h0m4-1h0m5 6h0m0-7h0m3 4h0m3 0h0m0-3h0m9 5h0m1-5h0m3 6h0m5-2h0m9 2h0m1-1h0m2 0h0m1-2h0m9-1h0m9 0h0m10-3h0m6 6h0m0-2h0m2-2h0m1 3h0m22 1h0m6-5h0m3-1h0m2 5h0m5-4h0m5 1h0m6 5h0m4-3h0m0-4h0m3 2h0m5-2h0m12 6h0m6 1h0m4-6h0m3 0h0m1 5h0m0-3h0m1-3h0m4 4h0m3-3h0m5 5h0m10-4h0m1-2h0m4 0h0m6 7h0m0-4h0m6-2h0m6 3h0m1-4h0m4 4h0m3 1h0m4-3h0m2-1h0m7 4h0m0 0h0m1-3h0m0 4h0m5 1h0m0-6h0m10 0h0m4 3h0m1-3h0m1 2h0m21 0h0m3-2h0m2-1h0m3 4h0m5-1h0m14 4h0m4-6h0m2 0h0m2 3h0m3-3h0m5 6h0m15-6h0m4 6h0m1-3h0m1-1h0m4-2h0m1 4h0m1-1h0m1 0h0m1-3h0m1 5h0m5-6h0m1 6h0m1-5h0m3 4h0m1 0h0m6 0h0m10 0h0m4-5h0m3 0h0m5 1h0m4 2h0m3 1h0m5 1h0m4-3h0m3-2h0m4 4h0m3 2h0m4-3h0m4-1h0m1 2h0m7 0h0m16 0h0m13 2h0m-550 9h0m3-2h0m1 2h0m3-3h0m9-3h0m3-1h0m9 2h0m1 5h0m1 0h0m5-6h0m4 3h0m10-1h0m6 1h0m10-4h0m1 2h0m2 0h0m7 3h0m5 0h0m4-3h0m1 4h0m1-2h0m9-3h0m3 1h0m4 1h0m5 4h0m13-5h0m1 5h0m2-6h0m1 3h0m8-1h0m7 2h0m1-1h0m3-3h0m2 3h0m1 3h0m0 0h0m8-4h0m8 4h0m4-5h0m5 1h0m7 0h0m1 1h0m1 3h0m1-1h0m2-3h0m10-3h0m1 2h0m4 0h0m1 1h0m2 3h0m2-3h0m3 1h0m1-4h0m3 5h0m6-1h0m3 0h0m2-2h0m1 5h0m6-4h0m2-1h0m8 2h0m12 1h0m0-5h0m2 6h0m1-1h0m2-1h0m1 1h0m4-5h0m10 1h0m9 4h0m4-1h0m0-4h0m3 6h0m5-6h0m0 4h0m2-4h0m0 5h0m7-4h0m16 4h0m2-2h0m7 1h0m3 3h0m1-3h0m3 3h0m1-7h0m1 5h0m1-1h0m1 1h0m3-3h0m1 3h0m2-4h0m3 6h0m5-6h0m1 4h0m6-2h0m0-3h0m16 4h0m2 2h0m0-3h0m1 1h0m0 0h0m1 1h0m0-1h0m2-2h0m5-2h0m2 5h0m3 2h0m4-4h0m1 1h0m2 1h0m3-3h0m17-1h0m1 0h0m1 3h0m1-4h0m4 7h0m1-5h0m4 0h0m2-1h0m0 6h0m3-3h0m9-4h0m1 1h0m0 4h0m4-2h0m2 3h0m11-6h0m6 3h0m5-3h0m31 5h0m1-5h0m2 5h0m6-2h0m1-2h0m1 0h0m10-1h0m6 7h0m4-2h0m2-3h0m3-2h0m2 0h0m0 1h0m15 1h0m1 5h0m0-5h0m-555 8h0m6 4h0m3-4h0m3 2h0m2-4h0m1 3h0m2 1h0m5 0h0m2 3h0m7-6h0m2 5h0m1 0h0m2 1h0m7-7h0m12 0h0m3 3h0m2 4h0m1-5h0m4 2h0m1-2h0m6 5h0m12-1h0m4 1h0m26-1h0m3-1h0m4-4h0m4 5h0m0-6h0m1 3h0m2-1h0m3 5h0m7-6h0m4-1h0m14 5h0m10-3h0m4 4h0m2-2h0m2 1h0m1 1h0m6-2h0m13-3h0m2 5h0m1 0h0m8-2h0m6 2h0m5-2h0m18-1h0m6 4h0m2-7h0m1 4h0m8 1h0m5-2h0m2 0h0m10 2h0m1-3h0m2 1h0m2-2h0m1 5h0m3-2h0m3-2h0m1-2h0m3 1h0m15 0h0m1-1h0m6 6h0m10 0h0m1-2h0m8-2h0m7-1h0m1-1h0m10 3h0m8-3h0m1 2h0m1 3h0m0-1h0m1 1h0m2-3h0m8-1h0m8-1h0m12 0h0m1 5h0m5-3h0m6-1h0m6-1h0m0 6h0m7-2h0m5-3h0m11 3h0m2-2h0m3 2h0m5 1h0m1-1h0m1 1h0m13-3h0m1 3h0m3-2h0m0 0h0m9-3h0m7 4h0m2-3h0m5 4h0m2-3h0m7 5h0m13-7h0m3 7h0m5-2h0m8-3h0m5-2h0m4 4h0m5 1h0m1-4h0m1 4h0m9 2h0m7 0h0m-553 1h0m2 4h0m3 3h0m0-6h0m4 3h0m4-4h0m2 7h0m6-3h0m6 3h0m2 0h0m10-1h0m2 1h0m6-6h0m1 5h0m1-6h0m5 3h0m5-3h0m6 0h0m17 7h0m6-1h0m2-4h0m0 1h0m8 1h0m5 0h0m3-1h0m2 3h0m2-2h0m21-1h0m3 0h0m7 2h0m3-2h0m2-3h0m2 0h0m0 2h0m0 4h0m5 1h0m3-3h0m3-2h0m2 1h0m2 1h0m2 1h0m1-3h0m11 3h0m4-1h0m2 0h0m2-2h0m1 3h0m1-1h0m12 2h0m6-1h0m14-2h0m5 3h0m3-6h0m3 3h0m2 4h0m7-7h0m1 1h0m2 6h0m0-7h0m2 0h0m10 7h0m2-1h0m5-2h0m1-4h0m4 2h0m2 2h0m2-3h0m5 4h0m1-5h0m6 0h0m5 2h0m3 0h0m6 0h0m0 5h0m3-7h0m1 0h0m11 3h0m3 4h0m10-4h0m1-1h0m3 0h0m7 2h0m4-2h0m11-1h0m3 3h0m2-2h0m4 4h0m3 0h0m0-6h0m9 5h0m9-2h0m4 1h0m7 2h0m2 1h0m1-2h0m3 1h0m3-4h0m1 5h0m1-1h0m1-5h0m0 1h0m15 2h0m7 0h0m4-1h0m6 1h0m4-3h0m2 2h0m4 2h0m4 0h0m4-1h0m19-1h0m11 2h0m5-1h0m4-2h0m1-2h0m1 5h0m6-3h0m4-2h0m3 1h0m14 4h0m14-1h0m1-1h0m0-2h0m9-1h0m0 4h0m2 2h0m7-6h0m-533 9h0m1 0h0m0 6h0m6-1h0m2-6h0m3 5h0m2-3h0m2-1h0m2-1h0m1 1h0m5-1h0m26 6h0m3-5h0m1 1h0m11-2h0m11 6h0m1 1h0m4-3h0m4 2h0m5-6h0m24 2h0m7 3h0m6 0h0m2-5h0m1 4h0m0 1h0m1-5h0m8 1h0m2 6h0m0-6h0m3 3h0m8 1h0m7-5h0m4 1h0m6 3h0m16-2h0m1 1h0m7 2h0m16 2h0m6-4h0m9 3h0m4-4h0m0 0h0m16 5h0m1-6h0m0 2h0m10 0h0m3-2h0m3 6h0m3-4h0m12-3h0m4 2h0m1 1h0m2-3h0m4 4h0m3-2h0m1 2h0m3 3h0m1-2h0m0-5h0m3 3h0m11 1h0m3 0h0m2-1h0m6 0h0m8-1h0m0 1h0m3 0h0m4 4h0m5-3h0m2 3h0m1-5h0m4-2h0m9 3h0m7-2h0m0-1h0m1 4h0m0 3h0m2-1h0m0-5h0m1 6h0m8-2h0m6 2h0m9-6h0m7 2h0m3-3h0m4 5h0m6-1h0m2-1h0m10 0h0m7-3h0m4 6h0m3 1h0m2-6h0m1 2h0m1 0h0m6 4h0m0-3h0m1 1h0m0-4h0m1-1h0m14 0h0m1 5h0m1-3h0m5 5h0m6-4h0m2-3h0m0 3h0m1 4h0m11 0h0m1-2h0m2-4h0m0 2h0m1-1h0m2 3h0m17 0h0m3 1h0m6-2h0m1 1h0m5-5h0m2 6h0m9-6h0m-557 12h0m4-1h0m0 4h0m3-5h0m0-1h0m11-1h0m3 5h0m1 1h0m3-6h0m4 1h0m0 0h0m5 5h0m7-2h0m1 0h0m5-3h0m14 4h0m0 0h0m1-1h0m1-1h0m1-3h0m7 4h0m0 1h0m8-5h0m0 4h0m4 1h0m6-3h0m3 3h0m0-4h0m2 1h0m1 2h0m5-4h0m3 5h0m2-4h0m2 5h0m10-4h0m2 2h0m8-1h0m1-3h0m1 4h0m1 3h0m1 0h0m0-3h0m6-3h0m16 1h0m0 2h0m1-3h0m2 2h0m19 0h0m4 1h0m4-4h0m3 1h0m0 4h0m10-3h0m1-1h0m14 1h0m11 3h0m10 2h0m3-6h0m0 5h0m2-3h0m5-3h0m2 4h0m0 0h0m11-1h0m3 4h0m1-2h0m4-2h0m1-2h0m7 6h0m6-5h0m0 1h0m2 1h0m0-1h0m11 3h0m2-3h0m1-2h0m0 2h0m13 1h0m6-2h0m2 0h0m1 1h0m6-1h0m7 2h0m1 0h0m3-2h0m0 4h0m1-4h0m4 0h0m10 5h0m1-3h0m9 2h0m5-1h0m5 2h0m1-1h0m5-4h0m4-2h0m3 3h0m10 3h0m11 0h0m2-1h0m9 0h0m8 0h0m7 2h0m0-4h0m4-2h0m2 2h0m0 3h0m1-5h0m5 6h0m0-2h0m1 0h0m1 1h0m2 1h0m2-6h0m23 1h0m5 4h0m9-2h0m5-1h0m7 2h0m10 0h0m2 2h0m4-7h0m22 0h0m3 3h0m18 3h0m0 1h0m1-7h0m0 3h0m1 4h0m0-7h0m1 3h0m0 4h0m2-3h0m-557 9h0m0-1h0m1-4h0m4 1h0m0 6h0m0-4h0m11 4h0m4-1h0m1-4h0m0-1h0m2 3h0m8-1h0m3 2h0m3 2h0m3-2h0m4 1h0m4-1h0m6-3h0m1 0h0m1-2h0m1 0h0m12 0h0m0 4h0m3-2h0m8 0h0m4 2h0m0 3h0m2-5h0m11 1h0m7 1h0m10 0h0m6-2h0m1 2h0m2 2h0m6 0h0m1-6h0m9 3h0m6 1h0m12-4h0m2 5h0m3-5h0m2 5h0m14 2h0m2-2h0m1 0h0m7-2h0m1 0h0m9-3h0m2 4h0m5 3h0m0-2h0m4-1h0m0-3h0m1 4h0m4-2h0m6-3h0m7 5h0m1 2h0m2-3h0m0-2h0m1 3h0m0 2h0m2-5h0m1 3h0m4-1h0m3 2h0m3-1h0m1 0h0m2-3h0m1 4h0m3-3h0m3 0h0m19-3h0m0 6h0m1-5h0m2 1h0m6-1h0m2 5h0m3-2h0m7-1h0m11 4h0m3-6h0m3 1h0m6 4h0m14 0h0m13 0h0m2-3h0m2-3h0m5 3h0m13-2h0m3 0h0m6 5h0m2-5h0m2 1h0m1-1h0m23 5h0m0-3h0m3-1h0m2-1h0m11 3h0m4-3h0m26 2h0m1 2h0m5 1h0m3-3h0m4-3h0m13 4h0m6 1h0m14-1h0m6-4h0m7 5h0m8-5h0m11 1h0m1 4h0m4 2h0m2-3h0m1-4h0m7 2h0m11 4h0m1 1h0m-557 6h0m1-3h0m1 0h0m2 0h0m0 2h0m7-3h0m2 1h0m0-2h0m9 0h0m5 6h0m4-6h0m0 3h0m3 0h0m2 2h0m3-3h0m5 3h0m14 0h0m1 0h0m2 1h0m4 1h0m2-3h0m0 0h0m6-1h0m8 2h0m1 2h0m8-3h0m1-3h0m7 0h0m8 6h0m6-6h0m6-1h0m2 1h0m9 5h0m2 0h0m1-3h0m1 4h0m6-6h0m8-1h0m3 6h0m8-4h0m28 4h0m7-6h0m1 3h0m2 4h0m5-2h0m4-1h0m0-3h0m11 3h0m6-3h0m3-1h0m9 0h0m3 4h0m0-2h0m6-1h0m6 1h0m6 1h0m1-2h0m21 1h0m1 0h0m12-2h0m11 4h0m1 0h0m27-1h0m1 1h0m1-4h0m4 6h0m3 1h0m0-3h0m10-1h0m2-2h0m3 1h0m4-1h0m2 4h0m4 0h0m1-5h0m4 4h0m1-3h0m2 3h0m1 0h0m3-1h0m2-3h0m0 3h0m2-3h0m1 0h0m11 7h0m9 0h0m10-3h0m0 0h0m8-4h0m0 0h0m7 1h0m7 3h0m2 2h0m6-1h0m1-1h0m2-3h0m2 3h0m0-3h0m3 1h0m16 3h0m2-3h0m1 4h0m1 0h0m2-2h0m3-4h0m1 6h0m10-3h0m6-2h0m7 3h0m9 2h0m1 0h0m0 1h0m4-5h0m0-2h0m3 4h0m8-3h0m24 6h0m-545 6h0m9 0h0m1-3h0m5 4h0m14-4h0m9 5h0m1-1h0m3-3h0m0-3h0m1 6h0m2-6h0m2 2h0m4 0h0m4 5h0m2-1h0m7-2h0m3 1h0m4-1h0m2 2h0m9-3h0m0 3h0m5 0h0m4-1h0m9-3h0m13-1h0m10 3h0m15-3h0m0 5h0m4-1h0m1-1h0m1 1h0m5-4h0m3 4h0m0 0h0m3 1h0m8 1h0m5-6h0m2 4h0m3-1h0m9-3h0m2 3h0m0-4h0m1 3h0m3-1h0m12 3h0m1-1h0m13-3h0m10 2h0m3 2h0m3-4h0m5 2h0m0-1h0m0-1h0m2 5h0m5 1h0m8-3h0m26-3h0m9-1h0m5 2h0m2 3h0m1 2h0m4-3h0m2 3h0m6-4h0m4-1h0m11 1h0m10-3h0m5 4h0m1-3h0m1 1h0m8-2h0m1 7h0m15-4h0m4 2h0m15-2h0m3 1h0m8 3h0m8-6h0m1 6h0m3-4h0m9 3h0m2-1h0m5 2h0m8-2h0m5-1h0m2-2h0m3 3h0m11-1h0m2-1h0m11-1h0m1-2h0m1 5h0m2-2h0m4 2h0m3 0h0m1 0h0m2-3h0m6 2h0m3-1h0m1 0h0m5-3h0m1 0h0m0 6h0m2-5h0m0 6h0m8 0h0m1-6h0m2 0h0m1 0h0m20 2h0m4-2h0m0 1h0m3-2h0m7 0h0m0 4h0m3 0h0m2 1h0m0-3h0m3 1h0m2-2h0m9-1h0m1 3h0m0 3h0m-562 7h0m3-5h0m10 1h0m6 2h0m7-3h0m6 4h0m1-1h0m1 3h0m7-6h0m3 7h0m3-6h0m3 4h0m0-2h0m4 2h0m2 0h0m3-1h0m1 2h0m3 0h0m1-6h0m0 5h0m1-5h0m12 4h0m1 2h0m5-3h0m9 2h0m2-5h0m1 2h0m8-2h0m5 2h0m6 0h0m4 0h0m7 3h0m5-1h0m11-3h0m3 1h0m0 5h0m6-7h0m2 4h0m0-1h0m7 3h0m5-1h0m6 1h0m10-3h0m2 1h0m5-2h0m6 5h0m1-4h0m1 3h0m9-2h0m11 3h0m1-2h0m11-3h0m1 0h0m5 3h0m10-1h0m4 1h0m5 2h0m12-6h0m1 2h0m1-1h0m4 0h0m14 1h0m6-2h0m3 3h0m12 1h0m7-1h0m9 2h0m1-5h0m4 3h0m3 0h0m0-1h0m2 3h0m1-3h0m1-2h0m7 0h0m4 3h0m7 0h0m8-3h0m1 1h0m3 3h0m3-1h0m4 0h0m2-1h0m1 4h0m1-6h0m13 1h0m1 2h0m4-4h0m4 1h0m5 0h0m11 0h0m1 3h0m9-3h0m5 5h0m3-1h0m3-3h0m7-2h0m1 7h0m1-1h0m4-5h0m4 5h0m8 0h0m2-4h0m6 5h0m0 0h0m5-2h0m5 2h0m1-2h0m0-2h0m14-2h0m11 5h0m6-2h0m1 0h0m4-3h0m2 1h0m1 4h0m1 1h0m2-4h0m4-1h0m3-2h0m11 0h0m6 6h0m7-4h0m5 4h0m7 0h0m-551 9h0m2-5h0m5 2h0m1-2h0m12 1h0m5-1h0m0 2h0m11 0h0m6 3h0m0-4h0m1 4h0m3-6h0m9 5h0m13-3h0m9 3h0m8-3h0m9 1h0m6 1h0m4 1h0m1-3h0m0-3h0m7 3h0m4-3h0m0 6h0m4-3h0m10-3h0m2 1h0m2 6h0m4-7h0m1 4h0m1 1h0m1 0h0m1-2h0m12-3h0m2 2h0m2 3h0m2-1h0m5 1h0m4-1h0m7 3h0m2-1h0m11-3h0m1 3h0m1-1h0m1-5h0m2 2h0m3-2h0m2 7h0m0-3h0m10 1h0m2 2h0m3-7h0m8 3h0m0-1h0m3 3h0m0 0h0m1-4h0m12 4h0m1 1h0m1-1h0m17-5h0m10 7h0m4-7h0m2 2h0m1-2h0m7 7h0m1-4h0m3 0h0m3-3h0m2 4h0m8-3h0m9 2h0m0-2h0m4 6h0m4-2h0m2 1h0m10-2h0m4 3h0m6-2h0m1-2h0m2 4h0m1 0h0m1-6h0m1 2h0m4 1h0m0-2h0m4 2h0m8-3h0m3 0h0m1 6h0m14-2h0m5-4h0m1 1h0m5 5h0m5-6h0m19 0h0m11 5h0m1-1h0m3-2h0m2-2h0m7 5h0m3-1h0m2-1h0m3-1h0m0-1h0m3 3h0m6 1h0m0-4h0m25 3h0m0-5h0m6 3h0m13-1h0m3 3h0m2-4h0m1 5h0m3-5h0m1 3h0m3 3h0m4-7h0m10 4h0m3-2h0m0-1h0m5 3h0m9-1h0m2-2h0m3-1h0m6 7h0m-556 3h0m0-1h0m1 1h0m5-1h0m8-1h0m0 4h0m2-1h0m2-3h0m19 2h0m1 0h0m42 4h0m7-3h0m0 4h0m6-5h0m6 0h0m1 4h0m6 1h0m25-6h0m0-1h0m7 0h0m8 6h0m3-6h0m9 6h0m2-3h0m5-1h0m3 3h0m0 0h0m2-4h0m5 5h0m2-6h0m5 5h0m1-1h0m7-2h0m5 1h0m8 0h0m7 2h0m1-1h0m4-4h0m2 6h0m1-3h0m0-2h0m2 2h0m1 3h0m5-3h0m1 3h0m8-1h0m2-4h0m2 3h0m1-1h0m9 4h0m0-7h0m1 6h0m5-1h0m6-1h0m6-1h0m7 4h0m1-6h0m1-1h0m0 3h0m0 3h0m3 0h0m3-3h0m1-3h0m1 0h0m2 6h0m8-4h0m1 2h0m4 2h0m5-4h0m9 3h0m12-2h0m3-3h0m7 7h0m0-4h0m5 4h0m2-3h0m1 0h0m8 3h0m9-5h0m12 5h0m6-5h0m7 2h0m3-4h0m6 1h0m14-1h0m13 0h0m1 4h0m0 3h0m23-7h0m10 1h0m2 3h0m1-1h0m7 1h0m1 3h0m3-1h0m1-1h0m7 1h0m1-1h0m5-3h0m4 2h0m0-1h0m25 4h0m8-6h0m9 2h0m2-1h0m9 2h0m4 0h0m0 2h0m1-2h0m1-2h0m2 2h0m0 1h0m4 1h0m2-3h0m0 0h0m-556 7h0m16-2h0m2 3h0m7 2h0m2 0h0m1-1h0m4 2h0m4-2h0m7 1h0m1-1h0m14-3h0m3 4h0m7-3h0m1 5h0m8-4h0m0 2h0m4-2h0m2-1h0m1 5h0m2-5h0m1 2h0m3-4h0m1 4h0m0-4h0m3 2h0m3 0h0m1 4h0m3-1h0m1-2h0m2 2h0m1 0h0m0-4h0m6 2h0m2 2h0m2-2h0m2 0h0m5-1h0m4 2h0m5 2h0m5 0h0m3-5h0m11 0h0m2 0h0m8-1h0m3 3h0m5 1h0m8 2h0m3-1h0m3-3h0m1 4h0m0-3h0m2 3h0m6 1h0m20-1h0m0-2h0m8 0h0m3 2h0m0 1h0m0-2h0m2-5h0m3 3h0m5 3h0m19-6h0m6 5h0m1 1h0m0-2h0m1-2h0m5-2h0m0 5h0m10 2h0m15-2h0m6 0h0m1-1h0m5 1h0m2-4h0m0 0h0m1 5h0m5-4h0m1 5h0m1-5h0m13 2h0m11-4h0m4 0h0m1 6h0m4-6h0m10 3h0m1 3h0m6-1h0m9-1h0m9-2h0m3 2h0m0 0h0m4 0h0m2-1h0m6 2h0m2-3h0m0 5h0m2-7h0m1 7h0m1-2h0m2-3h0m1 1h0m7 4h0m0-6h0m3-1h0m2 2h0m2 1h0m6-2h0m1 2h0m2 4h0m1-3h0m7-1h0m1 3h0m1-1h0m3-5h0m2 2h0m1 4h0m3-2h0m4 0h0m2 1h0m2-2h0m2 0h0m6-2h0m10 3h0m5-3h0m1 0h0m13 0h0m2 3h0m6-3h0m1 4h0m1-5h0m19 6h0m13-1h0m0 0h0m8-4h0m0 6h0m2-5h0m14 0h0m1 1h0m-545 11h0m5-6h0m6 4h0m0 2h0m3-3h0m9 0h0m0 2h0m2 1h0m3-5h0m5 6h0m3-3h0m6-4h0m8 0h0m2 2h0m2 2h0m1 3h0m1-1h0m3-4h0m1 2h0m5-3h0m1 3h0m4 1h0m16-5h0m0 4h0m1 3h0m5-7h0m9 2h0m2 1h0m3 4h0m2-6h0m0 6h0m4-2h0m4-3h0m4-1h0m3 2h0m4 4h0m8-6h0m1 4h0m4-3h0m1 5h0m1-3h0m2-3h0m0 4h0m2 0h0m2-1h0m1-4h0m0 1h0m2-1h0m3 7h0m3-2h0m3-3h0m0 3h0m2-2h0m7 1h0m3 2h0m2-4h0m4 4h0m2-1h0m1 2h0m1-5h0m4 1h0m8 3h0m2-2h0m1-3h0m2 4h0m8-5h0m1 4h0m4 0h0m1-1h0m0-2h0m3 5h0m11-3h0m8 4h0m1 0h0m1 0h0m13 0h0m4-4h0m2 4h0m0-4h0m5 3h0m4 1h0m8-7h0m6 6h0m4 0h0m7 1h0m1-2h0m8-4h0m2-1h0m1 3h0m0-2h0m5 3h0m2-2h0m1 0h0m3 3h0m1-1h0m2 0h0m10 2h0m0-2h0m9 2h0m10 1h0m3-7h0m7 4h0m0-2h0m6-2h0m5 1h0m8-1h0m5 3h0m6 3h0m3-4h0m0 1h0m4-3h0m1 5h0m2-3h0m3 1h0m11-3h0m8 6h0m2-5h0m3-1h0m3 0h0m1 1h0m1-1h0m3 1h0m1 1h0m1 5h0m1-5h0m10 1h0m2-1h0m4 5h0m0-1h0m3-5h0m3 4h0m20 2h0m3-7h0m10 0h0m2 7h0m2-4h0m8 1h0m7 0h0m1-3h0m1 2h0m5 2h0m2 1h0m5-3h0m3 4h0m9-6h0m8 3h0m1-1h0m0 2h0m-558 5h0m14-1h0m3 5h0m2 1h0m0-7h0m3 6h0m8 1h0m0-1h0m2-3h0m5 1h0m1 1h0m6 2h0m4-3h0m3-2h0m11 0h0m5 1h0m0-1h0m2 1h0m3-2h0m2 1h0m1 5h0m20-3h0m3 3h0m5-4h0m5 2h0m5 1h0m2-2h0m2-2h0m2 5h0m2-4h0m0 0h0m2 2h0m2 1h0m1-1h0m17-4h0m1 3h0m0 2h0m9 0h0m1-1h0m2-3h0m8-2h0m8 7h0m2-3h0m4 3h0m15-2h0m3-3h0m2-1h0m1 4h0m1-2h0m12-3h0m2 1h0m3 5h0m15-4h0m0 3h0m0-5h0m17 0h0m1 5h0m0 1h0m2-4h0m20-2h0m1 2h0m3 2h0m1 2h0m4-4h0m8-1h0m0-1h0m2 3h0m2 1h0m1-4h0m8 3h0m29 3h0m7 0h0m7-6h0m1 3h0m1 0h0m1-3h0m6 0h0m1 7h0m0-5h0m6 2h0m4-4h0m17 1h0m6 1h0m20 4h0m6-4h0m1 4h0m4-3h0m11 4h0m2-2h0m16-1h0m0-4h0m12 0h0m2 7h0m6-3h0m2 3h0m3-7h0m3 5h0m1-3h0m6 0h0m4 3h0m3-1h0m2-3h0m9 5h0m5-3h0m1-2h0m4 0h0m4 1h0m4 5h0m13-2h0m2 2h0m6-6h0m3 5h0m8-4h0m5 0h0m3 1h0m2 3h0m-561 4h0m1 5h0m5-1h0m1 0h0m12-3h0m24-2h0m7 4h0m9-3h0m4 4h0m8 1h0m1-7h0m4 4h0m1-4h0m7 1h0m3 5h0m3-1h0m7 0h0m7-3h0m0 0h0m10 1h0m5 0h0m0 1h0m5 2h0m1-3h0m14 0h0m5 3h0m27 0h0m9-3h0m2-2h0m0 3h0m2-4h0m2 0h0m3 3h0m2-2h0m2 1h0m3 1h0m18 4h0m4-4h0m1-1h0m1 4h0m1-1h0m5-2h0m9 3h0m4 0h0m5 1h0m9 0h0m7-2h0m10-4h0m4 2h0m4 3h0m9 0h0m1-5h0m9 2h0m0 3h0m1 1h0m4-3h0m0-4h0m7 4h0m1 1h0m1 2h0m4-4h0m4 1h0m5-4h0m0 1h0m9 6h0m5-3h0m6-1h0m8 3h0m9 1h0m17-3h0m1 1h0m2 2h0m2-7h0m7 3h0m6 1h0m0 2h0m3 0h0m5-3h0m6 3h0m2-4h0m3-2h0m0 2h0m9-2h0m11 5h0m4-1h0m1 1h0m0 1h0m1-5h0m0 6h0m5-4h0m1 3h0m1 0h0m2-6h0m2 6h0m12-4h0m3 4h0m2-6h0m1 5h0m2-3h0m4 3h0m4 1h0m1 1h0m1-3h0m12 0h0m5 0h0m3-4h0m0 5h0m3-5h0m2 2h0m1 2h0m3 3h0m4-7h0m13 7h0m3-3h0m1 0h0m2-4h0m4 6h0m11-6h0m10 2h0m4-1h0m-558 8h0m2 6h0m1-6h0m8 5h0m3-1h0m26-5h0m1 7h0m0-3h0m5 2h0m11-4h0m3 0h0m6 1h0m15 1h0m4 2h0m18-1h0m5-1h0m0 2h0m4-4h0m7 4h0m0-2h0m2-4h0m1 6h0m1-1h0m4-4h0m1 0h0m3 6h0m4-5h0m2 2h0m4-1h0m3 3h0m7-4h0m8 4h0m3 1h0m4-1h0m5-1h0m3-4h0m2 5h0m1 0h0m7-6h0m0 4h0m6-1h0m3-2h0m1 6h0m4-5h0m11 4h0m0-4h0m1-1h0m8 0h0m3 4h0m2 0h0m1-3h0m4 0h0m13 1h0m28-1h0m6 4h0m8-3h0m3 3h0m0-6h0m10 7h0m10-5h0m3 1h0m1-1h0m0 3h0m5-5h0m0 1h0m6 1h0m1 2h0m12-4h0m0 0h0m9 6h0m6-1h0m3-2h0m10 2h0m10 2h0m5-1h0m2-3h0m3-1h0m11 0h0m1 5h0m2-1h0m8-2h0m12-4h0m0 6h0m25-3h0m0 4h0m5-2h0m5-4h0m4-1h0m10 2h0m6 5h0m4 0h0m1-5h0m2 0h0m11-2h0m4 1h0m1 6h0m0 0h0m1-5h0m6 2h0m4 1h0m3 0h0m6-3h0m6 4h0m3 1h0m3-2h0m2 2h0m1 0h0m1-5h0m0 5h0m6-5h0m6-2h0m0 6h0m7-5h0m6 2h0m3 0h0m-559 10h0m3-5h0m6 0h0m9 3h0m13-1h0m1 5h0m9-6h0m4 5h0m2-5h0m2 4h0m1 2h0m0-1h0m4-4h0m9-1h0m1 2h0m2 1h0m3-3h0m7 1h0m1 0h0m3-2h0m3 4h0m5 3h0m4 0h0m18-1h0m5 1h0m7-7h0m1 6h0m3-5h0m1 1h0m3 4h0m9-2h0m2 2h0m14-4h0m5-1h0m2 4h0m1-5h0m0 5h0m8-1h0m0 0h0m6 2h0m6-3h0m1 2h0m2 2h0m1-3h0m1-3h0m1 0h0m7-1h0m0 2h0m5-2h0m14 1h0m2 5h0m0 0h0m1-1h0m6 0h0m4-1h0m15 0h0m1 2h0m13-6h0m14 2h0m3 5h0m5-3h0m2 2h0m0-5h0m16 2h0m1 4h0m1-7h0m2 4h0m2 1h0m7 0h0m5 1h0m5 1h0m8-5h0m1 0h0m10 3h0m5 0h0m3-4h0m0 3h0m8-1h0m0 2h0m18 2h0m3-3h0m2 0h0m2-4h0m0 6h0m3-1h0m1-2h0m0-2h0m14 6h0m6-7h0m7 0h0m2 7h0m2-7h0m2 1h0m12 0h0m2 3h0m0 0h0m4 3h0m0-3h0m9-4h0m2 1h0m4 2h0m2-2h0m3 5h0m2 0h0m5-1h0m13 0h0m4-2h0m10 0h0m4 4h0m1-6h0m4-1h0m1 3h0m2 1h0m5-1h0m0 3h0m4 1h0m0-5h0m7-2h0m1 6h0m16-2h0m7-4h0m0 7h0m8-2h0m3 2h0m5-7h0m-558 15h0m1-7h0m2 6h0m0-2h0m1 3h0m4-1h0m0-3h0m11 0h0m2 1h0m0-1h0m12 0h0m4 4h0m1-5h0m0 3h0m2-3h0m10 1h0m2 3h0m2-2h0m5 1h0m7-5h0m1 3h0m1 4h0m2 0h0m1-1h0m18-6h0m8 6h0m3-6h0m4 2h0m3 0h0m3-2h0m2 6h0m1-5h0m10 4h0m0-2h0m10 2h0m7-2h0m3 4h0m6-5h0m10 0h0m21 4h0m2-1h0m2 1h0m13-2h0m0 1h0m2 2h0m5-6h0m2 0h0m1 5h0m2-1h0m7-2h0m0-3h0m1 2h0m12 5h0m1-4h0m5-3h0m1 5h0m3-1h0m1 3h0m2 0h0m1 0h0m2-1h0m6-3h0m18-1h0m5 5h0m9-2h0m5-1h0m1 0h0m0-2h0m4 2h0m6-2h0m3 0h0m0 2h0m5-3h0m2 2h0m2-2h0m11 2h0m4 3h0m0-6h0m1 3h0m11-3h0m2 2h0m2 1h0m3-1h0m0 2h0m5-4h0m13 1h0m3-1h0m9 4h0m8 0h0m3-3h0m5 0h0m3 4h0m1 2h0m2-5h0m4 4h0m3-1h0m3-2h0m2-1h0m2 5h0m7-2h0m11-4h0m4 2h0m5 1h0m5 2h0m2-4h0m3 3h0m7-3h0m1-1h0m5 1h0m7-2h0m3 5h0m1-3h0m5 4h0m1 0h0m3-6h0m0 2h0m0 2h0m3 3h0m0-7h0m2 0h0m2 6h0m21 0h0m11 1h0m8 0h0m4-6h0m0 5h0m4-1h0m7 2h0m1-3h0m1-4h0m1 0h0m7 5h0m-554 10h0m6-2h0m4-1h0m6-2h0m1 1h0m3 4h0m3-5h0m2-2h0m2 6h0m4 1h0m3 0h0m0 0h0m1-6h0m12 6h0m0-2h0m1-1h0m2-2h0m2-2h0m5 4h0m1-4h0m2 1h0m2 6h0m1-4h0m8-2h0m12-1h0m1 6h0m1-3h0m6 1h0m9 0h0m0-3h0m12 2h0m2-3h0m2 1h0m7-1h0m3 0h0m5 1h0m0-1h0m2 1h0m0 4h0m4-3h0m2 1h0m2 3h0m5-2h0m6-1h0m9-2h0m3 0h0m4 6h0m10-7h0m1 7h0m3-4h0m4 4h0m5-1h0m10-2h0m5-1h0m1 2h0m0-4h0m2 6h0m1-6h0m8 4h0m1-2h0m12 1h0m11 1h0m2 1h0m11-3h0m33-2h0m10-1h0m1 0h0m9 5h0m5 0h0m3-4h0m0 5h0m6-4h0m7 0h0m1-2h0m9 0h0m3 4h0m6 2h0m9 1h0m0-6h0m9 4h0m1-2h0m1-1h0m2-1h0m5 6h0m5-4h0m3-3h0m1 5h0m0 1h0m3-4h0m6 0h0m8-2h0m1 0h0m0 3h0m4-3h0m2 5h0m12-1h0m9 1h0m3 2h0m1-2h0m2-2h0m10 4h0m0-2h0m1 1h0m9 1h0m2-7h0m2 4h0m9 1h0m0-3h0m9-2h0m7 5h0m1-2h0m12 3h0m1-6h0m2 0h0m1 4h0m3 2h0m12-4h0m4 3h0m4 2h0m2-5h0m2 0h0m10 0h0m1 4h0m6 0h0m4-5h0m2 0h0m0 6h0m0 0h0m9-1h0m-558 3h0m0 1h0m5 3h0m13-4h0m5 5h0m26 1h0m4-4h0m9-3h0m2 4h0m1 2h0m2-5h0m1 4h0m4-3h0m2 5h0m5-5h0m22 5h0m3-5h0m4 3h0m3-2h0m3 3h0m3 1h0m3-4h0m1 0h0m8 1h0m9-4h0m3 5h0m16-1h0m23 1h0m2-4h0m5 6h0m2-2h0m3 2h0m0-5h0m0 3h0m1-4h0m2 2h0m2 0h0m0 1h0m12 1h0m1-1h0m8 1h0m1-1h0m16 2h0m2-4h0m1 0h0m0-1h0m0-1h0m17 7h0m4-6h0m4 1h0m8-2h0m1 2h0m6 3h0m2-4h0m3 0h0m1 0h0m11 3h0m1-2h0m11-2h0m1 3h0m4-1h0m2 4h0m3-1h0m5 2h0m0-5h0m2 1h0m5 4h0m3-6h0m3 3h0m2 0h0m1-1h0m5 1h0m0-4h0m5 5h0m2-1h0m0 2h0m1-4h0m5 1h0m4-3h0m1 0h0m3 6h0m3 0h0m3-2h0m6-3h0m1 2h0m0-2h0m4 5h0m2 1h0m3-7h0m0 7h0m2-6h0m8 5h0m4-3h0m1-1h0m8 4h0m3-5h0m2 1h0m6 5h0m0-1h0m6 1h0m2-1h0m4-4h0m3 3h0m2 0h0m4 1h0m3-6h0m0 4h0m4-1h0m8 2h0m7-1h0m3-4h0m1 1h0m4 1h0m1 2h0m1 2h0m8-4h0m3 1h0m6-3h0m0 4h0m4 2h0m4-2h0m5 1h0m6-5h0m10 1h0m1 3h0m6 3h0m9-1h0m0-6h0m0 7h0m2-2h0m6 0h0m1 1h0m-547 5h0m4 1h0m1-3h0m2 4h0m1-5h0m1 2h0m2-1h0m12 3h0m1-2h0m1 4h0m3-6h0m7 1h0m5-1h0m1 0h0m0 0h0m3 0h0m3 5h0m10-2h0m1-2h0m6 5h0m5-4h0m0 5h0m4-5h0m1-2h0m4 3h0m9-3h0m3 3h0m9 1h0m2-1h0m3-1h0m4-2h0m1 2h0m2 1h0m4 1h0m2-3h0m12 4h0m1-4h0m2 4h0m0 0h0m4-5h0m4 5h0m7-1h0m3-2h0m2 1h0m1 1h0m4 1h0m8-5h0m2 3h0m3-2h0m1 6h0m10 0h0m1-7h0m3 5h0m1-5h0m8 5h0m0 0h0m1-2h0m3 4h0m2-2h0m3-2h0m7 1h0m1-3h0m4 5h0m4-5h0m1 6h0m3-4h0m2-3h0m2 1h0m0 5h0m3-1h0m7-5h0m4 3h0m0 1h0m5 1h0m2-2h0m1 0h0m4 1h0m3-2h0m4 5h0m12-2h0m5 0h0m1 1h0m1 1h0m1-4h0m8-1h0m11 3h0m7-5h0m5 7h0m2-6h0m6 1h0m2 4h0m16-5h0m4 1h0m0-2h0m3 7h0m6-7h0m0 1h0m2 4h0m1-5h0m0 6h0m7-2h0m4 0h0m6-1h0m3 2h0m1-3h0m2 1h0m2 2h0m16 0h0m14 0h0m5-3h0m0 1h0m2-1h0m6-2h0m2 4h0m1-4h0m1 7h0m5-5h0m9 4h0m3 1h0m6-7h0m1 0h0m1 4h0m8-2h0m3 4h0m2 0h0m5-2h0m3 0h0m1-4h0m0 6h0m2-2h0m6 0h0m4-4h0m4 0h0m19 2h0m2 2h0m3-2h0m1-1h0m1 5h0m6-6h0m4 4h0m4 2h0m3-3h0m5 0h0m1-1h0m1-2h0m8 2h0m6-1h0m-553 7h0m7 4h0m9-2h0m5 0h0m6 1h0m8-3h0m3 6h0m8-2h0m3-1h0m4 2h0m2 0h0m11-2h0m2-1h0m1 2h0m2 3h0m1-6h0m5 2h0m1 3h0m2 0h0m4 0h0m11-1h0m1 1h0m2-1h0m1-3h0m1 1h0m1 0h0m4 1h0m1 1h0m0-5h0m5 7h0m1-6h0m3 4h0m4 1h0m6-5h0m1 2h0m3-2h0m0 4h0m9-3h0m2 5h0m1-2h0m1-3h0m0 1h0m15 4h0m1-7h0m8 6h0m8-2h0m1-3h0m4-1h0m8 6h0m2 0h0m4 1h0m6-2h0m21-5h0m11 7h0m6-7h0m11 5h0m2-3h0m4 0h0m6 4h0m3-4h0m2-2h0m1 2h0m0 3h0m1-3h0m2 4h0m6-6h0m2 2h0m11-2h0m0 5h0m6 0h0m1-3h0m2-1h0m0 6h0m7-1h0m4-4h0m0 3h0m0-2h0m0 0h0m20 2h0m10-1h0m28-2h0m2 3h0m5-4h0m2 3h0m9-4h0m1 4h0m10 2h0m0-4h0m1-2h0m3 2h0m3 1h0m4 2h0m3 0h0m2-3h0m2-2h0m0 5h0m0 2h0m2-4h0m6 3h0m9-4h0m2-2h0m2 2h0m0-1h0m15 0h0m14 4h0m4 1h0m2 0h0m4-6h0m3 5h0m1 0h0m1 2h0m3-5h0m4 2h0m2-1h0m3 4h0m6 0h0m11-3h0m2 0h0m3-4h0m2 4h0m1 0h0m2 0h0m4 1h0m1 1h0m1 0h0m4 1h0m14-6h0m5 0h0m6-1h0m1 5h0m4-5h0m2 6h0m-558 9h0m2-6h0m0 0h0m2 1h0m0 1h0m3 4h0m1-3h0m5 2h0m3-1h0m8-3h0m21 5h0m13-5h0m2-2h0m18 4h0m2-3h0m2 2h0m1 0h0m0-2h0m1 4h0m4-5h0m3 1h0m3 2h0m10 3h0m4-1h0m10-1h0m0 1h0m0 0h0m5 1h0m2-2h0m4-3h0m2 0h0m2 3h0m9 1h0m5-3h0m21 2h0m1-2h0m3-1h0m13-1h0m5 7h0m0-4h0m1-1h0m9 2h0m11 3h0m3-6h0m5 2h0m4 0h0m0 1h0m5 0h0m1 3h0m2-2h0m14-3h0m13-2h0m2 0h0m1 6h0m4 0h0m2-3h0m1-1h0m1 2h0m0 1h0m6-1h0m7 1h0m11-1h0m2-3h0m14-1h0m3 5h0m1-2h0m1 2h0m0 2h0m6-2h0m4 0h0m2-4h0m1-1h0m16 7h0m4-6h0m0 0h0m3 6h0m8-3h0m5 0h0m2-1h0m4 3h0m1-4h0m8 4h0m0-6h0m4 2h0m3 3h0m3 0h0m10-3h0m13-2h0m0 5h0m11 2h0m4-4h0m1-1h0m1 1h0m3-2h0m7 2h0m0-2h0m5 1h0m4-1h0m1 5h0m1-6h0m1 3h0m8 1h0m3 1h0m11-5h0m9 7h0m1 0h0m3-3h0m2 1h0m2-4h0m4 5h0m5 0h0m4 1h0m2-7h0m10 5h0m14-5h0m13 5h0m8-2h0m-549 9h0m4-3h0m2 3h0m4-1h0m1 1h0m1 2h0m1-1h0m2-1h0m0 3h0m2-6h0m3 4h0m1 2h0m7-2h0m1-5h0m1 5h0m18-3h0m2 5h0m4-5h0m2 5h0m8-7h0m0 3h0m0 0h0m1 2h0m13-3h0m2 5h0m18-5h0m4 5h0m5-5h0m4 2h0m2-1h0m2 4h0m10-4h0m0 3h0m2-2h0m15 2h0m5-2h0m10 3h0m7-4h0m4-3h0m11 3h0m8-2h0m2 4h0m5-2h0m5 3h0m2-5h0m2 6h0m2-4h0m11-1h0m1 5h0m13 0h0m12-2h0m1-3h0m0 0h0m14 2h0m1-3h0m2-1h0m5 7h0m7-5h0m1 1h0m2 1h0m0-1h0m1 1h0m4 2h0m0 1h0m0-1h0m1-1h0m0 0h0m7-5h0m8 3h0m16-2h0m0 1h0m2 5h0m12-5h0m2 1h0m0 2h0m1-3h0m2 4h0m8 0h0m2 1h0m1-1h0m6 0h0m6-3h0m4-1h0m7 2h0m13 0h0m6-4h0m0 5h0m8 1h0m0 0h0m1-2h0m0 1h0m32 2h0m4-3h0m19 2h0m1-4h0m3 4h0m0 1h0m12-2h0m3 2h0m1-7h0m6 7h0m0-5h0m6 3h0m9-3h0m8 3h0m0-2h0m3 4h0m14-5h0m1 5h0m4 0h0m0-6h0m15-1h0m25 3h0m2 0h0m-556 8h0m2 3h0m9-5h0m0 6h0m2-1h0m0-3h0m5-2h0m0 4h0m2-4h0m1 3h0m2-2h0m7 4h0m0-4h0m7-2h0m1 3h0m2-3h0m1 2h0m11 1h0m2 4h0m11-7h0m8 4h0m1 3h0m2-3h0m2-2h0m0 0h0m1 3h0m4-4h0m13 5h0m2-3h0m2 0h0m4 1h0m3 0h0m4 0h0m3-2h0m2 5h0m1-7h0m9 7h0m3-6h0m2 6h0m1 0h0m7-1h0m4-2h0m1-4h0m7 3h0m10 4h0m3-7h0m3 3h0m4 4h0m0-6h0m10 3h0m4-1h0m2-2h0m2 2h0m0 2h0m1 2h0m12-4h0m17-3h0m3 4h0m2 0h0m2 1h0m4-2h0m6 3h0m1-5h0m4 4h0m0-3h0m2 0h0m6-1h0m3-1h0m0 1h0m4 5h0m1-2h0m8-4h0m1 5h0m4-2h0m12 4h0m6-5h0m3-1h0m2 3h0m9-4h0m3 4h0m4 3h0m2-4h0m9 3h0m1-6h0m5 6h0m10-4h0m3 0h0m2 4h0m3-6h0m3 7h0m2 0h0m1-7h0m1 1h0m2-1h0m6 6h0m4-6h0m9 1h0m1 6h0m8-1h0m0-5h0m5 6h0m1-4h0m0 4h0m18-2h0m1-1h0m3 3h0m7-6h0m1 3h0m0-2h0m2 0h0m1-2h0m1 1h0m5 4h0m2-5h0m1 2h0m0-2h0m5 4h0m2-2h0m4 3h0m12-2h0m4 2h0m1-2h0m10 1h0m3 3h0m5-7h0m3 7h0m2-4h0m7 0h0m10 3h0m17-2h0m6 3h0m0-2h0m2-1h0m1-4h0m0 4h0m4-1h0m3 4h0m0-7h0m5 0h0m4 7h0m5-7h0m0 3h0m2-3h0m4 7h0m0-5h0m7 2h0m-560 9h0m0-2h0m4-3h0m1 0h0m0 0h0m0 1h0m0 6h0m2 0h0m2-1h0m5-2h0m1-3h0m2 6h0m12-3h0m0 1h0m12 0h0m7-2h0m7-3h0m1 6h0m2-6h0m14 1h0m9 3h0m2 2h0m1-3h0m1-1h0m3 2h0m3 1h0m6-4h0m9 3h0m10 0h0m2-1h0m3-3h0m12 4h0m2-1h0m1-3h0m5 4h0m2-1h0m14 4h0m1-7h0m1 4h0m21 3h0m12-2h0m2-5h0m8 5h0m1-5h0m2 1h0m2 1h0m4-2h0m2 3h0m4-2h0m1 4h0m9 0h0m3-3h0m2-1h0m2 4h0m6-2h0m7 4h0m1-1h0m5 1h0m4-1h0m3-1h0m3-5h0m5 5h0m2 1h0m8-5h0m11 4h0m0-1h0m3 1h0m1-1h0m1-1h0m0 1h0m2-3h0m2-1h0m1 5h0m0 2h0m1-2h0m9-4h0m6 0h0m3 0h0m4 5h0m2-4h0m3-1h0m6-1h0m12 3h0m7 0h0m4 1h0m4 2h0m0-6h0m5 5h0m6 2h0m9-3h0m2-1h0m2 3h0m7-2h0m4-4h0m1 5h0m2-3h0m0 5h0m4 0h0m4-1h0m6-3h0m1-3h0m1 0h0m8 1h0m10 3h0m2 1h0m2 0h0m7 1h0m2-2h0m16 1h0m5-4h0m11 4h0m11 2h0m1 0h0m3-7h0m0 1h0m2 0h0m0 5h0m1-2h0m1-2h0m4-2h0m1 4h0m20-3h0m4 2h0m11-1h0m0 4h0m14-3h0m7 0h0m0-3h0m0 1h0m-559 13h0m1-2h0m10-1h0m1-3h0m1 1h0m9 4h0m3-1h0m1-3h0m3 0h0m6 4h0m1-4h0m6 0h0m0-1h0m0 4h0m5-2h0m2-1h0m2 3h0m3-4h0m3 5h0m3 0h0m9 2h0m1-4h0m1 1h0m0 2h0m5-4h0m5 3h0m1 1h0m3-3h0m4 3h0m1 1h0m1-3h0m1-3h0m3 3h0m4 1h0m14-5h0m11 4h0m3-3h0m0 5h0m1-2h0m6 1h0m1-3h0m9 3h0m5 1h0m14-1h0m0 2h0m8-6h0m2 2h0m5-1h0m2 0h0m6 5h0m8-3h0m8 3h0m8-1h0m11-3h0m7 1h0m5 2h0m4 0h0m9 1h0m3-2h0m5 1h0m0-5h0m8 5h0m14-4h0m1 4h0m0-6h0m3 5h0m3-1h0m8 0h0m3-4h0m11 2h0m3 5h0m13-4h0m2-3h0m2 7h0m6-3h0m2 2h0m3-6h0m14 4h0m2 2h0m3 0h0m5-6h0m1 5h0m7-1h0m1 3h0m3-4h0m3 0h0m1 1h0m1 3h0m1-3h0m10 0h0m3-2h0m1 0h0m1-2h0m2 5h0m8-5h0m4 4h0m3 3h0m3-3h0m4-2h0m9 5h0m4-3h0m7-2h0m4 1h0m3-2h0m0 5h0m4-3h0m3-2h0m1 0h0m18 6h0m3-6h0m1 5h0m11-5h0m0 3h0m1 1h0m1-2h0m1 3h0m1-6h0m9 7h0m6-3h0m0 2h0m3-2h0m1 1h0m0-4h0m1 1h0m4 4h0m1-5h0m1-1h0m0 6h0m2-1h0m1 2h0m3-5h0m6 5h0m0-3h0m1 0h0m0 3h0m2-4h0m3 2h0m0-1h0m2 2h0m3-5h0m2 5h0m2 0h0m13-3h0m1-1h0m3 2h0m-552 9h0m15-1h0m2 2h0m7-5h0m3-1h0m5 1h0m4 1h0m6 5h0m0-4h0m0-3h0m8 7h0m4-7h0m4 0h0m4 4h0m15 1h0m5 2h0m3 0h0m2 0h0m2-6h0m3 5h0m3-4h0m4 3h0m5-1h0m3-2h0m0 4h0m4-3h0m11 2h0m4 2h0m7-7h0m4 7h0m2-1h0m1-6h0m3 4h0m10 1h0m1 1h0m2-3h0m7-2h0m4 6h0m11-6h0m0-1h0m5 5h0m1 0h0m2 1h0m0 0h0m3-5h0m9 0h0m4 1h0m0-1h0m22 0h0m0 2h0m3 1h0m4 1h0m6-2h0m4 0h0m3-3h0m9 0h0m7 5h0m12-1h0m7 3h0m3-4h0m12 1h0m2-2h0m12 0h0m5 3h0m0-1h0m6 1h0m5-3h0m4 3h0m9-2h0m2-1h0m1 1h0m0 1h0m11 0h0m6-2h0m3 4h0m0 1h0m21-3h0m3-3h0m24 5h0m1-3h0m2-3h0m1 1h0m13 6h0m5-1h0m3-3h0m5 3h0m5 1h0m2-2h0m3 2h0m6-4h0m2 1h0m8 3h0m10-4h0m5-3h0m1 5h0m4-4h0m4 5h0m8-3h0m6-2h0m3 6h0m1-1h0m1 0h0m8 0h0m3-5h0m7 5h0m0-6h0m2 4h0m7-4h0m9 3h0m2 2h0m-552 5h0m8 5h0m1-2h0m9-2h0m3-1h0m7 5h0m0-6h0m14 4h0m5-4h0m2-1h0m10 1h0m2 5h0m6-3h0m11 3h0m2-1h0m7-5h0m1 6h0m12-1h0m1 2h0m0-5h0m1-2h0m0 1h0m2-1h0m4 2h0m8 2h0m4-2h0m2-2h0m1 4h0m2-3h0m4 1h0m3-2h0m0 0h0m5 3h0m8 2h0m4-4h0m1 5h0m1 0h0m6-5h0m1 6h0m7-3h0m7 3h0m3-5h0m16 2h0m1 3h0m1 0h0m8-1h0m0 1h0m4-2h0m3 2h0m0-4h0m7 1h0m8 3h0m0-2h0m6-5h0m0 2h0m3 5h0m6-6h0m0 3h0m2 1h0m1-2h0m1 1h0m1-2h0m5-1h0m5 2h0m2 2h0m1 1h0m18-1h0m1-4h0m5 1h0m2 5h0m8-1h0m3-1h0m2 0h0m0-3h0m2 3h0m3-3h0m5 4h0m2-2h0m1 3h0m5-4h0m19 2h0m2-4h0m2 0h0m13-1h0m2 6h0m0-3h0m8 0h0m4 3h0m6-2h0m8 2h0m3-2h0m0-2h0m1 1h0m2 3h0m7-1h0m4 1h0m1-2h0m1 1h0m6 0h0m1-4h0m20 1h0m5 1h0m1-3h0m0 4h0m3-2h0m4 5h0m4-2h0m2-4h0m2 6h0m2-7h0m1 1h0m1 2h0m1 2h0m8-3h0m7-1h0m1 2h0m2-1h0m3 4h0m3-5h0m2-1h0m10 6h0m3 0h0m1-6h0m2 3h0m0 1h0m0 1h0m3-3h0m9-1h0m2 2h0m3 2h0m4-4h0m0 5h0m4-2h0m4-2h0m2 2h0m1-1h0m0 1h0m2-2h0m8-2h0m4 0h0m5 2h0m4 1h0m2 3h0m5-1h0m2 2h0m1-4h0m-553 7h0m3 0h0m1 0h0m3 1h0m23-1h0m6 5h0m4-3h0m2-1h0m6-3h0m1 1h0m0-1h0m5 2h0m4-1h0m1 4h0m4 2h0m0-6h0m6 0h0m8 1h0m1 2h0m2 3h0m3-1h0m1-2h0m12-2h0m9 2h0m3-2h0m3 0h0m1-1h0m6 0h0m4 3h0m13 2h0m11-2h0m2-2h0m7 5h0m0-7h0m0 7h0m2-1h0m3-6h0m7 4h0m0-2h0m2 5h0m5-5h0m1 2h0m10 2h0m4-6h0m2 6h0m1-1h0m2 2h0m7-7h0m0 7h0m0-2h0m3 2h0m1-1h0m4-2h0m2 1h0m0 0h0m5 1h0m0-5h0m4 0h0m1 0h0m6 3h0m9 0h0m4 2h0m2-2h0m34 0h0m0-2h0m1 4h0m3-2h0m3 0h0m4 3h0m5-4h0m3-1h0m8 3h0m1-3h0m5-1h0m3 6h0m1-4h0m2 4h0m5-7h0m6 4h0m1-4h0m5 5h0m5-5h0m0 3h0m0 1h0m0 1h0m2 0h0m9-2h0m10 1h0m2-4h0m2 2h0m2 1h0m4-3h0m4 0h0m2 2h0m5 1h0m6 2h0m6-2h0m7 4h0m0-4h0m5 4h0m4-4h0m10 4h0m0-2h0m1-3h0m1 0h0m1 3h0m3-2h0m6 3h0m3-4h0m2 0h0m0 0h0m5 4h0m2-6h0m11 7h0m6 0h0m1-4h0m1 0h0m3 3h0m0 0h0m7-2h0m2 0h0m4 0h0m7-1h0m4-2h0m5 2h0m1 1h0m11 3h0m7-5h0m3 1h0m10 0h0m0-2h0m4-1h0m5 1h0m6 0h0m5 4h0m1-4h0m0 1h0m0 0h0m-548 12h0m0 1h0m1-2h0m1 0h0m9-4h0m1 1h0m1-2h0m3 0h0m1 7h0m14-2h0m0 2h0m5-7h0m2 3h0m1 3h0m1-5h0m6 1h0m3 1h0m11 4h0m6-2h0m2 0h0m4 1h0m1 1h0m5-2h0m11 2h0m2-6h0m4 0h0m1 4h0m0 2h0m1-4h0m1 4h0m5-7h0m8 5h0m0 2h0m2-7h0m0 3h0m2 1h0m2-1h0m4 4h0m1-4h0m1-2h0m0 0h0m6-1h0m1 4h0m3 0h0m3-2h0m6 0h0m2 4h0m1-3h0m7-2h0m1-1h0m6 1h0m7 2h0m11-1h0m1 3h0m1-2h0m1 1h0m4 3h0m6-1h0m11-3h0m1 2h0m0-4h0m2 0h0m0 6h0m6-4h0m6 4h0m4-2h0m7-2h0m14 1h0m0-1h0m5-1h0m4 1h0m4-3h0m7 7h0m2-5h0m1 5h0m12-2h0m3-1h0m2 2h0m4-2h0m3 2h0m1-1h0m3-4h0m5 1h0m1 0h0m3 3h0m7 0h0m3-5h0m0 0h0m3 0h0m7 1h0m2 5h0m9-3h0m2 3h0m13-3h0m4 4h0m0-7h0m4 0h0m0 1h0m3 1h0m3 4h0m6-2h0m1-2h0m1 5h0m10 0h0m5-4h0m2 3h0m3-6h0m5 0h0m0 1h0m2 6h0m5-1h0m2-2h0m2-3h0m0 1h0m8-1h0m3 3h0m4-1h0m5 0h0m9-2h0m5 0h0m10-1h0m3 3h0m4 4h0m5-3h0m0-4h0m1 5h0m1-3h0m4 4h0m2 0h0m2-1h0m9 0h0m0-1h0m2-2h0m1-1h0m0 5h0m3-1h0m2-2h0m2 0h0m5-1h0m2-1h0m1 4h0m5-2h0m2 1h0m1-1h0m4 1h0m0 1h0m0 2h0m1-6h0m2-1h0m2 7h0m7-4h0m0 0h0m2 3h0m6-4h0m1 3h0m5-5h0m6 6h0m2-5h0m0 1h0m7-1h0m3 6h0m6-1h0m0-3h0m-560 9h0m1-2h0m2 2h0m3 1h0m1-4h0m8 5h0m1-3h0m0 1h0m5 1h0m0 2h0m6-4h0m1 0h0m0 3h0m2-2h0m0-4h0m2 2h0m4-1h0m5-1h0m1 3h0m15 2h0m21-3h0m9 1h0m0 2h0m0-1h0m2 0h0m2 3h0m8-1h0m2-6h0m7 2h0m2 2h0m2-4h0m0 1h0m4 6h0m0-2h0m1 2h0m3-6h0m1 0h0m0 3h0m2 0h0m2 3h0m12-4h0m3 3h0m6-4h0m2 2h0m6 0h0m9-2h0m2-2h0m1 3h0m5 0h0m11 0h0m28-2h0m3 1h0m2 4h0m2-1h0m20 1h0m2-1h0m3-1h0m8-3h0m5 6h0m19-2h0m3-1h0m2-3h0m2 5h0m1-6h0m2 7h0m3-2h0m3-5h0m6 6h0m4-4h0m2 5h0m1-5h0m4 2h0m13-3h0m3 4h0m2-2h0m3 0h0m5 1h0m3 2h0m1-1h0m8 0h0m1 2h0m17-1h0m3 0h0m6-3h0m0-3h0m12 2h0m0-1h0m0 2h0m20 4h0m3-7h0m6 5h0m6 1h0m7-3h0m15-3h0m0 2h0m3-1h0m3 6h0m1-7h0m2 7h0m8 0h0m5-1h0m3-4h0m4 4h0m6 0h0m6-6h0m0 5h0m2-3h0m5 0h0m4 1h0m3-2h0m1 1h0m3 2h0m4 0h0m12-1h0m8-1h0m0 4h0m0-3h0m1 1h0m4-2h0m3 1h0m1-3h0m6 7h0m0 0h0m4-7h0m2 5h0m5-2h0m1 0h0m1-2h0m0 3h0m2 0h0m7-2h0m-562 13h0m2-4h0m7 2h0m1 1h0m12 1h0m0-5h0m1 0h0m8 2h0m2 2h0m0 1h0m1-7h0m0 6h0m4-2h0m4 0h0m2-1h0m5 0h0m1 0h0m2-1h0m1 3h0m1 0h0m10-4h0m3 3h0m1 1h0m4 0h0m3 2h0m11-6h0m7 4h0m3-4h0m2 6h0m0-5h0m5 0h0m6 3h0m1 2h0m5-4h0m2 3h0m8 1h0m2-5h0m3-1h0m0 5h0m19-3h0m4-2h0m3 4h0m1 1h0m0-4h0m2 4h0m0-3h0m6 4h0m3-2h0m1-4h0m3 1h0m3 3h0m1 0h0m3-4h0m6 6h0m10 0h0m11-2h0m1 1h0m3-3h0m5-3h0m1 5h0m0 2h0m1-6h0m8 3h0m1-1h0m2 4h0m7-6h0m3 3h0m2 3h0m4-6h0m4 6h0m0-2h0m6-2h0m2 2h0m1 0h0m12-2h0m8-1h0m3 3h0m1-2h0m13 2h0m1 0h0m0 2h0m4 0h0m0-3h0m1-1h0m1 3h0m3-2h0m9 2h0m5-5h0m0 0h0m3 4h0m0 1h0m1-3h0m9-1h0m7 3h0m1 1h0m3-5h0m2 6h0m4-6h0m1 2h0m0 3h0m0-4h0m1 2h0m4-3h0m0 2h0m4-3h0m9 3h0m2-1h0m3-1h0m1 6h0m5-5h0m1-2h0m2 3h0m8 0h0m5 2h0m2 0h0m3 2h0m10-2h0m2-2h0m2 2h0m1-4h0m2 0h0m4 3h0m8-4h0m0 3h0m8 2h0m9-5h0m3 3h0m2-3h0m2 2h0m0-1h0m1 0h0m2 6h0m1-6h0m20 2h0m2 0h0m1-2h0m1 3h0m3-3h0m4 4h0m14-2h0m8-3h0m4 2h0m1 1h0m4-1h0m6 0h0m4 4h0m2-5h0m4 6h0m9-6h0m1 0h0m0 0h0m2 4h0m7 2h0m0-5h0m-538 7h0m4 6h0m1-2h0m1-3h0m2 1h0m0 1h0m10 3h0m12-2h0m4 0h0m4 2h0m1-4h0m3 0h0m2 1h0m2-2h0m1-2h0m8 3h0m1 3h0m1 1h0m4 0h0m14 0h0m5-7h0m12 7h0m1-6h0m0 6h0m3-7h0m3 2h0m2-1h0m1 3h0m1 0h0m1-1h0m3 3h0m2-1h0m5 2h0m6-1h0m5-6h0m1 5h0m6-2h0m1-1h0m5 2h0m3 2h0m1-5h0m8 6h0m5-5h0m3-2h0m0 0h0m2 5h0m10-1h0m5-3h0m3 0h0m5-1h0m14 1h0m4 6h0m3-5h0m3-1h0m1 4h0m7 0h0m2 1h0m4-2h0m2-4h0m3 1h0m1 5h0m2 0h0m9-2h0m5 1h0m9-1h0m0-1h0m18-1h0m9 2h0m13 3h0m4-7h0m4 4h0m1-2h0m20 3h0m0 2h0m4-1h0m6 1h0m3-2h0m3-2h0m1-2h0m10 4h0m1 0h0m2-3h0m10 2h0m11-3h0m0 6h0m22-5h0m2 4h0m3-5h0m9 4h0m3 1h0m1 1h0m1-6h0m3 1h0m1 1h0m15 4h0m5-1h0m5-6h0m8 5h0m1-5h0m3 3h0m2-3h0m2 1h0m1 1h0m15 4h0m0 0h0m3-4h0m3 3h0m0-5h0m2 6h0m12 1h0m49-3h0m3 3h0m2-7h0m-558 9h0m17 5h0m1-6h0m6 7h0m2 0h0m2-4h0m14 2h0m14 1h0m0-2h0m1-3h0m0 4h0m2 0h0m16-1h0m3-3h0m8 5h0m3-4h0m0 4h0m4-1h0m20 2h0m4-1h0m5-6h0m5 3h0m5-3h0m5 1h0m0 4h0m7 2h0m1-7h0m0 6h0m5-3h0m3 3h0m9-5h0m3 2h0m5 4h0m2-6h0m2 1h0m9 1h0m0-1h0m3 4h0m0-3h0m5 2h0m4-5h0m20 0h0m4 0h0m9 7h0m3-7h0m8 1h0m6 3h0m1-1h0m1 4h0m1 0h0m1-3h0m0 0h0m5-4h0m1 5h0m1-4h0m3 1h0m3 3h0m3-4h0m4 4h0m3-2h0m3 0h0m2 0h0m2-1h0m1-1h0m1 2h0m8-2h0m1 6h0m6-2h0m3-2h0m2 4h0m2-1h0m0-2h0m6-1h0m6-1h0m1 5h0m8-4h0m8 2h0m0 1h0m2 0h0m4-2h0m15-1h0m2 3h0m1 1h0m10-7h0m8 2h0m17-1h0m3 5h0m3-3h0m9 1h0m3 3h0m11-5h0m1 3h0m4 0h0m5-2h0m1-3h0m1 0h0m3 2h0m3 4h0m1-3h0m3 4h0m2-3h0m11-1h0m6 3h0m5 1h0m5-5h0m3 0h0m6-1h0m1 3h0m5-2h0m16 4h0m0-2h0m5-1h0m0 0h0m0-2h0m7 1h0m3 3h0m3-3h0m0 0h0m2 2h0m7 2h0m1-4h0m1 1h0m4 1h0m6 2h0m6-6h0m3 2h0m2-1h0m6-1h0m-559 9h0m2 6h0m27-4h0m14-2h0m1 6h0m0-7h0m2 7h0m1-7h0m7 6h0m6-6h0m0 6h0m1-1h0m3-4h0m1 1h0m2 1h0m3 0h0m7-2h0m15 2h0m2-1h0m0-2h0m10 6h0m1-2h0m3-2h0m7 0h0m3 1h0m0 4h0m4 0h0m1-5h0m9-1h0m6 2h0m2 3h0m5-5h0m1 5h0m0-6h0m13 1h0m0 2h0m1 3h0m4-6h0m0 7h0m5-3h0m3 0h0m6 2h0m0-1h0m1-4h0m12 6h0m4 0h0m0 0h0m0-2h0m1-1h0m6-1h0m1 1h0m0 3h0m3-5h0m2 2h0m6 2h0m2-2h0m7-2h0m12-1h0m12 2h0m1-2h0m0 6h0m2-2h0m5-5h0m1 6h0m0-5h0m14 2h0m1-1h0m11-1h0m1 0h0m3 1h0m5 3h0m2-4h0m1 0h0m6 4h0m5-1h0m1 0h0m6-2h0m0 2h0m0-3h0m0-1h0m3 2h0m2-1h0m4 3h0m11-4h0m0 4h0m3 3h0m3-7h0m1 4h0m6-4h0m3 7h0m13-7h0m7 1h0m10 3h0m0 3h0m7 0h0m1 0h0m3-7h0m3 6h0m2-6h0m15 0h0m4 5h0m3-4h0m3 2h0m3-3h0m12 7h0m0-5h0m25-1h0m2 4h0m7-3h0m1-2h0m6 4h0m4 1h0m5 0h0m2-2h0m7-3h0m0 6h0m7-3h0m7 2h0m5 2h0m1-1h0m8-5h0m5 1h0m9-1h0m2 0h0m0 5h0m5-5h0m6 3h0m0-2h0m7 1h0m0-3h0m3 3h0m-562 5h0m2 0h0m4 0h0m7 7h0m0-2h0m2-2h0m3 2h0m3-3h0m1 4h0m11-4h0m4 2h0m6 1h0m8-3h0m9 3h0m13-3h0m2-1h0m3 2h0m7 1h0m7-2h0m6-1h0m8 2h0m1 2h0m8-2h0m2-3h0m13 2h0m0 4h0m1-3h0m11-3h0m1 7h0m1-2h0m4 0h0m12-5h0m4 4h0m0 1h0m0-1h0m5-4h0m5 6h0m3-4h0m0 4h0m2-4h0m8 4h0m1-4h0m5 3h0m1-1h0m1 0h0m3 2h0m1 0h0m12 1h0m1 0h0m3-4h0m4-2h0m1 0h0m0 4h0m3 2h0m3-3h0m3-1h0m6-2h0m0 3h0m2 2h0m0-2h0m8-3h0m10 3h0m6 0h0m3 3h0m1-2h0m5-2h0m2 4h0m2-3h0m0-4h0m6 2h0m3 4h0m5-5h0m5 3h0m5-2h0m1-2h0m6 0h0m5 7h0m7-1h0m1-1h0m13-2h0m6 4h0m4-4h0m0 0h0m0-3h0m9 0h0m1 0h0m1 7h0m5-6h0m0 0h0m1 6h0m2 0h0m8-1h0m6 1h0m2-3h0m3-2h0m9 4h0m11-2h0m0-4h0m16 5h0m0 0h0m7-2h0m2 1h0m5 2h0m5-6h0m3 0h0m5 0h0m3 0h0m13 5h0m9-1h0m6-2h0m10 2h0m0 2h0m0 0h0m1 0h0m0 1h0m4-1h0m1-4h0m3-1h0m2 3h0m0-1h0m3 2h0m9-1h0m3 3h0m7-4h0m1 1h0m0 2h0m3-5h0m2 2h0m1 1h0m0-3h0m4 2h0m9 2h0m0-1h0m4-1h0m9 0h0m2 0h0m6 3h0m-556 5h0m3-3h0m2 0h0m12 2h0m0 1h0m4 2h0m0-2h0m8 3h0m3-1h0m10 1h0m4-1h0m5-1h0m1-3h0m10 2h0m14 2h0m21-1h0m18-3h0m1 1h0m1 2h0m8 3h0m2-4h0m2-2h0m2 6h0m4-1h0m1-4h0m2 5h0m5-4h0m2 3h0m4-6h0m5 1h0m5 5h0m4-5h0m1 5h0m0-5h0m9 5h0m1-2h0m3 2h0m3-5h0m11-1h0m2 7h0m12-5h0m1 1h0m5 2h0m12-4h0m5 4h0m2-2h0m8 4h0m6-5h0m1 0h0m1 4h0m3 0h0m1 1h0m6 0h0m3-2h0m15-2h0m3-1h0m0 3h0m2-2h0m6-3h0m1 4h0m0-1h0m9-3h0m10 7h0m2-2h0m2 2h0m1-1h0m8-1h0m10-5h0m1 5h0m8-1h0m1 0h0m0-1h0m1 0h0m5-1h0m7-1h0m1 1h0m19 2h0m2 1h0m4-1h0m0 1h0m6-2h0m3 4h0m1-4h0m8-2h0m3 6h0m1-6h0m4 2h0m5-1h0m4 4h0m4-4h0m2-2h0m9 6h0m1-6h0m4 0h0m4 2h0m1 1h0m1 0h0m2 3h0m3-4h0m7-1h0m9 6h0m1-6h0m1 3h0m2 0h0m2-2h0m1 5h0m1-5h0m5 5h0m2-7h0m8 6h0m5 0h0m5 0h0m3-2h0m6-4h0m2 5h0m4 1h0m1-3h0m7-2h0m6 0h0m0 6h0m21-7h0m2 3h0m2 0h0m-545 7h0m11 2h0m2 0h0m4 2h0m2 0h0m6-3h0m0 2h0m9-4h0m3-1h0m3 3h0m1 1h0m7 2h0m5-4h0m0 2h0m3 3h0m1 0h0m3-6h0m0 3h0m0-4h0m5 5h0m1-3h0m0 3h0m2-4h0m3 5h0m11-5h0m3 4h0m4-3h0m8 3h0m5-3h0m0 5h0m4-6h0m1 4h0m1-4h0m8 4h0m6-1h0m1-1h0m1-2h0m1 5h0m1-1h0m0-2h0m13-3h0m7 0h0m10 5h0m1-4h0m2 3h0m1 0h0m2 2h0m0-4h0m5 3h0m4 1h0m0-6h0m15 3h0m6 0h0m5-3h0m3 4h0m12-2h0m3 2h0m0-2h0m1 1h0m15-3h0m1 6h0m7-1h0m2 0h0m6-2h0m7-2h0m3 0h0m6 6h0m2-5h0m4-1h0m7 0h0m1 0h0m1-1h0m2 2h0m1 3h0m4-5h0m5 5h0m0-1h0m1 3h0m6-6h0m3 1h0m21 4h0m12-4h0m2 4h0m8 0h0m11-6h0m6 0h0m6 5h0m0-4h0m2-1h0m2 0h0m3 1h0m7 2h0m4-3h0m3 5h0m4-1h0m0 1h0m2 2h0m0-6h0m7 4h0m2-1h0m5-2h0m0 0h0m1 4h0m4-2h0m0 3h0m3-7h0m4 2h0m13 0h0m4 5h0m2-6h0m6 0h0m10-1h0m2 5h0m6 1h0m1-4h0m2 4h0m0 0h0m8 1h0m5-6h0m2 2h0m3-1h0m14 3h0m2 2h0m3-2h0m5 2h0m6-2h0m11-1h0m1-3h0m1 1h0m0-2h0m15 1h0m8 6h0m0-2h0m3-1h0m4-4h0m3 3h0m1-1h0" style="stroke-width:6.4"/>
<path fill="none" stroke="#1c0264" stroke-width="1.6" stroke-linecap="round" transform="scale(.25)" d="M2013 87h0m258-1h0m-148 5h0m185 22h0m-62 11h0m-217 9h0m-163 3h0m281 1h0m86 1h0m-170 27h0m-22 4h0m81 1h0m-106 20h0m-110 8h0m154-6h0m-143 23h0m333-1h0m41 1h0m-448 2h0m495 3h0m-468 14h0m440-2h0m-202 16h0m238 2h0m-413 6h0m-74 20h0m34 27h0m270 11h0m96 6h0m-144 12h0m67 9h0m-202 7h0m-45 12h0m362 7h0m32 2h0m-440 34h0m436 3h0m-167 4h0m-136 10h0m319 1h0m-502 10h0m195 1h0m293 1h0m-442 8h0m386 1h0m-5 9h0m-418 13h0m201 7h0m-219 8h0m43-1h0m206-3h0m234 18h0m-344 3h0m108 15h0m27-6h0m101 3h0m-396 6h0m407 2h0m64 4h0m-83 18h0m-199 9h0m-11 6h0m331 5h0m-508 11h0m158 5h0m24-1h0m225 25h0m113 10h0m-308 8h0m197 5h0m19 6h0" style="stroke-width:6.4"/>
<circle cx="522.1" cy="86.9" r="1.6" fill="#000"/>
<rect x="447.50" y="14.1" width="145.70" height="147.1" fill="none" stroke="#a8a8a8" stroke-width="1"/>
<path fill="none" stroke="#888" stroke-width="0.8" d="M447.6 154.3h1.4M593.2 154.3h-1.4M447.6 146.9h2.5M593.2 146.9h-2.5M447.6 139.5h1.4M593.2 139.5h-1.4M447.6 132.1h1.4M593.2 132.1h-1.4M447.6 124.7h1.4M593.2 124.7h-1.4M447.6 117.3h2.5M593.2 117.3h-2.5M447.6 109.8h1.4M593.2 109.8h-1.4M447.6 102.4h1.4M593.2 102.4h-1.4M447.6 95.0h1.4M593.2 95.0h-1.4M447.6 87.6h2.5M593.2 87.6h-2.5M447.6 80.2h1.4M593.2 80.2h-1.4M447.6 72.8h1.4M593.2 72.8h-1.4M447.6 65.4h1.4M593.2 65.4h-1.4M447.6 57.9h2.5M593.2 57.9h-2.5M447.6 50.5h1.4M593.2 50.5h-1.4M447.6 43.1h1.4M593.2 43.1h-1.4M447.6 35.7h1.4M593.2 35.7h-1.4M447.6 28.3h2.5M593.2 28.3h-2.5M447.6 20.9h1.4M593.2 20.9h-1.4M452.9 161.2v-1.3M452.9 14.1v1.3M460.0 161.2v-1.3M460.0 14.1v1.3M467.0 161.2v-1.3M467.0 14.1v1.3M474.1 161.2v-1.3M474.1 14.1v1.3M481.2 161.2v-1.3M481.2 14.1v1.3M488.3 161.2v-1.3M488.3 14.1v1.3M495.3 161.2v-1.3M495.3 14.1v1.3M502.4 161.2v-1.3M502.4 14.1v1.3M509.5 161.2v-1.3M509.5 14.1v1.3M516.5 161.2v-1.3M516.5 14.1v1.3M523.6 161.2v-1.3M523.6 14.1v1.3M530.7 161.2v-1.3M530.7 14.1v1.3M537.7 161.2v-1.3M537.7 14.1v1.3M544.8 161.2v-1.3M544.8 14.1v1.3M551.9 161.2v-1.3M551.9 14.1v1.3M559.0 161.2v-1.3M559.0 14.1v1.3M566.0 161.2v-1.3M566.0 14.1v1.3M573.1 161.2v-1.3M573.1 14.1v1.3M580.2 161.2v-1.3M580.2 14.1v1.3M587.2 161.2v-1.3M587.2 14.1v1.3M449.5 161.2v-2.5M449.5 14.1v2.5M520.2 161.2v-2.5M520.2 14.1v2.5M590.9 161.2v-2.5M590.9 14.1v2.5"/>
<text x="444.9" y="32.6" text-anchor="end" class="t10">4</text>
<text x="444.9" y="61.5" text-anchor="end" class="t10">2</text>
<text x="444.9" y="91.5" text-anchor="end" class="t10">0</text>
<text x="444.9" y="121.3" text-anchor="end" class="t10">−2</text>
<text x="444.9" y="151.4" text-anchor="end" class="t10">−4</text>
<path d="M443.0 170.6h6.6" stroke="#000" stroke-width="0.9"/>
<text x="450.6" y="173.6" class="t125"><tspan class="gi">π</tspan></text>
<text x="520.3" y="173.2" text-anchor="middle" class="t10">0</text>
<text x="587.7" y="173.6" class="t125"><tspan class="gi">π</tspan></text>
<text x="500.8" y="189.7" class="t11" textLength="38" lengthAdjust="spacingAndGlyphs">Δ<tspan class="gi">θ</tspan>(t=0)</text>
<text transform="translate(427.0,134) rotate(-90)" class="t11" textLength="92.6" lengthAdjust="spacingAndGlyphs">Δ<tspan class="gi">ω</tspan>(t=0)/(2<tspan class="gi">π</tspan>) [Hz]</text>
<text x="498.1" y="8.6" class="t11" textLength="41.0" lengthAdjust="spacingAndGlyphs"><tspan class="gi">τ</tspan>=5 sec</text>
<text x="582.0" y="8.6" class="t12" textLength="12.8" lengthAdjust="spacingAndGlyphs">(<tspan font-weight="bold">c</tspan>)</text>
<path d="M157.2 323.5H421.3" stroke="#d4d4d4" stroke-width="1"/>
<path d="M157.3 263.1 160.0 261.1 162.1 264.1 165.1 264.6 167.6 272.7 169.4 322.6 170.5 323.9 171.8 323.6 173.2 323.3 174.5 323.9 175.9 323.4 177.2 323.5 178.6 323.9 179.9 323.3 181.3 323.7 182.6 323.8 184.0 323.3 185.3 323.9 188.3 319.2 192.3 317.2 193.8 306.6 196.8 304.1 199.4 299.1 202.4 298.6 205.4 298.1 207.9 296.6 210.0 289.1 212.0 323.2 213.3 323.3 214.7 323.8 216.0 323.7 217.3 323.3 218.7 323.9 220.0 323.5 221.4 323.4 222.7 323.9 224.1 323.3 225.4 323.6 226.8 323.9 228.1 323.3 230.2 320.6 233.0 319.0 235.2 317.8 239.3 316.3 241.3 310.2 244.3 308.7 246.3 299.7 249.4 297.1 252.3 323.2 253.6 323.4 254.9 323.6 256.3 323.9 257.7 323.3 259.0 323.8 260.4 323.7 261.7 323.3 263.1 323.9 264.4 323.5 265.8 323.4 267.1 323.9 268.5 323.3 269.8 323.6 271.8 322.3 275.2 319.3 277.7 318.1 280.2 316.8 282.0 316.0 284.0 310.5 285.7 214.1 289.2 214.1 291.6 318.1 293.5 323.8 294.9 323.3 296.2 323.9 297.6 323.6 298.9 323.3 300.3 323.9 301.6 323.4 303.0 323.5 304.3 323.9 305.7 323.3 307.0 323.7 308.4 323.8 309.7 323.3 311.1 323.9 312.4 323.5 313.8 323.4 315.1 323.9 316.5 323.4 317.8 323.6 320.2 319.3 323.7 317.3 326.2 315.3 328.7 309.7 331.4 244.6 333.8 319.3 335.5 323.3 336.9 323.9 338.2 323.6 339.6 323.3 340.9 323.9 342.3 323.4 343.6 323.5 345.0 323.9 346.3 323.3 347.7 323.7 349.0 323.8 350.4 323.3 351.7 323.9 353.1 323.6 354.4 323.4 355.8 323.9 357.1 323.4 358.7 320.5 362.2 319.0 366.0 317.7 368.0 308.6 371.0 297.6 373.6 318.2 375.3 323.5 376.7 323.4 378.0 323.9 379.4 323.3 380.7 323.6 382.1 323.9 383.4 323.3 384.8 323.8 386.1 323.7 387.5 323.3 388.8 323.9 390.2 323.5 391.5 323.4 392.9 323.9 394.2 323.3 395.6 323.6 396.9 323.8 398.3 323.3 399.6 323.8 401.0 323.6 402.3 323.3 404.3 319.2 407.3 317.2 410.4 315.7 413.4 302.1 415.9 322.3 417.3 323.4 418.7 323.9 420.0 323.3 421.4 323.6" fill="none" stroke="#82d26c" stroke-width="1.7" stroke-linejoin="round"/>
<path d="M157.3 263.1h0M160.0 261.1h0M162.1 264.1h0M165.1 264.6h0M167.6 272.7h0M169.4 322.6h0M170.5 323.9h0M171.8 323.6h0M173.2 323.3h0M174.5 323.9h0M175.9 323.4h0M177.2 323.5h0M178.6 323.9h0M179.9 323.3h0M181.3 323.7h0M182.6 323.8h0M184.0 323.3h0M185.3 323.9h0M188.3 319.2h0M192.3 317.2h0M193.8 306.6h0M196.8 304.1h0M199.4 299.1h0M202.4 298.6h0M205.4 298.1h0M207.9 296.6h0M210.0 289.1h0M212.0 323.2h0M213.3 323.3h0M214.7 323.8h0M216.0 323.7h0M217.3 323.3h0M218.7 323.9h0M220.0 323.5h0M221.4 323.4h0M222.7 323.9h0M224.1 323.3h0M225.4 323.6h0M226.8 323.9h0M228.1 323.3h0M230.2 320.6h0M233.0 319.0h0M235.2 317.8h0M239.3 316.3h0M241.3 310.2h0M244.3 308.7h0M246.3 299.7h0M249.4 297.1h0M252.3 323.2h0M253.6 323.4h0M254.9 323.6h0M256.3 323.9h0M257.7 323.3h0M259.0 323.8h0M260.4 323.7h0M261.7 323.3h0M263.1 323.9h0M264.4 323.5h0M265.8 323.4h0M267.1 323.9h0M268.5 323.3h0M269.8 323.6h0M271.8 322.3h0M275.2 319.3h0M277.7 318.1h0M280.2 316.8h0M282.0 316.0h0M284.0 310.5h0M285.7 214.1h0M289.2 214.1h0M291.6 318.1h0M293.5 323.8h0M294.9 323.3h0M296.2 323.9h0M297.6 323.6h0M298.9 323.3h0M300.3 323.9h0M301.6 323.4h0M303.0 323.5h0M304.3 323.9h0M305.7 323.3h0M307.0 323.7h0M308.4 323.8h0M309.7 323.3h0M311.1 323.9h0M312.4 323.5h0M313.8 323.4h0M315.1 323.9h0M316.5 323.4h0M317.8 323.6h0M320.2 319.3h0M323.7 317.3h0M326.2 315.3h0M328.7 309.7h0M331.4 244.6h0M333.8 319.3h0M335.5 323.3h0M336.9 323.9h0M338.2 323.6h0M339.6 323.3h0M340.9 323.9h0M342.3 323.4h0M343.6 323.5h0M345.0 323.9h0M346.3 323.3h0M347.7 323.7h0M349.0 323.8h0M350.4 323.3h0M351.7 323.9h0M353.1 323.6h0M354.4 323.4h0M355.8 323.9h0M357.1 323.4h0M358.7 320.5h0M362.2 319.0h0M366.0 317.7h0M368.0 308.6h0M371.0 297.6h0M373.6 318.2h0M375.3 323.5h0M376.7 323.4h0M378.0 323.9h0M379.4 323.3h0M380.7 323.6h0M382.1 323.9h0M383.4 323.3h0M384.8 323.8h0M386.1 323.7h0M387.5 323.3h0M388.8 323.9h0M390.2 323.5h0M391.5 323.4h0M392.9 323.9h0M394.2 323.3h0M395.6 323.6h0M396.9 323.8h0M398.3 323.3h0M399.6 323.8h0M401.0 323.6h0M402.3 323.3h0M404.3 319.2h0M407.3 317.2h0M410.4 315.7h0M413.4 302.1h0M415.9 322.3h0M417.3 323.4h0M418.7 323.9h0M420.0 323.3h0M421.4 323.6h0" fill="none" stroke="#82d26c" stroke-width="4.6" stroke-linecap="round"/>
<path d="M157.3 343.3C157.6 343.1 158.2 343.1 159.0 342.4C159.8 341.7 161.0 340.6 162.0 339.2C163.0 337.8 164.2 336.0 165.1 334.2C166.0 332.4 166.8 330.5 167.6 328.6C168.4 326.8 169.2 324.8 170.1 323.1C171.0 321.4 171.9 319.8 173.1 318.6C174.3 317.4 176.1 316.3 177.4 316.1C178.8 315.9 180.1 316.7 181.2 317.4C182.3 318.1 183.2 319.2 184.2 320.4C185.2 321.6 186.0 322.8 187.0 324.5C188.0 326.2 189.1 328.5 190.2 330.8C191.2 333.1 192.2 335.8 193.3 338.3C194.4 340.8 195.6 343.8 196.6 345.6C197.6 347.4 198.4 349.2 199.2 349.3C200.0 349.4 200.8 348.1 201.6 346.2C202.4 344.3 203.2 340.0 204.0 337.7C204.8 335.4 205.1 335.1 206.2 332.6C207.3 330.1 209.2 325.2 210.7 322.8C212.2 320.4 213.5 319.4 215.0 318.3C216.5 317.2 218.0 316.3 219.5 316.3C221.0 316.3 222.5 317.2 224.0 318.3C225.5 319.4 227.1 320.7 228.6 322.8C230.1 324.9 231.8 328.2 233.1 331.1C234.3 334.0 235.1 336.9 236.1 340.2C237.1 343.5 238.3 346.7 239.1 350.7C239.9 354.7 240.6 362.0 240.9 364.3C241.2 362.3 242.2 356.2 242.9 352.2C243.6 348.2 244.3 344.0 245.2 340.2C246.1 336.4 247.1 332.6 248.2 329.6C249.3 326.6 250.7 324.0 252.0 322.1C253.3 320.2 254.7 319.1 256.1 318.3C257.5 317.5 259.1 317.1 260.6 317.1C262.1 317.1 263.4 317.4 265.1 318.3C266.9 319.2 269.1 320.8 271.1 322.8C273.1 324.8 275.6 327.9 277.2 330.3C278.8 332.7 279.9 334.5 280.9 337.1C281.8 339.7 282.6 344.6 282.9 346.1C283.3 344.4 284.4 338.9 285.5 335.6C286.6 332.4 287.8 329.1 289.2 326.6C290.6 324.1 291.9 322.0 293.7 320.5C295.5 319.0 297.8 317.9 299.8 317.5C301.8 317.1 303.8 317.6 305.8 318.3C307.8 319.1 310.3 321.0 311.8 322.0C313.3 323.0 313.7 323.4 315.0 324.5C316.3 325.6 318.0 326.9 319.5 328.6C321.0 330.3 323.2 333.8 324.0 334.8C324.8 333.6 326.8 329.7 328.6 327.3C330.4 324.9 332.1 322.0 334.6 320.5C337.1 319.0 340.6 318.2 343.6 318.3C346.6 318.4 349.8 319.9 352.6 321.3C355.4 322.7 358.1 325.0 360.2 326.6C362.3 328.2 364.4 330.4 365.2 331.1C366.1 330.0 368.9 326.2 370.5 324.5C372.1 322.8 373.5 321.6 375.1 320.7C376.7 319.8 378.4 319.6 380.1 319.4C381.8 319.1 383.4 319.1 385.2 319.2C387.0 319.3 389.0 319.5 391.2 320.2C393.4 320.9 396.4 322.4 398.3 323.3C400.2 324.2 401.0 324.6 402.3 325.3C403.6 326.1 405.6 327.4 406.3 327.8C407.0 327.3 408.9 325.8 410.4 324.8C411.9 323.8 413.6 322.7 415.4 321.8C417.2 320.9 420.1 320.1 421.0 319.7" fill="none" stroke="#1c0264" stroke-width="2.8" stroke-linejoin="miter" stroke-miterlimit="6" stroke-linecap="round"/>
<rect x="157.2" y="211.7" width="264.1" height="156.6" fill="none" stroke="#a8a8a8" stroke-width="1"/>
<path fill="none" stroke="#888" stroke-width="0.8" d="M157.2 368.3v-3.0M157.2 211.7v3.0M170.4 368.3v-1.6M170.4 211.7v1.6M183.6 368.3v-1.6M183.6 211.7v1.6M196.8 368.3v-1.6M196.8 211.7v1.6M210.0 368.3v-3.0M210.0 211.7v3.0M223.2 368.3v-1.6M223.2 211.7v1.6M236.4 368.3v-1.6M236.4 211.7v1.6M249.6 368.3v-1.6M249.6 211.7v1.6M262.8 368.3v-3.0M262.8 211.7v3.0M276.0 368.3v-1.6M276.0 211.7v1.6M289.2 368.3v-1.6M289.2 211.7v1.6M302.5 368.3v-1.6M302.5 211.7v1.6M315.7 368.3v-3.0M315.7 211.7v3.0M328.9 368.3v-1.6M328.9 211.7v1.6M342.1 368.3v-1.6M342.1 211.7v1.6M355.3 368.3v-1.6M355.3 211.7v1.6M368.5 368.3v-3.0M368.5 211.7v3.0M381.7 368.3v-1.6M381.7 211.7v1.6M394.9 368.3v-1.6M394.9 211.7v1.6M408.1 368.3v-1.6M408.1 211.7v1.6M421.3 368.3v-3.0M421.3 211.7v3.0M157.2 368.2h3.0M421.3 368.2h-3.0M157.2 362.6h1.6M421.3 362.6h-1.6M157.2 357.0h1.6M421.3 357.0h-1.6M157.2 351.4h1.6M421.3 351.4h-1.6M157.2 345.9h3.0M421.3 345.9h-3.0M157.2 340.3h1.6M421.3 340.3h-1.6M157.2 334.7h1.6M421.3 334.7h-1.6M157.2 329.1h1.6M421.3 329.1h-1.6M157.2 323.5h3.0M421.3 323.5h-3.0M157.2 317.9h1.6M421.3 317.9h-1.6M157.2 312.3h1.6M421.3 312.3h-1.6M157.2 306.7h1.6M421.3 306.7h-1.6M157.2 301.1h3.0M421.3 301.1h-3.0M157.2 295.6h1.6M421.3 295.6h-1.6M157.2 290.0h1.6M421.3 290.0h-1.6M157.2 284.4h1.6M421.3 284.4h-1.6M157.2 278.8h3.0M421.3 278.8h-3.0M157.2 273.2h1.6M421.3 273.2h-1.6M157.2 267.6h1.6M421.3 267.6h-1.6M157.2 262.0h1.6M421.3 262.0h-1.6M157.2 256.4h3.0M421.3 256.4h-3.0M157.2 250.8h1.6M421.3 250.8h-1.6M157.2 245.2h1.6M421.3 245.2h-1.6M157.2 239.6h1.6M421.3 239.6h-1.6M157.2 234.1h3.0M421.3 234.1h-3.0M157.2 228.5h1.6M421.3 228.5h-1.6M157.2 222.9h1.6M421.3 222.9h-1.6M157.2 217.3h1.6M421.3 217.3h-1.6M157.2 211.7h3.0M421.3 211.7h-3.0"/>
<text x="155.8" y="216.2" text-anchor="end" class="t12">1.0</text>
<text x="155.8" y="238.6" text-anchor="end" class="t12">0.8</text>
<text x="155.8" y="260.9" text-anchor="end" class="t12">0.6</text>
<text x="155.8" y="283.3" text-anchor="end" class="t12">0.4</text>
<text x="155.8" y="305.6" text-anchor="end" class="t12">0.2</text>
<text x="155.8" y="328.0" text-anchor="end" class="t12">0.0</text>
<text x="155.8" y="350.4" text-anchor="end" class="t12">−0.2</text>
<text x="155.8" y="372.7" text-anchor="end" class="t12">−0.4</text>
<text x="157.2" y="381" text-anchor="middle" class="t12">0</text>
<text x="210.0" y="381" text-anchor="middle" class="t12">2</text>
<text x="262.8" y="381" text-anchor="middle" class="t12">4</text>
<text x="315.7" y="381" text-anchor="middle" class="t12">6</text>
<text x="368.5" y="381" text-anchor="middle" class="t12">8</text>
<text x="421.3" y="381" text-anchor="middle" class="t12">10</text>
<text x="271.5" y="396" class="t12" textLength="35.6" lengthAdjust="spacingAndGlyphs"><tspan class="gi">τ</tspan> [sec]</text>
<text x="400.8" y="226.5" class="t11" textLength="14.4" lengthAdjust="spacingAndGlyphs">(<tspan font-weight="bold">d</tspan>)</text>
<g transform="translate(125.1,344.5) rotate(-90)"><text x="-0.3" y="0" class="t12" font-style="italic" textLength="8.4" lengthAdjust="spacingAndGlyphs">V</text><text x="8.2" y="2.3" class="t8" textLength="20.2" lengthAdjust="spacingAndGlyphs">Basin</text><text x="29.8" y="0" class="t12">,</text><text x="40.2" y="0" class="t12" textLength="13.5" lengthAdjust="spacingAndGlyphs">Re</text><text x="55.8" y="0" class="t12" textLength="13.5" lengthAdjust="spacingAndGlyphs"><tspan font-family="Liberation Serif">[</tspan><tspan class="gi">λ</tspan><tspan font-family="Liberation Serif">]</tspan></text><text x="73.8" y="0" class="t12" textLength="35.7" lengthAdjust="spacingAndGlyphs">[1/sec]</text></g>
<rect x="430.9" y="290.3" width="8.6" height="8.6" fill="#82d26c"/>
<rect x="430.9" y="307.9" width="8.6" height="8.7" fill="#1c0264"/>
<text x="445.4" y="295.8" class="t11">V</text>
<text x="454.3" y="298.8" class="t85" textLength="21.2" lengthAdjust="spacingAndGlyphs">Basin</text>
<text x="445.8" y="313.4" class="t11" textLength="29.4" lengthAdjust="spacingAndGlyphs">Re<tspan font-family="Liberation Serif">[</tspan><tspan class="gi">λ</tspan><tspan font-family="Liberation Serif">]</tspan></text>
</svg></body></html>
